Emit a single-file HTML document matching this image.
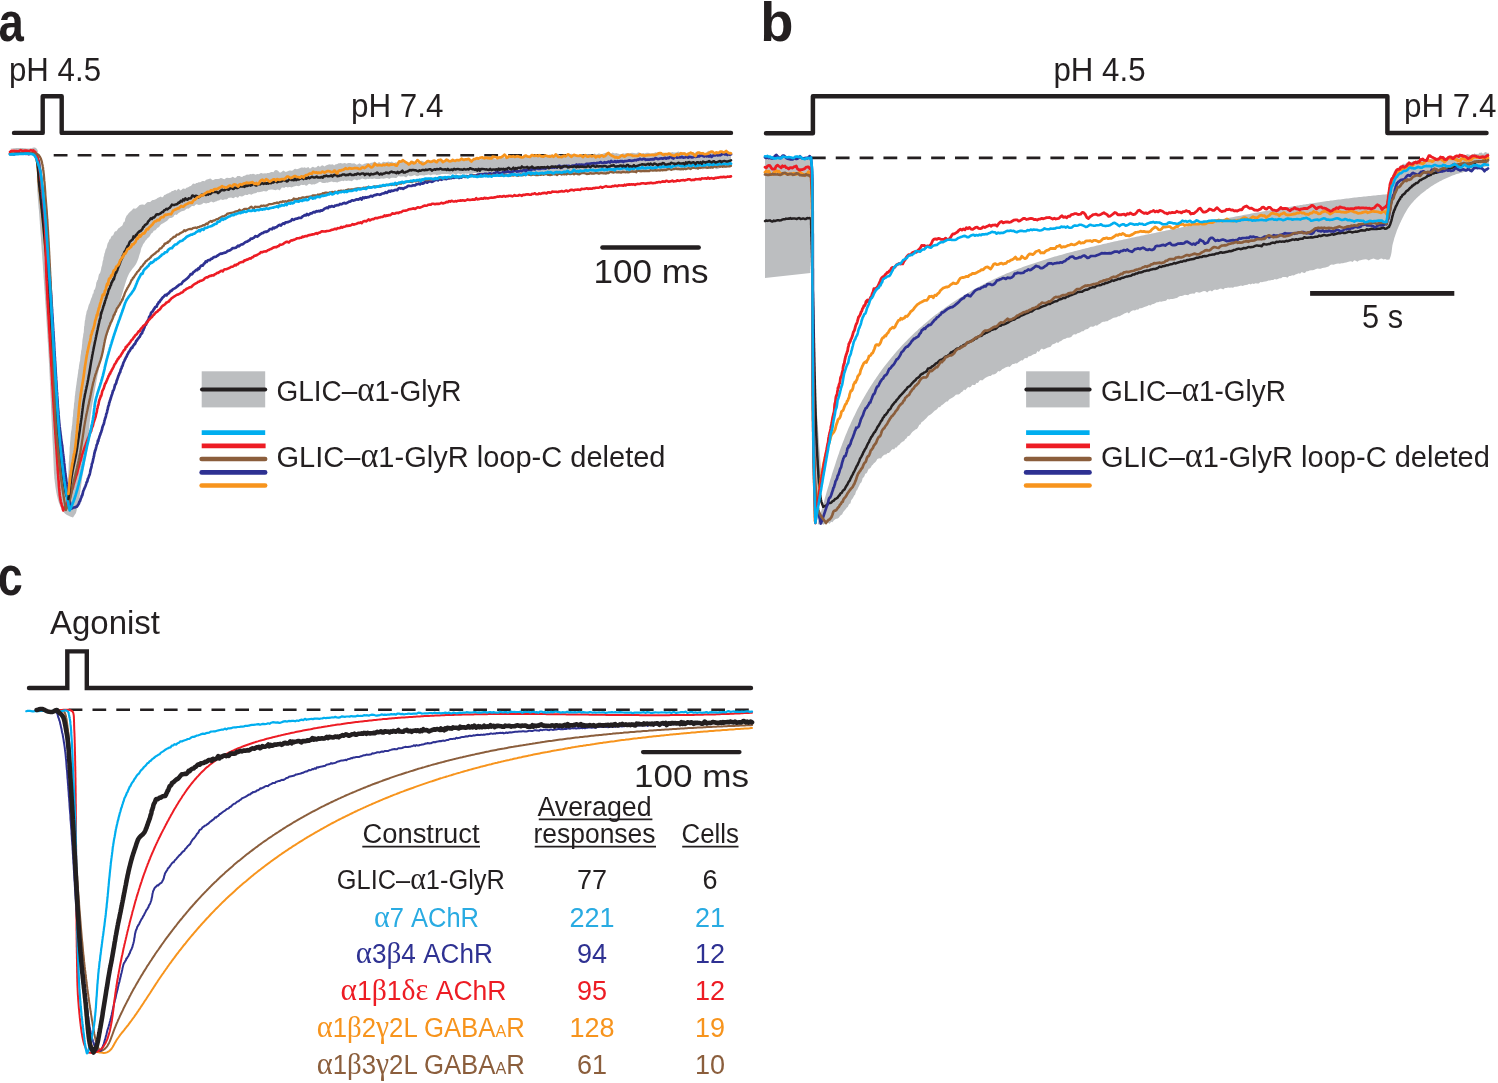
<!DOCTYPE html>
<html><head><meta charset="utf-8"><title>Figure</title>
<style>html,body{margin:0;padding:0;background:#fff;width:1498px;height:1083px;overflow:hidden}
svg{display:block;font-family:"Liberation Sans",sans-serif;will-change:transform}</style></head>
<body><svg width="1498" height="1083" viewBox="0 0 1498 1083">
<rect width="1498" height="1083" fill="#fff"/>
<line x1="53.7" y1="155.2" x2="731" y2="155.2" stroke="#231F20" stroke-width="2.6" stroke-dasharray="13.8 10.12"/>
<polygon points="10.0,148.5 11.2,148.4 12.5,148.4 13.8,148.3 15.0,148.2 16.2,148.1 17.5,148.1 18.8,148.0 20.0,148.0 21.3,148.0 22.6,148.1 23.9,148.2 25.2,148.3 26.5,148.4 27.7,148.5 28.9,148.5 30.0,148.5 31.4,148.2 32.7,147.8 33.9,147.5 35.0,147.5 36.5,148.4 37.5,150.0 37.7,150.8 37.9,151.7 37.9,152.8 37.9,153.9 37.9,155.2 37.8,156.6 37.7,157.9 37.6,159.4 37.4,160.8 37.3,162.2 37.2,163.6 37.2,165.0 37.2,166.1 37.2,167.3 37.1,168.4 37.1,169.5 37.1,170.7 37.0,171.8 37.0,173.0 37.0,174.1 37.0,175.3 36.9,176.5 36.9,177.8 36.9,179.0 36.9,180.3 36.9,181.6 37.0,182.9 37.0,184.3 37.0,185.4 37.1,186.4 37.1,187.5 37.2,188.6 37.2,189.7 37.3,190.8 37.4,192.0 37.5,193.1 37.5,194.3 37.6,195.4 37.7,196.6 37.8,197.8 37.9,199.1 38.0,200.3 38.1,201.5 38.2,202.8 38.3,204.0 38.4,205.3 38.5,206.6 38.6,207.9 38.8,209.2 38.9,210.5 39.0,211.8 39.1,213.2 39.2,214.5 39.3,215.9 39.4,217.2 39.5,218.6 39.6,220.0 39.7,221.0 39.8,222.1 39.8,223.2 39.9,224.3 40.0,225.3 40.1,226.4 40.1,227.5 40.2,228.6 40.3,229.7 40.4,230.9 40.5,232.0 40.5,233.1 40.6,234.3 40.7,235.4 40.8,236.6 40.9,237.8 41.0,238.9 41.0,240.1 41.1,241.3 41.2,242.5 41.3,243.7 41.4,244.9 41.5,246.1 41.5,247.3 41.6,248.5 41.7,249.7 41.8,250.9 41.9,252.2 42.0,253.4 42.1,254.6 42.2,255.9 42.2,257.1 42.3,258.4 42.4,259.6 42.5,260.9 42.6,262.1 42.7,263.4 42.8,264.7 42.9,265.9 42.9,267.2 43.0,268.5 43.1,269.7 43.2,271.0 43.3,272.3 43.4,273.6 43.5,274.9 43.5,276.1 43.6,277.4 43.7,278.7 43.8,280.0 43.9,281.1 43.9,282.3 44.0,283.4 44.1,284.5 44.2,285.7 44.3,286.8 44.3,288.0 44.4,289.1 44.5,290.3 44.6,291.4 44.6,292.6 44.7,293.8 44.8,295.0 44.9,296.1 44.9,297.3 45.0,298.5 45.1,299.7 45.2,300.9 45.3,302.1 45.3,303.2 45.4,304.4 45.5,305.6 45.6,306.8 45.6,308.0 45.7,309.3 45.8,310.5 45.9,311.7 46.0,312.9 46.0,314.1 46.1,315.3 46.2,316.5 46.3,317.8 46.4,319.0 46.4,320.2 46.5,321.4 46.6,322.7 46.7,323.9 46.7,325.1 46.8,326.4 46.9,327.6 47.0,328.8 47.0,330.1 47.1,331.3 47.2,332.6 47.3,333.8 47.4,335.0 47.4,336.3 47.5,337.5 47.6,338.8 47.7,340.0 47.7,341.3 47.8,342.5 47.9,343.8 48.0,345.0 48.0,346.3 48.1,347.5 48.2,348.8 48.2,350.0 48.3,351.3 48.4,352.5 48.5,353.8 48.5,355.0 48.6,356.3 48.7,357.5 48.7,358.8 48.8,360.0 48.9,361.2 48.9,362.3 49.0,363.5 49.1,364.7 49.1,365.9 49.2,367.2 49.2,368.4 49.3,369.6 49.4,370.8 49.4,372.1 49.5,373.3 49.6,374.6 49.6,375.8 49.7,377.1 49.7,378.4 49.8,379.7 49.9,380.9 49.9,382.2 50.0,383.5 50.0,384.8 50.1,386.1 50.2,387.4 50.2,388.7 50.3,390.0 50.3,391.3 50.4,392.6 50.5,393.9 50.5,395.2 50.6,396.5 50.6,397.8 50.7,399.1 50.7,400.4 50.8,401.7 50.9,403.0 50.9,404.3 51.0,405.6 51.0,406.9 51.1,408.2 51.1,409.4 51.2,410.7 51.3,412.0 51.3,413.3 51.4,414.5 51.4,415.8 51.5,417.0 51.5,418.3 51.6,419.5 51.6,420.7 51.7,422.0 51.8,423.2 51.8,424.4 51.9,425.6 51.9,426.8 52.0,428.0 52.0,429.1 52.1,430.3 52.1,431.4 52.2,432.6 52.2,433.7 52.3,434.8 52.3,435.9 52.4,437.0 52.4,438.1 52.5,439.2 52.5,440.2 52.6,441.3 52.6,442.3 52.7,443.3 52.7,444.3 52.8,445.3 52.8,446.3 52.9,447.2 52.9,448.2 53.0,449.1 53.0,450.0 53.1,451.5 53.1,453.0 53.2,454.5 53.3,455.9 53.3,457.3 53.4,458.7 53.4,460.0 53.5,461.3 53.5,462.6 53.6,463.8 53.6,465.1 53.7,466.3 53.7,467.5 53.8,468.7 53.8,469.9 53.9,471.0 53.9,472.1 54.0,473.3 54.1,474.4 54.2,475.5 54.3,476.6 54.3,477.7 54.4,478.8 54.6,479.8 54.7,480.9 54.8,482.0 55.0,483.4 55.2,484.7 55.3,486.1 55.5,487.4 55.7,488.7 55.9,490.0 56.1,491.3 56.3,492.6 56.6,493.8 56.8,495.0 57.1,496.2 57.4,497.3 57.6,498.5 57.9,499.6 58.3,500.7 58.6,501.7 59.0,503.0 59.5,504.2 60.0,505.4 60.5,506.6 61.0,507.7 61.5,508.8 62.1,509.8 62.7,510.8 63.3,511.7 64.0,512.5 64.9,513.4 65.9,514.2 67.0,514.9 68.1,515.5 69.1,516.1 70.0,516.5 71.5,517.1 73.0,517.5 76.0,513.0 76.3,511.8 76.6,510.7 76.8,509.6 77.1,508.4 77.4,507.3 77.7,506.2 77.9,505.0 78.2,503.8 78.5,502.6 78.7,501.3 79.0,500.0 79.2,499.0 79.4,497.9 79.6,496.7 79.7,495.6 79.9,494.3 80.1,493.1 80.3,491.9 80.5,490.6 80.6,489.3 80.8,488.0 81.0,486.7 81.1,485.4 81.3,484.2 81.5,482.9 81.6,481.7 81.8,480.4 82.0,479.3 82.2,478.1 82.3,477.0 82.5,476.0 82.7,474.7 83.0,473.4 83.2,472.2 83.4,471.0 83.6,469.8 83.9,468.7 84.1,467.6 84.3,466.4 84.5,465.3 84.8,464.2 85.0,463.0 85.2,461.8 85.5,460.7 85.7,459.6 85.9,458.5 86.2,457.4 86.4,456.3 86.6,455.1 86.9,453.9 87.1,452.7 87.3,451.4 87.5,450.0 87.6,449.0 87.7,448.0 87.9,447.0 88.0,445.9 88.1,444.8 88.2,443.6 88.3,442.4 88.3,441.2 88.4,440.0 88.5,438.8 88.6,437.5 88.7,436.2 88.8,435.0 88.8,433.7 88.9,432.4 89.0,431.1 89.1,429.8 89.2,428.5 89.3,427.3 89.4,426.0 89.5,424.8 89.6,423.5 89.7,422.3 89.9,421.2 90.0,420.0 90.2,418.8 90.3,417.5 90.5,416.3 90.6,415.1 90.8,413.9 91.0,412.7 91.2,411.5 91.4,410.3 91.6,409.1 91.7,408.0 91.9,406.8 92.1,405.6 92.3,404.5 92.5,403.3 92.7,402.1 93.0,400.9 93.2,399.8 93.4,398.6 93.6,397.4 93.8,396.2 94.0,395.0 94.2,393.8 94.4,392.6 94.6,391.5 94.8,390.3 95.0,389.1 95.2,387.9 95.4,386.8 95.7,385.6 95.9,384.4 96.1,383.2 96.3,382.0 96.5,380.9 96.7,379.7 97.0,378.5 97.2,377.3 97.4,376.1 97.7,374.8 97.9,373.6 98.2,372.4 98.5,371.1 98.7,369.9 99.0,368.6 99.2,367.5 99.5,366.3 99.8,365.2 100.0,364.0 100.3,362.8 100.5,361.6 100.8,360.4 101.1,359.2 101.4,358.0 101.6,356.8 101.9,355.5 102.2,354.3 102.5,353.1 102.8,351.8 103.1,350.6 103.4,349.4 103.7,348.1 104.0,346.9 104.3,345.7 104.6,344.5 105.0,343.3 105.3,342.1 105.6,340.9 105.9,339.8 106.3,338.7 106.6,337.5 106.9,336.4 107.3,335.4 107.6,334.3 108.0,333.0 108.5,331.7 108.9,330.5 109.4,329.2 109.9,328.0 110.4,326.8 110.9,325.6 111.4,324.4 111.9,323.2 112.4,322.0 112.9,320.9 113.4,319.8 113.9,318.7 114.4,317.5 114.8,316.5 115.3,315.4 115.7,314.3 116.1,313.2 116.5,312.2 116.9,310.9 117.4,309.7 117.8,308.5 118.1,307.4 118.5,306.3 118.8,305.1 119.1,304.0 119.5,302.9 119.8,301.7 120.2,300.5 120.6,299.3 121.0,298.0 121.3,296.9 121.7,295.8 122.0,294.7 122.4,293.5 122.7,292.2 123.1,291.0 123.4,289.7 123.8,288.4 124.2,287.1 124.6,285.9 125.0,284.6 125.4,283.3 125.8,282.0 126.2,280.8 126.6,279.6 127.0,278.4 127.4,277.3 127.9,276.2 128.3,275.2 128.8,274.2 129.4,273.0 130.1,271.9 130.8,270.9 131.6,269.9 132.3,269.0 133.0,268.1 133.8,267.2 134.5,266.3 135.2,265.3 135.9,264.2 136.5,263.1 137.0,262.1 137.4,261.0 137.9,259.8 138.3,258.7 138.7,257.5 139.0,256.2 139.4,254.9 139.8,253.7 140.1,253.1 140.5,251.7 140.9,249.8 141.3,248.3 141.7,247.2 142.2,246.6 142.7,245.3 143.2,244.0 143.9,243.3 144.6,242.2 145.4,240.7 146.1,240.0 146.9,239.2 147.7,238.0 148.6,237.4 149.4,236.8 150.3,235.3 151.1,233.8 152.0,233.1 152.8,232.4 153.7,230.8 154.6,230.4 155.4,230.3 156.3,229.3 157.2,228.1 158.1,227.5 159.1,226.9 160.0,225.6 161.0,224.6 162.0,223.8 162.9,223.4 163.9,222.7 164.9,222.2 165.9,221.5 166.9,220.9 167.9,220.0 169.0,218.6 170.1,218.0 171.1,217.9 172.2,217.6 173.3,216.9 174.3,215.2 175.4,214.5 176.4,214.9 177.5,214.2 178.6,212.9 179.6,212.4 180.7,211.8 181.8,211.3 182.8,210.9 183.9,210.7 185.0,210.3 186.1,209.1 187.3,208.6 188.5,208.7 189.7,207.8 190.8,207.0 191.9,206.0 193.0,206.1 194.1,206.3 195.2,204.9 196.4,204.2 197.6,204.5 198.8,205.1 200.0,204.8 201.2,204.4 202.5,203.7 203.7,202.8 205.0,203.2 206.2,203.5 207.5,202.9 208.7,202.9 210.0,202.3 211.1,201.5 212.2,201.9 213.4,202.4 214.5,201.9 215.6,201.6 216.8,201.2 217.9,200.5 219.1,200.4 220.3,199.6 221.4,199.5 222.6,200.1 223.8,199.8 225.0,199.2 226.2,199.6 227.4,198.9 228.6,197.7 229.9,197.7 231.1,197.6 232.4,198.0 233.6,198.3 234.9,197.3 236.0,196.8 237.1,197.8 238.3,197.6 239.4,196.1 240.6,196.2 241.7,196.4 242.9,196.2 244.1,195.4 245.3,194.7 246.5,194.9 247.7,195.0 248.9,194.0 250.1,194.2 251.4,194.7 252.6,194.0 253.8,193.4 255.1,193.3 256.3,192.9 257.5,192.1 258.8,192.2 260.0,191.9 261.2,191.7 262.5,191.4 263.7,191.0 264.9,191.2 266.2,191.6 267.4,191.1 268.6,189.8 269.8,189.7 271.0,189.6 272.2,189.4 273.4,189.7 274.6,190.0 275.8,190.2 277.0,189.5 278.2,189.6 279.4,190.4 280.6,189.2 281.8,187.6 283.0,187.4 284.2,188.0 285.4,187.1 286.6,186.9 287.8,187.5 289.0,187.0 290.2,187.1 291.4,187.5 292.6,187.0 293.8,186.6 295.0,186.3 296.3,185.8 297.5,185.9 298.7,186.2 299.9,185.8 301.1,184.7 302.3,185.0 303.5,185.0 304.7,184.7 305.9,185.7 307.1,185.5 308.3,184.3 309.5,183.7 310.7,184.3 311.9,184.7 313.1,184.3 314.3,184.5 315.5,184.1 316.7,183.6 317.9,183.1 319.1,182.1 320.3,181.7 321.5,182.6 322.7,182.9 323.9,183.0 325.1,182.9 326.3,182.6 327.5,182.8 328.8,182.3 330.0,181.9 331.2,181.5 332.4,181.8 333.7,182.2 334.9,181.9 336.2,182.3 337.5,182.4 338.7,181.8 340.0,181.5 341.1,181.0 342.3,180.8 343.4,181.2 344.6,180.4 345.8,180.7 346.9,181.0 348.1,180.6 349.3,180.7 350.4,180.7 351.6,181.2 352.8,180.5 354.0,179.4 355.1,179.6 356.3,180.3 357.5,180.2 358.7,179.6 359.9,179.8 361.1,179.0 362.3,178.6 363.6,179.0 364.8,179.2 366.0,179.4 367.2,178.8 368.4,178.9 369.7,178.7 370.9,178.7 372.1,178.9 373.4,178.7 374.6,178.6 375.9,179.0 377.1,179.1 378.4,178.9 379.6,179.0 380.9,178.5 382.1,178.4 383.4,178.7 384.6,178.5 385.7,178.2 386.9,177.9 388.0,178.2 389.2,179.0 390.4,178.3 391.6,177.7 392.8,177.7 394.0,177.7 395.2,177.9 396.4,177.9 397.6,176.7 398.8,176.0 400.0,176.6 401.2,176.6 402.4,176.6 403.6,176.3 404.8,176.7 406.1,177.5 407.3,176.2 408.5,175.3 409.8,176.3 411.0,176.3 412.2,176.0 413.4,175.4 414.7,175.1 415.9,175.7 417.1,176.3 418.4,176.0 419.6,175.3 420.8,175.2 422.1,175.3 423.3,175.4 424.5,175.4 425.8,174.9 427.0,174.9 428.2,174.6 429.5,174.7 430.7,175.5 431.9,174.7 433.1,174.4 434.4,174.4 435.6,174.6 436.8,175.2 438.0,174.7 439.2,174.7 440.5,174.6 441.7,174.0 442.9,173.9 444.1,174.0 445.4,174.1 446.6,174.1 447.8,174.0 449.1,174.2 450.3,174.7 451.6,174.3 452.8,173.4 454.1,173.8 455.3,174.7 456.5,174.4 457.8,173.5 459.0,173.6 460.3,174.6 461.5,173.9 462.7,173.5 464.0,174.0 465.2,173.6 466.5,173.8 467.7,173.7 468.9,173.6 470.1,174.5 471.4,174.5 472.6,173.7 473.8,173.1 475.0,172.9 476.2,172.9 477.4,173.9 478.6,174.4 479.8,173.5 481.0,173.2 482.1,173.2 483.3,173.5 484.5,173.4 485.6,174.1 486.8,174.3 487.9,173.5 489.1,173.8 490.2,174.6 491.5,174.9 492.7,174.3 494.0,173.9 495.2,174.2 496.4,174.3 497.6,174.3 498.7,173.8 499.9,173.3 501.0,173.7 502.2,173.8 503.3,174.2 504.4,174.7 505.5,173.9 506.7,173.8 507.8,174.0 508.9,174.1 510.0,174.6 511.2,174.2 512.3,173.2 513.4,173.8 514.6,174.4 515.8,174.4 516.9,174.6 518.1,174.5 519.4,174.7 520.6,174.4 521.9,174.2 523.2,174.2 524.5,173.8 525.8,174.3 527.2,174.9 528.6,174.0 530.0,173.5 531.0,174.2 531.9,175.0 532.9,174.6 533.9,174.2 534.9,173.9 535.9,174.8 537.0,175.5 538.0,174.9 539.1,175.0 540.1,175.0 541.2,174.9 542.3,174.5 543.3,174.5 544.4,174.6 545.5,174.8 546.6,174.5 547.8,173.9 548.9,174.3 550.0,174.9 551.2,174.7 552.3,174.1 553.5,173.9 554.6,174.0 555.8,174.7 557.0,175.1 558.2,174.9 559.3,174.7 560.5,174.0 561.7,174.3 562.9,175.0 564.2,174.8 565.4,174.2 566.6,174.3 567.8,174.2 569.1,174.1 570.3,173.9 571.5,173.3 572.8,173.7 574.0,174.1 575.3,174.5 576.5,174.3 577.8,173.6 579.1,173.3 580.3,172.6 581.6,172.4 582.9,173.1 584.1,173.3 585.4,173.5 586.7,174.4 588.0,173.9 589.2,173.9 590.5,174.0 591.8,173.8 593.1,173.6 594.4,173.5 595.7,173.3 597.0,173.1 598.2,173.2 599.5,172.9 600.8,173.3 602.1,173.3 603.4,173.1 604.7,173.2 606.0,173.5 607.3,172.7 608.5,172.6 609.8,173.2 611.1,172.8 612.4,172.6 613.7,172.4 614.9,172.7 616.2,173.0 617.5,172.5 618.7,172.9 620.0,172.9 621.1,172.6 622.3,172.3 623.4,171.8 624.6,171.7 625.8,171.8 626.9,172.5 628.1,172.6 629.2,172.5 630.4,172.1 631.6,171.4 632.7,171.6 633.9,172.0 635.1,172.3 636.3,172.0 637.4,172.1 638.6,172.0 639.8,171.7 641.0,172.1 642.2,171.9 643.4,171.5 644.5,172.2 645.7,172.1 646.9,171.7 648.1,171.4 649.3,171.8 650.5,171.2 651.7,170.1 652.9,170.5 654.1,171.3 655.3,171.8 656.5,171.1 657.8,170.5 659.0,170.6 660.2,171.0 661.4,170.6 662.6,170.0 663.8,169.8 665.0,170.3 666.2,170.8 667.5,170.7 668.7,170.4 669.9,169.8 671.1,169.8 672.3,170.0 673.6,169.9 674.8,170.4 676.0,170.1 677.2,169.5 678.4,170.0 679.7,170.4 680.9,169.8 682.1,168.6 683.3,168.7 684.6,169.9 685.8,170.2 687.0,169.7 688.3,169.1 689.5,169.1 690.7,169.5 691.9,169.2 693.2,168.9 694.4,168.9 695.6,169.0 696.8,168.7 698.1,168.7 699.3,169.0 700.5,168.7 701.8,169.0 703.0,169.4 704.2,168.6 705.4,168.5 706.7,169.2 707.9,168.7 709.1,168.9 710.3,169.0 711.6,168.9 712.8,168.6 714.0,167.8 715.2,168.4 716.4,169.3 717.7,169.1 718.9,168.6 720.1,168.1 721.3,167.3 722.5,167.4 723.7,168.3 725.0,167.7 726.2,166.9 727.4,166.8 728.6,167.0 729.8,167.9 731.0,167.4 731.0,151.8 729.8,152.4 728.6,152.6 727.4,151.4 726.2,150.9 725.0,150.6 723.7,151.5 722.5,152.1 721.3,152.3 720.1,153.0 718.9,152.2 717.7,151.6 716.4,152.3 715.2,152.6 714.0,152.4 712.8,151.6 711.6,151.9 710.3,152.3 709.1,150.8 707.9,151.0 706.7,152.2 705.4,153.5 704.2,153.1 703.0,151.6 701.8,152.7 700.5,153.4 699.3,152.3 698.1,151.8 696.8,151.5 695.6,152.6 694.4,153.0 693.2,152.1 691.9,152.0 690.7,153.0 689.5,152.9 688.2,152.5 687.0,152.9 685.8,152.8 684.6,152.3 683.3,152.5 682.1,153.6 680.9,153.3 679.7,152.2 678.4,151.6 677.2,152.1 676.0,152.6 674.8,152.5 673.6,152.6 672.3,152.0 671.1,152.4 669.9,153.2 668.7,152.8 667.5,152.8 666.2,153.3 665.0,153.2 663.8,152.4 662.6,153.0 661.4,153.2 660.2,152.3 659.0,151.8 657.7,152.2 656.5,152.4 655.3,152.2 654.1,152.9 652.9,153.2 651.7,153.4 650.5,153.6 649.3,153.0 648.1,152.7 646.9,152.7 645.7,153.1 644.5,153.4 643.4,152.9 642.2,153.3 641.0,153.5 639.8,153.0 638.6,152.3 637.4,152.7 636.3,153.5 635.1,153.3 633.9,153.1 632.7,152.7 631.6,152.8 630.4,153.3 629.2,153.4 628.1,153.2 626.9,153.1 625.7,153.3 624.6,153.7 623.4,153.2 622.3,153.5 621.1,154.2 620.0,154.2 618.7,153.8 617.5,153.4 616.2,153.0 614.9,153.4 613.7,153.0 612.4,152.5 611.1,153.4 609.8,154.0 608.5,154.1 607.2,153.3 606.0,152.7 604.7,152.9 603.4,153.6 602.1,154.0 600.8,153.9 599.5,153.6 598.2,153.6 597.0,154.4 595.7,154.0 594.4,153.6 593.1,154.9 591.8,155.1 590.5,154.2 589.2,154.3 588.0,154.2 586.7,153.9 585.4,155.0 584.1,155.9 582.9,154.4 581.6,153.9 580.3,155.6 579.0,155.1 577.8,154.4 576.5,155.3 575.3,155.0 574.0,154.6 572.8,154.8 571.5,153.8 570.3,154.0 569.0,154.8 567.8,155.1 566.6,156.2 565.4,156.1 564.1,155.0 562.9,154.9 561.7,155.2 560.5,155.5 559.3,154.8 558.1,153.9 557.0,153.6 555.8,154.5 554.6,155.4 553.5,154.9 552.3,154.6 551.2,154.7 550.0,154.6 548.9,154.8 547.8,155.0 546.6,155.8 545.5,156.2 544.4,155.3 543.3,154.9 542.3,155.8 541.2,156.3 540.1,156.0 539.1,156.1 538.0,156.7 537.0,155.9 535.9,154.9 534.9,154.7 533.9,155.3 532.9,155.9 531.9,155.4 531.0,155.3 530.0,156.0 528.6,156.3 527.2,155.8 525.8,156.5 524.5,156.3 523.2,155.2 521.9,156.9 520.6,157.4 519.4,156.1 518.1,155.9 516.9,156.2 515.8,156.9 514.6,157.4 513.4,157.3 512.3,156.9 511.2,156.1 510.0,156.4 508.9,157.8 507.8,158.2 506.7,157.5 505.5,157.5 504.4,157.4 503.3,157.1 502.2,156.8 501.0,156.7 499.9,157.4 498.7,157.5 497.6,157.9 496.4,158.9 495.2,159.2 494.0,158.3 492.7,157.4 491.5,157.3 490.2,157.3 489.1,157.6 487.9,158.3 486.8,158.4 485.6,158.4 484.5,158.4 483.3,158.3 482.1,158.0 481.0,158.9 479.8,159.8 478.6,158.6 477.4,157.8 476.2,158.0 475.0,158.5 473.8,159.4 472.6,159.9 471.4,159.9 470.1,160.0 468.9,160.0 467.7,159.9 466.5,159.7 465.2,159.4 464.0,158.4 462.8,158.5 461.5,160.2 460.3,160.0 459.0,159.0 457.8,159.7 456.5,160.1 455.3,159.5 454.1,160.2 452.8,160.8 451.6,160.5 450.3,160.0 449.1,159.9 447.9,160.4 446.6,160.6 445.4,161.0 444.1,161.2 442.9,160.8 441.7,160.7 440.5,160.1 439.2,160.2 438.0,161.1 436.8,160.6 435.6,160.0 434.4,160.2 433.2,160.1 431.9,160.3 430.7,161.0 429.5,160.5 428.3,160.4 427.1,161.4 425.9,161.9 424.7,161.9 423.5,161.4 422.2,160.8 421.0,160.8 419.8,161.2 418.6,162.5 417.4,162.9 416.2,162.6 415.0,162.6 413.7,161.2 412.5,160.5 411.3,161.1 410.1,161.8 408.9,162.8 407.7,162.0 406.5,161.3 405.2,161.9 404.0,161.7 402.8,161.2 401.6,161.1 400.4,161.9 399.2,161.8 398.0,161.9 396.7,162.4 395.5,162.3 394.3,163.0 393.1,162.4 391.9,161.4 390.7,161.9 389.5,161.9 388.3,161.4 387.0,161.9 385.8,162.3 384.6,161.9 383.4,161.7 382.2,162.5 381.0,163.4 379.7,162.3 378.5,162.3 377.2,163.6 376.0,162.6 374.7,161.6 373.4,162.3 372.1,162.8 370.9,162.8 369.6,163.4 368.3,163.2 367.0,162.9 365.7,163.4 364.4,163.7 363.1,164.4 361.9,164.8 360.6,164.1 359.3,163.3 358.0,164.3 356.7,164.8 355.5,164.0 354.2,163.2 352.9,163.4 351.7,163.6 350.4,163.1 349.2,162.9 348.0,163.0 346.7,163.7 345.5,163.3 344.3,162.9 343.1,163.6 342.0,163.5 340.8,163.1 339.6,163.3 338.5,163.3 337.4,164.1 336.3,164.3 335.2,164.5 334.1,165.4 333.1,164.6 332.0,164.3 331.0,164.7 330.0,164.3 328.6,164.5 327.2,165.0 325.9,165.6 324.6,166.4 323.4,165.7 322.2,165.2 321.0,166.1 319.9,167.0 318.7,165.8 317.6,166.1 316.5,167.3 315.3,167.6 314.2,167.6 313.1,166.7 312.0,167.1 310.8,168.2 309.6,168.4 308.4,166.9 307.2,167.4 306.0,167.9 304.7,167.3 303.6,167.7 302.5,167.4 301.3,167.5 300.2,168.0 299.0,168.4 297.8,169.0 296.7,169.2 295.5,168.7 294.3,168.9 293.1,170.2 291.9,170.8 290.7,170.6 289.4,170.5 288.2,171.0 287.0,171.5 285.8,172.0 284.5,171.3 283.3,170.6 282.1,171.5 280.8,172.5 279.6,172.6 278.3,171.0 277.1,170.3 275.9,170.0 274.7,170.6 273.4,172.2 272.2,172.1 271.0,172.1 269.8,172.8 268.6,172.9 267.4,172.9 266.2,173.5 265.0,173.3 263.8,173.4 262.6,173.4 261.4,172.9 260.2,173.3 259.0,174.3 257.8,174.0 256.6,174.2 255.4,174.8 254.1,174.1 252.9,173.7 251.7,174.3 250.5,174.1 249.3,174.6 248.1,174.8 246.9,174.6 245.7,175.2 244.5,175.8 243.3,176.0 242.1,177.0 240.9,176.8 239.7,176.0 238.5,175.9 237.3,176.1 236.1,177.4 234.9,177.9 233.7,177.2 232.4,176.7 231.2,177.7 229.9,178.0 228.6,178.0 227.3,177.8 226.0,178.1 224.7,179.2 223.4,178.9 222.0,178.2 220.7,178.1 219.4,178.7 218.1,179.1 216.8,179.1 215.5,179.1 214.2,179.4 212.9,180.3 211.7,179.4 210.5,178.4 209.3,178.8 208.1,179.3 206.9,179.4 205.8,180.1 204.8,181.2 203.7,181.0 202.7,180.9 201.8,181.3 200.9,181.9 200.0,182.2 198.6,182.3 197.3,182.9 196.2,183.1 195.1,183.9 194.1,183.7 193.1,183.4 192.0,184.8 190.9,185.9 189.7,186.3 188.6,187.1 187.5,187.4 186.4,187.8 185.2,189.0 183.9,188.4 182.7,188.7 181.4,190.0 180.2,190.5 178.9,188.8 177.7,189.2 176.5,190.7 175.3,189.7 174.2,190.3 173.1,190.9 171.9,191.1 170.7,192.3 169.6,192.4 168.6,193.2 167.5,193.6 166.5,193.9 165.4,194.7 164.3,195.1 163.2,196.8 162.0,197.5 160.9,196.6 159.8,197.0 158.7,197.6 157.5,198.1 156.3,199.0 155.1,199.4 153.9,199.9 152.7,200.0 151.5,200.7 150.2,201.9 149.0,201.9 147.8,201.9 146.6,202.7 145.4,203.9 144.3,204.9 143.2,204.5 142.0,204.6 140.8,204.8 139.6,204.9 138.4,206.2 137.2,207.5 136.0,208.5 134.9,208.7 133.8,208.3 132.7,209.3 131.6,210.5 130.7,211.2 129.8,212.0 128.9,212.9 128.2,213.8 127.4,214.9 126.7,215.4 126.2,216.6 125.7,217.7 125.3,218.4 124.9,220.7 124.4,221.9 123.9,221.7 123.2,223.3 122.5,225.3 121.8,226.0 120.9,226.6 120.1,227.2 119.1,227.9 118.2,228.4 117.3,230.1 116.3,231.2 115.4,231.2 114.5,232.1 113.7,234.1 112.9,235.7 112.2,235.6 111.5,236.3 110.8,237.7 110.2,239.2 109.6,239.3 109.1,240.3 108.6,242.0 108.1,242.4 107.6,243.5 107.1,245.4 106.6,247.7 106.2,248.4 105.9,248.9 105.6,249.6 105.3,250.7 104.9,252.6 104.7,252.9 104.4,253.6 104.1,255.8 103.8,256.5 103.5,257.3 103.3,259.7 103.0,260.4 102.7,261.2 102.4,263.3 102.1,265.2 101.8,265.9 101.4,267.3 101.1,269.2 100.8,270.4 100.4,272.0 100.1,272.7 99.7,273.6 99.4,273.8 99.0,274.2 98.6,275.7 98.3,277.3 97.9,279.4 97.5,279.9 97.1,280.6 96.7,282.0 96.3,282.6 96.0,285.0 95.6,286.9 95.2,288.2 94.8,289.8 94.4,289.8 94.0,289.5 93.7,292.0 93.3,293.8 92.9,293.6 92.4,295.3 92.0,297.1 91.5,297.7 91.1,298.7 90.6,300.2 90.2,301.6 89.7,303.0 89.3,304.0 88.8,304.7 88.4,306.3 88.0,307.7 87.6,309.2 87.3,310.1 86.9,310.8 86.6,311.6 86.3,313.5 86.1,314.6 85.8,315.2 85.6,316.7 85.4,317.9 85.2,319.9 85.0,320.2 84.8,321.0 84.7,322.2 84.5,324.2 84.4,326.0 84.2,325.9 84.1,327.1 83.9,329.6 83.8,331.9 83.6,333.1 83.5,333.3 83.3,333.9 83.1,336.2 83.0,337.2 82.8,337.5 82.7,338.6 82.5,339.5 82.3,341.7 82.2,343.8 82.0,344.7 81.9,345.9 81.8,347.4 81.6,349.0 81.5,349.8 81.3,350.2 81.1,351.0 81.0,352.8 80.8,354.3 80.7,354.4 80.5,355.7 80.3,357.6 80.2,359.3 80.0,361.0 79.8,361.5 79.6,361.9 79.4,363.4 79.2,364.4 79.0,365.7 78.8,367.7 78.7,369.0 78.5,369.3 78.3,370.0 78.1,372.5 77.9,373.8 77.7,374.8 77.5,376.8 77.4,377.5 77.2,378.0 77.0,379.5 76.9,380.8 76.7,381.8 76.5,383.5 76.4,384.5 76.2,385.6 76.0,387.1 75.9,387.8 75.7,389.1 75.6,390.7 75.4,391.2 75.3,392.5 75.1,394.5 75.0,395.6 74.8,396.0 74.7,397.8 74.5,400.3 74.4,401.4 74.3,402.5 74.1,402.8 74.0,404.0 73.9,405.3 73.8,407.5 73.6,408.8 73.5,409.3 73.4,410.1 73.3,410.4 73.2,412.1 73.1,414.1 73.0,415.8 72.9,416.8 72.7,416.9 72.6,418.5 72.5,420.1 72.4,421.5 72.2,424.0 72.1,424.9 72.0,425.7 71.8,426.0 71.7,427.9 71.5,429.8 71.4,430.3 71.2,431.0 71.1,431.8 70.9,432.9 70.8,434.1 70.7,435.9 70.5,437.4 70.4,439.4 70.3,440.8 70.2,441.4 70.1,442.3 70.0,444.3 69.9,445.2 69.9,446.0 69.8,446.5 69.7,446.8 69.6,449.1 69.6,450.7 69.5,453.1 69.4,455.6 69.3,454.8 69.3,454.4 69.2,456.2 69.1,458.8 69.1,460.6 69.0,461.2 68.9,461.3 68.9,462.0 68.8,462.6 68.7,463.5 68.7,466.1 68.6,468.3 68.6,468.7 68.5,469.5 68.4,472.1 68.4,473.4 68.3,473.8 68.2,475.3 68.2,476.9 68.1,477.9 68.1,478.6 68.0,479.6 68.0,481.1 67.9,482.2 67.9,484.0 67.8,485.8 67.8,486.9 67.7,488.6 67.7,490.0 67.6,490.9 67.6,491.6 67.5,492.1 66.0,492.0 65.8,490.8 65.5,489.6 65.3,488.4 65.1,487.3 64.9,486.1 64.6,485.0 64.4,483.9 64.2,482.7 63.9,481.6 63.7,480.4 63.5,479.2 63.3,478.0 63.0,476.8 62.8,475.5 62.6,474.2 62.4,472.8 62.2,471.4 62.0,470.0 61.9,469.0 61.8,468.0 61.6,467.0 61.5,466.0 61.4,465.0 61.3,464.0 61.2,462.9 61.1,461.9 61.0,460.8 60.9,459.7 60.8,458.6 60.7,457.5 60.6,456.4 60.5,455.3 60.4,454.1 60.3,453.0 60.2,451.8 60.1,450.6 60.0,449.4 59.9,448.2 59.8,447.0 59.7,445.8 59.7,444.5 59.6,443.3 59.5,442.0 59.4,440.7 59.3,439.5 59.2,438.2 59.1,436.8 59.0,435.5 59.0,434.2 58.9,432.8 58.8,431.4 58.7,430.1 58.6,428.7 58.5,427.2 58.4,425.8 58.3,424.4 58.2,422.9 58.1,421.5 58.0,420.0 57.9,419.1 57.9,418.1 57.8,417.1 57.7,416.1 57.7,415.1 57.6,414.1 57.5,413.1 57.5,412.1 57.4,411.0 57.3,410.0 57.3,408.9 57.2,407.9 57.1,406.8 57.1,405.7 57.0,404.6 56.9,403.5 56.9,402.3 56.8,401.2 56.7,400.1 56.6,398.9 56.6,397.8 56.5,396.6 56.4,395.4 56.4,394.3 56.3,393.1 56.2,391.9 56.2,390.7 56.1,389.5 56.0,388.3 55.9,387.0 55.9,385.8 55.8,384.6 55.7,383.3 55.7,382.1 55.6,380.9 55.5,379.6 55.4,378.4 55.4,377.1 55.3,375.8 55.2,374.6 55.2,373.3 55.1,372.0 55.0,370.7 54.9,369.5 54.9,368.2 54.8,366.9 54.7,365.6 54.6,364.3 54.6,363.0 54.5,361.7 54.4,360.4 54.4,359.1 54.3,357.8 54.2,356.5 54.1,355.2 54.1,353.9 54.0,352.6 53.9,351.3 53.8,350.0 53.8,348.7 53.7,347.4 53.6,346.1 53.6,344.9 53.5,343.6 53.4,342.3 53.3,341.0 53.3,339.7 53.2,338.4 53.1,337.1 53.1,335.8 53.0,334.6 52.9,333.3 52.8,332.0 52.8,330.8 52.7,329.5 52.6,328.3 52.6,327.0 52.5,325.8 52.4,324.5 52.4,323.3 52.3,322.0 52.2,320.8 52.1,319.6 52.1,318.4 52.0,317.2 51.9,316.0 51.9,314.8 51.8,313.6 51.7,312.4 51.7,311.3 51.6,310.1 51.5,308.9 51.5,307.8 51.4,306.6 51.3,305.5 51.3,304.4 51.2,303.3 51.1,302.2 51.1,301.1 51.0,300.0 50.9,298.7 50.8,297.3 50.8,296.0 50.7,294.7 50.6,293.3 50.5,292.0 50.4,290.7 50.4,289.4 50.3,288.0 50.2,286.7 50.1,285.4 50.1,284.1 50.0,282.8 49.9,281.5 49.8,280.2 49.7,278.9 49.7,277.6 49.6,276.3 49.5,275.0 49.4,273.7 49.4,272.4 49.3,271.1 49.2,269.8 49.1,268.6 49.1,267.3 49.0,266.0 48.9,264.8 48.8,263.5 48.8,262.2 48.7,261.0 48.6,259.7 48.5,258.5 48.5,257.3 48.4,256.0 48.3,254.8 48.2,253.6 48.2,252.4 48.1,251.2 48.0,250.0 47.9,248.8 47.9,247.6 47.8,246.4 47.7,245.2 47.6,244.0 47.6,242.9 47.5,241.7 47.4,240.5 47.3,239.4 47.3,238.3 47.2,237.1 47.1,236.0 47.0,234.9 47.0,233.8 46.9,232.7 46.8,231.6 46.7,230.5 46.7,229.4 46.6,228.3 46.5,227.2 46.4,226.2 46.4,225.1 46.3,224.1 46.2,223.1 46.2,222.0 46.1,221.0 46.0,220.0 45.9,218.6 45.8,217.2 45.7,215.8 45.6,214.4 45.5,213.0 45.4,211.7 45.2,210.3 45.1,209.0 45.0,207.7 44.9,206.4 44.8,205.1 44.7,203.8 44.6,202.5 44.5,201.2 44.4,200.0 44.3,198.8 44.2,197.5 44.0,196.3 43.9,195.1 43.8,194.0 43.7,192.8 43.6,191.7 43.5,190.5 43.4,189.4 43.3,188.3 43.2,187.2 43.1,186.1 43.0,185.1 42.9,184.0 42.8,183.0 42.7,182.0 42.6,181.0 42.5,180.0 42.4,178.6 42.2,177.2 42.1,175.8 42.0,174.4 41.9,173.1 41.8,171.8 41.7,170.5 41.6,169.3 41.5,168.1 41.4,167.0 41.2,165.9 41.1,164.8 40.9,163.8 40.7,162.9 40.5,162.0 40.1,160.6 39.6,159.3 39.0,158.2 38.5,157.1 38.0,156.0" fill="#BCBEC0"/>
<polyline points="10.0,154.0 11.3,154.0 12.6,153.9 14.0,153.9 15.4,153.8 16.8,153.7 18.3,153.6 19.7,153.6 21.2,153.5 22.6,153.4 24.0,153.3 25.3,153.3 26.7,153.2 27.9,153.2 29.1,153.3 30.2,153.3 31.2,153.4 32.1,153.6 32.8,153.8 33.5,154.0 34.7,154.7 35.4,155.6 36.0,157.0 36.2,157.7 36.5,158.4 36.7,159.3 36.9,160.2 37.0,161.2 37.2,162.3 37.4,163.5 37.5,164.7 37.6,166.0 37.7,167.3 37.9,168.7 38.0,170.1 38.1,171.5 38.2,172.9 38.3,174.4 38.4,175.8 38.5,177.3 38.6,178.7 38.7,180.2 38.8,181.6 39.0,183.0 39.1,184.3 39.2,185.4 39.3,186.6 39.5,187.7 39.6,188.9 39.7,190.1 39.8,191.2 40.0,192.4 40.1,193.5 40.2,194.7 40.4,195.9 40.5,197.1 40.6,198.3 40.7,199.5 40.9,200.7 41.0,201.9 41.1,203.1 41.2,204.3 41.4,205.6 41.5,206.8 41.6,208.1 41.8,209.4 41.9,210.6 42.0,211.9 42.1,213.2 42.3,214.6 42.4,215.9 42.5,217.3 42.7,218.6 42.8,220.0 42.9,221.0 43.0,222.1 43.1,223.1 43.2,224.2 43.3,225.3 43.4,226.3 43.5,227.4 43.6,228.5 43.7,229.5 43.8,230.6 43.9,231.7 44.0,232.8 44.1,233.9 44.2,235.0 44.3,236.1 44.4,237.2 44.5,238.3 44.6,239.4 44.7,240.5 44.8,241.7 44.9,242.8 45.0,244.0 45.1,245.1 45.2,246.3 45.3,247.5 45.4,248.6 45.5,249.8 45.6,251.0 45.8,252.2 45.9,253.4 46.0,254.7 46.1,255.9 46.2,257.1 46.3,258.4 46.4,259.7 46.5,260.9 46.6,262.2 46.7,263.5 46.8,264.8 46.9,266.1 47.0,267.5 47.1,268.8 47.2,270.2 47.3,271.5 47.5,272.9 47.6,274.3 47.7,275.7 47.8,277.1 47.9,278.6 48.0,280.0 48.1,281.0 48.1,281.9 48.2,282.9 48.3,283.9 48.4,285.0 48.4,286.0 48.5,287.1 48.6,288.1 48.7,289.2 48.7,290.3 48.8,291.4 48.9,292.5 49.0,293.7 49.0,294.8 49.1,296.0 49.2,297.2 49.3,298.3 49.4,299.5 49.4,300.7 49.5,301.9 49.6,303.2 49.7,304.4 49.8,305.7 49.8,306.9 49.9,308.2 50.0,309.4 50.1,310.7 50.2,312.0 50.2,313.3 50.3,314.6 50.4,315.9 50.5,317.2 50.6,318.5 50.6,319.9 50.7,321.2 50.8,322.5 50.9,323.9 51.0,325.2 51.1,326.6 51.1,328.0 51.2,329.3 51.3,330.7 51.4,332.0 51.5,333.4 51.6,334.8 51.6,336.2 51.7,337.6 51.8,338.9 51.9,340.3 52.0,341.7 52.1,343.1 52.1,344.5 52.2,345.9 52.3,347.2 52.4,348.6 52.5,350.0 52.6,351.4 52.6,352.8 52.7,354.2 52.8,355.5 52.9,356.9 53.0,358.3 53.0,359.6 53.1,361.0 53.2,362.4 53.3,363.7 53.4,365.1 53.5,366.4 53.5,367.8 53.6,369.1 53.7,370.5 53.8,371.8 53.9,373.1 53.9,374.4 54.0,375.8 54.1,377.1 54.2,378.4 54.3,379.6 54.3,380.9 54.4,382.2 54.5,383.5 54.6,384.7 54.7,386.0 54.7,387.2 54.8,388.4 54.9,389.7 55.0,390.9 55.0,392.1 55.1,393.2 55.2,394.4 55.3,395.6 55.3,396.7 55.4,397.9 55.5,399.0 55.6,400.1 55.6,401.2 55.7,402.3 55.8,403.4 55.9,404.4 55.9,405.5 56.0,406.5 56.1,407.5 56.1,408.5 56.2,409.5 56.3,410.5 56.3,411.4 56.4,412.4 56.5,413.3 56.5,414.2 56.6,415.1 56.7,415.9 56.7,416.8 56.8,417.6 56.9,418.4 56.9,419.2 57.0,420.0 57.1,421.6 57.3,423.2 57.4,424.6 57.5,426.1 57.6,427.4 57.8,428.8 57.9,430.0 58.0,431.3 58.1,432.5 58.2,433.6 58.3,434.8 58.5,435.9 58.6,437.0 58.7,438.1 58.8,439.1 58.9,440.2 59.0,441.2 59.1,442.3 59.3,443.4 59.4,444.4 59.5,445.5 59.6,446.6 59.7,447.7 59.9,448.8 60.0,450.0 60.1,451.2 60.3,452.5 60.4,453.8 60.6,455.1 60.7,456.3 60.9,457.6 61.0,458.9 61.1,460.2 61.3,461.5 61.4,462.8 61.6,464.0 61.7,465.3 61.9,466.6 62.0,467.8 62.2,469.0 62.4,470.2 62.5,471.4 62.7,472.6 62.8,473.7 63.0,474.8 63.2,475.9 63.3,477.0 63.5,478.0 63.7,479.5 64.0,481.0 64.2,482.5 64.5,484.0 64.7,485.4 65.0,486.8 65.3,488.1 65.5,489.3 65.8,490.3 66.2,491.2 66.5,492.0 67.4,493.2 68.4,494.0" fill="none" stroke="#F7941D" stroke-width="2.6" stroke-linejoin="round" stroke-linecap="round" />
<polyline points="10.0,154.0 11.3,154.0 12.6,153.9 14.0,153.9 15.4,153.8 16.8,153.7 18.3,153.6 19.7,153.6 21.2,153.5 22.6,153.4 24.0,153.3 25.3,153.3 26.7,153.2 27.9,153.2 29.1,153.3 30.2,153.3 31.2,153.4 32.1,153.6 32.8,153.8 33.5,154.0 34.7,154.7 35.4,155.6 36.0,157.0 36.2,157.7 36.5,158.4 36.7,159.3 36.9,160.2 37.0,161.2 37.2,162.3 37.4,163.5 37.5,164.7 37.6,166.0 37.7,167.3 37.9,168.7 38.0,170.1 38.1,171.5 38.2,172.9 38.3,174.4 38.4,175.8 38.5,177.3 38.6,178.7 38.7,180.2 38.8,181.6 39.0,183.0 39.1,184.3 39.2,185.4 39.3,186.6 39.5,187.7 39.6,188.9 39.7,190.1 39.8,191.2 40.0,192.4 40.1,193.5 40.2,194.7 40.4,195.9 40.5,197.1 40.6,198.3 40.7,199.5 40.9,200.7 41.0,201.9 41.1,203.1 41.2,204.3 41.4,205.6 41.5,206.8 41.6,208.1 41.8,209.4 41.9,210.6 42.0,211.9 42.1,213.2 42.3,214.6 42.4,215.9 42.5,217.3 42.7,218.6 42.8,220.0 42.9,221.0 43.0,222.1 43.1,223.1 43.2,224.2 43.3,225.3 43.4,226.3 43.5,227.4 43.6,228.5 43.7,229.5 43.8,230.6 43.9,231.7 44.0,232.8 44.1,233.9 44.2,235.0 44.3,236.1 44.4,237.2 44.5,238.3 44.6,239.4 44.7,240.5 44.8,241.7 44.9,242.8 45.0,244.0 45.1,245.1 45.2,246.3 45.3,247.5 45.4,248.6 45.5,249.8 45.6,251.0 45.8,252.2 45.9,253.4 46.0,254.7 46.1,255.9 46.2,257.1 46.3,258.4 46.4,259.7 46.5,260.9 46.6,262.2 46.7,263.5 46.8,264.8 46.9,266.1 47.0,267.5 47.1,268.8 47.2,270.2 47.3,271.5 47.5,272.9 47.6,274.3 47.7,275.7 47.8,277.1 47.9,278.6 48.0,280.0 48.1,281.0 48.1,281.9 48.2,282.9 48.3,283.9 48.4,285.0 48.4,286.0 48.5,287.1 48.6,288.1 48.7,289.2 48.7,290.3 48.8,291.4 48.9,292.5 49.0,293.7 49.0,294.8 49.1,296.0 49.2,297.2 49.3,298.3 49.4,299.5 49.4,300.7 49.5,301.9 49.6,303.2 49.7,304.4 49.8,305.7 49.8,306.9 49.9,308.2 50.0,309.4 50.1,310.7 50.2,312.0 50.2,313.3 50.3,314.6 50.4,315.9 50.5,317.2 50.6,318.5 50.6,319.9 50.7,321.2 50.8,322.5 50.9,323.9 51.0,325.2 51.1,326.6 51.1,328.0 51.2,329.3 51.3,330.7 51.4,332.0 51.5,333.4 51.6,334.8 51.6,336.2 51.7,337.6 51.8,338.9 51.9,340.3 52.0,341.7 52.1,343.1 52.1,344.5 52.2,345.9 52.3,347.2 52.4,348.6 52.5,350.0 52.6,351.4 52.6,352.8 52.7,354.2 52.8,355.5 52.9,356.9 53.0,358.3 53.0,359.6 53.1,361.0 53.2,362.4 53.3,363.7 53.4,365.1 53.5,366.4 53.5,367.8 53.6,369.1 53.7,370.5 53.8,371.8 53.9,373.1 53.9,374.4 54.0,375.8 54.1,377.1 54.2,378.4 54.3,379.6 54.3,380.9 54.4,382.2 54.5,383.5 54.6,384.7 54.7,386.0 54.7,387.2 54.8,388.4 54.9,389.7 55.0,390.9 55.0,392.1 55.1,393.2 55.2,394.4 55.3,395.6 55.3,396.7 55.4,397.9 55.5,399.0 55.6,400.1 55.6,401.2 55.7,402.3 55.8,403.4 55.9,404.4 55.9,405.5 56.0,406.5 56.1,407.5 56.1,408.5 56.2,409.5 56.3,410.5 56.3,411.4 56.4,412.4 56.5,413.3 56.5,414.2 56.6,415.1 56.7,415.9 56.7,416.8 56.8,417.6 56.9,418.4 56.9,419.2 57.0,420.0 57.1,421.6 57.3,423.1 57.4,424.6 57.5,426.0 57.6,427.4 57.8,428.7 57.9,430.0 58.0,431.2 58.1,432.4 58.2,433.6 58.3,434.7 58.5,435.8 58.6,436.9 58.7,438.0 58.8,439.1 58.9,440.1 59.0,441.2 59.1,442.2 59.3,443.3 59.4,444.4 59.5,445.4 59.6,446.5 59.7,447.7 59.9,448.8 60.0,450.0 60.1,451.2 60.3,452.4 60.4,453.7 60.5,454.9 60.7,456.2 60.8,457.4 60.9,458.7 61.1,459.9 61.2,461.2 61.3,462.5 61.5,463.7 61.6,465.0 61.7,466.2 61.9,467.5 62.0,468.7 62.2,469.9 62.3,471.1 62.5,472.3 62.6,473.5 62.7,474.6 62.9,475.7 63.0,476.8 63.2,477.9 63.3,479.0 63.5,480.0 63.7,481.4 63.9,482.9 64.1,484.3 64.3,485.7 64.6,487.1 64.8,488.5 65.0,489.8 65.2,491.0 65.5,492.2 65.7,493.3 66.0,494.3 66.2,495.2 66.5,496.0 67.4,497.7 68.4,499.0" fill="none" stroke="#231F20" stroke-width="2.4" stroke-linejoin="round" stroke-linecap="round" />
<polyline points="10.0,153.9 11.2,153.8 12.5,154.0 13.8,154.4 15.2,153.8 16.6,153.6 17.9,153.1 19.3,153.5 20.7,153.5 22.1,153.0 23.5,153.2 24.8,153.5 26.1,153.9 27.4,153.1 28.5,154.2 29.7,153.7 30.7,153.7 31.7,153.7 32.6,153.6 33.3,153.5 34.0,154.0 35.3,154.8 36.2,155.8 37.0,157.7 37.4,158.7 37.7,158.9 38.1,160.1 38.3,160.5 38.6,161.1 38.9,163.1 39.1,164.6 39.3,166.4 39.5,168.3 39.8,168.7 40.0,170.6 40.2,171.5 40.3,172.0 40.4,173.3 40.6,174.1 40.7,175.7 40.8,175.6 40.9,176.1 41.1,178.3 41.2,179.7 41.3,180.9 41.4,181.3 41.5,183.0 41.6,183.6 41.7,185.5 41.8,186.0 41.9,187.2 42.0,189.3 42.1,189.7 42.3,190.9 42.4,193.3 42.5,194.3 42.6,194.6 42.7,197.6 42.9,198.0 43.0,199.8 43.1,200.9 43.2,202.8 43.3,202.8 43.4,204.2 43.4,204.7 43.5,206.0 43.6,206.1 43.7,207.8 43.8,208.5 43.9,209.4 44.0,211.0 44.1,212.4 44.2,213.2 44.3,213.9 44.4,215.5 44.5,215.7 44.6,217.5 44.7,218.7 44.8,219.6 44.9,220.6 45.0,221.9 45.1,222.8 45.3,224.1 45.4,225.7 45.5,225.7 45.6,228.3 45.7,229.1 45.8,230.2 45.9,230.9 46.0,232.3 46.1,233.5 46.2,235.3 46.3,236.5 46.5,238.0 46.6,238.8 46.7,239.1 46.8,240.8 46.9,242.4 47.0,243.9 47.1,244.4 47.2,246.3 47.4,247.7 47.5,248.7 47.6,250.2 47.7,252.6 47.8,252.9 47.9,255.1 48.0,255.7 48.1,256.6 48.3,258.5 48.4,259.4 48.5,260.9 48.6,261.2 48.7,263.7 48.8,264.7 48.9,266.8 49.0,267.7 49.1,268.8 49.3,269.9 49.4,271.8 49.5,273.0 49.6,274.1 49.7,276.7 49.8,277.2 49.9,279.0 50.0,280.7 50.1,281.2 50.2,282.4 50.2,283.4 50.3,284.7 50.4,285.6 50.5,286.7 50.6,287.6 50.6,288.5 50.7,289.7 50.8,290.7 50.9,292.3 51.0,293.9 51.0,294.1 51.1,295.5 51.2,296.5 51.3,298.1 51.3,299.8 51.4,300.5 51.5,302.0 51.6,302.1 51.7,304.3 51.7,305.8 51.8,306.6 51.9,307.4 52.0,309.7 52.1,310.7 52.1,312.9 52.2,313.1 52.3,314.6 52.4,315.8 52.5,317.4 52.6,317.8 52.6,320.6 52.7,321.6 52.8,322.5 52.9,323.8 53.0,325.6 53.0,326.8 53.1,327.9 53.2,329.3 53.3,330.9 53.4,331.9 53.4,333.3 53.5,334.7 53.6,336.1 53.7,337.0 53.8,338.5 53.8,340.5 53.9,342.0 54.0,343.0 54.1,342.8 54.1,345.1 54.2,347.4 54.3,349.3 54.4,350.4 54.5,351.2 54.5,352.5 54.6,353.8 54.7,356.1 54.8,356.8 54.9,357.7 54.9,359.8 55.0,361.1 55.1,361.2 55.2,363.2 55.3,365.2 55.3,366.5 55.4,366.9 55.5,368.8 55.6,370.5 55.6,371.5 55.7,372.2 55.8,373.9 55.9,375.6 56.0,376.8 56.0,377.4 56.1,380.1 56.2,380.5 56.3,380.9 56.3,382.7 56.4,382.9 56.5,385.0 56.6,386.5 56.6,388.8 56.7,389.0 56.8,390.3 56.9,391.7 57.0,392.6 57.0,393.4 57.1,395.4 57.2,396.2 57.3,397.8 57.3,398.7 57.4,398.9 57.5,400.2 57.6,401.3 57.6,402.4 57.7,403.8 57.8,404.6 57.8,405.3 57.9,407.3 58.0,408.3 58.1,408.7 58.1,409.2 58.2,410.3 58.3,411.2 58.4,412.1 58.4,412.9 58.5,414.4 58.6,415.3 58.6,416.2 58.7,416.4 58.8,417.8 58.9,419.3 58.9,419.4 59.0,419.8 59.2,422.8 59.3,423.3 59.4,424.4 59.6,426.5 59.7,427.1 59.9,428.6 60.0,430.4 60.2,431.0 60.3,431.8 60.5,433.9 60.6,435.1 60.7,435.2 60.9,436.7 61.0,438.4 61.2,439.1 61.3,440.4 61.4,441.1 61.6,441.9 61.7,443.0 61.9,444.2 62.0,445.5 62.2,445.3 62.3,446.8 62.5,448.8 62.6,450.3 62.7,451.0 62.9,452.5 63.0,453.2 63.2,454.3 63.3,456.2 63.5,457.4 63.6,458.4 63.8,459.3 63.9,461.2 64.0,462.4 64.2,463.5 64.3,464.8 64.5,466.0 64.6,467.6 64.8,468.8 64.9,470.7 65.1,471.7 65.2,472.3 65.4,473.1 65.5,475.1 65.7,475.8 65.8,477.9 66.0,477.8 66.2,479.5 66.3,481.5 66.5,482.0 66.7,483.6 66.9,484.8 67.1,485.6 67.3,487.4 67.5,487.9 67.7,489.4 67.9,491.7 68.1,491.9 68.3,493.3 68.5,493.9 68.7,496.2 68.9,496.4 69.1,497.6 69.3,498.9 69.5,500.0 69.7,500.9 70.0,502.6 70.2,503.8 70.4,505.1 70.6,506.0 70.8,507.2 71.0,508.7 72.2,508.3 73.4,507.5 74.7,507.5 75.8,506.8 76.8,506.7 77.6,505.6 78.3,504.5 78.9,503.5 79.5,501.5 80.1,501.0 80.5,499.5 80.9,498.2 81.4,497.4 81.8,495.6 82.2,495.6 82.7,493.7 83.1,491.6 83.5,490.5 84.0,489.5 84.4,488.3 84.8,487.5 85.2,486.6 85.7,485.4 86.1,484.1 86.6,482.3 87.0,482.1 87.4,481.0 87.9,478.5 88.3,478.0 88.7,476.9 89.1,475.6 89.4,475.2 89.8,473.8 90.1,472.5 90.4,470.7 90.7,469.2 91.0,468.5 91.3,467.3 91.6,466.0 91.8,464.3 92.1,463.4 92.4,462.7 92.7,461.8 93.0,460.2 93.2,459.1 93.5,458.0 93.7,456.8 94.0,456.1 94.3,453.9 94.6,452.9 95.0,450.7 95.2,450.9 95.5,449.8 95.8,448.9 96.1,447.4 96.4,446.3 96.8,444.6 97.1,444.2 97.5,443.5 97.9,440.5 98.3,441.3 98.7,438.9 99.1,438.2 99.5,436.4 99.9,435.4 100.3,434.6 100.7,432.9 101.1,432.5 101.6,430.5 102.0,429.5 102.3,427.7 102.7,426.5 103.1,425.4 103.5,424.6 103.8,424.0 104.2,422.1 104.5,420.5 104.8,419.7 105.2,418.1 105.5,417.6 105.9,416.1 106.2,414.4 106.5,413.5 106.8,412.9 107.1,411.6 107.4,409.9 107.7,409.4 107.9,408.1 108.2,406.5 108.5,405.7 108.9,405.2 109.2,402.7 109.5,402.5 109.9,400.7 110.3,399.9 110.6,398.7 111.0,397.5 111.4,396.1 111.7,395.1 112.1,394.2 112.5,392.9 112.9,390.9 113.3,390.6 113.7,389.8 114.2,388.4 114.6,386.9 115.0,384.8 115.4,384.7 115.9,383.6 116.3,382.7 116.7,380.5 117.2,379.7 117.6,378.4 118.0,377.3 118.5,375.5 118.9,374.9 119.3,373.7 119.7,372.6 120.2,372.3 120.6,370.1 121.0,369.0 121.5,368.5 121.9,366.6 122.4,366.2 122.8,364.8 123.3,363.1 123.8,361.9 124.3,361.1 124.8,359.8 125.4,358.8 125.9,357.4 126.5,356.8 127.1,355.2 127.6,354.2 128.2,353.3 128.8,351.8 129.5,351.2 130.1,350.3 130.8,348.7 131.5,347.6 132.2,347.9 132.9,346.2 133.6,345.3 134.3,344.1 135.0,344.1 135.7,342.3 136.4,340.6 137.0,340.6 137.7,338.9 138.4,338.5 139.0,337.3 139.7,336.9 140.3,335.5 140.9,334.1 141.5,333.8 142.1,333.3 142.7,330.7 143.3,330.3 143.8,328.8 144.4,327.7 144.9,325.8 145.5,324.8 146.0,324.7 146.6,323.0 147.1,321.5 147.6,321.4 148.1,320.0 148.7,318.7 149.2,316.9 149.8,316.2 150.3,315.8 150.9,313.3 151.4,312.5 152.0,311.8 152.7,311.5 153.3,310.1 154.0,309.2 154.7,308.0 155.3,307.0 156.0,306.5 156.7,306.6 157.4,304.3 158.1,303.7 158.8,302.1 159.5,302.0 160.3,300.5 161.1,299.6 162.0,298.4 162.8,297.4 163.7,296.7 164.6,295.7 165.5,294.8 166.5,295.4 167.4,294.0 168.4,293.5 169.4,292.5 170.5,290.9 171.5,290.8 172.5,289.6 173.6,288.9 174.6,288.4 175.6,287.8 176.6,286.9 177.6,286.2 178.6,285.2 179.5,284.5 180.5,284.3 181.4,283.9 182.3,282.6 183.3,281.2 184.2,280.7 185.1,280.1 186.1,279.3 187.0,278.6 187.9,277.8 188.9,276.6 189.8,275.5 190.7,274.1 191.6,274.5 192.6,273.5 193.5,272.0 194.4,271.7 195.3,270.7 196.3,269.9 197.3,270.1 198.2,268.3 199.1,268.8 200.1,266.9 201.0,265.8 201.9,265.4 202.8,265.7 203.8,263.8 204.7,263.3 205.7,261.4 206.7,261.9 207.8,260.3 208.9,260.2 210.0,260.1 211.0,258.8 212.0,258.7 213.0,257.7 214.0,257.1 215.1,256.9 216.1,256.7 217.2,255.8 218.3,255.2 219.4,254.3 220.6,253.5 221.7,253.8 222.9,253.2 224.1,252.9 225.2,252.7 226.4,252.1 227.6,250.8 228.8,250.8 230.0,250.3 231.2,249.5 232.5,248.1 233.7,248.1 234.9,247.9 235.9,247.7 236.9,246.7 238.0,245.7 239.0,246.4 240.0,245.3 241.1,244.5 242.1,244.4 243.2,243.9 244.3,243.0 245.4,242.2 246.5,241.6 247.5,241.6 248.6,240.6 249.7,240.3 250.8,238.6 252.0,238.7 253.1,238.1 254.2,237.5 255.3,236.2 256.4,236.3 257.5,236.6 258.7,235.5 259.8,234.5 260.9,233.8 262.0,233.0 263.1,233.1 264.2,232.1 265.4,231.7 266.5,231.8 267.6,231.2 268.7,230.6 269.8,229.0 270.9,229.0 272.0,229.3 273.1,227.7 274.3,228.3 275.4,227.3 276.5,227.2 277.6,226.1 278.7,225.3 279.9,224.9 281.0,225.5 282.1,224.2 283.2,223.3 284.3,223.8 285.5,222.3 286.6,222.4 287.7,222.2 288.8,221.7 290.0,221.3 291.1,220.7 292.2,219.1 293.4,219.9 294.5,219.4 295.6,218.8 296.8,218.7 297.9,218.4 299.0,217.8 300.2,217.9 301.3,217.8 302.4,216.5 303.6,215.8 304.7,215.0 305.9,215.4 307.0,214.0 308.2,215.1 309.3,214.4 310.5,213.3 311.7,213.5 312.8,212.4 314.0,211.9 315.1,212.4 316.3,211.2 317.4,211.4 318.6,210.9 319.7,211.3 320.9,210.4 322.1,210.6 323.2,209.9 324.4,208.8 325.6,208.3 326.7,207.5 327.9,208.1 329.1,206.5 330.3,207.0 331.5,206.0 332.7,206.4 333.9,206.7 335.1,205.6 336.3,205.4 337.5,205.1 338.8,205.1 340.0,203.9 341.1,204.3 342.2,203.9 343.3,203.2 344.5,202.9 345.6,203.5 346.7,203.0 347.8,202.5 349.0,201.7 350.1,201.6 351.3,200.8 352.4,200.3 353.6,200.6 354.7,200.2 355.9,199.6 357.0,199.3 358.2,199.7 359.4,199.0 360.5,198.2 361.7,199.5 362.9,197.5 364.1,198.1 365.2,197.2 366.4,197.7 367.6,197.1 368.8,197.2 370.0,196.4 371.2,195.8 372.4,196.5 373.6,195.5 374.8,195.1 376.0,194.9 377.3,194.3 378.5,194.5 379.7,194.8 380.9,194.4 382.2,193.5 383.4,193.4 384.5,193.1 385.7,192.2 386.8,192.9 387.9,192.0 389.1,190.8 390.2,191.6 391.4,190.6 392.5,190.9 393.7,190.7 394.9,190.0 396.0,189.9 397.2,190.1 398.4,188.6 399.6,188.1 400.8,188.6 401.9,188.2 403.1,188.9 404.3,188.1 405.5,187.6 406.7,187.0 407.9,185.9 409.1,185.9 410.3,186.0 411.5,186.0 412.7,185.4 413.9,185.4 415.1,185.3 416.3,184.4 417.5,184.2 418.8,183.7 420.0,184.4 421.2,182.7 422.4,183.6 423.6,183.4 424.8,181.9 426.0,182.3 427.2,182.7 428.4,181.6 429.6,181.5 430.8,181.5 432.0,181.9 433.2,181.3 434.4,180.5 435.6,180.0 436.8,179.7 438.0,180.3 439.2,178.9 440.4,179.5 441.7,179.8 442.9,178.8 444.1,179.0 445.3,178.9 446.6,179.1 447.8,178.0 449.1,178.4 450.3,178.2 451.5,178.1 452.8,177.2 454.0,177.9 455.3,177.2 456.5,177.3 457.7,176.9 459.0,178.0 460.2,177.0 461.5,177.7 462.7,176.4 464.0,176.4 465.2,177.0 466.4,176.1 467.7,176.3 468.9,176.5 470.1,175.6 471.3,175.4 472.6,175.4 473.8,175.9 475.0,175.5 476.2,175.7 477.4,174.9 478.6,174.7 479.8,174.3 481.0,174.5 482.1,174.3 483.3,174.4 484.5,173.9 485.6,173.8 486.8,173.9 487.9,174.3 489.1,173.6 490.2,173.4 491.5,174.0 492.7,174.0 494.0,173.1 495.2,173.0 496.4,172.2 497.6,172.1 498.7,172.7 499.9,173.2 501.0,173.3 502.2,172.7 503.3,172.0 504.4,172.4 505.5,171.4 506.7,171.9 507.8,171.3 508.9,171.7 510.0,172.2 511.2,172.4 512.3,171.5 513.4,171.4 514.6,170.4 515.8,170.7 516.9,171.6 518.1,171.3 519.4,171.1 520.6,170.8 521.9,171.2 523.2,170.2 524.5,170.1 525.8,171.3 527.2,169.5 528.6,170.0 530.0,169.5 531.0,170.2 531.9,169.3 532.9,169.2 533.9,169.1 534.9,169.5 535.9,168.6 537.0,168.3 538.0,168.8 539.1,168.6 540.1,168.9 541.2,168.4 542.3,168.2 543.3,168.5 544.4,168.4 545.5,168.6 546.6,168.0 547.8,167.1 548.9,167.8 550.0,167.7 551.2,167.5 552.3,167.7 553.5,167.2 554.6,167.7 555.8,166.9 557.0,167.6 558.1,166.3 559.3,165.7 560.5,166.2 561.7,167.8 562.9,166.2 564.1,166.2 565.4,166.2 566.6,165.8 567.8,166.0 569.0,165.8 570.3,166.6 571.5,166.1 572.8,165.5 574.0,165.6 575.3,165.4 576.5,164.5 577.8,165.4 579.0,164.5 580.3,165.0 581.6,164.6 582.8,164.8 584.1,164.9 585.4,164.5 586.7,163.8 588.0,163.8 589.2,164.1 590.5,163.5 591.8,163.4 593.1,163.4 594.4,163.2 595.7,163.5 596.9,162.9 598.2,163.0 599.5,162.6 600.8,162.0 602.1,163.0 603.4,163.0 604.7,162.2 606.0,162.7 607.2,162.4 608.5,161.6 609.8,162.5 611.1,161.0 612.4,161.8 613.6,162.0 614.9,161.1 616.2,162.2 617.5,161.1 618.7,161.8 620.0,161.1 621.1,161.4 622.3,161.0 623.4,162.0 624.6,161.0 625.7,161.2 626.9,161.0 628.1,160.7 629.2,160.4 630.4,160.6 631.6,160.8 632.7,160.7 633.9,160.4 635.1,160.0 636.2,160.3 637.4,159.5 638.6,159.8 639.8,158.8 641.0,159.4 642.2,159.5 643.3,158.9 644.5,158.9 645.7,159.8 646.9,159.5 648.1,159.7 649.3,159.7 650.5,159.4 651.7,159.4 652.9,159.1 654.1,159.4 655.3,158.1 656.5,158.6 657.7,159.1 658.9,158.9 660.2,158.5 661.4,158.3 662.6,158.7 663.8,158.2 665.0,157.7 666.2,158.7 667.4,157.9 668.7,158.1 669.9,157.2 671.1,156.7 672.3,158.0 673.5,158.5 674.8,156.6 676.0,157.3 677.2,157.7 678.4,157.5 679.7,157.4 680.9,157.3 682.1,156.8 683.3,157.6 684.6,157.5 685.8,157.2 687.0,155.9 688.2,157.6 689.5,156.8 690.7,157.0 691.9,157.5 693.2,157.2 694.4,156.5 695.6,156.9 696.8,156.7 698.1,156.1 699.3,156.3 700.5,155.4 701.7,155.4 703.0,156.1 704.2,156.6 705.4,155.5 706.7,156.4 707.9,155.8 709.1,156.5 710.3,155.5 711.5,156.9 712.8,155.7 714.0,155.3 715.2,155.5 716.4,154.5 717.7,155.4 718.9,155.0 720.1,155.3 721.3,154.8 722.5,153.7 723.7,153.7 725.0,154.5 726.2,154.1 727.4,155.0 728.6,154.1 729.8,154.7 731.0,154.3" fill="none" stroke="#2E3192" stroke-width="2.7" stroke-linejoin="round" stroke-linecap="round" />
<polyline points="10.0,151.9 11.2,150.9 12.5,150.9 13.8,150.7 15.2,151.1 16.6,151.1 18.0,151.2 19.4,150.7 20.8,150.1 22.2,150.8 23.6,150.9 24.9,150.6 26.2,150.5 27.5,150.7 28.7,151.0 29.8,150.6 30.8,150.1 31.8,150.6 32.6,150.8 33.4,150.4 34.0,151.6 35.2,151.8 35.9,153.1 36.5,154.1 36.9,154.9 37.2,156.6 37.5,157.0 37.7,158.3 38.0,160.1 38.2,161.2 38.4,161.9 38.5,162.6 38.7,164.3 38.9,165.4 39.1,167.1 39.3,167.6 39.5,169.0 39.7,170.0 39.9,171.0 40.1,173.0 40.3,174.6 40.5,175.4 40.6,176.9 40.8,178.2 41.0,180.5 41.1,180.8 41.3,182.3 41.4,182.9 41.5,184.3 41.7,185.1 41.8,185.6 41.9,187.6 42.0,188.8 42.2,189.0 42.3,190.9 42.4,191.9 42.6,192.9 42.7,194.3 42.8,194.9 42.9,196.9 43.1,198.4 43.2,198.8 43.3,200.5 43.4,202.2 43.6,203.1 43.7,204.1 43.8,205.3 43.9,206.9 44.0,208.2 44.1,209.8 44.2,210.3 44.3,212.6 44.4,213.5 44.5,215.2 44.6,215.8 44.6,216.6 44.7,217.9 44.7,218.8 44.8,220.1 44.9,221.6 44.9,222.8 45.0,223.6 45.0,224.5 45.1,225.6 45.1,227.1 45.1,228.4 45.2,229.1 45.2,230.3 45.3,231.3 45.3,232.8 45.3,234.2 45.4,234.1 45.4,236.4 45.4,237.3 45.5,237.9 45.5,240.0 45.5,241.1 45.6,242.5 45.6,243.1 45.6,245.6 45.6,246.1 45.7,247.2 45.7,249.1 45.7,250.1 45.8,251.4 45.8,252.8 45.8,252.9 45.8,255.5 45.9,256.0 45.9,257.5 45.9,259.0 46.0,259.7 46.0,261.3 46.0,262.7 46.0,263.7 46.1,265.2 46.1,265.7 46.2,267.1 46.2,268.4 46.2,270.2 46.3,272.6 46.3,272.7 46.4,273.8 46.4,275.0 46.4,276.6 46.5,277.8 46.5,278.4 46.6,280.4 46.7,281.2 46.7,282.7 46.8,282.9 46.8,284.2 46.9,286.2 46.9,286.5 47.0,288.5 47.0,289.6 47.1,290.8 47.2,292.0 47.2,293.2 47.3,294.5 47.4,295.4 47.4,296.7 47.5,298.9 47.5,299.5 47.6,300.5 47.7,301.7 47.7,302.5 47.8,304.0 47.9,305.1 47.9,306.7 48.0,307.3 48.1,308.0 48.2,309.8 48.2,311.4 48.3,313.3 48.4,314.0 48.4,314.5 48.5,316.0 48.6,316.9 48.6,318.4 48.7,319.4 48.8,320.3 48.9,322.3 48.9,323.4 49.0,324.5 49.1,325.9 49.2,327.7 49.2,328.2 49.3,329.3 49.4,330.9 49.4,331.3 49.5,333.3 49.6,334.0 49.7,335.2 49.7,336.7 49.8,338.5 49.9,338.9 49.9,340.7 50.0,341.7 50.1,342.3 50.2,344.3 50.2,344.9 50.3,345.9 50.4,347.3 50.4,348.5 50.5,350.2 50.6,351.0 50.6,353.0 50.7,353.7 50.8,354.6 50.8,355.8 50.9,357.5 51.0,357.9 51.1,359.1 51.1,360.8 51.2,362.6 51.3,363.8 51.3,365.0 51.4,366.2 51.5,366.8 51.6,368.7 51.6,369.5 51.7,371.7 51.8,372.7 51.8,374.0 51.9,375.4 52.0,376.7 52.1,377.9 52.1,379.3 52.2,380.2 52.3,381.3 52.3,383.1 52.4,384.8 52.5,385.9 52.6,386.8 52.6,388.3 52.7,389.2 52.8,390.7 52.9,391.7 52.9,393.2 53.0,395.1 53.1,395.9 53.1,397.3 53.2,397.8 53.3,399.0 53.3,400.4 53.4,401.8 53.5,402.7 53.5,404.3 53.6,404.9 53.7,406.8 53.7,407.8 53.8,408.2 53.9,409.9 53.9,410.7 54.0,412.2 54.1,412.7 54.1,414.1 54.2,415.2 54.3,415.1 54.3,416.4 54.4,418.1 54.4,419.0 54.5,420.4 54.6,421.5 54.7,422.4 54.8,424.3 54.8,425.2 54.9,426.7 55.0,427.9 55.1,429.4 55.2,430.0 55.3,431.3 55.3,432.1 55.4,434.8 55.5,434.8 55.6,436.0 55.6,437.0 55.7,438.3 55.8,439.5 55.9,441.0 55.9,441.9 56.0,443.1 56.1,443.9 56.2,445.2 56.3,446.9 56.3,447.6 56.4,448.9 56.5,449.3 56.6,451.4 56.7,452.6 56.7,454.2 56.8,454.0 56.9,456.3 57.0,457.5 57.1,458.9 57.2,459.9 57.2,461.5 57.3,463.0 57.4,464.1 57.5,465.3 57.6,466.6 57.7,467.8 57.7,469.3 57.8,470.3 57.9,471.1 58.0,473.5 58.1,473.6 58.2,475.4 58.3,476.2 58.3,477.7 58.4,478.7 58.5,480.1 58.6,480.9 58.7,481.8 58.8,483.8 58.9,485.6 59.0,486.6 59.1,487.9 59.2,488.8 59.4,490.5 59.5,491.9 59.6,492.8 59.7,494.6 59.8,495.4 60.0,496.7 60.1,497.6 60.3,498.7 60.5,500.1 60.8,501.6 61.1,502.9 61.5,503.7 61.8,505.1 62.2,506.6 62.6,507.2 62.9,509.5 63.3,510.5 63.9,509.1 64.6,507.6 65.2,506.9 65.8,505.2 66.4,504.8 67.0,503.1 67.6,501.3 68.0,501.1 68.5,499.7 69.1,498.3 69.4,497.6 69.7,496.8 70.0,496.0 70.4,495.1 70.7,493.9 71.1,492.4 71.5,491.0 71.9,489.9 72.3,489.1 72.7,487.9 73.1,486.9 73.5,484.5 73.9,483.7 74.3,482.2 74.7,480.8 75.1,479.7 75.5,478.3 75.8,477.0 76.2,475.7 76.6,474.8 76.9,473.9 77.2,472.9 77.6,471.0 77.9,469.6 78.2,468.8 78.5,467.4 78.8,466.9 79.1,465.1 79.5,464.2 79.8,462.6 80.1,461.7 80.5,460.7 80.8,460.0 81.2,458.0 81.5,457.1 81.9,455.0 82.3,454.0 82.7,452.9 83.0,452.0 83.4,451.2 83.8,450.2 84.2,448.3 84.6,447.9 85.0,446.2 85.4,446.0 85.8,444.3 86.3,443.1 86.7,441.8 87.2,440.6 87.6,439.4 88.1,438.0 88.6,437.3 89.0,435.9 89.5,434.9 89.9,433.4 90.4,432.4 90.8,430.8 91.2,431.1 91.7,428.4 92.1,427.4 92.5,426.7 92.9,425.7 93.3,423.9 93.6,422.5 94.0,421.5 94.3,420.6 94.6,419.7 95.0,418.6 95.3,417.7 95.7,416.5 96.0,414.6 96.2,413.8 96.5,412.8 96.8,411.8 97.0,410.1 97.2,408.7 97.5,408.1 97.7,407.2 98.0,405.4 98.3,405.1 98.6,403.8 98.9,401.9 99.3,400.2 99.7,399.4 100.0,398.4 100.4,397.5 100.8,395.6 101.2,395.9 101.6,394.6 102.0,392.4 102.4,390.8 102.8,390.2 103.2,389.3 103.7,388.4 104.1,387.0 104.6,385.5 105.1,383.7 105.6,383.4 106.1,382.3 106.6,380.8 107.1,379.8 107.6,378.6 108.1,377.4 108.6,376.0 109.1,375.5 109.6,373.8 110.2,373.7 110.7,371.9 111.3,371.3 111.8,369.8 112.4,369.1 113.0,367.9 113.5,367.1 114.1,365.6 114.7,364.2 115.3,363.6 115.9,362.6 116.6,361.1 117.2,360.4 117.8,359.0 118.5,358.6 119.1,357.4 119.8,356.5 120.4,356.4 121.1,354.6 121.8,353.7 122.4,352.8 123.1,351.5 123.8,350.4 124.5,349.9 125.2,349.0 125.9,346.7 126.7,346.7 127.4,345.6 128.1,344.6 128.9,344.2 129.6,342.7 130.3,342.2 131.1,340.7 131.9,339.8 132.6,339.3 133.4,337.8 134.2,337.1 134.9,335.8 135.7,334.9 136.5,334.5 137.3,333.5 138.1,332.0 138.9,331.0 139.7,331.3 140.5,329.3 141.4,328.2 142.2,327.7 143.0,326.3 143.9,325.5 144.8,324.9 145.6,324.0 146.5,322.6 147.3,322.2 148.2,320.8 149.0,319.8 149.9,319.0 150.7,318.0 151.6,317.3 152.4,316.4 153.2,315.2 154.0,314.6 154.8,313.6 155.6,312.8 156.4,312.1 157.3,311.6 158.3,310.4 159.2,309.8 160.1,309.1 161.0,307.7 161.8,306.6 162.7,305.7 163.6,305.3 164.4,304.7 165.3,304.2 166.2,302.5 167.1,302.5 168.0,301.8 168.9,301.5 169.8,300.0 170.8,299.2 171.8,298.0 172.8,297.6 173.8,296.8 174.8,296.1 175.8,295.5 176.9,294.7 177.9,294.6 178.9,294.1 180.0,293.6 181.0,292.7 182.1,292.4 183.1,291.8 184.2,290.2 185.2,290.0 186.3,289.0 187.4,288.4 188.4,288.1 189.5,287.3 190.6,287.2 191.7,286.7 192.8,285.4 193.9,284.5 194.9,283.9 196.0,283.3 197.0,282.9 198.0,281.8 199.0,281.7 200.0,280.9 201.2,280.7 202.3,280.3 203.3,279.9 204.3,278.8 205.3,277.9 206.4,277.4 207.5,277.4 208.7,276.5 210.0,275.8 210.9,275.9 211.8,275.2 212.8,275.4 213.8,275.4 214.8,274.2 215.9,273.9 217.0,272.8 218.1,272.9 219.2,272.1 220.3,271.4 221.5,270.7 222.7,271.4 223.9,269.7 225.1,269.3 226.3,269.2 227.5,268.8 228.7,268.2 230.0,267.6 231.2,266.7 232.4,266.8 233.7,266.0 234.9,264.9 235.9,265.5 236.9,264.3 237.9,264.3 239.0,263.0 240.0,262.6 241.1,262.3 242.1,261.8 243.2,261.9 244.3,260.4 245.4,260.5 246.4,259.6 247.5,259.6 248.6,259.0 249.7,258.2 250.8,258.6 252.0,257.3 253.1,257.2 254.2,255.8 255.3,255.7 256.4,255.2 257.5,254.7 258.7,254.0 259.8,253.3 260.9,252.0 262.0,252.4 263.1,251.8 264.3,251.5 265.4,251.4 266.5,251.4 267.6,250.3 268.7,250.0 269.8,249.4 270.9,249.0 272.0,248.5 273.2,247.7 274.3,247.2 275.4,247.0 276.5,247.1 277.6,246.3 278.7,246.1 279.9,244.6 281.0,244.7 282.1,244.4 283.2,244.0 284.4,242.9 285.5,242.3 286.6,241.7 287.7,241.9 288.8,242.5 290.0,241.3 291.1,240.4 292.2,240.5 293.4,239.9 294.5,239.7 295.6,239.1 296.8,238.4 297.9,238.3 299.0,238.3 300.2,237.8 301.3,237.8 302.4,236.6 303.6,237.0 304.7,236.3 305.9,236.0 307.0,236.1 308.2,235.3 309.3,235.1 310.5,234.9 311.7,234.6 312.8,234.4 314.0,234.3 315.1,233.7 316.3,233.1 317.4,233.8 318.6,232.7 319.8,232.6 320.9,231.9 322.1,231.2 323.2,231.4 324.4,231.5 325.6,231.4 326.8,231.0 327.9,231.0 329.1,230.8 330.3,230.5 331.5,229.9 332.7,229.7 333.9,229.3 335.1,228.8 336.3,229.3 337.5,228.1 338.8,228.2 340.0,228.0 341.1,226.9 342.2,227.6 343.4,226.9 344.5,226.8 345.6,226.4 346.7,225.6 347.9,225.9 349.0,225.6 350.1,225.6 351.3,225.1 352.4,224.1 353.6,224.7 354.7,224.3 355.9,224.0 357.1,223.6 358.2,222.9 359.4,223.0 360.6,222.3 361.7,223.2 362.9,221.7 364.1,221.1 365.3,221.1 366.4,221.4 367.6,220.3 368.8,219.4 370.0,220.4 371.2,219.7 372.4,219.1 373.6,219.2 374.8,218.3 376.0,217.9 377.3,218.3 378.5,217.5 379.7,217.5 380.9,217.0 382.2,217.0 383.4,216.5 384.5,215.4 385.7,216.1 386.8,215.4 387.9,215.6 389.1,215.0 390.2,215.2 391.4,214.3 392.5,213.3 393.7,213.7 394.9,213.6 396.0,213.0 397.2,212.7 398.4,213.1 399.6,212.2 400.8,212.3 401.9,211.7 403.1,210.8 404.3,210.7 405.5,210.6 406.7,210.5 407.9,209.8 409.1,209.3 410.3,209.1 411.5,209.0 412.7,208.6 413.9,208.4 415.1,209.0 416.3,208.1 417.5,207.4 418.7,207.4 420.0,207.7 421.2,207.1 422.4,206.6 423.6,205.9 424.8,205.5 426.0,205.7 427.2,205.5 428.4,204.7 429.6,204.6 430.8,204.8 432.0,203.8 433.2,203.8 434.4,204.1 435.6,204.1 436.8,203.8 438.0,203.9 439.2,203.9 440.4,203.4 441.7,202.8 442.9,203.5 444.1,203.1 445.3,202.7 446.6,201.9 447.8,202.2 449.1,201.1 450.3,201.6 451.5,200.7 452.8,201.2 454.0,201.6 455.3,201.1 456.5,201.5 457.7,200.8 459.0,200.7 460.2,200.4 461.5,200.6 462.7,200.3 464.0,200.6 465.2,200.6 466.4,200.1 467.7,199.4 468.9,199.9 470.1,200.0 471.3,199.7 472.5,199.4 473.8,199.6 475.0,199.6 476.2,198.1 477.4,199.4 478.6,199.1 479.8,198.9 481.0,198.4 482.1,198.6 483.3,198.6 484.5,197.7 485.6,198.4 486.8,198.1 487.9,198.5 489.1,198.1 490.2,197.7 491.5,197.6 492.7,197.7 494.0,197.4 495.2,197.4 496.4,196.9 497.6,196.6 498.7,196.7 499.9,196.3 501.0,196.5 502.2,196.8 503.3,196.0 504.4,196.1 505.5,196.7 506.7,196.1 507.8,196.2 508.9,195.7 510.0,195.7 511.2,195.9 512.3,196.4 513.4,195.9 514.6,195.1 515.8,195.8 516.9,195.8 518.1,195.7 519.4,194.9 520.6,195.2 521.9,195.9 523.2,194.7 524.5,195.0 525.8,194.5 527.2,194.2 528.6,194.4 530.0,194.8 531.0,194.7 531.9,193.9 532.9,194.0 533.9,193.7 534.9,193.2 535.9,194.1 537.0,194.3 538.0,194.2 539.1,193.4 540.1,193.9 541.2,193.7 542.3,193.1 543.3,193.1 544.4,192.9 545.5,193.0 546.6,193.5 547.8,192.4 548.9,192.2 550.0,192.8 551.2,192.4 552.3,191.6 553.5,191.8 554.6,191.7 555.8,191.7 557.0,191.9 558.2,192.0 559.3,191.5 560.5,191.5 561.7,191.0 562.9,191.5 564.2,191.5 565.4,190.8 566.6,190.5 567.8,191.4 569.0,190.9 570.3,190.1 571.5,189.7 572.8,190.1 574.0,190.5 575.3,189.7 576.5,189.7 577.8,189.5 579.0,189.8 580.3,189.9 581.6,188.8 582.9,189.0 584.1,188.9 585.4,188.7 586.7,188.3 588.0,188.9 589.2,188.5 590.5,188.6 591.8,188.8 593.1,188.0 594.4,188.2 595.7,187.7 596.9,187.7 598.2,187.7 599.5,187.4 600.8,186.8 602.1,187.7 603.4,187.1 604.7,186.6 606.0,186.1 607.2,186.7 608.5,186.8 609.8,186.8 611.1,186.7 612.4,186.1 613.6,186.3 614.9,185.5 616.2,185.9 617.5,186.1 618.7,185.4 620.0,185.5 621.1,185.5 622.3,185.4 623.4,185.7 624.6,184.7 625.7,185.5 626.9,184.5 628.1,184.6 629.2,184.4 630.4,184.6 631.6,184.3 632.7,184.6 633.9,184.3 635.1,185.0 636.3,184.2 637.4,183.9 638.6,184.0 639.8,184.0 641.0,183.6 642.2,183.2 643.4,183.2 644.5,183.5 645.7,183.6 646.9,183.4 648.1,183.1 649.3,183.2 650.5,182.7 651.7,182.9 652.9,183.2 654.1,183.0 655.3,183.0 656.5,182.3 657.7,182.4 659.0,181.9 660.2,182.4 661.4,181.9 662.6,181.4 663.8,181.6 665.0,181.8 666.2,180.8 667.4,181.0 668.7,181.8 669.9,181.4 671.1,181.2 672.3,180.6 673.5,181.6 674.8,181.3 676.0,181.1 677.2,180.3 678.4,180.8 679.7,180.9 680.9,180.3 682.1,180.3 683.3,180.1 684.6,180.4 685.8,180.0 687.0,179.8 688.2,179.3 689.5,179.2 690.7,180.0 691.9,180.1 693.2,179.8 694.4,179.9 695.6,179.1 696.8,179.2 698.1,179.2 699.3,178.9 700.5,179.5 701.7,178.3 703.0,178.5 704.2,178.5 705.4,178.2 706.7,178.7 707.9,177.6 709.1,178.6 710.3,178.4 711.5,178.1 712.8,178.4 714.0,178.6 715.2,177.8 716.4,177.9 717.7,177.6 718.9,177.6 720.1,177.1 721.3,177.0 722.5,177.3 723.7,176.8 725.0,177.3 726.2,177.1 727.4,176.6 728.6,176.8 729.8,176.6 731.0,176.4" fill="none" stroke="#ED1C24" stroke-width="2.6" stroke-linejoin="round" stroke-linecap="round" />
<polyline points="10.0,154.0 11.3,154.0 12.6,154.0 13.9,153.9 15.3,153.9 16.7,153.8 18.1,153.7 19.6,153.6 21.0,153.5 22.4,153.5 23.8,153.4 25.2,153.3 26.6,153.3 27.9,153.2 29.2,153.2 30.5,153.2 31.6,153.2 32.8,153.3 33.8,153.3 34.7,153.4 35.6,153.6 36.3,153.8 37.0,154.0 38.4,154.8 39.2,155.8 40.0,157.0 40.5,158.0 41.0,159.1 41.4,160.4 41.8,161.7 42.1,163.3 42.5,165.0 42.7,165.8 42.8,166.7 43.0,167.6 43.1,168.6 43.2,169.7 43.4,170.8 43.5,171.9 43.6,173.1 43.8,174.3 43.9,175.6 44.0,176.9 44.1,178.2 44.2,179.5 44.3,180.9 44.5,182.2 44.6,183.6 44.7,185.0 44.8,186.3 44.9,187.7 45.0,189.0 45.1,190.4 45.2,191.7 45.3,193.0 45.3,194.2 45.4,195.5 45.5,196.7 45.6,197.8 45.7,198.9 45.8,200.0 45.9,201.4 46.0,202.7 46.1,203.9 46.2,205.1 46.3,206.3 46.4,207.4 46.5,208.6 46.6,209.7 46.7,210.8 46.8,212.0 46.8,213.1 46.9,214.4 47.0,215.7 47.1,217.0 47.2,218.5 47.3,220.0 47.4,220.9 47.4,221.8 47.5,222.7 47.5,223.6 47.6,224.6 47.6,225.5 47.7,226.5 47.8,227.5 47.8,228.5 47.9,229.5 48.0,230.6 48.0,231.6 48.1,232.7 48.1,233.8 48.2,234.8 48.3,235.9 48.3,237.1 48.4,238.2 48.5,239.3 48.5,240.5 48.6,241.6 48.7,242.8 48.7,244.0 48.8,245.2 48.8,246.4 48.9,247.6 49.0,248.9 49.0,250.1 49.1,251.4 49.2,252.6 49.2,253.9 49.3,255.2 49.4,256.5 49.4,257.8 49.5,259.1 49.6,260.5 49.6,261.8 49.7,263.2 49.8,264.5 49.8,265.9 49.9,267.3 50.0,268.6 50.0,270.0 50.1,271.4 50.2,272.8 50.2,274.3 50.3,275.7 50.4,277.1 50.4,278.6 50.5,280.0 50.5,281.0 50.6,281.9 50.6,282.9 50.7,283.9 50.7,285.0 50.8,286.0 50.8,287.1 50.8,288.1 50.9,289.2 50.9,290.3 51.0,291.4 51.0,292.5 51.1,293.7 51.1,294.8 51.1,296.0 51.2,297.2 51.2,298.3 51.3,299.5 51.3,300.7 51.3,302.0 51.4,303.2 51.4,304.4 51.5,305.7 51.5,306.9 51.6,308.2 51.6,309.4 51.6,310.7 51.7,312.0 51.7,313.3 51.8,314.6 51.8,315.9 51.9,317.2 51.9,318.5 51.9,319.9 52.0,321.2 52.0,322.5 52.1,323.9 52.1,325.2 52.2,326.6 52.2,328.0 52.2,329.3 52.3,330.7 52.3,332.1 52.4,333.4 52.4,334.8 52.4,336.2 52.5,337.6 52.5,338.9 52.6,340.3 52.6,341.7 52.7,343.1 52.7,344.5 52.7,345.9 52.8,347.2 52.8,348.6 52.9,350.0 52.9,351.4 53.0,352.8 53.0,354.2 53.0,355.5 53.1,356.9 53.1,358.3 53.2,359.7 53.2,361.0 53.3,362.4 53.3,363.7 53.3,365.1 53.4,366.4 53.4,367.8 53.5,369.1 53.5,370.5 53.6,371.8 53.6,373.1 53.6,374.4 53.7,375.8 53.7,377.1 53.8,378.4 53.8,379.6 53.9,380.9 53.9,382.2 53.9,383.5 54.0,384.7 54.0,386.0 54.1,387.2 54.1,388.4 54.2,389.7 54.2,390.9 54.3,392.1 54.3,393.2 54.3,394.4 54.4,395.6 54.4,396.7 54.5,397.9 54.5,399.0 54.6,400.1 54.6,401.2 54.6,402.3 54.7,403.4 54.7,404.4 54.8,405.5 54.8,406.5 54.9,407.5 54.9,408.5 55.0,409.5 55.0,410.5 55.0,411.4 55.1,412.4 55.1,413.3 55.2,414.2 55.2,415.1 55.3,415.9 55.3,416.8 55.4,417.6 55.4,418.4 55.5,419.2 55.5,420.0 55.6,421.6 55.7,423.1 55.8,424.6 55.9,426.0 56.0,427.4 56.1,428.7 56.2,430.0 56.3,431.2 56.4,432.4 56.4,433.5 56.5,434.7 56.6,435.8 56.7,436.9 56.8,437.9 56.9,439.0 57.0,440.0 57.1,441.1 57.2,442.2 57.3,443.2 57.4,444.3 57.5,445.4 57.7,446.5 57.8,447.6 57.9,448.8 58.0,450.0 58.1,451.2 58.2,452.4 58.4,453.7 58.5,454.9 58.6,456.1 58.7,457.4 58.8,458.6 59.0,459.8 59.1,461.1 59.2,462.3 59.4,463.6 59.5,464.8 59.6,466.1 59.7,467.3 59.9,468.6 60.0,469.8 60.2,471.0 60.3,472.3 60.4,473.5 60.6,474.7 60.7,476.0 60.9,477.2 61.0,478.4 61.2,479.6 61.3,480.8 61.5,482.0 61.7,483.3 61.8,484.5 62.0,485.8 62.2,487.0 62.4,488.2 62.6,489.5 62.8,490.7 63.0,491.9 63.1,493.1 63.3,494.4 63.5,495.6 63.7,496.8 63.9,498.0 64.1,499.2 64.3,500.4 64.5,501.6 64.7,502.8 64.9,504.0 65.1,505.2 65.3,506.4 65.5,507.7 65.7,508.9 65.9,510.1 66.4,508.9 66.9,507.8 67.4,506.6 67.8,505.5 68.3,504.3 68.8,503.1 69.3,501.8 69.7,500.4 70.0,499.4 70.3,498.3 70.6,497.2 70.8,496.0 71.1,494.8 71.3,493.6 71.6,492.4 71.8,491.1 72.1,489.9 72.3,488.6 72.6,487.3 72.8,486.1 73.1,484.8 73.3,483.5 73.6,482.3 73.9,481.1 74.2,479.9 74.4,478.6 74.7,477.4 75.0,476.2 75.3,474.9 75.6,473.6 75.9,472.4 76.2,471.2 76.5,469.9 76.8,468.7 77.1,467.5 77.3,466.3 77.6,465.1 77.9,464.0 78.1,462.9 78.4,461.5 78.7,460.2 78.9,459.0 79.2,457.8 79.4,456.6 79.7,455.4 79.9,454.2 80.2,452.9 80.4,451.5 80.7,450.0 80.9,449.0 81.0,448.0 81.2,446.9 81.4,445.8 81.6,444.7 81.8,443.5 81.9,442.3 82.1,441.1 82.3,439.8 82.5,438.6 82.7,437.3 82.9,436.0 83.1,434.7 83.3,433.4 83.5,432.1 83.6,430.8 83.8,429.5 84.0,428.3 84.2,427.0 84.4,425.8 84.6,424.6 84.8,423.4 85.0,422.2 85.2,421.1 85.4,420.0 85.6,418.7 85.9,417.4 86.1,416.1 86.4,414.9 86.6,413.7 86.9,412.5 87.1,411.4 87.4,410.2 87.6,409.1 87.9,407.9 88.1,406.8 88.4,405.6 88.6,404.4 88.9,403.2 89.1,402.0 89.4,400.8 89.7,399.6 89.9,398.4 90.2,397.2 90.4,396.0 90.7,394.7 90.9,393.5 91.2,392.3 91.4,391.0 91.7,389.8 91.9,388.5 92.2,387.3 92.5,386.0 92.8,384.8 93.0,383.5 93.3,382.3 93.7,381.1 94.0,379.8 94.3,378.6 94.6,377.4 95.0,376.3 95.3,375.1 95.7,373.9 96.1,372.8 96.5,371.6 96.9,370.4 97.3,369.3 97.7,368.1 98.2,367.0 98.6,365.8 99.0,364.7 99.4,363.5 99.8,362.3 100.2,361.2 100.6,360.0 100.9,358.8 101.3,357.7 101.6,356.5 101.9,355.3 102.2,354.0 102.5,352.8 102.8,351.6 103.0,350.3 103.3,349.1 103.5,347.9 103.7,346.6 104.0,345.4 104.2,344.1 104.4,342.9 104.7,341.7 104.9,340.4 105.2,339.2 105.5,338.0 105.8,336.7 106.1,335.5 106.5,334.3 106.9,333.1 107.3,331.9 107.7,330.7 108.1,329.5 108.6,328.3 109.0,327.0 109.5,325.8 110.0,324.6 110.5,322.9 111.0,322.2 111.5,321.4 112.0,320.1 112.5,318.9 113.0,317.6 113.5,315.8 114.0,314.7 114.5,314.6 114.9,313.0 115.4,312.2 116.0,311.2 116.6,309.0 117.3,307.8 117.9,307.6 118.6,306.1 119.2,305.1 119.8,304.7 120.4,303.0 121.0,302.1 121.6,301.2 122.1,299.3 122.6,299.6 123.1,297.9 123.6,296.4 124.0,296.0 124.5,294.1 124.9,293.1 125.4,291.8 125.9,291.1 126.5,289.7 127.0,289.1 127.5,287.7 128.1,287.1 128.6,286.1 129.2,285.0 129.8,284.0 130.4,282.8 131.0,281.4 131.6,279.8 132.3,279.7 132.9,277.9 133.6,277.6 134.3,276.4 135.0,275.4 135.6,274.4 136.3,273.7 137.0,272.1 137.7,271.6 138.5,270.9 139.2,269.8 140.0,268.9 140.7,267.4 141.5,266.5 142.3,266.3 143.1,264.9 143.8,263.8 144.6,263.3 145.4,261.7 146.3,261.0 147.2,260.3 148.1,259.3 149.0,259.1 150.0,257.8 150.9,257.2 151.8,255.7 152.8,255.2 153.7,254.4 154.6,253.8 155.6,253.0 156.5,252.0 157.4,251.4 158.3,251.2 159.2,249.5 160.1,248.4 161.0,248.3 161.9,247.6 162.8,246.2 163.7,245.7 164.6,243.7 165.6,243.8 166.6,242.7 167.6,242.9 168.5,241.4 169.5,241.3 170.4,239.7 171.4,238.9 172.5,238.1 173.5,237.1 174.5,236.6 175.6,236.5 176.7,234.7 177.7,234.7 178.8,234.4 179.9,233.4 181.0,232.9 182.1,232.2 183.1,231.7 184.2,230.2 185.4,231.1 186.6,230.2 187.9,229.5 189.1,229.2 190.4,229.0 191.7,229.1 192.9,228.1 194.2,227.8 195.4,227.5 196.6,228.1 197.8,227.1 198.9,227.2 200.0,226.4 201.2,226.3 202.3,225.7 203.4,225.1 204.4,225.3 205.4,224.4 206.4,223.5 207.5,224.2 208.7,222.3 210.0,221.6 210.9,221.0 211.8,221.9 212.8,220.9 213.8,220.5 214.8,220.4 215.8,219.5 216.9,219.2 218.0,219.1 219.1,218.0 220.3,217.7 221.4,217.0 222.6,216.4 223.8,216.4 225.0,215.6 226.2,215.0 227.4,213.6 228.7,213.5 229.9,213.1 231.2,213.0 232.4,212.7 233.7,212.2 234.9,211.7 236.0,211.5 237.1,211.2 238.2,211.1 239.4,209.8 240.5,210.6 241.7,210.7 242.9,210.1 244.0,209.2 245.2,208.8 246.4,208.9 247.6,209.2 248.9,208.5 250.1,207.4 251.3,206.6 252.5,207.8 253.8,208.5 255.0,206.7 256.3,206.8 257.5,206.9 258.7,206.8 260.0,206.8 261.2,205.6 262.5,206.0 263.7,205.5 264.9,205.9 266.2,205.5 267.4,205.5 268.6,204.4 269.8,204.2 271.0,204.1 272.2,203.9 273.4,203.6 274.6,203.1 275.8,203.1 277.0,202.5 278.2,203.3 279.4,202.4 280.6,201.9 281.8,202.2 283.0,201.2 284.2,201.8 285.4,201.2 286.6,201.8 287.8,201.1 289.0,200.3 290.2,200.7 291.4,200.2 292.6,200.2 293.8,198.4 295.1,199.2 296.3,199.0 297.5,199.4 298.7,198.2 299.9,198.6 301.1,198.1 302.3,197.4 303.5,197.5 304.7,197.7 305.9,197.2 307.1,196.9 308.3,196.8 309.5,196.6 310.7,196.4 311.9,196.0 313.1,195.3 314.3,195.5 315.5,195.4 316.7,195.8 317.9,194.5 319.1,195.3 320.3,194.2 321.5,194.8 322.7,193.2 323.9,193.6 325.1,192.6 326.3,192.7 327.5,192.9 328.8,193.0 330.0,192.3 331.2,192.5 332.4,191.9 333.7,192.6 334.9,191.6 336.2,192.4 337.5,192.1 338.7,190.8 340.0,191.2 341.1,190.6 342.3,191.2 343.4,190.6 344.6,191.0 345.8,190.1 346.9,189.9 348.1,189.5 349.2,189.7 350.4,189.7 351.6,189.4 352.8,189.4 354.0,189.4 355.1,188.9 356.3,188.6 357.5,188.3 358.7,188.3 359.9,188.3 361.1,188.7 362.3,188.5 363.5,187.7 364.8,188.1 366.0,187.4 367.2,187.9 368.4,186.8 369.7,187.7 370.9,187.1 372.1,187.1 373.4,186.9 374.6,186.3 375.9,186.7 377.1,186.5 378.4,186.6 379.6,186.4 380.9,186.5 382.1,186.1 383.4,185.2 384.6,185.8 385.7,184.9 386.9,184.9 388.0,185.1 389.2,184.6 390.4,184.6 391.6,185.0 392.8,184.2 394.0,183.9 395.2,183.5 396.4,185.0 397.6,183.5 398.8,183.5 400.0,183.4 401.2,183.6 402.4,182.8 403.6,182.5 404.8,182.5 406.1,182.1 407.3,181.7 408.5,181.3 409.7,181.9 411.0,181.6 412.2,182.1 413.4,181.2 414.7,181.1 415.9,181.5 417.1,180.2 418.4,181.0 419.6,180.2 420.8,179.9 422.1,180.3 423.3,180.1 424.5,179.4 425.8,179.8 427.0,180.2 428.2,179.7 429.5,179.3 430.7,178.9 431.9,179.0 433.1,179.1 434.4,178.6 435.6,178.8 436.8,178.9 438.0,177.8 439.2,178.3 440.5,178.4 441.7,177.9 442.9,177.7 444.1,178.5 445.4,177.7 446.6,177.6 447.8,177.4 449.1,177.4 450.3,177.3 451.6,177.3 452.8,176.6 454.0,176.5 455.3,176.8 456.5,176.8 457.8,176.7 459.0,177.1 460.3,176.8 461.5,177.0 462.7,176.7 464.0,175.7 465.2,176.7 466.4,177.0 467.7,176.4 468.9,176.3 470.1,175.8 471.3,176.3 472.6,175.7 473.8,175.4 475.0,176.1 476.2,176.3 477.4,175.8 478.6,175.8 479.8,175.6 481.0,176.5 482.1,175.9 483.3,175.6 484.5,175.6 485.6,175.7 486.8,176.0 487.9,175.4 489.1,175.2 490.2,175.6 491.5,175.4 492.7,174.8 494.0,175.3 495.2,175.2 496.4,175.2 497.6,175.4 498.7,175.4 499.9,175.9 501.0,175.5 502.2,175.6 503.3,175.0 504.4,175.2 505.5,174.9 506.7,174.9 507.8,175.5 508.9,176.0 510.0,175.5 511.2,175.3 512.3,175.4 513.4,175.5 514.6,175.1 515.8,175.1 516.9,175.4 518.1,175.8 519.4,175.2 520.6,174.5 521.9,175.4 523.2,175.2 524.5,174.8 525.8,174.7 527.2,173.8 528.6,174.7 530.0,174.9 531.0,175.2 531.9,174.9 532.9,174.5 533.9,174.7 534.9,174.9 535.9,175.1 537.0,174.9 538.0,175.1 539.1,174.0 540.1,174.8 541.2,174.8 542.3,174.3 543.3,174.8 544.4,174.5 545.5,174.1 546.6,174.1 547.8,174.8 548.9,174.8 550.0,175.0 551.2,174.8 552.3,174.7 553.5,174.0 554.6,174.3 555.8,174.3 557.0,175.1 558.2,174.0 559.3,173.8 560.5,173.9 561.7,174.6 562.9,173.9 564.2,174.4 565.4,173.9 566.6,174.5 567.8,173.4 569.1,173.8 570.3,174.2 571.5,173.8 572.8,173.5 574.0,174.4 575.3,173.3 576.5,173.5 577.8,174.2 579.1,174.4 580.3,173.7 581.6,173.1 582.9,173.1 584.1,173.2 585.4,173.5 586.7,174.0 588.0,173.8 589.2,173.8 590.5,173.1 591.8,173.6 593.1,173.6 594.4,173.5 595.7,173.2 597.0,173.0 598.2,173.5 599.5,173.6 600.8,172.9 602.1,173.1 603.4,173.3 604.7,173.4 606.0,173.5 607.3,172.7 608.5,173.2 609.8,172.2 611.1,171.7 612.4,172.4 613.7,172.6 614.9,171.8 616.2,172.3 617.5,172.4 618.7,172.2 620.0,172.3 621.1,172.6 622.3,172.0 623.4,171.9 624.6,172.2 625.8,172.4 626.9,171.7 628.1,172.4 629.2,172.1 630.4,171.6 631.6,171.6 632.7,171.3 633.9,171.8 635.1,171.5 636.3,172.2 637.4,170.3 638.6,170.8 639.8,171.0 641.0,171.4 642.2,171.0 643.4,170.8 644.6,171.2 645.7,170.8 646.9,171.0 648.1,171.1 649.3,171.1 650.5,170.1 651.7,170.3 652.9,170.7 654.1,170.4 655.3,170.1 656.5,170.6 657.8,170.3 659.0,170.4 660.2,170.5 661.4,169.9 662.6,170.4 663.8,170.0 665.0,169.9 666.2,170.2 667.5,169.1 668.7,169.0 669.9,169.1 671.1,169.8 672.3,169.5 673.6,169.1 674.8,168.9 676.0,168.5 677.2,169.2 678.4,169.0 679.7,169.1 680.9,169.3 682.1,168.9 683.3,169.3 684.6,168.5 685.8,169.2 687.0,168.7 688.3,168.2 689.5,168.4 690.7,169.1 691.9,167.7 693.2,167.9 694.4,167.9 695.6,168.1 696.8,168.0 698.1,168.6 699.3,167.7 700.5,168.0 701.8,167.4 703.0,167.1 704.2,167.4 705.4,167.3 706.7,167.6 707.9,167.8 709.1,167.0 710.3,167.5 711.6,166.6 712.8,167.6 714.0,166.3 715.2,166.6 716.4,166.8 717.7,166.5 718.9,166.2 720.1,166.8 721.3,166.1 722.5,166.8 723.7,165.7 725.0,166.6 726.2,166.5 727.4,166.3 728.6,166.4 729.8,165.9 731.0,165.9" fill="none" stroke="#8B5E3C" stroke-width="2.3" stroke-linejoin="round" stroke-linecap="round" />
<polyline points="10.0,154.4 11.2,154.4 12.5,154.4 13.9,154.3 15.3,154.2 16.7,154.2 18.1,154.1 19.5,154.0 20.9,153.9 22.3,153.8 23.7,153.8 25.0,153.7 26.3,153.7 27.5,153.7 28.7,153.7 29.7,153.8 30.7,153.9 31.6,154.0 32.4,154.2 33.0,154.4 34.1,155.1 34.9,156.0 35.5,157.0 36.1,158.1 36.6,159.3 37.0,160.6 37.5,162.0 37.9,163.1 38.3,164.3 38.7,165.5 39.2,166.7 39.5,168.1 39.9,169.5 40.1,170.6 40.3,171.7 40.6,172.8 40.8,174.1 40.9,175.3 41.1,176.6 41.3,177.9 41.5,179.2 41.6,180.5 41.8,181.8 41.9,183.1 42.1,184.3 42.2,185.5 42.4,186.7 42.5,188.0 42.7,189.2 42.8,190.4 42.9,191.6 43.0,192.9 43.1,194.1 43.2,195.3 43.4,196.5 43.5,197.8 43.6,199.0 43.7,200.2 43.8,201.4 43.9,202.5 44.1,203.6 44.2,204.7 44.3,205.8 44.4,206.9 44.5,208.1 44.6,209.4 44.7,210.8 44.9,212.3 45.0,213.9 45.1,214.7 45.1,215.5 45.2,216.3 45.3,217.2 45.3,218.0 45.4,218.9 45.5,219.9 45.5,220.8 45.6,221.7 45.7,222.7 45.8,223.7 45.8,224.7 45.9,225.8 46.0,226.8 46.1,227.9 46.1,228.9 46.2,230.0 46.3,231.2 46.4,232.3 46.5,233.4 46.5,234.6 46.6,235.8 46.7,237.0 46.8,238.2 46.9,239.4 47.0,240.6 47.1,241.8 47.1,243.1 47.2,244.4 47.3,245.6 47.4,246.9 47.5,248.2 47.6,249.5 47.7,250.8 47.8,252.2 47.8,253.5 47.9,254.9 48.0,256.2 48.1,257.6 48.2,258.9 48.3,260.3 48.4,261.7 48.5,263.1 48.6,264.5 48.7,265.9 48.8,267.3 48.9,268.7 48.9,270.1 49.0,271.5 49.1,272.9 49.2,274.3 49.3,275.7 49.4,277.2 49.5,278.6 49.6,280.0 49.7,281.0 49.7,282.0 49.8,283.0 49.9,284.1 49.9,285.1 50.0,286.2 50.1,287.2 50.1,288.3 50.2,289.4 50.3,290.5 50.3,291.7 50.4,292.8 50.5,294.0 50.6,295.1 50.6,296.3 50.7,297.5 50.8,298.7 50.9,299.9 50.9,301.1 51.0,302.3 51.1,303.6 51.2,304.8 51.2,306.1 51.3,307.3 51.4,308.6 51.5,309.9 51.5,311.2 51.6,312.5 51.7,313.8 51.8,315.1 51.9,316.4 51.9,317.7 52.0,319.0 52.1,320.4 52.2,321.7 52.2,323.0 52.3,324.4 52.4,325.7 52.5,327.1 52.6,328.4 52.6,329.8 52.7,331.2 52.8,332.5 52.9,333.9 53.0,335.3 53.1,336.6 53.1,338.0 53.2,339.4 53.3,340.8 53.4,342.2 53.5,343.5 53.5,344.9 53.6,346.3 53.7,347.7 53.8,349.1 53.9,350.4 54.0,351.8 54.0,353.2 54.1,354.6 54.2,355.9 54.3,357.3 54.4,358.7 54.4,360.0 54.5,361.4 54.6,362.7 54.7,364.1 54.8,365.4 54.8,366.8 54.9,368.1 55.0,369.4 55.1,370.8 55.2,372.1 55.2,373.4 55.3,374.7 55.4,376.0 55.5,377.3 55.5,378.6 55.6,379.9 55.7,381.2 55.8,382.4 55.9,383.7 55.9,384.9 56.0,386.2 56.1,387.4 56.2,388.6 56.2,389.8 56.3,391.0 56.4,392.2 56.5,393.4 56.5,394.5 56.6,395.7 56.7,396.8 56.7,398.0 56.8,399.1 56.9,400.2 56.9,401.3 57.0,402.4 57.1,403.4 57.2,404.5 57.2,405.5 57.3,406.6 57.4,407.6 57.4,408.6 57.5,409.5 57.5,410.5 57.6,411.5 57.7,412.4 57.7,413.3 57.8,414.2 57.9,415.1 57.9,415.9 58.0,416.8 58.0,417.6 58.1,418.4 58.1,419.2 58.2,420.0 58.3,421.6 58.4,423.1 58.5,424.6 58.6,426.0 58.7,427.4 58.8,428.7 58.9,430.0 59.0,431.2 59.1,432.4 59.2,433.5 59.3,434.7 59.4,435.8 59.5,436.9 59.6,437.9 59.7,439.0 59.8,440.0 59.8,441.1 59.9,442.2 60.0,443.2 60.1,444.3 60.2,445.4 60.4,446.5 60.5,447.6 60.6,448.8 60.7,450.0 60.8,451.2 61.0,452.5 61.1,453.7 61.2,455.0 61.4,456.2 61.5,457.5 61.6,458.8 61.8,460.1 61.9,461.4 62.1,462.7 62.2,463.9 62.4,465.2 62.5,466.5 62.7,467.8 62.8,469.1 63.0,470.3 63.1,471.6 63.3,472.8 63.4,474.0 63.6,475.2 63.7,476.4 63.9,477.6 64.0,478.7 64.2,479.8 64.3,480.9 64.5,482.0 64.7,483.4 64.9,484.7 65.1,486.0 65.3,487.3 65.5,488.6 65.7,489.8 65.9,491.0 66.1,492.2 66.3,493.4 66.5,494.6 66.7,495.7 66.9,496.8 67.1,497.9 67.3,499.0 67.5,500.0 67.8,501.4 68.1,502.8 68.3,504.1 68.6,505.4 68.9,506.6 69.2,507.9 69.4,509.1 69.7,510.4 70.3,509.1 70.8,507.9 71.4,506.6 71.9,505.4 72.5,504.0 72.9,502.9 73.4,501.7 73.8,500.5 74.3,499.3 74.7,498.0 75.1,496.7 75.6,495.2 75.9,494.2 76.2,493.2 76.5,492.1 76.8,491.0 77.2,489.8 77.5,488.6 77.8,487.4 78.1,486.2 78.5,484.9 78.8,483.7 79.1,482.4 79.4,481.1 79.8,479.8 80.1,478.5 80.4,477.2 80.7,475.9 81.0,474.7 81.2,473.6 81.5,472.4 81.8,471.2 82.0,470.0 82.3,468.8 82.5,467.6 82.8,466.4 83.0,465.2 83.3,464.0 83.5,462.7 83.8,461.5 84.0,460.3 84.3,459.0 84.6,457.7 84.8,456.5 85.1,455.2 85.3,453.9 85.6,452.6 85.9,451.3 86.1,450.2 86.4,449.0 86.7,447.8 86.9,446.6 87.2,445.4 87.5,444.2 87.8,442.9 88.1,441.7 88.4,440.5 88.6,439.2 88.9,437.9 89.2,436.7 89.5,435.4 89.8,434.2 90.1,432.9 90.4,431.7 90.7,430.4 90.9,429.2 91.2,428.0 91.4,426.8 91.7,425.6 91.9,424.4 92.2,423.3 92.4,422.2 92.6,421.1 92.8,420.0 93.0,418.7 93.2,417.4 93.4,416.1 93.6,414.9 93.7,413.7 93.8,412.5 94.0,411.3 94.1,410.2 94.2,409.0 94.4,407.9 94.5,406.7 94.7,405.6 94.8,404.4 95.0,403.2 95.2,402.0 95.5,400.8 95.8,399.7 96.0,398.5 96.3,397.4 96.7,396.2 97.0,395.1 97.3,393.9 97.7,392.7 98.1,391.5 98.4,390.4 98.8,389.2 99.2,388.0 99.6,386.8 100.0,385.7 100.3,384.5 100.7,383.3 101.1,382.1 101.4,380.9 101.8,379.8 102.1,378.6 102.4,377.4 102.8,376.1 103.1,374.9 103.4,373.7 103.7,372.5 104.0,371.2 104.3,370.0 104.6,368.8 104.8,367.5 105.1,366.3 105.4,365.1 105.7,363.9 106.0,362.6 106.3,361.4 106.6,360.2 106.9,359.0 107.3,357.7 107.6,356.5 107.9,355.3 108.3,354.2 108.6,353.0 108.9,351.8 109.3,350.6 109.6,349.5 109.9,348.3 110.3,347.1 110.6,346.0 111.0,344.8 111.4,343.6 111.7,342.5 112.1,341.3 112.4,340.1 112.8,339.0 113.2,337.8 113.5,336.6 113.9,335.5 114.3,334.3 114.7,333.1 115.1,331.9 115.5,330.7 115.9,329.5 116.3,328.3 116.7,327.1 117.1,325.9 117.6,324.6 118.0,323.4 118.4,322.2 118.8,321.0 119.3,319.8 119.7,318.7 120.1,317.5 120.5,316.4 120.9,315.3 121.3,314.2 121.6,313.2 122.0,312.2 122.5,310.8 122.9,309.5 123.4,308.2 123.8,307.0 124.2,305.8 124.6,304.6 125.0,303.4 125.5,302.3 126.0,301.1 126.6,300.0 127.2,298.9 127.9,297.9 128.6,296.9 129.3,296.0 130.1,295.0 130.8,294.1 131.6,293.1 132.3,292.1 133.0,291.1 133.7,290.0 134.3,289.0 134.8,287.9 135.3,286.8 135.7,285.6 136.2,284.5 136.7,283.3 137.1,282.1 137.6,280.9 138.1,279.8 138.7,278.6 139.3,277.5 139.9,276.4 140.5,275.1 141.2,273.8 141.9,274.0 142.7,273.5 143.4,271.0 144.2,269.9 145.0,268.7 145.8,268.4 146.7,267.5 147.5,266.4 148.4,266.0 149.2,264.3 150.1,263.6 150.9,262.5 151.9,262.9 152.8,262.0 153.8,261.4 154.9,259.6 155.9,260.0 156.9,258.8 157.9,258.4 159.0,257.7 160.0,256.5 161.0,255.9 162.0,254.5 163.0,254.2 164.0,253.6 165.0,252.4 165.9,252.2 166.9,252.0 167.9,250.3 168.9,249.3 169.9,248.5 170.9,248.2 172.0,248.2 173.1,246.6 174.0,245.8 175.0,244.5 176.0,244.5 177.1,244.0 178.1,242.7 179.2,242.1 180.3,241.1 181.4,241.0 182.5,240.6 183.6,239.4 184.6,238.8 185.7,237.8 186.7,236.8 187.8,236.2 188.7,235.7 189.7,235.4 190.9,234.7 192.1,234.6 193.3,233.8 194.4,233.7 195.5,232.8 196.6,231.8 197.7,231.4 198.9,230.1 200.0,231.2 201.2,229.6 202.4,229.2 203.6,229.9 204.7,228.0 205.9,227.8 207.2,227.6 208.5,226.8 210.0,226.5 210.9,226.2 211.8,226.0 212.7,225.2 213.6,225.1 214.6,224.0 215.6,224.0 216.6,223.7 217.6,221.7 218.7,221.8 219.8,221.5 220.9,219.8 222.0,218.6 223.1,219.7 224.2,218.6 225.4,218.8 226.6,217.8 227.7,217.2 228.9,216.5 230.1,216.2 231.3,215.2 232.5,214.9 233.7,215.1 234.9,214.2 236.0,214.2 237.1,213.6 238.2,213.2 239.3,212.6 240.5,213.2 241.7,212.1 242.8,212.4 244.0,211.3 245.2,211.9 246.4,211.8 247.6,211.1 248.8,210.4 250.1,210.9 251.3,210.9 252.5,210.4 253.8,210.1 255.0,210.8 256.3,210.1 257.5,209.8 258.7,210.2 260.0,209.6 261.2,209.1 262.5,209.7 263.7,208.9 264.9,209.3 266.2,208.3 267.4,208.6 268.6,208.8 269.8,208.2 271.0,208.0 272.2,207.7 273.4,207.7 274.6,207.0 275.8,206.9 277.0,206.3 278.2,207.2 279.4,205.5 280.6,206.1 281.8,204.9 283.0,205.4 284.2,205.5 285.4,204.0 286.6,205.1 287.8,203.5 289.0,203.3 290.3,203.6 291.5,202.6 292.7,203.4 293.9,202.8 295.1,201.0 296.3,201.3 297.5,201.4 298.7,201.7 299.9,200.7 301.1,200.6 302.3,200.9 303.5,199.9 304.7,200.2 305.9,199.2 307.0,200.1 308.2,200.0 309.4,198.5 310.5,197.6 311.7,197.7 312.8,198.7 314.0,197.7 315.2,198.2 316.3,196.8 317.5,196.7 318.6,196.8 319.8,197.1 320.9,196.2 322.1,195.6 323.3,196.0 324.4,195.6 325.6,195.5 326.8,194.9 327.9,194.4 329.1,194.5 330.3,193.0 331.5,194.1 332.7,194.3 333.9,193.8 335.1,192.8 336.3,192.2 337.5,193.4 338.8,192.3 340.0,192.2 341.1,192.2 342.3,191.6 343.4,191.7 344.6,192.2 345.7,191.0 346.9,192.0 348.1,191.1 349.2,190.8 350.4,191.0 351.6,190.8 352.8,190.6 353.9,190.2 355.1,189.5 356.3,190.4 357.5,189.3 358.7,188.8 359.9,189.5 361.1,189.2 362.3,188.7 363.5,188.6 364.8,188.6 366.0,189.1 367.2,188.0 368.4,187.2 369.7,187.4 370.9,187.7 372.1,187.2 373.4,186.8 374.6,187.3 375.9,187.1 377.1,186.5 378.4,186.6 379.6,185.9 380.9,185.8 382.1,185.7 383.4,185.0 384.6,185.7 385.7,185.3 386.9,184.9 388.0,185.0 389.2,184.9 390.4,184.2 391.6,184.1 392.8,183.8 394.0,184.7 395.2,183.0 396.4,183.6 397.6,183.9 398.8,182.7 400.0,182.6 401.2,182.4 402.4,181.8 403.6,183.0 404.8,182.1 406.1,181.5 407.3,181.5 408.5,181.7 409.7,181.3 411.0,180.8 412.2,181.3 413.4,180.4 414.7,180.5 415.9,180.6 417.1,180.0 418.4,180.2 419.6,179.7 420.8,181.1 422.1,179.4 423.3,179.8 424.5,178.9 425.8,178.6 427.0,178.9 428.2,178.7 429.5,178.5 430.7,178.5 431.9,178.8 433.1,179.2 434.4,179.1 435.6,178.1 436.8,178.8 438.0,178.6 439.2,177.4 440.5,177.4 441.7,177.5 442.9,178.4 444.1,177.3 445.4,177.2 446.6,177.9 447.8,177.0 449.1,177.0 450.3,177.3 451.6,177.0 452.8,175.7 454.0,176.2 455.3,177.2 456.5,176.1 457.8,177.3 459.0,176.7 460.3,176.8 461.5,176.8 462.7,175.7 464.0,176.2 465.2,176.0 466.4,176.6 467.7,177.3 468.9,176.4 470.1,176.5 471.3,175.5 472.6,176.2 473.8,176.3 475.0,176.3 476.2,176.6 477.4,177.0 478.6,176.3 479.8,176.4 481.0,175.4 482.1,176.5 483.3,176.2 484.5,175.3 485.6,176.2 486.8,175.7 487.9,176.5 489.1,176.2 490.2,175.9 491.5,176.7 492.7,175.7 494.0,175.6 495.2,175.7 496.4,175.6 497.6,175.1 498.7,175.7 499.9,175.6 501.0,175.1 502.2,174.5 503.3,175.8 504.4,175.8 505.5,175.5 506.7,175.5 507.8,175.8 508.9,175.0 510.0,175.6 511.2,174.7 512.3,174.3 513.4,174.6 514.6,174.4 515.8,174.7 516.9,175.3 518.1,174.5 519.4,174.8 520.6,175.3 521.9,175.0 523.2,174.1 524.5,173.6 525.8,175.0 527.2,173.3 528.6,172.8 530.0,172.7 531.0,174.2 531.9,172.8 532.9,173.4 533.9,173.4 534.9,174.0 535.9,172.7 537.0,173.3 538.0,173.4 539.1,173.9 540.1,173.0 541.2,173.2 542.3,172.9 543.3,173.5 544.4,173.4 545.5,172.6 546.6,173.0 547.8,172.0 548.9,172.7 550.0,172.2 551.2,172.3 552.3,173.0 553.5,173.5 554.6,172.5 555.8,172.2 557.0,172.1 558.1,172.5 559.3,172.0 560.5,172.5 561.7,172.7 562.9,172.2 564.2,171.7 565.4,172.2 566.6,171.4 567.8,170.8 569.0,172.2 570.3,172.5 571.5,172.1 572.8,171.2 574.0,169.7 575.3,170.9 576.5,171.5 577.8,170.9 579.0,171.8 580.3,170.6 581.6,171.2 582.9,171.0 584.1,170.9 585.4,170.0 586.7,170.6 588.0,170.7 589.2,170.3 590.5,169.8 591.8,170.2 593.1,169.9 594.4,170.5 595.7,170.7 597.0,170.3 598.2,170.3 599.5,169.9 600.8,170.0 602.1,168.9 603.4,169.9 604.7,170.2 606.0,169.4 607.2,170.0 608.5,168.8 609.8,169.5 611.1,169.3 612.4,169.6 613.7,169.4 614.9,170.3 616.2,167.6 617.5,168.4 618.7,168.7 620.0,169.0 621.1,168.6 622.3,168.5 623.4,168.0 624.6,168.0 625.7,168.2 626.9,169.4 628.1,168.1 629.2,169.9 630.4,169.0 631.6,168.2 632.7,168.7 633.9,168.8 635.1,167.6 636.3,167.3 637.4,168.8 638.6,167.5 639.8,168.4 641.0,168.2 642.2,167.0 643.4,168.1 644.5,168.0 645.7,168.3 646.9,167.6 648.1,167.8 649.3,167.7 650.5,167.3 651.7,168.2 652.9,167.8 654.1,168.0 655.3,167.4 656.5,167.7 657.7,166.6 659.0,166.7 660.2,167.5 661.4,166.8 662.6,166.6 663.8,166.9 665.0,165.9 666.2,166.7 667.5,166.8 668.7,166.4 669.9,165.9 671.1,167.3 672.3,166.6 673.6,165.8 674.8,165.9 676.0,165.4 677.2,165.2 678.4,165.1 679.7,165.6 680.9,166.1 682.1,166.2 683.3,165.8 684.6,166.3 685.8,166.0 687.0,165.1 688.3,165.1 689.5,165.7 690.7,165.8 691.9,165.9 693.2,164.6 694.4,164.3 695.6,166.2 696.8,165.0 698.1,165.6 699.3,165.0 700.5,164.3 701.8,165.6 703.0,165.1 704.2,165.5 705.4,165.0 706.7,164.2 707.9,164.6 709.1,165.1 710.3,164.1 711.6,164.5 712.8,165.0 714.0,163.7 715.2,164.1 716.4,164.3 717.7,164.6 718.9,164.0 720.1,163.7 721.3,164.2 722.5,163.6 723.7,164.0 725.0,164.0 726.2,163.6 727.4,164.1 728.6,164.2 729.8,162.9 731.0,163.7" fill="none" stroke="#00AEEF" stroke-width="2.7" stroke-linejoin="round" stroke-linecap="round" />
<polyline points="68.4,499.0 68.6,497.8 68.7,496.6 68.9,495.4 69.1,494.2 69.3,493.0 69.4,491.8 69.6,490.6 69.8,489.3 70.0,488.0 70.2,486.8 70.3,485.6 70.5,484.4 70.7,483.1 70.9,481.9 71.1,480.6 71.2,479.3 71.4,478.0 71.6,476.6 71.8,475.3 72.1,474.0 72.3,472.6 72.5,471.5 72.7,470.3 72.9,469.2 73.2,468.0 73.4,466.9 73.7,465.7 73.9,464.5 74.2,463.4 74.4,462.2 74.7,461.0 74.9,459.7 75.2,458.5 75.5,457.2 75.7,455.9 76.0,454.6 76.2,453.2 76.4,452.1 76.6,451.0 76.8,449.9 77.0,448.7 77.2,447.5 77.4,446.3 77.5,445.0 77.7,443.7 77.9,442.5 78.1,441.2 78.3,439.9 78.5,438.6 78.7,437.3 78.9,435.9 79.1,434.6 79.3,433.3 79.5,432.0 79.7,430.7 79.9,429.5 80.0,428.2 80.2,426.9 80.4,425.7 80.6,424.5 80.7,423.3 80.9,422.2 81.0,421.1 81.2,420.0 81.4,418.7 81.6,417.4 81.7,416.1 81.9,414.9 82.0,413.7 82.2,412.5 82.3,411.3 82.5,410.2 82.6,409.0 82.8,407.9 82.9,406.7 83.1,405.6 83.2,404.4 83.4,403.2 83.6,402.0 83.8,400.8 84.0,399.6 84.2,398.4 84.5,397.2 84.7,396.0 84.9,394.7 85.2,393.5 85.5,392.3 85.7,391.0 86.0,389.8 86.3,388.5 86.5,387.3 86.8,386.1 87.1,384.8 87.3,383.6 87.6,382.3 87.8,381.1 88.1,379.8 88.3,378.6 88.5,377.4 88.7,376.1 89.0,374.9 89.2,373.7 89.4,372.5 89.6,371.2 89.8,370.0 90.0,368.8 90.2,367.6 90.4,366.3 90.6,365.1 90.8,363.9 91.0,362.6 91.2,361.4 91.4,360.2 91.7,359.0 91.9,357.7 92.1,356.5 92.3,355.3 92.6,354.0 92.8,352.8 93.0,351.6 93.3,350.3 93.5,349.1 93.8,347.9 94.0,346.6 94.3,345.4 94.5,344.2 94.8,342.9 95.0,341.7 95.3,340.5 95.6,339.2 95.8,338.0 96.1,336.8 96.3,335.5 96.6,334.3 96.9,333.1 97.1,331.8 97.4,330.5 97.7,329.3 97.9,328.0 98.2,326.7 98.5,325.4 98.8,324.1 99.1,322.8 99.3,321.6 99.6,320.3 99.9,319.1 100.2,318.3 100.5,318.1 100.7,315.5 101.0,313.1 101.3,313.8 101.6,311.8 102.0,311.2 102.4,309.7 102.8,308.6 103.2,307.1 103.6,305.6 104.0,305.2 104.3,303.3 104.7,303.0 105.1,300.8 105.5,300.1 105.9,298.3 106.3,298.0 106.7,295.9 107.1,294.6 107.4,294.4 107.9,292.8 108.3,291.3 108.8,289.4 109.2,289.0 109.6,288.2 110.0,287.3 110.5,285.4 111.0,285.0 111.5,282.4 112.0,282.4 112.5,280.7 113.0,280.5 113.5,278.7 114.0,279.1 114.5,276.7 115.0,275.6 115.5,272.9 115.9,272.3 116.4,272.6 116.8,270.5 117.3,270.4 117.8,268.2 118.2,267.8 118.7,265.8 119.1,265.4 119.6,264.3 120.0,263.3 120.5,261.2 121.0,259.7 121.4,259.7 121.9,258.5 122.3,257.7 122.8,255.6 123.2,255.7 123.8,254.0 124.3,252.2 124.8,251.4 125.4,251.1 125.9,249.6 126.4,248.5 127.0,247.4 127.6,246.1 128.2,246.0 128.8,244.3 129.5,242.3 130.3,241.3 131.1,240.7 131.9,239.8 132.7,239.4 133.5,236.4 134.3,237.4 135.2,236.7 136.0,234.7 136.9,234.8 137.8,232.7 138.7,232.1 139.6,231.0 140.5,231.3 141.4,230.2 142.3,229.2 143.2,226.9 144.0,226.7 144.9,225.0 145.7,224.7 146.5,224.0 147.3,223.4 148.1,221.5 149.0,220.8 149.9,219.6 150.9,218.2 151.9,219.0 152.9,217.5 154.0,217.5 155.1,216.4 156.3,214.5 157.4,214.3 158.6,214.4 159.7,213.9 160.9,213.2 162.0,212.1 163.1,212.0 164.2,210.2 165.2,210.0 166.3,208.8 167.4,209.4 168.5,208.3 169.6,207.9 170.7,206.6 171.9,204.6 173.1,205.0 174.1,205.1 175.2,204.5 176.2,204.4 177.4,204.0 178.5,202.5 179.6,202.7 180.8,200.7 182.0,201.6 183.1,199.4 184.3,200.4 185.4,198.3 186.5,199.5 187.6,199.7 188.7,198.3 189.7,198.4 191.0,198.2 192.3,195.6 193.4,195.8 194.6,196.7 195.8,195.7 197.0,195.9 198.4,197.5 200.0,196.6 200.9,195.7 201.8,194.7 202.7,195.2 203.8,194.8 204.8,194.3 205.9,195.1 207.0,192.7 208.1,194.6 209.3,193.1 210.5,193.9 211.7,192.7 213.0,192.1 214.2,191.8 215.5,192.1 216.8,191.8 218.1,193.2 219.4,192.0 220.7,190.7 222.0,189.7 223.4,190.2 224.7,190.2 226.0,188.6 227.3,189.3 228.6,189.8 229.9,188.5 231.2,187.6 232.4,188.7 233.7,189.0 234.9,187.7 236.1,187.7 237.3,188.1 238.5,187.5 239.7,186.6 240.9,186.6 242.1,186.5 243.3,186.4 244.5,186.9 245.7,185.4 246.9,186.1 248.1,185.6 249.3,184.2 250.5,185.7 251.7,185.2 252.9,184.2 254.1,183.7 255.3,185.2 256.5,185.5 257.8,184.3 259.0,184.0 260.2,184.4 261.4,183.4 262.6,183.3 263.8,184.0 265.0,182.6 266.2,183.8 267.4,183.1 268.6,183.6 269.8,181.5 271.0,183.3 272.2,182.2 273.4,182.5 274.6,181.5 275.8,181.2 277.0,182.3 278.2,181.7 279.4,181.6 280.6,181.5 281.8,181.3 283.0,179.8 284.2,180.4 285.4,180.2 286.6,181.5 287.8,181.0 289.0,179.4 290.2,178.9 291.4,180.1 292.6,179.9 293.8,180.2 295.0,178.5 296.3,180.1 297.5,179.1 298.7,179.6 299.9,178.8 301.1,178.3 302.3,177.9 303.5,179.1 304.7,176.2 305.9,178.7 307.1,178.3 308.3,177.4 309.5,178.2 310.7,177.5 311.9,176.7 313.1,177.2 314.3,177.6 315.5,177.2 316.7,176.6 317.9,177.4 319.1,177.4 320.3,177.6 321.5,176.9 322.7,177.6 323.9,176.1 325.1,176.2 326.3,175.5 327.5,176.3 328.8,176.3 330.0,176.1 331.2,175.3 332.5,176.6 333.7,174.9 334.9,175.3 336.2,173.9 337.5,176.3 338.7,176.1 340.0,175.4 341.1,175.6 342.3,174.6 343.4,174.6 344.6,174.6 345.8,175.3 346.9,174.8 348.1,175.1 349.3,174.3 350.4,174.0 351.6,175.1 352.8,174.9 354.0,174.9 355.2,174.2 356.3,174.7 357.5,173.5 358.7,173.7 359.9,174.5 361.1,173.7 362.3,173.4 363.6,173.5 364.8,175.1 366.0,173.7 367.2,174.1 368.4,173.8 369.7,175.3 370.9,173.7 372.1,174.3 373.4,174.2 374.6,173.8 375.9,173.5 377.1,172.5 378.4,173.7 379.6,174.6 380.9,173.5 382.1,174.4 383.4,173.5 384.6,173.5 385.7,172.6 386.9,172.7 388.0,173.0 389.2,173.3 390.4,171.9 391.6,171.6 392.8,172.3 394.0,172.2 395.2,172.5 396.4,173.2 397.6,171.7 398.8,173.1 400.0,172.2 401.2,171.8 402.4,170.6 403.6,172.5 404.8,172.6 406.1,171.7 407.3,171.6 408.5,170.9 409.8,169.9 411.0,170.5 412.2,170.0 413.4,170.0 414.7,170.2 415.9,170.3 417.1,170.9 418.4,171.3 419.6,170.3 420.8,170.8 422.1,170.0 423.3,170.0 424.5,170.3 425.8,169.6 427.0,170.1 428.2,169.6 429.5,169.3 430.7,169.3 431.9,170.6 433.1,169.8 434.4,169.3 435.6,169.7 436.8,169.0 438.0,169.2 439.2,169.2 440.5,168.4 441.7,169.3 442.9,169.6 444.1,169.5 445.4,169.2 446.6,170.0 447.8,168.8 449.1,170.0 450.3,169.9 451.6,169.4 452.8,170.2 454.1,168.8 455.3,169.5 456.5,169.2 457.8,168.9 459.0,169.2 460.3,169.6 461.5,169.6 462.8,169.8 464.0,169.0 465.2,169.4 466.5,169.4 467.7,169.1 468.9,169.5 470.1,168.2 471.4,168.8 472.6,169.2 473.8,169.3 475.0,169.9 476.2,169.2 477.4,170.6 478.6,168.7 479.8,170.7 481.0,169.0 482.1,168.9 483.3,169.1 484.5,169.2 485.6,169.4 486.8,169.3 487.9,169.8 489.1,170.0 490.2,168.8 491.5,170.2 492.7,169.6 494.0,169.4 495.2,169.9 496.4,169.2 497.6,170.1 498.7,168.5 499.9,169.9 501.0,168.8 502.2,169.5 503.3,168.7 504.4,169.9 505.5,169.1 506.7,169.3 507.8,168.1 508.9,167.8 510.0,168.8 511.2,169.5 512.3,168.6 513.4,167.6 514.6,169.4 515.8,168.0 516.9,168.7 518.1,167.7 519.4,167.7 520.6,168.2 521.9,166.4 523.2,167.4 524.5,167.6 525.8,167.6 527.2,166.8 528.6,168.4 530.0,167.5 531.0,167.5 531.9,166.5 532.9,167.5 533.9,167.9 534.9,168.0 535.9,167.8 537.0,167.4 538.0,167.3 539.1,167.5 540.1,167.8 541.2,167.2 542.3,167.2 543.3,167.5 544.4,167.1 545.5,167.4 546.6,167.3 547.8,166.7 548.9,168.1 550.0,167.6 551.2,166.6 552.3,166.6 553.5,166.8 554.6,166.7 555.8,166.5 557.0,167.2 558.2,166.8 559.3,166.4 560.5,167.9 561.7,166.8 562.9,167.1 564.2,166.1 565.4,166.3 566.6,166.3 567.8,167.4 569.0,167.3 570.3,166.7 571.5,166.6 572.8,167.0 574.0,166.3 575.3,166.6 576.5,167.3 577.8,166.2 579.1,167.1 580.3,166.6 581.6,166.8 582.9,166.6 584.1,167.1 585.4,167.1 586.7,166.9 588.0,165.6 589.2,166.6 590.5,167.2 591.8,165.9 593.1,165.6 594.4,166.3 595.7,166.9 597.0,165.7 598.2,166.6 599.5,166.2 600.8,166.3 602.1,166.5 603.4,166.2 604.7,165.9 606.0,166.3 607.3,167.1 608.5,166.5 609.8,166.5 611.1,165.5 612.4,165.7 613.7,165.2 614.9,166.5 616.2,166.5 617.5,166.2 618.7,166.3 620.0,165.6 621.1,165.6 622.3,166.5 623.4,165.5 624.6,166.3 625.8,166.6 626.9,164.9 628.1,165.0 629.2,166.5 630.4,166.1 631.6,166.4 632.7,166.4 633.9,165.2 635.1,166.5 636.3,166.1 637.4,165.8 638.6,165.4 639.8,164.9 641.0,164.6 642.2,164.2 643.4,164.5 644.5,164.5 645.7,165.0 646.9,164.4 648.1,163.8 649.3,164.8 650.5,163.5 651.7,164.4 652.9,165.0 654.1,163.6 655.3,163.8 656.5,164.4 657.8,165.2 659.0,164.2 660.2,164.0 661.4,164.4 662.6,163.1 663.8,163.2 665.0,164.5 666.2,164.5 667.5,164.3 668.7,164.0 669.9,164.1 671.1,162.7 672.3,163.1 673.6,163.4 674.8,164.2 676.0,163.7 677.2,163.5 678.4,162.7 679.7,163.4 680.9,163.5 682.1,163.6 683.3,163.1 684.6,164.4 685.8,162.4 687.0,163.6 688.3,162.2 689.5,162.1 690.7,163.3 691.9,162.6 693.2,162.3 694.4,162.7 695.6,164.1 696.8,162.2 698.1,162.3 699.3,163.2 700.5,162.1 701.8,163.8 703.0,161.5 704.2,162.1 705.4,162.7 706.7,162.0 707.9,161.8 709.1,161.1 710.3,161.9 711.6,162.4 712.8,161.7 714.0,161.2 715.2,162.5 716.4,162.2 717.7,161.9 718.9,161.4 720.1,161.0 721.3,162.1 722.5,161.4 723.7,161.1 725.0,161.1 726.2,161.4 727.4,161.6 728.6,161.1 729.8,160.8 731.0,160.3" fill="none" stroke="#231F20" stroke-width="2.5" stroke-linejoin="round" stroke-linecap="round" />
<polyline points="68.4,494.0 68.5,492.8 68.7,491.6 68.8,490.4 68.9,489.2 69.0,488.0 69.1,486.8 69.3,485.6 69.4,484.4 69.5,483.2 69.7,482.0 69.8,480.8 69.9,479.6 70.1,478.3 70.2,477.1 70.4,475.9 70.6,474.7 70.8,473.4 70.9,472.2 71.1,470.8 71.4,469.5 71.6,468.2 71.8,466.9 72.0,465.6 72.2,464.3 72.4,463.0 72.7,461.8 72.9,460.6 73.1,459.5 73.3,458.4 73.4,457.4 73.6,456.5 73.9,455.1 74.1,453.9 74.4,452.8 74.6,451.6 74.9,450.0 75.0,449.2 75.1,448.3 75.3,447.4 75.4,446.4 75.5,445.3 75.6,444.2 75.8,443.0 75.9,441.8 76.0,440.5 76.1,439.3 76.3,438.0 76.4,436.6 76.5,435.3 76.7,433.9 76.8,432.6 76.9,431.2 77.1,429.9 77.2,428.5 77.3,427.2 77.4,425.9 77.5,424.7 77.7,423.4 77.8,422.2 77.9,421.1 78.0,420.0 78.1,418.7 78.3,417.4 78.4,416.2 78.5,414.9 78.6,413.7 78.7,412.5 78.8,411.4 78.9,410.2 79.0,409.1 79.1,407.9 79.2,406.8 79.4,405.6 79.5,404.4 79.6,403.2 79.7,402.0 79.9,400.8 80.1,399.6 80.2,398.4 80.4,397.2 80.6,396.0 80.7,394.7 80.9,393.5 81.1,392.3 81.3,391.0 81.5,389.8 81.7,388.5 81.9,387.3 82.1,386.1 82.3,384.8 82.5,383.6 82.7,382.3 82.9,381.1 83.1,379.8 83.3,378.6 83.5,377.4 83.7,376.1 83.8,374.9 84.0,373.7 84.2,372.5 84.3,371.2 84.5,370.0 84.7,368.8 84.9,367.5 85.0,366.3 85.2,365.1 85.4,363.9 85.6,362.6 85.8,361.4 86.0,360.2 86.2,359.0 86.4,357.7 86.6,356.5 86.8,355.3 87.1,354.0 87.3,352.8 87.6,351.6 87.8,350.3 88.1,349.1 88.4,347.9 88.6,346.6 88.9,345.4 89.2,344.1 89.5,342.9 89.8,341.7 90.1,341.6 90.4,339.2 90.7,337.5 91.0,335.3 91.3,334.4 91.6,334.5 91.9,333.2 92.2,331.2 92.5,330.9 92.8,330.7 93.2,328.9 93.5,328.2 93.8,327.0 94.2,325.9 94.5,324.4 94.9,322.2 95.2,320.8 95.5,320.0 95.9,319.0 96.2,317.5 96.5,316.8 96.8,314.9 97.1,315.2 97.4,315.3 97.7,312.7 98.1,311.2 98.4,310.3 98.8,308.2 99.1,307.9 99.4,307.4 99.7,305.5 100.0,304.2 100.4,303.0 100.7,302.1 101.1,300.7 101.5,299.2 102.0,298.0 102.4,295.8 102.9,294.6 103.4,295.2 103.9,295.2 104.4,293.5 104.9,290.9 105.4,290.2 105.8,289.1 106.3,286.8 106.7,285.4 107.2,283.6 107.6,284.5 108.1,284.6 108.6,280.5 109.1,278.8 109.6,278.4 110.1,278.2 110.6,277.7 111.1,275.6 111.6,275.2 112.2,275.6 112.8,273.7 113.3,271.6 113.9,270.4 114.5,270.0 115.1,269.7 115.7,268.2 116.3,266.5 116.9,266.4 117.6,265.7 118.2,264.5 118.9,264.4 119.6,261.9 120.3,260.0 121.0,259.8 121.7,258.3 122.3,257.1 123.0,257.0 123.7,255.0 124.4,253.6 125.2,253.8 125.9,252.6 126.7,251.0 127.4,249.4 128.2,248.8 129.0,248.7 129.7,247.6 130.5,247.4 131.3,246.5 132.0,244.4 132.8,244.6 133.6,244.3 134.3,243.1 135.2,242.5 136.0,240.6 136.9,238.3 137.7,238.7 138.6,237.3 139.4,235.1 140.3,236.5 141.1,235.6 142.0,234.3 142.8,233.4 143.7,233.6 144.5,233.2 145.4,231.5 146.3,229.8 147.2,228.9 148.1,229.3 149.0,227.7 149.8,226.9 150.7,226.2 151.6,225.2 152.6,224.2 153.5,222.8 154.5,221.6 155.5,221.3 156.5,221.1 157.4,219.8 158.4,220.3 159.3,220.1 160.3,218.3 161.4,217.2 162.4,217.2 163.5,217.1 164.5,215.4 165.6,214.6 166.7,214.8 167.8,214.4 168.8,214.2 169.9,214.2 171.0,214.2 172.0,212.6 173.1,210.6 174.2,210.2 175.3,209.5 176.5,209.1 177.6,208.4 178.8,208.3 179.9,207.2 181.1,206.0 182.2,206.6 183.3,206.6 184.5,205.6 185.6,204.6 186.6,204.1 187.7,203.7 188.7,203.0 189.7,202.6 190.8,202.8 191.9,203.0 193.0,201.3 194.0,199.9 195.0,199.7 196.0,198.8 197.0,197.7 198.0,197.0 199.0,197.0 200.0,196.4 201.1,195.2 202.1,195.4 203.1,195.3 204.2,193.9 205.2,193.3 206.3,192.8 207.4,191.9 208.7,191.9 210.0,191.7 210.9,190.3 211.9,190.8 212.9,191.0 214.0,189.2 215.0,189.0 216.1,189.1 217.3,189.0 218.4,188.3 219.6,187.7 220.8,187.1 222.1,186.2 223.3,186.9 224.6,187.1 225.8,187.7 227.1,187.3 228.4,186.2 229.7,185.6 231.0,186.1 232.3,186.6 233.6,184.5 234.9,184.4 236.0,184.8 237.1,185.8 238.3,186.6 239.4,184.6 240.6,184.2 241.7,184.8 242.9,184.0 244.1,183.3 245.3,183.3 246.5,182.7 247.7,182.9 248.9,183.1 250.1,182.7 251.4,182.6 252.6,182.1 253.8,183.4 255.1,183.9 256.3,183.0 257.5,184.3 258.8,183.7 260.0,181.5 261.2,180.3 262.5,179.7 263.7,181.0 264.9,180.9 266.2,179.1 267.4,179.8 268.6,180.9 269.8,181.7 271.0,180.7 272.2,180.1 273.4,179.3 274.7,179.3 275.9,180.7 277.1,179.1 278.4,179.5 279.6,180.0 280.8,179.4 282.1,179.1 283.3,179.2 284.5,179.4 285.8,177.9 287.0,176.7 288.2,176.6 289.4,177.4 290.7,178.1 291.9,177.6 293.1,176.8 294.3,176.1 295.5,176.2 296.7,176.9 297.8,177.0 299.0,177.3 300.2,177.7 301.3,176.3 302.5,176.6 303.6,177.6 304.7,176.0 306.0,175.1 307.2,175.1 308.4,174.4 309.6,173.5 310.8,173.7 311.9,173.7 313.1,171.8 314.2,172.3 315.3,172.7 316.5,172.4 317.6,173.2 318.7,172.5 319.9,173.0 321.0,172.8 322.2,171.6 323.4,172.1 324.7,172.7 325.9,171.9 327.2,171.2 328.6,171.0 330.0,171.5 331.0,172.1 332.0,172.2 333.1,171.8 334.1,170.6 335.2,170.9 336.3,173.0 337.4,173.4 338.5,171.0 339.6,170.3 340.8,170.7 342.0,170.0 343.1,169.8 344.3,169.2 345.5,168.2 346.7,168.8 348.0,169.0 349.2,168.2 350.4,168.4 351.7,168.7 352.9,168.5 354.2,168.2 355.5,168.0 356.7,168.1 358.0,168.4 359.3,169.0 360.6,168.9 361.9,167.5 363.1,167.4 364.4,168.1 365.7,167.3 367.0,166.2 368.3,165.0 369.6,166.1 370.9,167.4 372.1,167.2 373.4,166.0 374.7,163.6 376.0,164.6 377.2,165.4 378.5,165.1 379.7,165.0 381.0,165.3 382.2,165.5 383.4,164.7 384.6,165.1 385.8,164.8 387.0,164.2 388.2,165.1 389.5,165.2 390.7,164.4 391.9,164.7 393.1,164.5 394.3,164.4 395.5,165.4 396.7,165.7 398.0,163.5 399.2,161.4 400.4,161.7 401.6,161.5 402.8,160.2 404.0,161.0 405.2,161.9 406.4,162.6 407.7,163.4 408.9,164.5 410.1,163.7 411.3,161.9 412.5,162.4 413.7,163.4 414.9,163.0 416.2,161.7 417.4,160.1 418.6,161.1 419.8,162.5 421.0,162.9 422.2,164.1 423.4,164.2 424.7,163.3 425.9,162.6 427.1,161.4 428.3,161.0 429.5,161.6 430.7,161.9 431.9,161.7 433.2,160.8 434.4,160.5 435.6,161.7 436.8,162.2 438.0,160.4 439.2,160.0 440.5,159.7 441.7,160.6 442.9,162.1 444.1,161.4 445.4,160.7 446.6,159.6 447.9,160.3 449.1,161.1 450.3,161.3 451.6,160.9 452.8,159.9 454.1,160.7 455.3,160.8 456.5,160.1 457.8,160.2 459.0,160.4 460.3,159.7 461.5,158.7 462.7,159.4 464.0,160.0 465.2,159.4 466.5,159.3 467.7,159.1 468.9,158.9 470.1,160.2 471.4,161.5 472.6,160.2 473.8,159.2 475.0,159.1 476.2,158.4 477.4,158.2 478.6,158.6 479.8,157.9 481.0,157.5 482.1,157.3 483.3,157.9 484.5,158.3 485.6,157.5 486.8,157.7 487.9,158.2 489.1,157.8 490.2,158.5 491.5,158.4 492.7,156.6 494.0,156.8 495.2,157.0 496.4,157.3 497.6,158.2 498.7,157.5 499.9,157.4 501.0,157.3 502.2,156.6 503.3,155.7 504.4,154.7 505.5,155.5 506.7,157.8 507.8,157.3 508.9,156.1 510.0,156.4 511.2,156.7 512.3,156.6 513.4,156.2 514.6,156.9 515.8,156.6 516.9,156.2 518.1,156.4 519.4,156.7 520.6,157.2 521.9,157.3 523.2,157.2 524.5,156.1 525.8,155.5 527.2,156.4 528.6,156.7 530.0,156.9 531.0,156.0 531.9,155.0 532.9,155.2 533.9,155.9 534.9,156.0 535.9,155.3 537.0,155.8 538.0,156.1 539.1,155.2 540.1,155.7 541.2,156.3 542.3,156.3 543.3,156.7 544.4,156.0 545.5,155.5 546.6,155.8 547.8,156.4 548.9,156.4 550.0,156.6 551.2,156.3 552.3,155.7 553.5,156.8 554.6,155.9 555.8,154.4 557.0,155.6 558.1,156.8 559.3,157.0 560.5,157.0 561.7,157.1 562.9,156.3 564.2,155.6 565.4,156.3 566.6,155.5 567.8,154.4 569.0,154.8 570.3,156.1 571.5,156.9 572.8,155.6 574.0,154.8 575.3,155.2 576.5,155.6 577.8,156.0 579.0,156.0 580.3,155.3 581.6,155.9 582.9,157.1 584.1,155.8 585.4,155.1 586.7,156.4 588.0,156.7 589.2,156.3 590.5,155.8 591.8,156.4 593.1,156.0 594.4,155.7 595.7,157.4 597.0,156.4 598.2,156.1 599.5,157.0 600.8,155.8 602.1,155.4 603.4,156.6 604.7,156.3 606.0,155.2 607.2,153.7 608.5,153.0 609.8,154.4 611.1,155.3 612.4,155.9 613.7,156.5 614.9,157.3 616.2,157.1 617.5,157.7 618.7,157.7 620.0,156.8 621.1,155.8 622.3,155.3 623.4,156.3 624.6,156.6 625.8,155.7 626.9,155.1 628.1,154.6 629.2,154.8 630.4,154.9 631.6,155.2 632.7,156.0 633.9,155.8 635.1,156.0 636.3,155.8 637.4,155.9 638.6,155.7 639.8,154.2 641.0,154.9 642.2,155.4 643.4,155.1 644.5,155.9 645.7,155.5 646.9,155.3 648.1,155.2 649.3,155.2 650.5,155.0 651.7,154.8 652.9,154.9 654.1,155.3 655.3,154.8 656.5,154.6 657.7,154.0 659.0,153.3 660.2,153.1 661.4,153.4 662.6,154.6 663.8,155.1 665.0,154.1 666.2,154.1 667.5,154.3 668.7,153.5 669.9,153.8 671.1,154.9 672.3,155.3 673.6,155.6 674.8,156.0 676.0,154.6 677.2,154.2 678.4,155.1 679.7,154.3 680.9,153.2 682.1,153.7 683.3,153.7 684.6,153.6 685.8,154.7 687.0,154.9 688.3,153.7 689.5,153.4 690.7,152.7 691.9,153.4 693.2,153.8 694.4,155.4 695.6,156.0 696.8,153.5 698.1,152.5 699.3,152.5 700.5,153.4 701.8,153.3 703.0,153.4 704.2,154.1 705.4,154.1 706.7,153.9 707.9,153.6 709.1,152.8 710.3,152.1 711.6,151.5 712.8,151.9 714.0,153.2 715.2,153.4 716.4,152.4 717.7,152.9 718.9,152.9 720.1,151.6 721.3,151.6 722.5,151.9 723.7,152.4 725.0,152.0 726.2,151.0 727.4,152.0 728.6,153.1 729.8,153.1 731.0,153.3" fill="none" stroke="#F7941D" stroke-width="2.7" stroke-linejoin="round" stroke-linecap="round" />
<path d="M14,132.9 H42.7 V96.3 H61.7 V132.9 H731" fill="none" stroke="#231F20" stroke-width="4.4" stroke-linecap="round" stroke-linejoin="round"/>
<line x1="602.5" y1="247.5" x2="698.6" y2="247.5" stroke="#231F20" stroke-width="4.6" stroke-linecap="round"/>
<rect x="201.7" y="371.3" width="63.5" height="36.1" fill="#BCBEC0"/>
<line x1="202.0" y1="389.4" x2="265.2" y2="389.4" stroke="#231F20" stroke-width="4" stroke-linecap="round"/>
<line x1="201.7" y1="432.6" x2="265.2" y2="432.6" stroke="#00AEEF" stroke-width="4.8"/>
<line x1="201.7" y1="445.8" x2="265.6" y2="445.8" stroke="#ED1C24" stroke-width="4.7"/>
<line x1="201.7" y1="459.0" x2="265.1" y2="459.0" stroke="#8B5E3C" stroke-width="4.7" stroke-linecap="round"/>
<line x1="201.7" y1="472.4" x2="265.1" y2="472.4" stroke="#2E3192" stroke-width="4.7" stroke-linecap="round"/>
<line x1="201.7" y1="485.5" x2="265.1" y2="485.5" stroke="#F7941D" stroke-width="4.7" stroke-linecap="round"/>
<rect x="1026.1" y="371.3" width="63.5" height="36.1" fill="#BCBEC0"/>
<line x1="1026.4" y1="389.4" x2="1089.6" y2="389.4" stroke="#231F20" stroke-width="4" stroke-linecap="round"/>
<line x1="1026.1" y1="432.6" x2="1089.6" y2="432.6" stroke="#00AEEF" stroke-width="4.8"/>
<line x1="1026.1" y1="445.8" x2="1090.0" y2="445.8" stroke="#ED1C24" stroke-width="4.7"/>
<line x1="1026.1" y1="459.0" x2="1089.5" y2="459.0" stroke="#8B5E3C" stroke-width="4.7" stroke-linecap="round"/>
<line x1="1026.1" y1="472.4" x2="1089.5" y2="472.4" stroke="#2E3192" stroke-width="4.7" stroke-linecap="round"/>
<line x1="1026.1" y1="485.5" x2="1089.5" y2="485.5" stroke="#F7941D" stroke-width="4.7" stroke-linecap="round"/>
<polygon points="765.0,157.7 810.4,157.7 810.4,273.0 765.0,278.0" fill="#BCBEC0"/>
<polygon points="813.0,330.0 816.0,400.0 821.0,470.0 820.0,505.0 814.0,505.0" fill="#BCBEC0"/>
<polygon points="818.1,522.0 818.5,520.5 819.0,518.9 819.4,517.4 819.8,515.8 820.3,514.3 820.7,512.7 821.2,511.2 821.6,509.7 822.0,508.1 822.5,506.6 822.9,505.0 823.4,503.5 823.8,501.9 824.3,500.4 824.7,498.8 825.1,497.3 825.6,495.7 826.0,494.2 826.5,492.6 826.9,491.1 827.4,489.5 827.8,488.0 828.3,486.4 828.8,484.9 829.2,483.4 829.7,481.8 830.1,480.3 830.6,478.7 831.1,477.2 831.6,475.6 832.0,474.1 832.5,472.6 833.0,471.0 833.5,469.5 834.0,468.0 834.5,466.4 835.0,464.9 835.5,463.4 836.0,461.8 836.5,460.3 837.0,458.8 837.5,457.2 838.0,455.7 838.6,454.2 839.1,452.7 839.6,451.1 840.2,449.6 840.7,448.1 841.3,446.6 841.9,445.1 842.4,443.6 843.0,442.1 843.6,440.6 844.2,439.1 844.7,437.6 845.3,436.1 845.9,434.6 846.6,433.1 847.2,431.6 847.8,430.1 848.4,428.6 849.1,427.1 849.7,425.7 850.4,424.2 851.0,422.7 851.7,421.2 852.4,419.8 853.1,418.3 853.8,416.8 854.5,415.4 855.2,413.9 855.9,412.5 856.6,411.0 857.3,409.6 858.1,408.1 858.8,406.7 859.6,405.3 860.4,403.8 861.1,402.4 861.9,401.0 862.7,399.6 863.5,398.2 864.3,396.8 865.1,395.4 865.9,394.0 866.8,392.6 867.6,391.2 868.4,389.8 869.3,388.4 870.1,387.0 871.0,385.7 871.9,384.3 872.8,382.9 873.7,381.6 874.5,380.2 875.5,378.9 876.4,377.6 877.3,376.2 878.2,374.9 879.1,373.6 880.1,372.2 881.0,370.9 882.0,369.6 883.0,368.3 883.9,367.0 884.9,365.7 885.9,364.5 886.9,363.2 887.9,361.9 888.9,360.7 889.9,359.4 890.9,358.2 891.9,356.9 893.0,355.7 894.0,354.4 895.1,353.2 896.1,352.0 897.2,350.8 898.3,349.6 899.3,348.4 900.4,347.2 901.5,346.0 902.6,344.8 903.7,343.7 904.8,342.5 905.9,341.4 907.1,340.2 908.2,339.1 909.3,337.9 910.5,336.8 911.6,335.7 912.8,334.6 913.9,333.4 915.1,332.3 916.3,331.2 917.5,330.2 918.6,329.1 919.8,328.0 921.0,326.9 922.2,325.9 923.4,324.8 924.7,323.8 925.9,322.7 927.1,321.7 928.3,320.7 929.6,319.6 930.8,318.6 932.1,317.6 933.3,316.6 934.6,315.6 935.8,314.6 937.1,313.7 938.4,312.7 939.7,311.7 941.0,310.8 942.2,309.8 943.5,308.9 944.8,307.9 946.1,307.0 947.5,306.1 948.8,305.2 950.1,304.3 951.4,303.3 952.7,302.5 954.1,301.6 955.4,300.7 956.8,299.8 958.1,298.9 959.5,298.1 960.8,297.2 962.2,296.4 963.6,295.5 964.9,294.7 966.3,293.9 967.7,293.1 969.1,292.2 970.4,291.4 971.8,290.6 973.2,289.8 974.6,289.1 976.0,288.3 977.4,287.5 978.9,286.8 980.3,286.0 981.7,285.3 983.1,284.5 984.5,283.8 986.0,283.0 987.4,282.3 988.8,281.6 990.3,280.9 991.7,280.2 993.2,279.5 994.6,278.8 996.1,278.2 997.5,277.5 999.0,276.8 1000.5,276.2 1001.9,275.5 1003.4,274.9 1004.9,274.2 1006.3,273.6 1007.8,273.0 1009.3,272.4 1010.8,271.8 1012.3,271.2 1013.8,270.6 1015.3,270.0 1016.8,269.4 1018.3,268.8 1019.8,268.3 1021.3,267.7 1022.8,267.1 1024.3,266.6 1025.8,266.0 1027.3,265.5 1028.8,265.0 1030.3,264.4 1031.8,263.9 1033.4,263.4 1034.9,262.9 1036.4,262.4 1037.9,261.9 1039.5,261.4 1041.0,260.9 1042.5,260.4 1044.1,259.9 1045.6,259.4 1047.1,258.9 1048.7,258.5 1050.2,258.0 1051.8,257.5 1053.3,257.1 1054.8,256.6 1056.4,256.2 1057.9,255.7 1059.5,255.3 1061.0,254.9 1062.6,254.4 1064.1,254.0 1065.7,253.6 1067.2,253.1 1068.8,252.7 1070.3,252.3 1071.9,251.9 1073.5,251.5 1075.0,251.1 1076.6,250.7 1078.1,250.3 1079.7,249.9 1081.2,249.5 1082.8,249.1 1084.4,248.7 1085.9,248.3 1087.5,247.9 1089.1,247.5 1090.6,247.1 1092.2,246.7 1093.7,246.4 1095.3,246.0 1096.9,245.6 1098.4,245.2 1100.0,244.9 1101.6,244.5 1103.1,244.1 1104.7,243.8 1106.3,243.4 1107.8,243.1 1109.4,242.7 1111.0,242.3 1112.5,242.0 1114.1,241.6 1115.7,241.3 1117.3,240.9 1118.8,240.6 1120.4,240.2 1122.0,239.9 1123.5,239.5 1125.1,239.2 1126.7,238.9 1128.3,238.5 1129.8,238.2 1131.4,237.8 1133.0,237.5 1134.5,237.2 1136.1,236.8 1137.7,236.5 1139.3,236.2 1140.8,235.8 1142.4,235.5 1144.0,235.2 1145.6,234.8 1147.1,234.5 1148.7,234.2 1150.3,233.9 1151.9,233.5 1153.4,233.2 1155.0,232.9 1156.6,232.5 1158.2,232.2 1159.7,231.9 1161.3,231.6 1162.9,231.2 1164.5,230.9 1166.0,230.6 1167.6,230.3 1169.2,229.9 1170.8,229.6 1172.3,229.3 1173.9,229.0 1175.5,228.6 1177.1,228.3 1178.6,228.0 1180.2,227.7 1181.8,227.3 1183.4,227.0 1184.9,226.7 1186.5,226.4 1188.1,226.0 1189.7,225.7 1191.2,225.4 1192.8,225.1 1194.4,224.8 1196.0,224.4 1197.6,224.1 1199.1,223.8 1200.7,223.5 1202.3,223.2 1203.9,222.8 1205.4,222.5 1207.0,222.2 1208.6,221.9 1210.2,221.6 1211.7,221.3 1213.3,220.9 1214.9,220.6 1216.5,220.3 1218.1,220.0 1219.6,219.7 1221.2,219.4 1222.8,219.1 1224.4,218.8 1225.9,218.5 1227.5,218.1 1229.1,217.8 1230.7,217.5 1232.3,217.2 1233.8,216.9 1235.4,216.6 1237.0,216.3 1238.6,216.0 1240.2,215.7 1241.7,215.4 1243.3,215.1 1244.9,214.8 1246.5,214.5 1248.1,214.2 1249.6,213.9 1251.2,213.6 1252.8,213.3 1254.4,213.0 1256.0,212.8 1257.5,212.5 1259.1,212.2 1260.7,211.9 1262.3,211.6 1263.9,211.3 1265.5,211.0 1267.0,210.7 1268.6,210.5 1270.2,210.2 1271.8,209.9 1273.4,209.6 1275.0,209.4 1276.5,209.1 1278.1,208.8 1279.7,208.5 1281.3,208.3 1282.9,208.0 1284.5,207.7 1286.0,207.5 1287.6,207.2 1289.2,206.9 1290.8,206.7 1292.4,206.4 1294.0,206.1 1295.6,205.9 1297.1,205.6 1298.7,205.4 1300.3,205.1 1301.9,204.9 1303.5,204.6 1305.1,204.4 1306.7,204.1 1308.3,203.9 1309.8,203.6 1311.4,203.4 1313.0,203.2 1314.6,202.9 1316.2,202.7 1317.8,202.5 1319.4,202.2 1321.0,202.0 1322.6,201.8 1324.2,201.5 1325.7,201.3 1327.3,201.1 1328.9,200.9 1330.5,200.6 1332.1,200.4 1333.7,200.2 1335.3,200.0 1336.9,199.8 1338.5,199.6 1340.1,199.4 1341.7,199.2 1343.3,199.0 1344.9,198.8 1346.5,198.6 1348.1,198.4 1349.7,198.2 1351.3,198.0 1352.9,197.8 1354.4,197.6 1356.0,197.4 1357.6,197.2 1359.2,197.1 1360.8,196.9 1362.4,196.7 1364.0,196.5 1365.6,196.4 1367.2,196.2 1368.8,196.0 1370.4,195.9 1372.0,195.7 1373.6,195.5 1375.2,195.4 1376.8,195.2 1378.4,195.1 1380.0,194.9 1381.7,194.8 1383.3,194.6 1384.9,194.5 1386.5,194.3 1387.0,194.3 1388.0,194.0 1388.2,193.6 1388.4,191.5 1388.5,190.3 1388.7,189.7 1388.9,188.1 1389.0,186.6 1389.2,185.5 1389.5,183.8 1389.7,183.5 1390.0,181.9 1390.4,180.9 1390.8,180.0 1391.2,178.4 1391.7,176.8 1392.2,175.6 1392.7,174.3 1393.3,173.9 1394.0,171.1 1394.7,170.8 1395.4,169.6 1396.2,169.3 1397.0,168.2 1397.9,167.5 1398.9,167.6 1400.0,166.1 1400.9,165.9 1401.8,164.8 1402.8,164.2 1403.9,163.6 1405.0,164.4 1406.2,162.8 1407.3,162.7 1408.6,163.7 1409.8,162.4 1411.1,161.9 1412.4,161.5 1413.7,160.8 1415.0,161.2 1416.1,161.3 1417.2,160.1 1418.4,160.1 1419.6,160.9 1420.8,159.8 1422.0,160.2 1423.2,160.8 1424.5,159.1 1425.8,159.4 1427.1,158.8 1428.4,158.1 1429.7,159.6 1431.0,159.2 1432.3,158.7 1433.6,158.9 1434.9,158.3 1436.2,157.7 1437.5,158.0 1438.7,157.8 1440.0,157.5 1441.3,158.4 1442.5,157.3 1443.8,157.0 1445.0,157.5 1446.3,157.5 1447.5,157.9 1448.8,157.1 1450.0,156.1 1451.3,156.2 1452.5,156.9 1453.8,156.0 1455.0,156.4 1456.3,156.9 1457.5,155.2 1458.8,155.0 1460.0,155.5 1461.3,155.4 1462.5,155.7 1463.8,154.4 1465.0,155.3 1466.2,154.7 1467.4,153.9 1468.6,154.5 1469.8,154.7 1471.0,155.2 1472.2,153.9 1473.4,154.4 1474.6,153.3 1475.8,154.3 1477.0,153.8 1478.2,154.3 1479.4,152.8 1480.6,152.8 1481.8,152.4 1483.0,154.0 1484.2,152.8 1485.4,152.0 1486.6,152.4 1487.8,153.0 1489.0,152.8 1489.0,166.0 1487.8,166.3 1486.5,166.6 1485.3,166.8 1484.1,167.1 1482.9,167.4 1481.6,167.6 1480.4,167.9 1479.2,168.2 1477.9,168.5 1476.6,168.8 1475.3,169.1 1473.9,169.5 1472.9,169.8 1471.8,170.0 1470.7,170.3 1469.6,170.6 1468.4,170.9 1467.3,171.2 1466.1,171.4 1465.0,171.7 1463.8,172.0 1462.6,172.4 1461.4,172.7 1460.2,173.0 1459.0,173.4 1457.8,173.7 1456.6,174.1 1455.4,174.5 1454.3,174.9 1453.1,175.3 1451.9,175.7 1450.8,176.2 1449.7,176.7 1448.5,177.2 1447.4,177.7 1446.3,178.2 1445.1,178.7 1444.0,179.3 1442.8,179.8 1441.7,180.4 1440.6,181.0 1439.4,181.6 1438.3,182.2 1437.2,182.8 1436.1,183.5 1435.0,184.1 1433.9,184.8 1432.8,185.4 1431.8,186.1 1430.7,186.8 1429.7,187.5 1428.7,188.2 1427.7,188.9 1426.7,189.6 1425.7,190.4 1424.7,191.2 1423.7,191.9 1422.7,192.7 1421.7,193.5 1420.7,194.3 1419.8,195.2 1418.9,196.0 1418.0,196.8 1417.0,197.7 1416.2,198.6 1415.3,199.4 1414.4,200.3 1413.6,201.2 1412.8,202.2 1412.0,203.1 1411.2,204.0 1410.4,205.0 1409.6,206.0 1408.9,207.0 1408.2,208.0 1407.5,209.1 1406.8,210.2 1406.2,211.3 1405.5,212.4 1404.9,213.5 1404.3,214.6 1403.7,215.8 1403.1,216.9 1402.5,218.0 1402.0,219.2 1401.4,220.3 1400.9,221.4 1400.4,222.5 1399.9,223.6 1399.4,224.7 1398.9,225.8 1398.4,227.0 1397.9,228.2 1397.4,229.3 1396.9,230.5 1396.5,231.7 1396.1,232.9 1395.7,234.0 1395.3,235.2 1394.9,236.4 1394.5,237.5 1394.2,238.6 1393.9,239.8 1393.6,240.9 1393.3,241.9 1393.0,243.0 1392.7,244.3 1392.4,245.6 1392.2,246.9 1392.0,248.2 1391.9,249.5 1391.7,250.7 1391.6,251.9 1391.4,253.0 1391.2,254.0 1391.0,255.0 1390.5,256.7 1390.0,258.1 1389.5,259.5 1386.8,259.8 1385.1,258.9 1383.5,259.4 1381.8,258.5 1380.2,258.7 1378.6,259.7 1376.9,259.8 1375.3,259.3 1373.6,258.6 1372.0,259.1 1370.4,259.4 1368.7,260.5 1367.1,259.5 1365.5,259.3 1363.9,259.5 1362.3,259.8 1360.6,260.2 1359.0,260.5 1357.4,261.7 1355.8,260.7 1354.2,260.2 1352.6,261.9 1351.0,261.3 1349.4,261.6 1347.8,261.9 1346.2,262.6 1344.6,262.8 1343.0,263.3 1341.4,263.2 1339.8,263.7 1338.2,263.5 1336.6,263.8 1335.0,264.3 1333.4,264.8 1331.8,264.5 1330.2,265.1 1328.6,266.6 1327.0,267.0 1325.5,267.6 1323.9,267.7 1322.3,268.0 1320.7,268.8 1319.1,268.7 1317.5,268.6 1316.0,269.0 1314.4,269.7 1312.8,270.2 1311.2,270.3 1309.6,270.6 1308.0,271.2 1306.5,271.2 1304.9,273.1 1303.3,272.7 1301.7,271.9 1300.1,273.7 1298.6,273.3 1297.0,274.0 1295.4,274.5 1293.8,275.4 1292.2,275.3 1290.6,275.9 1289.1,276.1 1287.5,277.7 1285.9,277.0 1284.3,277.0 1282.7,277.1 1281.1,278.2 1279.5,278.3 1277.9,279.0 1276.3,279.5 1274.8,279.1 1273.2,280.1 1271.6,280.0 1270.0,280.4 1268.4,280.6 1266.8,281.3 1265.2,281.4 1263.6,281.7 1262.0,282.2 1260.4,282.0 1258.8,283.6 1257.2,283.5 1255.5,283.3 1253.9,283.9 1252.3,283.6 1250.7,284.4 1249.1,283.8 1247.5,284.8 1245.9,285.1 1244.3,285.2 1242.7,285.9 1241.0,285.4 1239.4,286.1 1237.8,286.6 1236.2,286.8 1234.6,286.8 1233.0,287.8 1231.3,287.6 1229.7,287.8 1228.1,287.4 1226.5,288.0 1224.9,287.9 1223.3,289.4 1221.7,288.8 1220.1,288.5 1218.4,289.6 1216.8,289.9 1215.2,289.4 1213.6,290.0 1212.0,291.4 1210.4,290.4 1208.8,290.9 1207.2,292.5 1205.6,291.2 1204.0,291.0 1202.4,291.4 1200.8,292.2 1199.2,292.8 1197.6,292.3 1196.0,292.1 1194.4,293.7 1192.8,293.6 1191.2,293.8 1189.7,294.0 1188.1,295.3 1186.5,295.0 1184.9,294.8 1183.3,295.4 1181.7,296.0 1180.2,295.9 1178.6,296.7 1177.0,297.9 1175.4,298.2 1173.9,298.7 1172.3,299.1 1170.7,299.1 1169.2,299.6 1167.6,299.0 1166.0,300.7 1164.5,301.0 1162.9,301.3 1161.3,301.8 1159.8,301.6 1158.2,302.3 1156.7,302.3 1155.1,303.3 1153.6,303.9 1152.0,304.2 1150.5,305.5 1148.9,305.0 1147.4,306.1 1145.8,306.6 1144.3,306.9 1142.7,307.7 1141.2,308.2 1139.6,308.3 1138.1,309.7 1136.5,309.5 1135.0,310.4 1133.5,310.2 1131.9,310.8 1130.4,311.8 1128.9,313.4 1127.3,312.3 1125.8,312.9 1124.3,313.6 1122.8,314.4 1121.2,315.2 1119.7,316.2 1118.2,316.2 1116.7,317.2 1115.1,317.5 1113.6,317.8 1112.1,318.5 1110.6,319.5 1109.1,320.0 1107.5,321.2 1106.0,321.2 1104.5,321.7 1103.0,321.8 1101.5,322.6 1100.0,323.8 1098.5,324.4 1097.0,325.7 1095.5,325.2 1093.9,326.5 1092.4,326.8 1090.9,326.5 1089.4,327.5 1087.9,328.9 1086.4,329.2 1084.9,329.8 1083.4,331.3 1081.9,331.3 1080.4,332.2 1078.9,333.1 1077.4,333.2 1076.0,334.4 1074.5,334.3 1073.0,334.8 1071.5,336.7 1070.0,337.4 1068.5,337.8 1067.0,337.8 1065.5,338.7 1064.0,339.1 1062.6,339.8 1061.1,341.0 1059.6,341.4 1058.1,342.9 1056.6,342.3 1055.1,343.5 1053.7,343.9 1052.2,344.5 1050.7,346.8 1049.2,347.3 1047.8,347.5 1046.3,348.3 1044.8,349.0 1043.3,349.4 1041.9,348.6 1040.4,349.8 1038.9,351.9 1037.5,351.1 1036.0,353.7 1034.5,354.1 1033.0,354.6 1031.6,355.4 1030.1,356.2 1028.6,356.3 1027.2,358.2 1025.7,358.0 1024.3,358.4 1022.8,360.4 1021.3,360.3 1019.9,361.2 1018.4,362.3 1017.0,363.5 1015.5,363.2 1014.0,364.0 1012.6,364.0 1011.1,365.4 1009.7,366.9 1008.2,366.5 1006.8,367.1 1005.3,367.5 1003.9,368.4 1002.4,369.1 1001.0,370.5 999.5,371.4 998.1,371.0 996.6,372.9 995.2,374.1 993.7,374.6 992.3,374.5 990.8,376.0 989.4,376.1 988.0,376.6 986.5,377.2 985.1,377.9 983.7,379.2 982.2,380.4 980.8,380.0 979.4,380.7 978.0,383.0 976.5,382.7 975.1,385.1 973.7,384.9 972.3,384.8 970.9,386.8 969.5,387.6 968.1,387.1 966.7,388.6 965.3,390.2 964.0,389.6 962.6,391.4 961.2,392.2 959.8,393.8 958.5,394.4 957.1,394.4 955.8,394.8 954.4,396.2 953.1,397.3 951.7,398.1 950.4,398.8 949.1,399.5 947.7,401.5 946.4,401.6 945.1,402.4 943.8,403.8 942.5,404.7 941.2,405.6 940.0,407.2 938.7,407.1 937.4,408.8 936.1,410.1 934.9,410.5 933.6,411.8 932.4,413.1 931.2,414.1 929.9,414.9 928.7,415.4 927.5,416.7 926.3,418.3 925.1,419.3 923.9,420.4 922.8,421.5 921.6,422.0 920.4,424.4 919.3,424.7 918.1,427.2 916.9,429.0 915.8,429.2 914.6,430.2 913.5,430.9 912.3,431.9 911.1,433.4 910.0,435.2 908.8,435.9 907.6,436.3 906.4,438.6 905.3,439.1 904.1,440.9 902.9,441.6 901.7,442.3 900.4,443.5 899.2,445.1 898.0,445.5 896.7,447.5 895.4,447.4 894.1,449.4 892.8,449.0 891.5,450.0 890.2,451.7 888.9,453.0 887.5,453.0 886.2,454.4 884.9,454.4 883.6,455.2 882.3,456.6 881.0,458.5 879.7,458.2 878.5,458.5 877.3,459.1 876.1,461.2 875.0,462.6 873.9,463.3 872.8,464.7 871.8,465.4 870.8,467.6 869.8,468.5 868.8,468.8 867.9,470.5 867.0,472.8 866.1,473.5 865.2,473.8 864.4,476.2 863.5,477.5 862.7,477.9 862.0,480.8 861.3,482.6 860.6,482.9 859.9,484.1 859.2,485.8 858.5,487.0 857.8,488.5 857.1,490.2 856.4,490.5 855.7,492.5 855.0,494.9 854.3,495.2 853.6,496.7 852.8,498.3 852.0,499.2 851.2,500.3 850.4,503.5 849.5,503.8 848.7,504.7 847.8,507.0 846.9,507.6 846.0,508.7 845.0,510.1 844.1,511.0 843.1,512.3 842.1,514.4 841.0,515.1 840.0,516.0 838.8,517.8 837.7,518.5 836.5,518.8 835.2,519.3 833.7,520.6 832.4,522.2 831.1,521.7 829.6,523.8 828.1,523.1 826.6,522.9 825.0,523.7 823.4,524.8 821.8,523.8 820.2,524.4 818.6,524.4 818.0,523.7" fill="#BCBEC0"/>
<line x1="811.9" y1="157.9" x2="1420" y2="157.9" stroke="#231F20" stroke-width="2.6" stroke-dasharray="13.8 10.05"/>
<polyline points="765.0,221.1 766.3,220.5 767.5,220.9 768.8,220.6 770.0,220.4 771.3,221.2 772.5,221.5 773.8,220.6 775.0,221.0 776.2,220.6 777.4,220.3 778.5,220.2 779.7,220.4 780.9,220.3 782.2,219.6 783.5,219.2 785.0,219.2 786.0,218.6 787.0,218.9 788.1,218.6 789.2,218.8 790.3,218.1 791.5,218.8 792.8,218.5 794.0,218.6 795.3,218.6 796.6,219.0 797.9,218.4 799.2,218.0 800.5,218.9 801.9,218.8 803.2,218.4 804.5,218.9 805.9,218.9 807.2,218.1 808.5,218.2 809.7,218.1 811.0,218.5 811.0,219.7 811.1,220.9 811.1,222.1 811.1,223.3 811.1,224.5 811.2,225.7 811.2,226.9 811.2,228.1 811.3,229.3 811.3,230.4 811.3,231.6 811.3,232.8 811.4,233.9 811.4,235.1 811.4,236.3 811.5,237.4 811.5,238.6 811.5,239.7 811.5,240.9 811.6,242.1 811.6,243.2 811.6,244.4 811.7,245.5 811.7,246.7 811.7,247.8 811.7,249.0 811.8,250.1 811.8,251.3 811.8,252.5 811.9,253.6 811.9,254.8 811.9,256.0 811.9,257.1 812.0,258.3 812.0,259.5 812.0,260.6 812.0,261.8 812.1,263.0 812.1,264.2 812.1,265.4 812.2,266.6 812.2,267.8 812.2,269.0 812.3,270.2 812.3,271.4 812.3,272.6 812.3,273.9 812.4,275.1 812.4,276.3 812.4,277.6 812.5,278.8 812.5,280.1 812.5,281.4 812.6,282.6 812.6,283.9 812.6,285.2 812.7,286.5 812.7,287.8 812.7,289.1 812.8,290.5 812.8,291.8 812.8,293.1 812.9,294.5 812.9,295.8 812.9,297.2 813.0,298.6 813.0,300.0 813.0,301.0 813.1,302.1 813.1,303.1 813.1,304.2 813.1,305.2 813.2,306.3 813.2,307.4 813.2,308.5 813.2,309.6 813.3,310.7 813.3,311.8 813.3,313.0 813.3,314.1 813.4,315.2 813.4,316.4 813.4,317.6 813.4,318.7 813.5,319.9 813.5,321.1 813.5,322.3 813.5,323.5 813.6,324.7 813.6,325.9 813.6,327.2 813.6,328.4 813.7,329.6 813.7,330.9 813.7,332.1 813.8,333.4 813.8,334.6 813.8,335.9 813.8,337.1 813.9,338.4 813.9,339.7 813.9,341.0 813.9,342.3 814.0,343.6 814.0,344.8 814.0,346.1 814.0,347.4 814.1,348.7 814.1,350.1 814.1,351.4 814.2,352.7 814.2,354.0 814.2,355.3 814.2,356.6 814.3,357.9 814.3,359.3 814.3,360.6 814.3,361.9 814.4,363.2 814.4,364.6 814.4,365.9 814.5,367.2 814.5,368.6 814.5,369.9 814.5,371.2 814.6,372.5 814.6,373.9 814.6,375.2 814.7,376.5 814.7,377.9 814.7,379.2 814.8,380.5 814.8,381.8 814.8,383.1 814.8,384.5 814.9,385.8 814.9,387.1 814.9,388.4 815.0,389.7 815.0,391.0 815.0,392.3 815.1,393.6 815.1,394.9 815.1,396.2 815.2,397.5 815.2,398.8 815.2,400.1 815.3,401.3 815.3,402.6 815.3,403.9 815.4,405.1 815.4,406.4 815.4,407.6 815.5,408.9 815.5,410.1 815.5,411.3 815.6,412.6 815.6,413.8 815.6,415.0 815.7,416.2 815.7,417.4 815.8,418.6 815.8,419.8 815.8,420.9 815.9,422.1 815.9,423.3 815.9,424.4 816.0,425.6 816.0,426.7 816.1,427.8 816.1,428.9 816.1,430.1 816.2,431.2 816.2,432.2 816.3,433.3 816.3,434.4 816.3,435.5 816.4,436.5 816.4,437.5 816.5,438.6 816.5,439.6 816.6,440.6 816.6,441.6 816.6,442.6 816.7,443.5 816.7,444.5 816.8,445.4 816.8,446.4 816.9,447.3 816.9,448.2 817.0,449.1 817.0,450.0 817.1,451.5 817.2,453.1 817.2,454.6 817.3,456.1 817.4,457.7 817.5,459.2 817.6,460.7 817.7,462.2 817.7,463.6 817.8,465.1 817.9,466.6 818.0,468.0 818.1,469.4 818.2,470.8 818.3,472.2 818.3,473.6 818.4,475.0 818.5,476.3 818.6,477.6 818.7,478.9 818.8,480.2 818.9,481.5 819.0,482.7 819.1,483.9 819.2,485.1 819.3,486.3 819.4,487.4 819.5,488.5 819.6,489.6 819.7,490.6 819.8,491.6 819.9,492.6 820.0,493.6 820.1,494.5 820.3,495.4 820.4,496.3 820.5,497.1 820.6,497.9 820.7,498.6 820.9,499.3 821.0,500.0 821.4,501.8 821.9,503.2 822.3,504.4 822.8,505.5 823.2,506.8 824.6,506.2 826.0,505.5 827.3,504.5 828.7,503.1 830.0,503.1 831.2,502.6 832.6,501.2 833.8,500.6 835.1,499.0 836.3,498.6 837.5,497.7 838.6,496.1 839.7,495.0 840.8,493.1 841.8,492.8 842.8,490.8 843.8,490.0 844.7,489.2 845.6,487.2 846.5,485.8 847.4,484.5 848.2,482.7 849.0,481.3 849.8,480.5 850.6,478.3 851.4,477.0 852.1,475.3 852.8,474.5 853.4,472.7 854.1,471.7 854.8,470.3 855.4,469.0 856.1,467.4 856.7,466.1 857.4,465.3 858.0,463.8 858.7,462.3 859.3,460.9 860.0,458.8 860.6,457.9 861.3,456.8 862.0,455.4 862.7,454.1 863.4,452.1 864.0,451.4 864.7,449.7 865.4,448.7 866.1,447.8 866.8,446.1 867.5,444.5 868.3,442.9 869.0,442.2 869.7,439.9 870.4,439.0 871.2,437.1 871.9,436.6 872.7,435.0 873.4,433.8 874.2,432.4 874.9,432.1 875.8,430.3 876.7,428.8 877.5,426.9 878.4,426.0 879.3,424.3 880.2,422.8 881.1,421.0 882.0,420.2 882.9,417.9 883.8,417.1 884.8,415.2 885.7,414.8 886.6,413.5 887.6,412.3 888.6,410.2 889.5,409.7 890.5,408.7 891.5,406.5 892.5,405.1 893.5,403.9 894.5,402.6 895.5,401.8 896.6,400.0 897.6,399.1 898.7,397.7 899.7,396.2 900.8,395.3 901.9,394.0 903.0,392.9 904.1,391.7 905.2,390.3 906.3,389.4 907.5,387.4 908.6,386.7 909.7,386.2 910.9,384.7 912.1,383.3 913.3,382.0 914.4,381.0 915.6,380.0 916.8,378.3 918.1,377.7 919.3,376.7 920.5,374.9 921.8,374.0 923.0,373.5 924.3,372.4 925.5,372.1 926.8,371.1 928.1,368.4 929.4,368.2 930.7,367.8 932.0,366.5 933.3,365.9 934.6,364.8 935.9,363.4 937.3,362.8 938.6,361.5 939.9,360.1 941.3,359.6 942.7,359.1 944.0,358.0 945.4,356.6 946.8,356.4 948.1,355.4 949.5,354.5 950.9,352.5 952.3,351.9 953.7,351.1 955.1,350.2 956.5,348.8 958.0,348.5 959.4,348.2 960.8,346.6 962.2,346.9 963.5,345.0 964.8,344.7 966.1,343.8 967.4,342.7 968.7,342.4 970.0,341.7 971.3,340.8 972.7,340.5 974.0,339.7 975.3,338.1 976.6,338.4 977.9,336.9 979.3,335.9 980.6,336.1 981.9,335.5 983.2,334.1 984.6,333.7 985.9,332.8 987.2,332.5 988.6,331.5 989.9,331.0 991.3,329.8 992.6,329.8 993.9,328.9 995.3,329.1 996.6,328.0 998.0,326.7 999.3,325.8 1000.7,325.8 1002.0,324.6 1003.4,324.5 1004.7,324.0 1006.1,323.5 1007.4,322.8 1008.8,322.1 1010.1,321.0 1011.7,320.3 1013.2,319.7 1014.7,319.4 1016.2,318.1 1017.7,317.5 1019.2,317.1 1020.7,315.7 1022.2,315.3 1023.8,314.7 1025.3,313.9 1026.8,313.2 1028.3,312.8 1029.8,311.7 1031.4,311.6 1032.9,310.6 1034.4,309.5 1035.9,308.4 1037.5,308.4 1039.0,308.2 1040.5,307.4 1042.1,306.6 1043.6,306.1 1045.1,305.6 1046.7,304.8 1048.2,303.9 1049.7,304.1 1051.3,303.0 1052.8,302.5 1054.3,301.6 1055.9,301.2 1057.4,300.9 1059.0,299.6 1060.5,299.3 1062.1,298.6 1063.6,297.7 1065.2,298.1 1066.7,296.5 1068.3,296.5 1069.8,295.5 1071.4,295.1 1072.9,294.4 1074.5,293.8 1076.0,293.4 1077.6,292.1 1079.1,292.0 1080.7,291.8 1082.2,291.8 1083.8,290.6 1085.4,289.8 1086.9,289.8 1088.5,289.1 1090.1,288.0 1091.6,287.6 1093.2,286.9 1094.7,287.2 1096.3,285.9 1097.9,285.3 1099.5,285.3 1101.0,285.0 1102.6,284.0 1104.2,283.9 1105.7,282.7 1107.3,282.9 1108.9,282.2 1110.5,281.6 1112.0,280.3 1113.6,280.9 1115.2,280.1 1116.8,279.7 1118.4,278.7 1119.9,279.1 1121.5,278.0 1123.1,277.8 1124.7,277.1 1126.3,276.6 1127.9,276.4 1129.4,275.9 1131.0,275.7 1132.6,274.6 1134.2,274.6 1135.8,273.5 1137.4,273.4 1139.0,272.4 1140.6,272.5 1142.2,272.0 1143.7,271.3 1145.3,270.9 1146.9,270.6 1148.5,270.6 1150.1,269.8 1151.7,269.4 1153.3,269.1 1154.9,269.0 1156.5,268.5 1158.1,267.8 1159.7,266.6 1161.3,267.0 1162.9,266.2 1164.5,266.1 1166.1,265.3 1167.7,265.3 1169.3,264.6 1170.9,264.2 1172.5,264.0 1174.1,263.0 1175.8,263.5 1177.4,262.7 1179.0,262.3 1180.6,261.6 1182.2,261.8 1183.8,260.8 1185.4,261.1 1187.0,260.1 1188.6,260.0 1190.2,259.4 1191.9,259.2 1193.5,259.1 1195.1,258.3 1196.7,257.7 1198.3,257.7 1199.9,257.1 1201.6,257.1 1203.2,256.2 1204.8,256.1 1206.4,256.2 1208.0,255.6 1209.6,254.9 1211.3,254.8 1212.9,254.6 1214.5,254.4 1216.1,253.5 1217.8,253.5 1219.4,252.8 1221.0,252.3 1222.6,252.8 1224.2,252.4 1225.9,252.1 1227.5,251.8 1229.1,251.1 1230.7,251.3 1232.4,250.8 1234.0,249.9 1235.6,249.7 1237.3,249.0 1238.9,248.6 1240.5,249.2 1242.1,248.8 1243.8,248.0 1245.4,248.2 1247.0,247.7 1248.7,246.9 1250.3,247.3 1251.9,247.0 1253.6,246.7 1255.2,245.9 1256.8,245.4 1258.5,245.8 1260.1,245.7 1261.7,246.2 1263.4,244.0 1265.0,244.3 1266.6,244.5 1268.3,244.1 1269.9,244.0 1271.5,242.9 1273.2,242.6 1274.8,243.0 1276.4,241.8 1278.1,242.1 1279.7,241.4 1281.4,241.8 1283.0,241.4 1284.6,241.7 1286.3,240.8 1287.9,241.2 1289.6,240.5 1291.2,240.0 1292.8,239.4 1294.5,239.9 1296.1,239.2 1297.8,239.8 1299.4,238.9 1301.0,238.8 1302.7,238.7 1304.3,237.3 1306.0,237.7 1307.6,237.7 1309.2,237.6 1310.9,237.2 1312.5,237.5 1314.2,237.1 1315.8,236.8 1317.5,236.7 1319.1,235.6 1320.7,236.2 1322.4,235.5 1324.0,234.9 1325.7,235.4 1327.3,235.4 1329.0,235.1 1330.6,234.7 1332.2,234.1 1333.9,234.7 1335.5,234.0 1337.2,233.5 1338.8,233.0 1340.5,233.2 1342.1,232.4 1343.8,233.1 1345.4,232.9 1347.0,232.3 1348.7,231.6 1350.3,231.7 1352.0,232.4 1353.6,232.1 1355.3,231.6 1356.9,231.7 1358.6,231.3 1360.2,230.6 1361.9,230.3 1363.5,230.6 1365.1,230.6 1366.8,229.2 1368.4,229.8 1370.1,229.2 1371.7,228.8 1373.4,229.0 1375.0,229.1 1376.7,228.9 1378.3,228.7 1380.0,228.7 1381.6,228.2 1383.2,227.7 1384.9,228.7 1386.5,228.5 1388.2,227.2 1389.0,227.1 1389.5,225.7 1390.0,224.8 1390.5,223.4 1391.0,221.7 1391.3,220.9 1391.6,219.7 1391.9,218.5 1392.2,217.1 1392.6,215.6 1393.0,214.3 1393.3,212.6 1393.7,212.1 1394.1,210.4 1394.5,210.0 1395.0,208.8 1395.4,207.5 1395.9,206.2 1396.4,205.7 1397.0,204.3 1397.6,203.1 1398.2,201.5 1398.9,200.7 1399.5,199.4 1400.2,198.8 1400.9,196.9 1401.7,196.8 1402.4,195.1 1403.2,194.7 1404.1,193.9 1404.9,193.4 1405.8,191.9 1406.7,190.9 1407.6,190.5 1408.5,189.7 1409.4,188.7 1410.4,187.6 1411.3,187.2 1412.2,185.8 1413.1,185.5 1414.1,184.5 1415.0,184.3 1416.0,183.0 1417.0,183.1 1418.0,182.5 1419.0,181.2 1420.1,180.1 1421.1,180.0 1422.2,179.1 1423.3,178.6 1424.4,178.2 1425.5,177.5 1426.6,176.9 1427.7,175.6 1428.7,175.7 1429.8,174.9 1430.9,174.9 1431.9,173.3 1433.0,173.5 1434.1,173.2 1435.2,172.4 1436.3,172.7 1437.5,172.4 1438.6,172.1 1439.8,171.3 1440.9,170.8 1442.1,171.1 1443.3,170.1 1444.5,170.5 1445.7,169.9 1447.0,169.1 1448.2,169.3 1449.5,168.9 1450.8,167.4 1451.9,167.8 1452.9,167.4 1454.0,167.1 1455.1,167.5 1456.3,167.1 1457.4,167.1 1458.6,166.4 1459.7,165.8 1460.9,165.2 1462.1,165.4 1463.3,165.2 1464.5,164.6 1465.7,164.2 1467.0,164.4 1468.2,163.9 1469.4,164.2 1470.7,163.1 1471.9,163.2 1473.2,162.8 1474.4,163.3 1475.7,162.1 1476.9,161.7 1478.2,161.7 1479.4,161.3 1480.7,161.6 1481.9,161.1 1483.1,160.7 1484.4,160.3 1485.6,159.2 1486.8,159.3 1488.0,159.3" fill="none" stroke="#231F20" stroke-width="2.5" stroke-linejoin="round" stroke-linecap="round" />
<polyline points="765.0,157.4 766.3,158.0 767.5,157.4 768.8,158.1 770.0,157.4 771.3,158.4 772.6,158.5 773.8,157.2 775.1,155.9 776.4,154.9 777.6,156.3 778.9,157.3 780.2,158.1 781.4,157.3 782.7,155.6 783.9,155.6 785.1,156.5 786.4,158.3 787.6,158.6 788.8,159.0 790.0,159.3 791.3,159.2 792.6,159.5 793.8,158.4 795.1,158.4 796.3,159.0 797.5,158.6 798.8,157.6 800.0,156.3 801.2,157.7 802.4,158.4 803.7,158.3 804.9,158.0 806.1,157.9 807.3,158.3 808.5,157.2 809.8,156.1 811.0,158.0 811.1,159.1 811.2,160.2 811.3,161.2 811.4,162.2 811.5,163.2 811.6,164.3 811.7,165.5 811.8,166.8 811.9,168.3 812.0,170.0 812.0,170.6 812.0,171.2 812.1,171.8 812.1,172.4 812.1,173.1 812.1,173.8 812.2,174.5 812.2,175.2 812.2,175.9 812.2,176.7 812.2,177.5 812.3,178.3 812.3,179.1 812.3,180.0 812.3,180.8 812.3,181.7 812.4,182.6 812.4,183.5 812.4,184.5 812.4,185.4 812.4,186.4 812.4,187.4 812.4,188.4 812.5,189.4 812.5,190.4 812.5,191.5 812.5,192.5 812.5,193.6 812.5,194.7 812.5,195.8 812.5,196.9 812.6,198.0 812.6,199.2 812.6,200.3 812.6,201.5 812.6,202.7 812.6,203.9 812.6,205.1 812.6,206.3 812.6,207.6 812.6,208.8 812.6,210.0 812.7,211.3 812.7,212.6 812.7,213.9 812.7,215.1 812.7,216.4 812.7,217.7 812.7,219.1 812.7,220.4 812.7,221.7 812.7,223.0 812.7,224.4 812.7,225.7 812.7,227.1 812.7,228.5 812.7,229.8 812.7,231.2 812.7,232.6 812.8,234.0 812.8,235.4 812.8,236.7 812.8,238.1 812.8,239.5 812.8,240.9 812.8,242.4 812.8,243.8 812.8,245.2 812.8,246.6 812.8,248.0 812.8,249.4 812.8,250.8 812.8,252.3 812.8,253.7 812.8,255.1 812.8,256.5 812.8,257.9 812.8,259.3 812.8,260.8 812.8,262.2 812.8,263.6 812.8,265.0 812.8,266.4 812.8,267.8 812.9,269.2 812.9,270.6 812.9,272.0 812.9,273.4 812.9,274.8 812.9,276.2 812.9,277.6 812.9,278.9 812.9,280.3 812.9,281.7 812.9,283.0 812.9,284.4 812.9,285.7 812.9,287.1 812.9,288.4 812.9,289.7 812.9,291.0 813.0,292.3 813.0,293.6 813.0,294.9 813.0,296.2 813.0,297.5 813.0,298.7 813.0,300.0 813.0,301.2 813.0,302.3 813.0,303.5 813.0,304.7 813.0,305.9 813.0,307.1 813.1,308.3 813.1,309.5 813.1,310.7 813.1,311.9 813.1,313.1 813.1,314.3 813.1,315.5 813.1,316.8 813.1,318.0 813.1,319.3 813.1,320.5 813.1,321.7 813.1,323.0 813.1,324.3 813.1,325.5 813.1,326.8 813.1,328.1 813.2,329.3 813.2,330.6 813.2,331.9 813.2,333.2 813.2,334.4 813.2,335.7 813.2,337.0 813.2,338.3 813.2,339.6 813.2,340.9 813.2,342.2 813.2,343.5 813.2,344.8 813.2,346.1 813.2,347.4 813.2,348.7 813.2,350.0 813.2,351.3 813.2,352.6 813.2,353.9 813.2,355.2 813.2,356.5 813.2,357.9 813.2,359.2 813.2,360.5 813.3,361.8 813.3,363.1 813.3,364.4 813.3,365.7 813.3,367.0 813.3,368.3 813.3,369.6 813.3,370.9 813.3,372.2 813.3,373.5 813.3,374.8 813.3,376.1 813.3,377.4 813.3,378.7 813.3,380.0 813.3,381.3 813.3,382.6 813.3,383.9 813.3,385.1 813.3,386.4 813.3,387.7 813.3,389.0 813.4,390.2 813.4,391.5 813.4,392.8 813.4,394.0 813.4,395.3 813.4,396.5 813.4,397.8 813.4,399.0 813.4,400.3 813.4,401.5 813.4,402.7 813.4,403.9 813.4,405.2 813.4,406.4 813.5,407.6 813.5,408.8 813.5,410.0 813.5,411.2 813.5,412.4 813.5,413.5 813.5,414.7 813.5,415.9 813.5,417.0 813.5,418.2 813.5,419.3 813.6,420.5 813.6,421.6 813.6,422.7 813.6,423.9 813.6,425.0 813.6,426.1 813.6,427.2 813.6,428.3 813.7,429.3 813.7,430.4 813.7,431.5 813.7,432.5 813.7,433.6 813.7,434.6 813.7,435.7 813.8,436.7 813.8,437.7 813.8,438.7 813.8,439.7 813.8,440.7 813.8,441.7 813.8,442.6 813.9,443.6 813.9,444.5 813.9,445.5 813.9,446.4 813.9,447.3 814.0,448.2 814.0,449.1 814.0,450.0 814.0,451.5 814.1,453.1 814.1,454.5 814.1,456.0 814.2,457.5 814.2,458.9 814.2,460.3 814.2,461.7 814.3,463.1 814.3,464.5 814.3,465.8 814.3,467.2 814.4,468.5 814.4,469.8 814.4,471.1 814.4,472.3 814.5,473.6 814.5,474.8 814.5,476.0 814.6,477.3 814.6,478.5 814.6,479.6 814.7,480.8 814.7,482.0 814.7,483.1 814.8,484.2 814.8,485.4 814.9,486.5 815.0,487.6 815.0,488.6 815.1,489.7 815.2,490.8 815.2,491.8 815.3,492.9 815.4,493.9 815.5,495.0 815.6,496.0 815.7,497.0 815.8,498.0 815.9,499.0 816.0,500.0 816.2,501.4 816.4,502.7 816.6,504.0 816.8,505.3 817.0,506.5 817.2,507.7 817.5,508.9 817.7,510.1 818.0,511.2 818.2,512.4 818.5,513.5 818.7,514.6 819.0,515.7 819.3,516.8 819.5,517.9 819.8,519.0 820.1,520.1 820.3,521.3 820.6,522.4 820.8,523.6 821.4,522.1 821.9,520.6 822.4,519.1 823.0,517.6 823.5,516.1 824.0,514.6 824.5,513.1 825.0,511.6 825.5,510.1 826.0,508.6 826.5,507.1 827.1,505.6 827.6,504.1 828.1,502.4 828.6,499.9 829.1,498.3 829.7,497.6 830.2,497.4 830.7,496.3 831.2,495.0 831.8,493.3 832.3,491.5 832.8,490.4 833.4,487.9 833.9,487.4 834.4,485.5 835.0,483.8 835.5,481.3 836.1,480.5 836.6,479.4 837.2,478.1 837.7,475.5 838.3,475.2 838.8,473.5 839.4,471.7 839.9,469.6 840.5,468.2 841.1,467.2 841.6,465.0 842.2,462.4 842.8,460.8 843.3,458.7 843.9,457.5 844.5,456.1 845.1,456.2 845.7,455.7 846.3,453.2 846.9,451.6 847.5,448.3 848.1,448.0 848.7,446.0 849.3,446.3 849.9,444.8 850.5,443.9 851.1,441.5 851.7,439.8 852.4,438.3 853.0,436.8 853.6,435.1 854.3,433.2 854.9,431.1 855.6,429.8 856.2,427.7 856.9,428.0 857.5,427.5 858.2,427.0 858.9,426.0 859.5,423.9 860.2,421.9 860.9,419.3 861.6,417.9 862.3,416.5 863.0,415.1 863.7,412.8 864.4,410.9 865.1,409.5 865.8,408.0 866.6,407.9 867.3,406.5 868.0,405.5 868.8,404.1 869.5,402.6 870.3,402.5 871.0,400.3 871.8,398.5 872.5,396.4 873.3,394.5 874.1,394.1 874.9,392.6 875.7,389.9 876.5,387.9 877.3,386.5 878.1,386.3 878.9,384.8 879.7,383.1 880.6,381.3 881.4,380.3 882.2,379.1 883.1,378.6 883.9,376.9 884.8,375.6 885.7,375.3 886.5,374.6 887.4,373.1 888.3,370.9 889.2,369.0 890.1,368.5 891.0,367.6 891.9,366.3 892.9,365.3 893.8,364.3 894.7,362.9 895.7,361.1 896.6,359.5 897.6,359.0 898.6,357.9 899.5,356.4 900.5,354.6 901.5,352.3 902.5,351.5 903.5,350.5 904.5,348.9 905.6,347.6 906.6,346.7 907.6,346.7 908.7,345.3 909.7,344.3 910.8,342.7 911.9,340.9 912.9,340.2 914.0,338.5 915.1,338.5 916.2,337.5 917.3,337.0 918.4,336.4 919.5,334.1 920.6,333.1 921.8,330.3 922.9,329.7 924.0,328.4 925.2,328.9 926.3,326.9 927.5,326.3 928.7,324.9 929.8,325.1 931.0,324.5 932.2,322.7 933.4,321.5 934.6,319.9 935.8,319.2 937.0,317.3 938.2,317.0 939.4,315.5 940.7,314.5 941.9,312.3 943.1,312.3 944.4,311.4 945.6,310.4 946.9,309.4 948.2,308.5 949.4,308.0 950.7,307.3 952.0,307.2 953.3,306.5 954.6,305.6 955.9,304.4 957.2,303.4 958.5,302.3 959.8,300.8 961.1,299.6 962.4,298.5 963.8,298.1 965.1,296.3 966.4,295.6 967.8,294.8 969.1,296.0 970.5,296.3 971.8,294.5 973.2,292.8 974.6,291.1 975.9,290.2 977.3,289.4 978.7,288.8 980.1,288.9 981.5,287.5 982.9,287.2 984.3,286.1 985.7,286.5 987.1,284.4 988.5,284.2 989.9,284.0 991.4,284.9 992.8,284.8 994.2,284.0 995.7,282.3 997.1,280.3 998.5,280.2 1000.0,279.4 1001.4,279.0 1002.9,278.0 1004.4,278.3 1005.8,279.0 1007.3,277.7 1008.8,277.8 1010.2,278.1 1011.7,277.5 1013.2,276.3 1014.7,273.7 1016.2,273.5 1017.7,272.7 1019.2,273.0 1020.7,273.1 1022.2,273.0 1023.7,272.6 1025.2,271.0 1026.7,270.7 1028.2,269.4 1029.7,270.1 1031.2,269.6 1032.8,268.4 1034.3,267.3 1035.8,265.9 1037.3,266.4 1038.9,266.6 1040.4,268.2 1041.9,268.2 1043.5,267.5 1045.0,266.2 1046.6,265.4 1048.1,263.6 1049.7,263.4 1051.2,263.3 1052.8,264.1 1054.3,263.4 1055.9,263.2 1057.5,262.9 1059.0,263.0 1060.6,262.3 1062.1,262.6 1063.7,261.5 1065.3,260.9 1066.8,259.3 1068.4,258.7 1070.0,257.1 1071.6,256.7 1073.1,256.7 1074.7,258.4 1076.3,258.3 1077.9,258.0 1079.5,257.1 1081.0,257.3 1082.6,256.0 1084.2,255.5 1085.8,256.5 1087.4,258.0 1089.0,257.6 1090.6,256.2 1092.1,256.0 1093.7,256.0 1095.3,256.0 1096.9,255.3 1098.5,254.7 1100.1,254.1 1101.7,253.1 1103.3,253.3 1104.9,253.2 1106.5,253.3 1108.1,253.4 1109.6,253.1 1111.2,253.3 1112.8,252.5 1114.4,251.7 1116.0,251.5 1117.6,251.6 1119.2,252.5 1120.8,251.1 1122.4,251.0 1124.0,250.0 1125.6,250.6 1127.2,249.5 1128.8,250.8 1130.3,251.3 1131.9,251.8 1133.5,250.6 1135.1,249.1 1136.7,248.8 1138.3,248.4 1139.9,249.1 1141.5,248.2 1143.0,247.7 1144.6,248.5 1146.2,249.7 1147.8,250.0 1149.4,249.1 1151.0,249.9 1152.6,249.8 1154.1,249.0 1155.7,246.3 1157.3,245.8 1158.9,246.0 1160.5,245.7 1162.1,245.1 1163.6,244.9 1165.2,245.6 1166.8,244.4 1168.4,243.6 1170.0,242.9 1171.5,244.7 1173.1,245.2 1174.7,245.1 1176.3,244.6 1177.9,243.5 1179.4,243.7 1181.0,243.4 1182.6,243.7 1184.2,243.3 1185.8,241.8 1187.3,241.7 1188.9,242.6 1190.5,243.6 1192.1,244.5 1193.6,243.6 1195.2,244.7 1196.8,242.9 1198.4,242.6 1200.0,239.6 1201.5,240.7 1203.1,241.3 1204.7,243.7 1206.3,243.0 1207.8,242.5 1209.4,239.1 1211.0,237.8 1212.6,237.9 1214.1,239.4 1215.7,240.9 1217.3,240.1 1218.9,240.6 1220.4,240.2 1222.0,239.7 1223.6,239.7 1225.1,240.2 1226.7,241.1 1228.3,241.0 1229.9,240.6 1231.4,240.3 1233.0,240.1 1234.6,240.6 1236.2,240.0 1237.7,239.7 1239.3,238.2 1240.9,238.7 1242.4,238.1 1244.0,238.0 1245.6,238.0 1247.2,237.7 1248.7,238.0 1250.3,236.5 1251.9,237.2 1253.5,236.6 1255.0,237.3 1256.6,237.3 1258.2,238.0 1259.7,238.6 1261.3,238.2 1262.9,237.7 1264.5,236.6 1266.0,236.5 1267.6,236.4 1269.2,237.3 1270.7,236.7 1272.3,236.1 1273.9,235.2 1275.5,236.0 1277.0,235.5 1278.6,236.2 1280.2,234.9 1281.8,234.5 1283.3,233.9 1284.9,233.2 1286.5,233.5 1288.0,233.5 1289.6,233.7 1291.2,233.5 1292.8,233.5 1294.3,233.8 1295.9,233.2 1297.5,233.1 1299.1,232.5 1300.6,232.5 1302.2,232.1 1303.8,232.2 1305.4,233.0 1306.9,233.1 1308.5,232.9 1310.1,233.6 1311.7,234.0 1313.2,232.9 1314.8,230.6 1316.4,229.1 1318.0,230.9 1319.5,230.9 1321.1,231.4 1322.7,230.4 1324.3,231.6 1325.8,231.2 1327.4,231.5 1329.0,230.5 1330.6,231.4 1332.1,231.3 1333.7,231.7 1335.3,230.6 1336.9,230.0 1338.5,230.0 1340.0,231.2 1341.6,231.0 1343.2,230.5 1344.8,228.6 1346.4,229.4 1347.9,228.3 1349.5,229.0 1351.1,228.2 1352.7,228.2 1354.3,227.1 1355.8,226.6 1357.4,227.4 1359.0,227.1 1360.6,226.7 1362.2,224.4 1363.8,224.9 1365.3,224.2 1366.9,225.3 1368.5,225.2 1370.1,225.3 1371.7,225.8 1373.3,226.3 1374.9,227.3 1376.4,226.6 1378.0,225.4 1379.6,224.9 1381.2,225.4 1382.8,225.2 1384.4,224.5 1386.0,223.5 1386.5,224.2 1386.9,222.7 1387.2,220.3 1387.6,219.0 1387.9,218.6 1388.3,218.8 1388.6,217.6 1389.0,215.6 1389.2,213.6 1389.5,212.3 1389.7,210.8 1389.9,209.6 1390.1,208.8 1390.3,207.7 1390.6,205.5 1390.8,203.8 1391.0,202.5 1391.3,202.6 1391.5,200.6 1391.8,199.6 1392.1,199.0 1392.4,198.4 1392.7,197.6 1393.0,195.7 1393.4,194.9 1393.8,194.6 1394.2,193.7 1394.5,191.7 1395.0,189.2 1395.4,188.6 1395.8,186.4 1396.3,185.6 1396.9,183.4 1397.5,183.2 1398.2,181.8 1398.9,181.7 1399.8,180.8 1400.7,180.1 1401.7,179.8 1402.8,179.6 1403.9,179.6 1405.1,178.4 1406.3,176.7 1407.5,175.4 1408.7,175.2 1410.0,175.9 1411.0,174.6 1412.1,173.5 1413.1,172.9 1414.2,173.5 1415.3,173.8 1416.4,174.5 1417.5,174.5 1418.6,174.5 1419.8,173.3 1421.0,171.8 1422.3,171.6 1423.6,171.3 1424.9,172.2 1426.3,172.8 1427.7,172.8 1428.7,173.7 1429.7,172.1 1430.7,171.6 1431.8,169.7 1432.9,170.0 1434.1,169.0 1435.3,169.7 1436.5,169.8 1437.7,171.4 1439.0,171.4 1440.2,171.6 1441.5,171.5 1442.8,171.3 1444.1,171.0 1445.5,170.2 1446.8,170.0 1448.1,170.7 1449.5,170.3 1450.8,171.0 1452.1,170.6 1453.5,170.4 1454.8,168.7 1456.1,167.9 1457.4,169.0 1458.7,169.7 1459.9,170.5 1461.2,170.1 1462.4,169.5 1463.6,169.4 1464.7,169.9 1465.9,170.5 1467.0,170.0 1468.0,168.7 1469.0,169.3 1470.0,170.4 1471.4,171.2 1472.8,169.8 1474.1,167.9 1475.3,167.8 1476.6,167.8 1477.7,168.2 1478.9,167.4 1480.0,168.2 1481.2,167.7 1482.3,168.9 1483.4,169.7 1484.5,171.2 1485.7,169.7 1486.8,169.4 1488.0,168.5" fill="none" stroke="#2E3192" stroke-width="2.7" stroke-linejoin="round" stroke-linecap="round" />
<polyline points="765.0,172.2 766.3,171.0 767.5,171.8 768.8,171.2 770.0,173.8 771.3,174.6 772.6,174.7 773.8,172.5 775.1,171.7 776.4,170.5 777.6,171.8 778.9,171.2 780.2,173.0 781.4,173.3 782.7,173.9 783.9,173.6 785.1,173.4 786.4,173.9 787.6,173.7 788.8,174.0 790.0,174.1 791.3,173.9 792.6,173.7 793.8,173.2 795.1,174.2 796.3,174.5 797.5,173.6 798.8,172.7 800.0,172.1 801.2,173.3 802.4,173.8 803.7,174.7 804.9,175.7 806.1,174.1 807.3,173.8 808.5,171.7 809.8,173.6 811.0,173.5 811.0,174.7 811.1,175.8 811.1,176.9 811.2,178.0 811.2,179.0 811.3,180.1 811.3,181.1 811.4,182.1 811.4,183.1 811.5,184.2 811.5,185.2 811.6,186.3 811.6,187.4 811.7,188.5 811.7,189.7 811.8,191.0 811.8,192.3 811.8,193.7 811.9,195.1 811.9,196.7 812.0,198.3 812.0,200.0 812.0,200.7 812.0,201.3 812.0,202.0 812.1,202.7 812.1,203.4 812.1,204.1 812.1,204.9 812.1,205.6 812.1,206.4 812.1,207.2 812.1,208.0 812.1,208.8 812.2,209.6 812.2,210.4 812.2,211.3 812.2,212.1 812.2,213.0 812.2,213.9 812.2,214.8 812.2,215.7 812.2,216.6 812.2,217.6 812.3,218.5 812.3,219.5 812.3,220.5 812.3,221.5 812.3,222.4 812.3,223.5 812.3,224.5 812.3,225.5 812.3,226.5 812.3,227.6 812.3,228.6 812.3,229.7 812.3,230.8 812.4,231.9 812.4,233.0 812.4,234.1 812.4,235.2 812.4,236.3 812.4,237.5 812.4,238.6 812.4,239.8 812.4,241.0 812.4,242.1 812.4,243.3 812.4,244.5 812.4,245.7 812.4,246.9 812.4,248.1 812.4,249.3 812.4,250.6 812.4,251.8 812.5,253.0 812.5,254.3 812.5,255.5 812.5,256.8 812.5,258.1 812.5,259.3 812.5,260.6 812.5,261.9 812.5,263.2 812.5,264.5 812.5,265.8 812.5,267.1 812.5,268.4 812.5,269.8 812.5,271.1 812.5,272.4 812.5,273.8 812.5,275.1 812.5,276.4 812.5,277.8 812.5,279.1 812.5,280.5 812.5,281.9 812.5,283.2 812.5,284.6 812.5,286.0 812.5,287.3 812.5,288.7 812.5,290.1 812.5,291.5 812.6,292.9 812.6,294.2 812.6,295.6 812.6,297.0 812.6,298.4 812.6,299.8 812.6,301.2 812.6,302.6 812.6,304.0 812.6,305.4 812.6,306.8 812.6,308.2 812.6,309.6 812.6,311.0 812.6,312.4 812.6,313.8 812.6,315.2 812.6,316.6 812.6,318.0 812.6,319.4 812.6,320.8 812.6,322.2 812.6,323.6 812.6,325.0 812.6,326.4 812.6,327.8 812.6,329.2 812.6,330.6 812.6,332.0 812.6,333.4 812.6,334.8 812.6,336.1 812.6,337.5 812.7,338.9 812.7,340.3 812.7,341.7 812.7,343.0 812.7,344.4 812.7,345.8 812.7,347.1 812.7,348.5 812.7,349.8 812.7,351.2 812.7,352.5 812.7,353.9 812.7,355.2 812.7,356.5 812.7,357.8 812.7,359.2 812.7,360.5 812.7,361.8 812.7,363.1 812.7,364.4 812.8,365.7 812.8,367.0 812.8,368.3 812.8,369.5 812.8,370.8 812.8,372.1 812.8,373.3 812.8,374.6 812.8,375.8 812.8,377.0 812.8,378.3 812.8,379.5 812.8,380.7 812.8,381.9 812.9,383.1 812.9,384.3 812.9,385.5 812.9,386.6 812.9,387.8 812.9,389.0 812.9,390.1 812.9,391.2 812.9,392.4 812.9,393.5 812.9,394.6 813.0,395.7 813.0,396.8 813.0,397.9 813.0,398.9 813.0,400.0 813.0,401.4 813.0,402.7 813.0,404.1 813.1,405.4 813.1,406.7 813.1,408.1 813.1,409.4 813.1,410.7 813.1,412.0 813.2,413.3 813.2,414.6 813.2,415.9 813.2,417.2 813.2,418.5 813.2,419.8 813.3,421.1 813.3,422.3 813.3,423.6 813.3,424.9 813.3,426.1 813.3,427.4 813.4,428.6 813.4,429.9 813.4,431.1 813.4,432.4 813.4,433.6 813.5,434.8 813.5,436.1 813.5,437.3 813.5,438.5 813.5,439.7 813.6,441.0 813.6,442.2 813.6,443.4 813.6,444.6 813.6,445.8 813.7,447.0 813.7,448.2 813.7,449.4 813.7,450.6 813.7,451.8 813.8,453.0 813.8,454.1 813.8,455.3 813.8,456.5 813.8,457.7 813.9,458.9 813.9,460.0 813.9,461.2 813.9,462.4 814.0,463.6 814.0,464.7 814.0,465.9 814.0,467.1 814.0,468.2 814.1,469.4 814.1,470.6 814.1,471.7 814.1,472.9 814.1,474.1 814.2,475.2 814.2,476.4 814.2,477.5 814.2,478.7 814.3,479.9 814.3,481.0 814.3,482.2 814.3,483.3 814.3,484.5 814.4,485.7 814.4,486.8 814.4,488.0 814.4,489.1 814.5,490.3 814.5,491.5 814.5,492.6 814.5,493.8 814.5,495.0 814.6,496.1 814.6,497.3 814.6,498.5 814.6,499.6 814.6,500.8 814.7,502.0 814.7,503.1 814.7,504.3 814.7,505.5 814.8,506.7 814.8,507.9 814.8,509.0 814.8,510.2 814.8,511.4 814.9,512.6 814.9,513.8 814.9,515.0 814.9,516.2 814.9,517.4 815.0,518.6 815.0,519.8 815.0,521.0 815.3,519.4 815.5,517.8 815.7,516.1 816.0,514.5 816.2,512.9 816.4,511.2 816.6,509.6 816.9,508.0 817.1,506.3 817.3,504.7 817.5,503.1 817.7,501.4 817.9,499.8 818.2,498.2 818.4,496.5 818.6,494.9 818.8,493.3 819.0,491.6 819.3,490.0 819.5,488.4 819.7,486.8 820.0,485.1 820.2,483.5 820.5,481.9 820.7,480.3 821.0,478.6 821.2,477.0 821.5,475.4 821.8,473.8 822.1,472.2 822.4,470.5 822.6,468.9 823.0,467.3 823.3,465.7 823.6,464.1 823.9,462.5 824.3,460.9 824.6,459.3 825.0,457.7 825.4,456.1 825.8,454.5 826.2,452.9 826.6,451.4 827.0,449.8 827.5,448.2 827.9,446.6 828.4,444.4 828.9,444.1 829.4,441.3 829.9,440.3 830.4,438.5 830.9,436.5 831.5,435.1 832.1,434.1 832.7,433.5 833.3,432.7 833.9,432.0 834.6,430.5 835.2,429.2 835.9,426.2 836.6,423.9 837.3,422.0 838.0,419.6 838.7,418.8 839.4,418.3 840.1,417.1 840.8,414.9 841.5,411.6 842.2,410.8 842.9,410.7 843.6,409.0 844.4,406.8 845.1,405.1 845.7,404.0 846.4,403.6 847.1,401.1 847.8,400.6 848.4,398.6 849.1,397.6 849.7,394.1 850.4,392.1 851.0,390.6 851.7,390.9 852.3,389.8 853.0,387.7 853.6,384.5 854.3,383.5 855.0,381.9 855.6,382.5 856.3,380.6 857.0,379.5 857.7,376.4 858.4,375.6 859.2,374.4 859.9,373.7 860.7,370.0 861.4,368.7 862.2,366.5 863.0,364.9 863.8,363.2 864.7,362.4 865.5,361.7 866.4,362.4 867.2,360.3 868.1,359.2 869.0,356.1 869.9,355.7 870.8,355.2 871.7,353.5 872.7,353.0 873.6,350.9 874.6,348.5 875.5,345.5 876.5,344.6 877.5,344.6 878.5,345.4 879.6,344.2 880.6,342.5 881.6,339.6 882.7,337.8 883.7,337.4 884.8,335.7 885.9,336.0 887.0,333.6 888.1,332.8 889.2,330.7 890.3,329.0 891.4,328.4 892.6,327.1 893.7,328.0 894.9,327.2 896.1,324.4 897.2,322.6 898.4,320.3 899.6,320.2 900.8,318.3 902.0,319.2 903.3,318.4 904.5,317.9 905.7,316.1 907.0,316.5 908.2,315.2 909.5,313.6 910.8,311.5 912.0,310.8 913.3,309.5 914.6,307.6 915.9,306.1 917.2,304.7 918.5,303.8 919.9,302.8 921.2,302.3 922.5,301.6 923.9,300.7 925.2,300.4 926.6,300.4 927.9,299.1 929.3,296.3 930.7,296.6 932.0,296.2 933.4,297.7 934.8,295.1 936.2,295.5 937.6,293.8 939.0,292.9 940.4,290.5 941.8,289.3 943.3,287.9 944.7,287.6 946.1,286.9 947.5,287.0 949.0,286.4 950.4,284.9 951.9,284.0 953.3,282.9 954.8,283.6 956.2,283.7 957.7,282.7 959.1,279.8 960.6,278.0 962.1,277.5 963.6,277.5 965.0,277.1 966.5,276.3 968.0,276.7 969.5,275.0 971.0,274.6 972.5,273.4 974.0,273.5 975.5,273.3 977.0,272.4 978.5,271.6 980.0,270.9 981.5,269.6 983.1,269.8 984.6,268.2 986.1,267.1 987.6,267.0 989.2,268.0 990.7,269.0 992.2,266.8 993.8,264.0 995.3,263.6 996.8,264.7 998.4,264.4 999.9,263.6 1001.5,263.1 1003.0,264.1 1004.6,263.5 1006.1,263.3 1007.7,261.4 1009.2,261.4 1010.8,260.2 1012.4,259.7 1013.9,258.6 1015.5,257.1 1017.1,259.4 1018.6,259.2 1020.2,259.0 1021.8,256.3 1023.4,257.6 1024.9,258.6 1026.5,257.9 1028.1,255.3 1029.7,253.9 1031.3,254.2 1032.8,254.6 1034.4,253.3 1036.0,251.5 1037.6,251.0 1039.2,250.4 1040.8,253.0 1042.4,252.6 1043.9,253.0 1045.5,251.2 1047.1,250.3 1048.7,249.8 1050.3,248.5 1051.9,248.5 1053.5,248.3 1055.1,248.7 1056.7,246.5 1058.3,246.2 1059.9,245.3 1061.5,247.4 1063.1,246.7 1064.7,246.9 1066.3,246.2 1067.9,245.4 1069.5,245.1 1071.1,244.2 1072.7,244.7 1074.3,244.9 1075.9,244.3 1077.5,243.3 1079.2,241.8 1080.8,243.3 1082.4,242.7 1084.0,242.9 1085.6,241.2 1087.2,240.8 1088.8,240.9 1090.4,240.6 1092.0,241.6 1093.7,240.3 1095.3,240.4 1096.9,240.9 1098.5,241.8 1100.1,241.3 1101.7,240.1 1103.4,238.4 1105.0,238.5 1106.6,237.8 1108.2,238.7 1109.8,238.4 1111.4,238.4 1113.1,237.3 1114.7,236.3 1116.3,234.9 1117.9,235.4 1119.5,234.2 1121.2,234.6 1122.8,233.4 1124.4,234.4 1126.0,235.7 1127.6,235.6 1129.3,235.9 1130.9,235.1 1132.5,234.4 1134.1,233.3 1135.8,232.3 1137.4,232.2 1139.0,231.8 1140.6,231.2 1142.2,231.6 1143.9,231.3 1145.5,231.9 1147.1,231.9 1148.7,232.0 1150.4,231.2 1152.0,229.4 1153.6,228.2 1155.2,226.9 1156.9,227.9 1158.5,229.6 1160.1,229.9 1161.7,228.8 1163.4,226.9 1165.0,227.1 1166.6,226.8 1168.2,226.6 1169.9,226.6 1171.5,228.0 1173.1,228.4 1174.7,227.7 1176.4,226.5 1178.0,226.5 1179.6,224.4 1181.2,224.5 1182.9,224.1 1184.5,225.5 1186.1,224.9 1187.8,224.8 1189.4,224.5 1191.0,224.9 1192.6,223.9 1194.3,224.2 1195.9,224.2 1197.5,223.8 1199.2,224.0 1200.8,223.5 1202.4,224.1 1204.0,224.1 1205.7,223.9 1207.3,222.9 1208.9,222.3 1210.6,222.5 1212.2,222.7 1213.8,221.9 1215.5,220.8 1217.1,220.5 1218.7,220.0 1220.4,220.4 1222.0,221.2 1223.6,220.7 1225.2,219.9 1226.9,218.9 1228.5,220.0 1230.1,220.6 1231.8,220.9 1233.4,221.0 1235.0,220.7 1236.7,220.7 1238.3,220.1 1239.9,220.0 1241.6,219.1 1243.2,217.9 1244.8,217.6 1246.5,218.3 1248.1,220.0 1249.7,219.2 1251.4,217.7 1253.0,216.7 1254.6,217.5 1256.3,217.8 1257.9,217.3 1259.6,215.8 1261.2,215.1 1262.8,215.8 1264.5,215.7 1266.1,217.6 1267.7,216.4 1269.4,215.4 1271.0,213.7 1272.6,213.2 1274.3,213.7 1275.9,214.0 1277.6,214.3 1279.2,215.7 1280.8,214.2 1282.5,213.7 1284.1,212.6 1285.7,214.4 1287.4,215.0 1289.0,214.8 1290.7,214.6 1292.3,214.3 1293.9,214.0 1295.6,213.8 1297.2,212.9 1298.9,213.0 1300.5,212.1 1302.1,213.1 1303.8,212.9 1305.4,214.1 1307.0,214.2 1308.7,214.5 1310.3,213.1 1312.0,213.0 1313.6,211.4 1315.3,212.4 1316.9,212.5 1318.5,213.9 1320.2,213.7 1321.8,212.2 1323.5,211.7 1325.1,210.7 1326.7,211.9 1328.4,212.5 1330.0,214.1 1331.7,213.0 1333.3,212.0 1335.0,211.2 1336.6,211.5 1338.2,211.6 1339.9,211.7 1341.5,212.1 1343.2,212.1 1344.8,212.4 1346.5,212.3 1348.1,211.7 1349.7,210.9 1351.4,210.9 1353.0,211.4 1354.7,212.2 1356.3,212.4 1358.0,213.3 1359.6,213.2 1361.3,212.8 1362.9,212.3 1364.5,211.8 1366.2,211.7 1367.8,212.8 1369.5,212.2 1371.1,211.7 1372.8,211.1 1374.4,211.6 1376.1,211.6 1377.7,211.8 1379.4,212.4 1381.0,212.8 1382.7,211.7 1384.3,211.7 1386.0,212.8 1386.5,214.1 1386.6,212.1 1386.8,211.0 1386.9,210.3 1387.0,209.8 1387.2,208.5 1387.3,206.9 1387.5,205.5 1387.6,203.8 1387.8,202.1 1388.0,201.0 1388.2,200.1 1388.4,199.0 1388.5,196.9 1388.7,195.4 1388.9,192.7 1389.2,192.2 1389.4,191.2 1389.6,190.2 1389.9,188.7 1390.1,186.7 1390.4,186.5 1390.7,186.3 1391.0,185.8 1391.4,183.8 1391.8,181.0 1392.1,179.9 1392.5,179.0 1393.0,178.6 1393.5,176.2 1394.2,176.3 1395.0,174.7 1395.7,175.1 1396.5,174.3 1397.4,174.3 1398.4,172.5 1399.4,170.1 1400.5,169.3 1401.6,169.5 1402.8,169.2 1403.9,168.5 1405.2,168.1 1406.4,168.3 1407.6,166.7 1408.8,166.0 1410.0,165.1 1411.1,165.4 1412.2,165.9 1413.3,164.6 1414.4,163.6 1415.6,162.1 1416.8,162.8 1417.9,162.6 1419.1,162.8 1420.3,163.1 1421.6,163.4 1422.8,163.9 1424.0,162.9 1425.2,161.5 1426.4,160.5 1427.6,160.4 1428.8,160.9 1430.0,160.7 1431.2,161.1 1432.4,161.6 1433.6,160.8 1434.8,159.1 1436.0,159.0 1437.2,160.0 1438.4,159.9 1439.6,159.2 1440.8,158.8 1442.0,160.1 1443.3,160.6 1444.5,162.0 1445.8,160.9 1447.2,159.1 1448.6,157.5 1450.0,158.4 1451.0,158.8 1452.1,158.1 1453.2,157.6 1454.3,158.2 1455.4,159.7 1456.6,159.2 1457.8,160.8 1458.9,160.4 1460.1,161.3 1461.4,158.7 1462.6,158.4 1463.8,159.0 1465.1,159.6 1466.3,160.4 1467.6,159.7 1468.9,160.6 1470.2,159.7 1471.4,159.8 1472.7,157.9 1474.0,157.4 1475.3,156.5 1476.6,157.6 1477.9,157.4 1479.2,156.8 1480.5,157.0 1481.7,157.4 1483.0,158.1 1484.3,158.4 1485.5,158.0 1486.8,158.5 1488.0,157.9" fill="none" stroke="#F7941D" stroke-width="2.8" stroke-linejoin="round" stroke-linecap="round" />
<polyline points="765.0,174.5 766.3,174.7 767.5,174.9 768.8,174.8 770.0,174.7 771.3,174.4 772.6,173.9 773.8,174.4 775.1,174.4 776.4,174.5 777.6,174.4 778.9,174.7 780.2,174.9 781.4,174.5 782.7,173.4 783.9,173.0 785.1,172.8 786.4,173.8 787.6,174.6 788.8,174.2 790.0,173.9 791.3,173.8 792.6,174.8 793.8,174.7 795.1,174.2 796.3,173.3 797.5,173.6 798.8,174.2 800.0,175.2 801.2,175.2 802.4,175.5 803.7,175.1 804.9,175.4 806.1,174.4 807.3,175.2 808.5,175.0 809.8,176.2 811.0,175.0 811.1,176.2 811.1,177.4 811.2,178.5 811.2,179.6 811.3,180.7 811.3,181.7 811.4,182.8 811.4,183.9 811.5,184.9 811.5,186.0 811.6,187.1 811.6,188.3 811.7,189.5 811.7,190.7 811.8,192.1 811.8,193.5 811.9,195.0 811.9,196.5 812.0,198.2 812.0,200.0 812.0,200.6 812.0,201.3 812.0,202.0 812.1,202.7 812.1,203.4 812.1,204.1 812.1,204.8 812.1,205.6 812.1,206.3 812.1,207.1 812.1,207.9 812.1,208.7 812.2,209.6 812.2,210.4 812.2,211.3 812.2,212.1 812.2,213.0 812.2,213.9 812.2,214.8 812.2,215.8 812.2,216.7 812.2,217.7 812.3,218.6 812.3,219.6 812.3,220.6 812.3,221.6 812.3,222.6 812.3,223.7 812.3,224.7 812.3,225.8 812.3,226.8 812.3,227.9 812.3,229.0 812.3,230.1 812.3,231.2 812.3,232.3 812.4,233.5 812.4,234.6 812.4,235.8 812.4,236.9 812.4,238.1 812.4,239.3 812.4,240.5 812.4,241.7 812.4,242.9 812.4,244.1 812.4,245.3 812.4,246.6 812.4,247.8 812.4,249.0 812.4,250.3 812.4,251.6 812.4,252.8 812.4,254.1 812.4,255.4 812.4,256.7 812.4,258.0 812.4,259.3 812.4,260.6 812.4,262.0 812.5,263.3 812.5,264.6 812.5,266.0 812.5,267.3 812.5,268.7 812.5,270.0 812.5,271.4 812.5,272.8 812.5,274.1 812.5,275.5 812.5,276.9 812.5,278.3 812.5,279.6 812.5,281.0 812.5,282.4 812.5,283.8 812.5,285.2 812.5,286.6 812.5,288.0 812.5,289.4 812.5,290.9 812.5,292.3 812.5,293.7 812.5,295.1 812.5,296.5 812.5,297.9 812.5,299.4 812.5,300.8 812.5,302.2 812.5,303.6 812.5,305.1 812.5,306.5 812.5,307.9 812.5,309.3 812.5,310.8 812.5,312.2 812.5,313.6 812.5,315.0 812.5,316.5 812.5,317.9 812.5,319.3 812.5,320.7 812.5,322.1 812.6,323.6 812.6,325.0 812.6,326.4 812.6,327.8 812.6,329.2 812.6,330.6 812.6,332.0 812.6,333.4 812.6,334.8 812.6,336.2 812.6,337.6 812.6,338.9 812.6,340.3 812.6,341.7 812.6,343.1 812.6,344.4 812.6,345.8 812.6,347.2 812.6,348.5 812.6,349.8 812.6,351.2 812.6,352.5 812.6,353.8 812.6,355.2 812.6,356.5 812.7,357.8 812.7,359.1 812.7,360.4 812.7,361.7 812.7,363.0 812.7,364.2 812.7,365.5 812.7,366.8 812.7,368.0 812.7,369.3 812.7,370.5 812.7,371.7 812.7,372.9 812.7,374.1 812.7,375.3 812.8,376.5 812.8,377.7 812.8,378.9 812.8,380.0 812.8,381.2 812.8,382.3 812.8,383.5 812.8,384.6 812.8,385.7 812.8,386.8 812.9,387.9 812.9,389.0 812.9,390.0 812.9,391.1 812.9,392.1 812.9,393.1 812.9,394.2 812.9,395.2 812.9,396.2 813.0,397.1 813.0,398.1 813.0,399.1 813.0,400.0 813.0,401.5 813.0,403.0 813.1,404.4 813.1,405.9 813.1,407.3 813.1,408.8 813.1,410.2 813.2,411.6 813.2,413.0 813.2,414.4 813.2,415.8 813.2,417.2 813.2,418.6 813.3,420.0 813.3,421.3 813.3,422.7 813.3,424.1 813.3,425.4 813.3,426.7 813.4,428.1 813.4,429.4 813.4,430.7 813.4,432.0 813.4,433.3 813.4,434.6 813.5,435.8 813.5,437.1 813.5,438.3 813.5,439.6 813.5,440.8 813.6,442.1 813.6,443.3 813.6,444.5 813.6,445.7 813.7,446.9 813.7,448.1 813.7,449.3 813.7,450.5 813.8,451.6 813.8,452.8 813.8,453.9 813.8,455.1 813.9,456.2 813.9,457.3 813.9,458.5 814.0,459.6 814.0,460.7 814.0,461.8 814.1,462.9 814.1,463.9 814.2,465.0 814.2,466.1 814.3,467.1 814.3,468.1 814.3,469.2 814.4,470.2 814.5,471.2 814.5,472.2 814.6,473.2 814.6,474.2 814.7,475.2 814.7,476.2 814.8,477.1 814.9,478.1 814.9,479.1 815.0,480.0 815.1,481.5 815.2,483.0 815.3,484.5 815.4,485.9 815.5,487.3 815.6,488.7 815.7,490.1 815.8,491.5 815.9,492.9 816.0,494.2 816.1,495.5 816.2,496.8 816.3,498.0 816.5,499.3 816.6,500.5 816.7,501.7 816.9,502.8 817.1,504.0 817.3,505.1 817.4,506.1 817.7,507.2 817.9,508.2 818.1,509.2 818.4,510.2 818.7,511.1 819.0,512.0 819.6,513.4 820.2,514.7 820.8,515.8 821.6,516.9 822.3,518.0 823.0,518.9 823.8,519.9 824.5,520.9 825.3,521.9 826.0,523.0 826.9,521.8 827.8,520.6 828.7,519.7 829.7,519.4 830.6,518.2 831.5,517.0 832.5,514.5 833.4,511.6 834.4,510.6 835.3,510.7 836.2,510.1 837.2,508.8 838.1,507.4 839.0,506.8 839.9,504.8 840.9,503.9 841.8,502.1 842.7,501.7 843.5,499.3 844.4,498.1 845.3,497.1 846.1,496.0 847.0,494.4 847.8,492.8 848.6,491.9 849.4,490.8 850.3,489.6 851.1,488.5 852.0,487.7 852.8,486.8 853.6,484.9 854.4,483.9 855.2,481.6 856.0,479.8 856.8,477.1 857.6,475.0 858.3,473.2 859.0,472.6 859.7,471.2 860.4,470.6 861.1,469.2 861.7,468.5 862.4,467.7 863.1,465.8 863.8,464.1 864.5,462.9 865.1,462.5 865.8,461.6 866.5,459.3 867.2,457.2 867.9,456.2 868.6,456.1 869.3,454.8 870.0,453.1 870.7,450.5 871.4,450.0 872.2,448.8 872.9,448.1 873.6,446.0 874.3,445.2 875.1,443.9 875.8,443.4 876.6,441.4 877.3,439.6 878.1,438.0 878.8,436.9 879.6,436.5 880.4,435.6 881.1,433.6 881.9,430.9 882.7,429.6 883.5,428.7 884.3,428.1 885.1,426.5 885.9,425.5 886.7,424.5 887.5,423.1 888.3,421.6 889.2,420.3 890.0,418.6 890.9,417.6 891.7,416.2 892.6,415.8 893.4,414.6 894.3,413.6 895.2,412.1 896.1,410.8 897.0,410.0 897.9,408.6 898.8,406.6 899.7,405.5 900.6,404.5 901.5,403.7 902.5,403.1 903.4,400.9 904.4,400.3 905.3,397.8 906.3,397.2 907.3,395.9 908.3,395.3 909.3,394.6 910.2,392.4 911.3,391.2 912.3,389.4 913.3,388.8 914.3,387.2 915.3,385.8 916.4,385.2 917.4,383.9 918.5,382.9 919.5,381.0 920.6,379.4 921.7,378.3 922.7,377.7 923.8,377.4 924.9,377.5 926.0,377.3 927.1,376.5 928.2,373.7 929.3,372.0 930.4,370.7 931.5,371.1 932.7,370.2 933.8,369.1 934.9,368.3 936.1,367.2 937.2,367.1 938.4,365.4 939.5,363.7 940.7,361.6 941.9,362.2 943.0,360.7 944.2,359.8 945.4,357.2 946.6,357.1 947.8,356.5 949.0,355.7 950.2,355.4 951.4,355.3 952.7,354.5 954.1,353.3 955.4,351.0 956.8,349.8 958.1,348.8 959.5,348.6 960.9,347.6 962.3,346.6 963.6,346.0 965.0,345.4 966.4,343.4 967.8,342.0 969.2,341.9 970.6,341.7 972.1,340.9 973.3,339.4 974.6,338.8 975.9,337.6 977.2,337.2 978.5,336.6 979.8,335.9 981.1,335.0 982.4,333.2 983.7,331.6 985.0,330.7 986.3,330.6 987.6,330.6 988.9,330.1 990.2,329.3 991.5,328.5 992.9,327.5 994.2,326.9 995.5,326.7 996.9,326.2 998.2,324.8 999.5,323.3 1000.9,322.4 1002.2,322.5 1003.5,322.7 1004.9,321.1 1006.2,320.0 1007.6,318.6 1008.9,320.2 1010.3,319.6 1011.6,319.5 1013.0,318.5 1014.4,317.9 1015.7,317.0 1017.1,315.6 1018.5,315.3 1019.8,314.3 1021.2,313.8 1022.6,312.8 1023.9,312.2 1025.3,312.2 1026.7,311.1 1028.0,311.3 1029.4,309.9 1030.8,309.9 1032.2,308.5 1033.6,308.1 1034.9,307.8 1036.3,307.0 1037.7,306.5 1039.1,304.7 1040.5,304.2 1041.9,302.7 1043.2,302.9 1044.6,303.0 1046.0,302.7 1047.4,302.3 1048.8,301.4 1050.2,301.7 1051.6,300.2 1053.0,298.9 1054.4,297.6 1055.8,296.9 1057.2,297.2 1058.6,296.8 1060.0,296.7 1061.3,295.7 1062.7,295.2 1064.2,295.2 1065.6,294.9 1067.0,294.5 1068.4,293.4 1069.8,293.1 1071.2,292.8 1072.6,293.0 1074.0,291.9 1075.4,290.5 1076.8,289.1 1078.2,289.1 1079.6,289.1 1081.0,288.4 1082.4,287.2 1083.9,286.6 1085.3,285.5 1086.7,286.0 1088.1,285.3 1089.5,285.5 1090.9,285.0 1092.4,284.5 1093.8,284.0 1095.2,284.1 1096.6,283.6 1098.1,283.4 1099.5,282.0 1100.9,281.5 1102.3,281.2 1103.7,280.3 1105.2,280.3 1106.6,279.6 1108.0,279.4 1109.5,279.0 1110.9,277.9 1112.3,277.3 1113.8,276.7 1115.2,277.2 1116.6,276.6 1118.1,275.5 1119.5,275.0 1120.9,273.8 1122.4,274.1 1123.8,272.4 1125.2,272.3 1126.7,271.8 1128.1,272.1 1129.5,271.7 1131.0,271.3 1132.4,271.0 1133.9,270.7 1135.3,270.0 1136.8,269.6 1138.2,269.3 1139.6,268.9 1141.1,268.5 1142.5,267.5 1144.0,266.9 1145.4,266.3 1146.9,266.8 1148.3,265.8 1149.8,265.7 1151.2,264.3 1152.7,264.1 1154.1,263.1 1155.6,263.4 1157.0,263.1 1158.5,262.9 1159.9,262.7 1161.4,263.2 1162.9,262.6 1164.3,262.2 1165.8,260.8 1167.2,260.6 1168.7,259.5 1170.1,259.0 1171.6,259.2 1173.1,259.1 1174.5,259.1 1176.0,257.5 1177.5,257.4 1178.9,257.1 1180.4,257.5 1181.8,257.3 1183.3,256.7 1184.8,255.9 1186.2,255.2 1187.7,255.1 1189.2,255.7 1190.6,255.0 1192.1,254.5 1193.6,253.9 1195.0,253.7 1196.5,254.3 1198.0,254.3 1199.4,254.1 1200.9,253.0 1202.4,252.1 1203.9,251.4 1205.3,250.3 1206.8,250.1 1208.3,250.5 1209.7,250.3 1211.2,249.1 1212.7,247.8 1214.2,247.0 1215.6,247.3 1217.1,247.7 1218.6,248.0 1220.1,246.6 1221.6,245.7 1223.0,245.5 1224.5,245.2 1226.0,245.3 1227.5,244.7 1229.0,243.8 1230.4,243.6 1231.9,243.2 1233.4,243.1 1234.9,242.4 1236.4,241.8 1237.8,242.8 1239.3,242.4 1240.8,242.7 1242.3,242.5 1243.8,241.6 1245.3,241.4 1246.7,241.1 1248.2,241.8 1249.7,241.0 1251.2,240.5 1252.7,240.7 1254.2,240.5 1255.7,239.8 1257.1,239.0 1258.6,239.1 1260.1,239.0 1261.6,239.3 1263.1,238.7 1264.6,238.9 1266.1,237.3 1267.6,236.0 1269.0,235.3 1270.5,235.9 1272.0,236.8 1273.5,237.3 1275.0,236.8 1276.5,237.0 1278.0,236.1 1279.5,235.4 1281.0,235.4 1282.5,235.7 1284.0,236.5 1285.5,236.3 1286.9,236.0 1288.4,235.6 1289.9,235.3 1291.4,234.6 1292.9,233.7 1294.4,233.1 1295.9,233.2 1297.4,232.9 1298.9,232.4 1300.4,232.3 1301.9,232.2 1303.4,233.2 1304.9,232.8 1306.4,233.3 1307.9,232.4 1309.4,232.4 1310.9,231.7 1312.4,230.7 1313.9,229.4 1315.4,228.4 1316.9,228.1 1318.4,227.7 1319.8,228.0 1321.3,227.7 1322.8,228.1 1324.3,227.7 1325.8,228.3 1327.3,228.1 1328.8,227.9 1330.3,228.1 1331.8,228.1 1333.3,228.9 1334.8,227.8 1336.3,227.7 1337.8,227.0 1339.3,226.4 1340.8,227.0 1342.3,227.5 1343.8,227.8 1345.3,227.4 1346.8,226.6 1348.3,226.4 1349.8,226.5 1351.3,225.7 1352.8,225.8 1354.3,225.3 1355.8,225.5 1357.3,225.6 1358.8,224.4 1360.3,224.3 1361.8,224.0 1363.3,223.8 1364.8,223.4 1366.3,222.9 1367.8,223.2 1369.3,223.6 1370.8,223.6 1372.3,222.8 1373.8,222.6 1375.3,223.2 1376.8,223.9 1378.3,223.6 1379.8,222.8 1381.3,223.0 1382.8,222.4 1384.3,223.0 1385.8,222.5 1386.5,224.0 1386.9,221.7 1387.2,220.3 1387.6,218.3 1387.9,217.9 1388.3,217.4 1388.6,216.1 1389.0,214.5 1389.3,213.3 1389.5,212.5 1389.8,211.2 1390.1,210.2 1390.4,208.1 1390.6,206.8 1390.9,204.8 1391.2,203.6 1391.5,202.2 1391.9,200.5 1392.2,199.9 1392.6,199.1 1393.0,198.9 1393.5,198.2 1394.0,195.9 1394.5,194.6 1395.0,192.4 1395.5,192.6 1396.1,191.0 1396.7,189.6 1397.4,187.5 1398.1,187.1 1398.9,187.2 1399.7,186.5 1400.6,185.5 1401.5,184.0 1402.4,183.3 1403.4,181.7 1404.4,181.3 1405.5,180.2 1406.6,181.0 1407.7,179.4 1408.8,180.0 1410.0,179.5 1411.0,179.3 1412.1,177.8 1413.2,176.6 1414.3,176.3 1415.4,175.8 1416.6,175.3 1417.8,175.2 1419.0,175.6 1420.2,175.8 1421.4,174.3 1422.6,173.2 1423.9,172.2 1425.2,172.4 1426.4,172.8 1427.7,171.8 1428.8,172.3 1430.0,172.1 1431.1,172.7 1432.2,171.5 1433.4,170.0 1434.5,168.8 1435.7,169.1 1436.9,169.5 1438.1,170.7 1439.3,170.1 1440.5,169.4 1441.7,168.8 1443.0,168.3 1444.2,168.8 1445.5,168.3 1446.8,167.5 1448.1,166.6 1449.4,166.7 1450.8,166.4 1451.9,166.2 1452.9,164.7 1454.0,164.6 1455.2,164.7 1456.3,164.8 1457.4,164.7 1458.6,164.4 1459.8,164.6 1460.9,163.8 1462.1,163.7 1463.3,163.2 1464.6,163.2 1465.8,163.7 1467.0,163.6 1468.2,164.1 1469.5,163.6 1470.7,163.4 1471.9,163.1 1473.2,162.5 1474.4,161.6 1475.7,161.7 1476.9,161.7 1478.2,161.5 1479.4,161.4 1480.7,161.8 1481.9,161.4 1483.1,161.8 1484.4,161.4 1485.6,162.2 1486.8,161.1 1488.0,160.4" fill="none" stroke="#8B5E3C" stroke-width="2.7" stroke-linejoin="round" stroke-linecap="round" />
<polyline points="765.0,167.2 766.2,167.9 767.5,166.1 768.7,165.5 770.0,165.7 771.2,167.8 772.5,169.2 773.7,169.1 775.0,168.7 776.2,166.1 777.5,165.2 778.7,166.1 780.0,166.9 781.2,167.8 782.5,165.8 783.7,166.6 785.0,166.0 786.2,167.7 787.5,167.9 788.7,169.1 790.0,167.7 791.2,167.7 792.5,168.1 793.7,166.9 795.0,166.6 796.2,165.9 797.4,168.8 798.7,169.7 799.9,170.1 801.1,169.7 802.3,169.7 803.6,169.1 804.8,168.6 806.1,167.1 807.3,167.0 808.5,166.8 809.8,168.7 811.0,168.0 811.1,169.1 811.2,170.2 811.3,171.2 811.4,172.2 811.5,173.2 811.6,174.3 811.7,175.5 811.8,176.8 811.9,178.3 812.0,180.0 812.0,180.6 812.0,181.2 812.1,181.8 812.1,182.5 812.1,183.2 812.1,183.9 812.2,184.6 812.2,185.3 812.2,186.1 812.2,186.9 812.2,187.7 812.2,188.5 812.3,189.4 812.3,190.2 812.3,191.1 812.3,192.0 812.3,192.9 812.3,193.9 812.3,194.8 812.4,195.8 812.4,196.8 812.4,197.8 812.4,198.8 812.4,199.9 812.4,200.9 812.4,202.0 812.4,203.1 812.4,204.2 812.4,205.3 812.4,206.4 812.4,207.6 812.4,208.7 812.5,209.9 812.5,211.1 812.5,212.2 812.5,213.4 812.5,214.7 812.5,215.9 812.5,217.1 812.5,218.4 812.5,219.6 812.5,220.9 812.5,222.2 812.5,223.5 812.5,224.8 812.5,226.1 812.5,227.4 812.5,228.7 812.5,230.0 812.5,231.4 812.5,232.7 812.5,234.1 812.5,235.4 812.5,236.8 812.5,238.1 812.5,239.5 812.5,240.9 812.5,242.3 812.5,243.7 812.5,245.1 812.5,246.4 812.5,247.8 812.5,249.2 812.5,250.6 812.5,252.0 812.5,253.5 812.5,254.9 812.5,256.3 812.5,257.7 812.4,259.1 812.4,260.5 812.4,261.9 812.4,263.3 812.4,264.7 812.4,266.1 812.4,267.5 812.4,268.9 812.4,270.4 812.4,271.8 812.4,273.1 812.4,274.5 812.4,275.9 812.4,277.3 812.4,278.7 812.4,280.1 812.4,281.5 812.4,282.8 812.4,284.2 812.5,285.5 812.5,286.9 812.5,288.2 812.5,289.6 812.5,290.9 812.5,292.2 812.5,293.6 812.5,294.9 812.5,296.2 812.5,297.4 812.5,298.7 812.5,300.0 812.5,301.1 812.5,302.3 812.5,303.4 812.5,304.6 812.5,305.7 812.5,306.9 812.5,308.1 812.5,309.2 812.6,310.4 812.6,311.6 812.6,312.8 812.6,314.0 812.6,315.2 812.6,316.4 812.6,317.6 812.6,318.8 812.6,320.0 812.6,321.2 812.6,322.4 812.6,323.6 812.6,324.9 812.6,326.1 812.6,327.3 812.6,328.5 812.6,329.8 812.6,331.0 812.6,332.3 812.7,333.5 812.7,334.8 812.7,336.0 812.7,337.3 812.7,338.5 812.7,339.8 812.7,341.0 812.7,342.3 812.7,343.6 812.7,344.8 812.7,346.1 812.7,347.4 812.7,348.6 812.7,349.9 812.7,351.2 812.7,352.4 812.7,353.7 812.7,355.0 812.7,356.3 812.8,357.5 812.8,358.8 812.8,360.1 812.8,361.4 812.8,362.6 812.8,363.9 812.8,365.2 812.8,366.5 812.8,367.7 812.8,369.0 812.8,370.3 812.8,371.6 812.8,372.8 812.8,374.1 812.8,375.4 812.8,376.7 812.8,377.9 812.9,379.2 812.9,380.5 812.9,381.7 812.9,383.0 812.9,384.3 812.9,385.5 812.9,386.8 812.9,388.0 812.9,389.3 812.9,390.5 812.9,391.8 812.9,393.0 812.9,394.3 812.9,395.5 813.0,396.8 813.0,398.0 813.0,399.2 813.0,400.5 813.0,401.7 813.0,402.9 813.0,404.2 813.0,405.4 813.0,406.6 813.0,407.8 813.0,409.0 813.1,410.2 813.1,411.4 813.1,412.6 813.1,413.8 813.1,415.0 813.1,416.2 813.1,417.3 813.1,418.5 813.1,419.7 813.1,420.8 813.2,422.0 813.2,423.2 813.2,424.3 813.2,425.4 813.2,426.6 813.2,427.7 813.2,428.8 813.2,430.0 813.2,431.1 813.3,432.2 813.3,433.3 813.3,434.4 813.3,435.5 813.3,436.6 813.3,437.6 813.3,438.7 813.3,439.8 813.4,440.8 813.4,441.9 813.4,442.9 813.4,443.9 813.4,445.0 813.4,446.0 813.5,447.0 813.5,448.0 813.5,449.0 813.5,450.0 813.5,451.4 813.5,452.8 813.6,454.2 813.6,455.6 813.6,457.0 813.6,458.4 813.7,459.7 813.7,461.0 813.7,462.4 813.8,463.7 813.8,465.0 813.8,466.3 813.8,467.5 813.9,468.8 813.9,470.1 813.9,471.3 814.0,472.6 814.0,473.8 814.0,475.0 814.1,476.3 814.1,477.5 814.1,478.7 814.2,479.9 814.2,481.1 814.2,482.3 814.3,483.4 814.3,484.6 814.3,485.8 814.4,487.0 814.4,488.1 814.4,489.3 814.5,490.4 814.5,491.6 814.5,492.8 814.6,493.9 814.6,495.0 814.6,496.2 814.7,497.3 814.7,498.5 814.7,499.6 814.8,500.8 814.8,501.9 814.8,503.1 814.9,504.2 814.9,505.4 814.9,506.5 815.0,507.7 815.0,508.8 815.0,510.0 815.1,511.1 815.1,512.3 815.1,513.5 815.2,514.6 815.2,515.8 815.2,517.0 815.3,518.2 815.3,519.4 815.3,520.6 815.4,521.8 815.4,523.0 815.5,521.4 815.7,519.9 815.8,518.3 816.0,516.8 816.2,515.2 816.4,513.7 816.6,512.1 816.8,510.6 817.0,509.0 817.1,507.5 817.4,505.9 817.6,504.4 817.8,502.9 818.0,501.3 818.2,499.8 818.4,498.2 818.6,496.7 818.9,495.2 819.1,493.6 819.3,492.1 819.5,490.6 819.8,489.0 820.0,487.5 820.3,486.0 820.5,484.5 820.7,482.9 821.0,481.4 821.2,479.9 821.5,478.4 821.8,476.8 822.0,475.3 822.3,473.8 822.5,472.3 822.8,470.7 823.1,469.2 823.3,467.7 823.6,466.2 823.9,464.6 824.1,463.1 824.4,461.6 824.7,460.1 825.0,458.5 825.2,457.0 825.5,455.5 825.8,454.0 826.1,452.5 826.4,450.9 826.7,449.4 826.9,447.9 827.2,446.4 827.5,444.8 827.8,443.3 828.1,442.9 828.4,439.5 828.7,437.5 828.9,436.8 829.2,435.4 829.5,433.7 829.8,432.2 830.1,432.0 830.4,430.0 830.7,428.5 831.0,426.3 831.3,425.8 831.6,424.1 831.8,423.1 832.1,421.0 832.4,419.1 832.7,417.2 833.0,416.3 833.3,414.7 833.6,413.2 833.9,412.9 834.2,411.1 834.4,408.3 834.7,404.3 835.0,403.0 835.3,402.5 835.6,400.0 835.9,397.2 836.2,396.2 836.5,395.3 836.8,395.7 837.1,394.5 837.4,391.7 837.7,390.0 838.0,387.6 838.4,388.1 838.7,386.4 839.0,384.8 839.3,383.9 839.6,383.4 840.0,382.2 840.3,379.3 840.6,377.5 841.0,376.5 841.3,377.0 841.7,374.7 842.0,373.0 842.4,371.8 842.8,370.0 843.1,367.3 843.5,365.4 843.9,363.7 844.3,363.5 844.7,360.5 845.1,358.9 845.5,356.8 845.9,355.9 846.3,354.1 846.7,353.6 847.2,351.5 847.6,351.1 848.0,347.8 848.5,346.1 848.9,343.7 849.4,343.0 849.9,342.0 850.4,341.1 850.8,339.5 851.3,338.6 851.8,337.6 852.4,335.8 852.9,333.8 853.4,332.0 853.9,331.4 854.5,330.2 855.0,328.1 855.6,325.9 856.2,324.1 856.8,323.3 857.4,321.3 858.0,319.1 858.6,317.0 859.2,316.4 859.8,315.3 860.5,313.8 861.1,311.8 861.8,311.2 862.5,308.7 863.2,307.9 863.9,305.6 864.6,305.7 865.3,304.5 866.0,301.5 866.7,300.9 867.5,300.0 868.3,302.0 869.0,300.4 869.8,299.2 870.6,297.2 871.4,296.5 872.2,293.6 873.1,291.8 873.9,288.7 874.8,289.1 875.7,288.1 876.5,288.7 877.4,287.0 878.3,285.5 879.3,283.0 880.2,281.1 881.2,278.6 882.1,277.5 883.1,276.6 884.1,276.6 885.1,274.7 886.1,274.0 887.1,272.4 888.2,272.4 889.2,271.1 890.3,270.5 891.4,268.1 892.4,267.5 893.5,267.3 894.6,267.4 895.8,265.7 896.9,264.6 898.0,264.2 899.2,263.4 900.4,264.0 901.5,263.4 902.7,263.9 903.9,261.3 905.1,259.8 906.4,257.1 907.6,255.7 908.8,254.6 910.1,255.0 911.3,253.9 912.6,252.5 913.9,252.0 915.2,251.6 916.5,252.2 917.8,250.6 919.1,249.3 920.4,247.9 921.7,245.3 923.1,245.7 924.4,245.4 925.8,247.4 927.1,245.8 928.5,246.2 929.9,245.6 931.3,243.8 932.7,240.5 934.1,239.1 935.5,238.8 936.9,239.4 938.3,238.5 939.8,238.7 941.2,239.4 942.7,239.4 944.1,239.5 945.6,238.1 947.0,239.3 948.5,239.3 950.0,238.2 951.4,235.9 952.9,233.9 954.4,233.9 955.9,232.9 957.4,232.0 958.9,230.3 960.4,229.1 961.9,230.1 963.4,229.0 964.9,229.9 966.4,227.6 967.9,228.7 969.5,227.4 971.0,229.2 972.5,229.4 974.0,228.6 975.6,227.3 977.1,227.2 978.6,228.4 980.2,228.7 981.7,228.1 983.2,226.8 984.8,227.5 986.3,226.7 987.8,226.2 989.4,225.0 990.9,226.3 992.4,225.1 994.0,225.2 995.5,224.9 997.1,226.1 998.6,223.7 1000.1,222.1 1001.7,221.5 1003.2,222.9 1004.8,222.2 1006.3,221.9 1007.8,222.0 1009.4,222.3 1010.9,222.0 1012.5,220.9 1014.0,220.1 1015.6,219.8 1017.1,219.8 1018.7,221.2 1020.2,220.6 1021.7,219.6 1023.3,218.5 1024.8,218.3 1026.4,219.5 1027.9,219.2 1029.5,218.6 1031.0,218.4 1032.6,218.6 1034.1,219.7 1035.7,219.4 1037.2,220.1 1038.8,219.1 1040.3,219.1 1041.9,218.3 1043.4,218.8 1045.0,218.2 1046.5,217.6 1048.1,217.6 1049.6,217.5 1051.2,218.3 1052.7,219.1 1054.3,218.2 1055.8,219.0 1057.4,218.6 1058.9,218.4 1060.5,216.7 1062.0,215.8 1063.6,217.4 1065.1,216.7 1066.7,217.8 1068.2,216.1 1069.8,216.4 1071.3,214.6 1072.9,214.4 1074.4,213.7 1076.0,213.6 1077.5,214.3 1079.1,214.5 1080.6,214.2 1082.2,212.4 1083.7,212.6 1085.3,214.5 1086.9,217.6 1088.4,218.6 1090.0,216.8 1091.5,215.9 1093.1,214.6 1094.6,214.4 1096.2,214.1 1097.7,215.2 1099.3,215.1 1100.8,214.4 1102.4,213.5 1103.9,212.7 1105.5,213.8 1107.0,214.5 1108.6,216.4 1110.1,216.2 1111.7,215.0 1113.2,213.9 1114.8,212.5 1116.4,213.1 1117.9,214.8 1119.5,214.7 1121.0,214.9 1122.6,214.3 1124.1,214.2 1125.7,215.2 1127.2,213.6 1128.8,214.2 1130.3,212.9 1131.9,214.0 1133.4,214.6 1135.0,214.1 1136.5,212.8 1138.1,210.5 1139.6,210.2 1141.2,211.6 1142.7,212.6 1144.3,213.4 1145.8,212.9 1147.4,213.6 1148.9,212.7 1150.5,211.7 1152.0,211.4 1153.6,210.5 1155.1,211.9 1156.7,211.1 1158.2,211.9 1159.8,210.3 1161.3,210.8 1162.9,211.5 1164.4,212.8 1166.0,213.1 1167.5,213.9 1169.1,212.7 1170.6,213.0 1172.2,212.4 1173.7,212.7 1175.3,212.6 1176.8,211.2 1178.4,212.1 1179.9,212.1 1181.5,212.9 1183.0,211.6 1184.6,211.6 1186.1,210.6 1187.7,211.4 1189.2,211.4 1190.8,214.0 1192.3,213.3 1193.9,213.6 1195.4,212.2 1197.0,211.0 1198.5,209.0 1200.1,208.1 1201.6,210.1 1203.2,212.1 1204.7,212.2 1206.3,211.7 1207.8,210.7 1209.4,209.0 1210.9,209.4 1212.5,210.3 1214.0,210.4 1215.6,208.9 1217.1,207.7 1218.7,209.3 1220.2,210.7 1221.8,211.6 1223.3,211.2 1224.9,210.9 1226.4,209.5 1228.0,209.6 1229.5,209.2 1231.1,210.1 1232.6,209.8 1234.2,211.0 1235.7,210.7 1237.3,211.1 1238.8,210.3 1240.4,209.6 1241.9,209.8 1243.5,207.4 1245.1,206.5 1246.6,206.0 1248.2,207.4 1249.7,208.4 1251.3,208.1 1252.8,208.9 1254.4,210.0 1255.9,210.1 1257.5,210.4 1259.0,209.7 1260.6,209.2 1262.1,207.4 1263.7,207.1 1265.2,208.8 1266.8,209.0 1268.3,207.4 1269.9,207.3 1271.4,208.8 1273.0,210.2 1274.5,210.2 1276.1,210.8 1277.6,210.4 1279.2,209.2 1280.8,207.4 1282.3,208.8 1283.9,208.5 1285.4,208.5 1287.0,208.6 1288.5,209.9 1290.1,210.9 1291.6,209.3 1293.2,208.8 1294.7,207.6 1296.3,208.9 1297.8,209.0 1299.4,209.9 1301.0,209.1 1302.5,208.8 1304.1,208.5 1305.6,208.5 1307.2,208.6 1308.7,207.6 1310.3,206.8 1311.8,205.3 1313.4,205.9 1315.0,207.4 1316.5,208.9 1318.1,207.6 1319.6,207.2 1321.2,206.9 1322.7,208.2 1324.3,208.1 1325.8,208.5 1327.4,209.6 1329.0,210.3 1330.5,211.3 1332.1,210.7 1333.6,209.3 1335.2,208.9 1336.7,207.6 1338.3,208.6 1339.9,206.8 1341.4,207.3 1343.0,207.6 1344.5,207.8 1346.1,209.0 1347.7,208.6 1349.2,208.9 1350.8,208.7 1352.3,208.7 1353.9,208.9 1355.5,207.8 1357.0,208.0 1358.6,207.6 1360.1,208.1 1361.7,207.8 1363.3,207.9 1364.8,208.1 1366.4,208.0 1367.9,208.3 1369.5,208.2 1371.1,209.0 1372.6,208.4 1374.2,208.0 1375.8,206.1 1377.3,204.7 1378.9,205.5 1380.4,206.8 1382.0,209.5 1383.6,208.0 1385.1,207.1 1386.5,205.6 1386.8,206.8 1387.0,206.9 1387.3,206.0 1387.5,203.3 1387.8,201.6 1388.0,199.5 1388.2,198.7 1388.3,196.4 1388.5,196.1 1388.7,195.0 1388.8,194.7 1389.0,192.7 1389.2,190.7 1389.3,189.7 1389.5,188.5 1389.8,186.5 1390.0,184.5 1390.3,183.2 1390.6,182.7 1390.9,181.6 1391.2,180.5 1391.6,179.1 1392.0,178.6 1392.4,178.1 1393.0,178.0 1393.7,176.3 1394.4,174.6 1395.1,173.2 1396.0,171.2 1396.9,169.8 1397.9,169.4 1398.9,169.3 1399.8,169.0 1400.8,167.0 1401.9,167.1 1403.0,166.2 1404.2,167.3 1405.4,166.7 1406.6,165.8 1407.9,164.1 1409.1,162.7 1410.4,163.9 1411.4,164.2 1412.5,164.2 1413.6,163.0 1414.7,162.5 1415.8,162.0 1416.9,163.1 1418.0,161.9 1419.2,162.2 1420.4,159.5 1421.6,159.9 1422.8,158.9 1424.0,160.2 1425.2,160.4 1426.5,160.5 1427.7,158.2 1428.8,155.7 1429.9,155.7 1431.1,156.7 1432.2,157.2 1433.4,157.8 1434.5,158.2 1435.7,159.6 1436.9,159.4 1438.1,159.2 1439.3,158.6 1440.5,157.0 1441.7,157.5 1443.0,157.3 1444.2,159.3 1445.5,159.5 1446.8,159.4 1448.1,157.7 1449.4,156.9 1450.8,156.9 1451.9,157.9 1452.9,158.8 1454.1,157.8 1455.2,156.5 1456.3,156.0 1457.4,155.9 1458.6,156.6 1459.8,155.0 1461.0,155.6 1462.1,155.4 1463.3,156.4 1464.6,156.1 1465.8,156.8 1467.0,157.6 1468.2,158.6 1469.5,158.0 1470.7,157.2 1471.9,156.1 1473.2,155.8 1474.4,155.9 1475.7,156.2 1476.9,156.6 1478.2,156.9 1479.4,157.6 1480.7,157.3 1481.9,156.9 1483.1,156.7 1484.4,157.3 1485.6,156.9 1486.8,155.6 1488.0,155.5" fill="none" stroke="#ED1C24" stroke-width="2.8" stroke-linejoin="round" stroke-linecap="round" />
<polyline points="765.0,156.3 766.3,156.5 767.5,155.8 768.8,157.1 770.0,156.5 771.3,157.8 772.6,157.4 773.8,158.6 775.1,158.4 776.4,158.4 777.6,157.7 778.9,158.3 780.2,157.9 781.4,158.2 782.7,156.5 783.9,156.8 785.1,157.0 786.4,157.3 787.6,157.4 788.8,157.1 790.0,157.3 791.3,157.5 792.6,158.0 793.8,157.9 795.1,156.8 796.3,156.6 797.5,156.5 798.8,157.1 800.0,156.5 801.2,157.4 802.4,158.6 803.7,158.7 804.9,159.2 806.1,158.3 807.3,158.4 808.5,157.9 809.8,158.7 811.0,157.5 811.1,158.7 811.2,159.8 811.3,160.8 811.4,161.9 811.5,162.9 811.6,164.0 811.7,165.3 811.8,166.7 811.9,168.2 812.0,170.0 812.0,170.6 812.0,171.2 812.1,171.8 812.1,172.5 812.1,173.1 812.1,173.8 812.1,174.5 812.2,175.3 812.2,176.0 812.2,176.8 812.2,177.6 812.2,178.4 812.3,179.2 812.3,180.1 812.3,180.9 812.3,181.8 812.3,182.7 812.3,183.6 812.3,184.6 812.3,185.5 812.4,186.5 812.4,187.5 812.4,188.5 812.4,189.5 812.4,190.5 812.4,191.6 812.4,192.7 812.4,193.7 812.4,194.8 812.4,195.9 812.4,197.0 812.4,198.2 812.4,199.3 812.5,200.5 812.5,201.7 812.5,202.8 812.5,204.0 812.5,205.2 812.5,206.5 812.5,207.7 812.5,208.9 812.5,210.2 812.5,211.4 812.5,212.7 812.5,214.0 812.5,215.3 812.5,216.6 812.5,217.9 812.5,219.2 812.5,220.5 812.5,221.8 812.5,223.2 812.5,224.5 812.5,225.9 812.5,227.2 812.5,228.6 812.5,229.9 812.5,231.3 812.5,232.7 812.5,234.1 812.5,235.5 812.5,236.8 812.5,238.2 812.5,239.6 812.5,241.0 812.5,242.4 812.5,243.8 812.5,245.3 812.5,246.7 812.5,248.1 812.5,249.5 812.5,250.9 812.5,252.3 812.5,253.7 812.5,255.2 812.4,256.6 812.4,258.0 812.4,259.4 812.4,260.8 812.4,262.2 812.4,263.6 812.4,265.0 812.4,266.5 812.4,267.9 812.4,269.3 812.4,270.7 812.4,272.0 812.4,273.4 812.4,274.8 812.4,276.2 812.4,277.6 812.4,279.0 812.4,280.3 812.4,281.7 812.4,283.0 812.4,284.4 812.5,285.7 812.5,287.1 812.5,288.4 812.5,289.7 812.5,291.0 812.5,292.3 812.5,293.6 812.5,294.9 812.5,296.2 812.5,297.5 812.5,298.7 812.5,300.0 812.5,301.2 812.5,302.3 812.5,303.5 812.5,304.7 812.5,305.8 812.5,307.0 812.5,308.2 812.5,309.4 812.6,310.6 812.6,311.8 812.6,313.0 812.6,314.2 812.6,315.4 812.6,316.6 812.6,317.8 812.6,319.1 812.6,320.3 812.6,321.5 812.6,322.7 812.6,324.0 812.6,325.2 812.6,326.4 812.6,327.7 812.6,328.9 812.6,330.2 812.6,331.4 812.6,332.7 812.7,333.9 812.7,335.2 812.7,336.4 812.7,337.7 812.7,338.9 812.7,340.2 812.7,341.5 812.7,342.7 812.7,344.0 812.7,345.3 812.7,346.5 812.7,347.8 812.7,349.1 812.7,350.3 812.7,351.6 812.7,352.9 812.7,354.2 812.7,355.4 812.7,356.7 812.8,358.0 812.8,359.2 812.8,360.5 812.8,361.8 812.8,363.1 812.8,364.3 812.8,365.6 812.8,366.9 812.8,368.2 812.8,369.4 812.8,370.7 812.8,372.0 812.8,373.2 812.8,374.5 812.8,375.8 812.8,377.0 812.8,378.3 812.9,379.6 812.9,380.8 812.9,382.1 812.9,383.3 812.9,384.6 812.9,385.9 812.9,387.1 812.9,388.4 812.9,389.6 812.9,390.8 812.9,392.1 812.9,393.3 812.9,394.6 812.9,395.8 813.0,397.0 813.0,398.3 813.0,399.5 813.0,400.7 813.0,401.9 813.0,403.2 813.0,404.4 813.0,405.6 813.0,406.8 813.0,408.0 813.0,409.2 813.0,410.4 813.1,411.6 813.1,412.8 813.1,413.9 813.1,415.1 813.1,416.3 813.1,417.5 813.1,418.6 813.1,419.8 813.1,421.0 813.2,422.1 813.2,423.2 813.2,424.4 813.2,425.5 813.2,426.7 813.2,427.8 813.2,428.9 813.2,430.0 813.2,431.1 813.3,432.2 813.3,433.3 813.3,434.4 813.3,435.5 813.3,436.6 813.3,437.7 813.3,438.7 813.3,439.8 813.4,440.8 813.4,441.9 813.4,442.9 813.4,444.0 813.4,445.0 813.4,446.0 813.5,447.0 813.5,448.0 813.5,449.0 813.5,450.0 813.5,451.4 813.5,452.8 813.6,454.2 813.6,455.6 813.6,457.0 813.6,458.4 813.7,459.7 813.7,461.0 813.7,462.4 813.8,463.7 813.8,465.0 813.8,466.3 813.8,467.5 813.9,468.8 813.9,470.1 813.9,471.3 814.0,472.6 814.0,473.8 814.0,475.0 814.1,476.3 814.1,477.5 814.1,478.7 814.2,479.9 814.2,481.1 814.2,482.3 814.3,483.4 814.3,484.6 814.3,485.8 814.4,487.0 814.4,488.1 814.4,489.3 814.5,490.4 814.5,491.6 814.5,492.8 814.6,493.9 814.6,495.0 814.6,496.2 814.7,497.3 814.7,498.5 814.7,499.6 814.8,500.8 814.8,501.9 814.8,503.1 814.9,504.2 814.9,505.4 814.9,506.5 815.0,507.7 815.0,508.8 815.0,510.0 815.1,511.1 815.1,512.3 815.1,513.5 815.2,514.6 815.2,515.8 815.2,517.0 815.3,518.2 815.3,519.4 815.3,520.6 815.4,521.8 815.4,523.0 815.6,521.5 815.8,519.9 816.1,518.4 816.4,516.9 816.6,515.4 816.9,513.8 817.2,512.3 817.4,510.8 817.7,509.3 817.9,507.8 818.2,506.2 818.5,504.7 818.7,503.2 819.0,501.7 819.3,500.1 819.5,498.6 819.8,497.1 820.0,495.6 820.3,494.0 820.5,492.5 820.8,491.0 821.1,489.5 821.3,488.0 821.6,486.4 821.8,484.9 822.1,483.4 822.4,481.9 822.6,480.3 822.9,478.8 823.1,477.3 823.4,475.8 823.7,474.3 823.9,472.7 824.2,471.2 824.5,469.7 824.7,468.2 825.0,466.7 825.3,465.1 825.5,463.6 825.8,462.1 826.1,460.6 826.3,459.1 826.6,457.5 826.9,456.0 827.1,454.5 827.4,453.0 827.7,451.5 828.0,450.0 828.2,448.4 828.5,446.3 828.8,444.8 829.1,443.6 829.4,442.4 829.6,442.3 829.9,439.4 830.2,437.6 830.5,434.3 830.8,433.7 831.1,432.4 831.4,431.3 831.7,430.5 832.0,429.7 832.3,428.2 832.6,426.9 832.9,424.4 833.2,422.7 833.5,420.5 833.8,419.6 834.1,418.1 834.4,416.4 834.8,414.8 835.1,412.8 835.4,410.9 835.7,409.5 836.1,408.7 836.4,407.9 836.7,406.9 837.1,404.1 837.4,401.9 837.7,399.6 838.1,399.2 838.4,398.1 838.8,396.9 839.1,395.9 839.5,394.1 839.9,392.9 840.2,391.2 840.6,390.1 840.9,388.4 841.3,387.3 841.7,385.9 842.1,385.0 842.5,383.0 842.8,381.2 843.2,378.9 843.6,376.4 844.0,374.3 844.4,372.5 844.8,371.8 845.2,370.2 845.6,369.2 846.1,367.3 846.5,366.5 846.9,365.1 847.3,364.7 847.7,363.6 848.2,362.9 848.6,360.8 849.1,358.1 849.5,356.4 850.0,355.7 850.4,354.9 850.9,353.6 851.3,351.2 851.8,349.9 852.3,347.7 852.8,346.0 853.2,344.3 853.7,342.1 854.2,340.9 854.7,339.7 855.2,339.4 855.7,337.8 856.2,336.5 856.8,335.7 857.3,334.7 857.8,333.0 858.3,330.6 858.9,328.6 859.4,327.8 860.0,326.0 860.5,325.0 861.1,323.1 861.6,320.7 862.2,319.0 862.8,317.1 863.4,316.4 864.0,314.7 864.6,313.7 865.2,313.8 865.8,312.4 866.4,310.4 867.1,307.8 867.7,306.6 868.4,305.1 869.0,303.7 869.7,301.3 870.4,299.8 871.1,298.3 871.8,298.1 872.5,296.8 873.3,295.3 874.0,293.6 874.8,292.2 875.5,291.0 876.3,289.3 877.1,289.3 877.9,288.0 878.8,287.8 879.6,285.8 880.5,285.6 881.3,283.3 882.2,282.1 883.1,279.0 884.0,278.8 885.0,277.9 886.0,277.5 887.1,276.5 888.2,276.3 889.4,275.9 890.5,274.5 891.7,272.0 892.9,269.8 894.1,267.2 895.3,266.5 896.6,264.9 897.9,264.4 899.2,263.6 900.5,263.6 901.8,262.1 903.2,259.9 904.4,259.5 905.6,258.7 906.9,258.0 908.1,256.0 909.4,255.6 910.7,254.7 912.0,255.1 913.3,253.9 914.6,253.2 915.9,251.0 917.3,251.3 918.6,251.4 920.0,251.7 921.3,250.5 922.7,249.5 924.1,249.5 925.5,248.0 926.9,246.8 928.3,246.8 929.7,247.5 931.1,247.7 932.6,246.1 934.0,245.4 935.5,245.1 936.9,245.0 938.4,243.6 939.8,242.8 941.3,242.1 942.8,242.3 944.3,241.4 945.8,240.7 947.2,239.8 948.7,239.7 950.3,239.5 951.8,239.9 953.3,240.0 954.8,240.0 956.3,239.5 957.8,238.3 959.4,237.6 960.9,237.0 962.4,236.5 964.0,235.9 965.5,236.1 967.1,237.1 968.6,237.1 970.2,236.0 971.7,235.2 973.3,234.7 974.8,235.7 976.4,235.0 977.9,235.5 979.5,234.6 981.1,235.2 982.6,234.2 984.2,234.4 985.7,234.0 987.3,234.1 988.9,233.2 990.4,232.7 992.0,231.8 993.5,232.3 995.1,232.3 996.6,233.7 998.2,232.6 999.8,233.3 1001.3,232.7 1002.9,233.0 1004.4,232.3 1006.0,231.4 1007.5,230.8 1009.1,231.0 1010.6,230.5 1012.2,231.0 1013.7,230.9 1015.2,231.8 1016.8,232.3 1018.3,231.4 1019.9,230.9 1021.4,230.7 1023.0,231.1 1024.5,231.2 1026.0,231.2 1027.6,230.1 1029.1,230.5 1030.7,229.5 1032.2,230.1 1033.7,229.5 1035.3,229.7 1036.8,229.7 1038.3,230.2 1039.9,230.6 1041.4,230.3 1042.9,229.6 1044.5,228.4 1046.0,229.0 1047.5,229.3 1049.1,229.3 1050.6,228.5 1052.1,228.7 1053.6,228.6 1055.2,228.5 1056.7,227.7 1058.2,227.8 1059.8,227.6 1061.3,226.6 1062.8,227.1 1064.3,226.7 1065.9,227.6 1067.4,226.4 1068.9,227.6 1070.5,227.7 1072.0,227.4 1073.5,226.0 1075.0,225.4 1076.6,225.8 1078.1,225.4 1079.6,224.8 1081.1,224.8 1082.7,225.4 1084.2,226.0 1085.7,226.9 1087.2,226.7 1088.8,225.5 1090.3,224.7 1091.8,225.2 1093.3,225.6 1094.9,225.7 1096.4,225.3 1097.9,225.3 1099.4,225.0 1101.0,224.3 1102.5,225.4 1104.0,225.7 1105.6,226.1 1107.1,225.7 1108.6,225.6 1110.1,225.2 1111.7,224.2 1113.2,223.1 1114.7,222.8 1116.3,223.8 1117.8,224.9 1119.3,226.1 1120.8,225.0 1122.4,224.4 1123.9,224.2 1125.4,225.6 1127.0,225.4 1128.5,224.6 1130.0,223.5 1131.6,223.8 1133.1,224.3 1134.6,224.8 1136.2,224.3 1137.7,224.6 1139.2,223.6 1140.8,224.0 1142.3,223.9 1143.9,224.8 1145.4,224.7 1146.9,223.8 1148.5,223.2 1150.0,222.6 1151.6,222.4 1153.1,221.9 1154.6,222.7 1156.2,222.4 1157.7,222.5 1159.3,222.5 1160.8,223.2 1162.3,224.2 1163.9,224.3 1165.4,224.2 1167.0,223.9 1168.5,222.6 1170.1,222.4 1171.6,222.7 1173.1,223.4 1174.7,223.3 1176.2,223.7 1177.8,223.8 1179.3,223.0 1180.9,222.2 1182.4,220.6 1184.0,221.4 1185.5,221.0 1187.1,221.9 1188.6,221.3 1190.1,220.8 1191.7,222.3 1193.2,222.1 1194.8,221.8 1196.3,220.4 1197.9,220.7 1199.4,221.8 1201.0,222.0 1202.5,222.1 1204.1,221.6 1205.6,221.5 1207.2,221.5 1208.7,220.9 1210.3,220.7 1211.8,220.6 1213.4,220.5 1214.9,220.5 1216.5,221.1 1218.0,220.7 1219.6,220.9 1221.1,220.6 1222.7,221.1 1224.2,220.8 1225.8,221.0 1227.3,220.8 1228.9,221.0 1230.4,220.7 1232.0,221.0 1233.5,220.8 1235.1,220.9 1236.6,221.4 1238.2,220.8 1239.7,220.8 1241.3,219.8 1242.9,219.9 1244.4,219.4 1246.0,219.8 1247.5,219.4 1249.1,220.0 1250.6,219.7 1252.2,220.8 1253.7,220.2 1255.3,220.6 1256.8,220.3 1258.4,220.3 1259.9,220.0 1261.5,219.8 1263.0,220.1 1264.6,220.2 1266.1,220.5 1267.7,219.7 1269.2,219.3 1270.8,219.2 1272.3,218.8 1273.9,219.7 1275.4,219.4 1277.0,219.9 1278.5,219.0 1280.1,219.2 1281.6,219.6 1283.2,220.2 1284.7,219.8 1286.3,219.0 1287.8,218.6 1289.4,218.9 1290.9,219.0 1292.5,219.7 1294.0,219.2 1295.6,219.2 1297.1,219.0 1298.7,219.3 1300.2,219.6 1301.8,218.8 1303.3,218.4 1304.9,218.2 1306.4,217.8 1308.0,218.7 1309.5,219.2 1311.1,220.8 1312.6,220.5 1314.2,220.1 1315.7,219.7 1317.3,219.5 1318.8,220.2 1320.4,219.6 1321.9,219.0 1323.4,218.4 1325.0,218.5 1326.5,219.6 1328.1,219.6 1329.6,219.9 1331.2,219.7 1332.7,219.6 1334.3,219.0 1335.8,218.6 1337.3,218.2 1338.9,218.8 1340.4,219.5 1342.0,220.1 1343.5,219.8 1345.1,219.0 1346.6,219.5 1348.1,220.3 1349.7,219.9 1351.2,220.6 1352.8,220.8 1354.3,221.6 1355.8,220.7 1357.4,220.2 1358.9,220.6 1360.4,220.5 1362.0,220.7 1363.5,220.9 1365.0,222.2 1366.6,222.0 1368.1,221.5 1369.7,220.9 1371.2,221.0 1372.7,221.4 1374.3,221.1 1375.8,221.0 1377.3,220.8 1378.8,220.6 1380.4,220.5 1381.9,220.6 1383.4,221.7 1385.0,222.1 1386.5,222.0 1386.5,220.7 1386.7,220.1 1386.9,219.0 1387.1,218.4 1387.3,216.0 1387.4,214.2 1387.6,213.0 1387.8,211.8 1388.0,211.5 1388.1,210.7 1388.3,209.9 1388.4,208.4 1388.5,206.6 1388.6,205.4 1388.8,204.2 1388.9,202.9 1389.0,201.9 1389.2,200.8 1389.3,199.9 1389.5,199.0 1389.6,197.8 1389.8,196.0 1390.0,194.9 1390.2,193.9 1390.5,193.1 1390.7,191.4 1390.9,190.7 1391.2,188.5 1391.5,187.7 1391.8,185.7 1392.1,186.2 1392.5,185.7 1393.0,184.8 1393.6,182.8 1394.2,181.1 1394.8,179.3 1395.5,178.5 1396.3,176.9 1397.1,176.7 1398.0,175.0 1398.9,174.3 1399.8,173.4 1400.8,173.3 1401.9,172.6 1403.0,171.5 1404.1,170.8 1405.3,171.0 1406.6,170.5 1407.8,169.5 1409.1,167.9 1410.4,167.5 1411.5,168.1 1412.6,168.1 1413.6,168.4 1414.7,168.5 1415.8,168.0 1417.0,167.6 1418.1,166.8 1419.3,167.4 1420.6,167.6 1421.9,167.8 1423.2,166.8 1424.6,166.2 1426.1,165.9 1427.7,166.2 1428.6,166.0 1429.4,166.1 1430.3,166.3 1431.3,166.6 1432.2,166.1 1433.2,165.7 1434.2,165.0 1435.3,165.0 1436.3,165.4 1437.4,165.8 1438.5,166.0 1439.6,166.1 1440.8,166.0 1441.9,166.0 1443.1,164.9 1444.3,165.5 1445.5,165.4 1446.7,166.4 1447.9,166.3 1449.2,166.3 1450.4,166.2 1451.7,165.2 1453.0,165.0 1454.3,163.9 1455.6,164.9 1456.9,165.4 1458.2,166.9 1459.5,167.0 1460.8,167.4 1462.1,166.7 1463.4,165.4 1464.8,164.6 1466.1,165.6 1467.4,166.5 1468.8,167.1 1470.1,166.6 1471.4,166.6 1472.7,165.9 1474.0,165.0 1475.4,165.2 1476.7,164.9 1478.0,166.1 1479.2,165.9 1480.5,166.6 1481.8,165.9 1483.1,164.9 1484.3,164.2 1485.6,164.6 1486.8,164.7 1488.0,165.1" fill="none" stroke="#00AEEF" stroke-width="2.6" stroke-linejoin="round" stroke-linecap="round" />
<path d="M766,133.2 H812.9 V96.3 H1387.4 V133.1 H1486.5" fill="none" stroke="#231F20" stroke-width="4.5" stroke-linecap="round" stroke-linejoin="round"/>
<rect x="1310.1" y="291" width="144.2" height="4.8" fill="#231F20"/>
<line x1="68.7" y1="709.8" x2="752" y2="709.8" stroke="#231F20" stroke-width="2.6" stroke-dasharray="13.7 10.1"/>
<polyline points="56.0,710.8 57.5,711.3 59.0,712.0 60.0,712.8 61.0,713.8 62.0,715.0 62.8,716.4 63.2,717.3 63.6,718.3 63.9,719.4 64.3,720.6 64.5,721.8 64.8,723.1 65.1,724.3 65.3,725.6 65.6,726.9 65.8,728.2 66.0,729.4 66.2,730.5 66.4,731.6 66.6,732.8 66.8,733.9 67.0,735.1 67.2,736.3 67.4,737.6 67.5,738.9 67.7,740.2 67.8,741.6 68.0,743.0 68.1,744.0 68.2,745.0 68.3,746.1 68.4,747.2 68.5,748.3 68.6,749.4 68.7,750.6 68.8,751.8 68.8,753.0 68.9,754.2 69.0,755.4 69.1,756.6 69.2,757.9 69.2,759.2 69.3,760.4 69.4,761.7 69.5,763.0 69.6,764.3 69.6,765.7 69.7,767.0 69.8,768.3 69.9,769.7 70.0,771.0 70.0,772.3 70.1,773.7 70.2,775.0 70.3,776.1 70.3,777.2 70.4,778.3 70.5,779.4 70.6,780.5 70.6,781.6 70.7,782.7 70.8,783.8 70.8,784.9 70.9,786.0 71.0,787.1 71.0,788.2 71.1,789.3 71.2,790.4 71.2,791.6 71.3,792.7 71.4,793.8 71.4,795.0 71.5,796.1 71.6,797.3 71.6,798.5 71.7,799.7 71.8,800.9 71.9,802.2 71.9,803.4 72.0,804.7 72.1,806.0 72.2,807.3 72.2,808.6 72.3,809.9 72.4,811.3 72.5,812.7 72.6,814.1 72.6,815.5 72.7,817.0 72.8,818.5 72.9,820.0 73.0,820.9 73.0,821.8 73.1,822.7 73.1,823.7 73.2,824.7 73.2,825.6 73.3,826.6 73.3,827.6 73.4,828.7 73.4,829.7 73.5,830.8 73.6,831.8 73.6,832.9 73.7,834.0 73.7,835.1 73.8,836.2 73.9,837.3 73.9,838.5 74.0,839.6 74.0,840.8 74.1,841.9 74.2,843.1 74.2,844.3 74.3,845.5 74.4,846.7 74.4,847.9 74.5,849.2 74.5,850.4 74.6,851.7 74.7,852.9 74.7,854.2 74.8,855.4 74.9,856.7 74.9,858.0 75.0,859.3 75.1,860.6 75.1,861.9 75.2,863.2 75.3,864.5 75.3,865.8 75.4,867.1 75.5,868.4 75.5,869.8 75.6,871.1 75.7,872.4 75.8,873.8 75.8,875.1 75.9,876.5 76.0,877.8 76.0,879.1 76.1,880.5 76.2,881.8 76.3,883.2 76.3,884.5 76.4,885.9 76.5,887.2 76.5,888.6 76.6,889.9 76.7,891.3 76.8,892.6 76.8,894.0 76.9,895.3 77.0,896.7 77.0,898.0 77.1,899.4 77.2,900.7 77.3,902.0 77.3,903.4 77.4,904.7 77.5,906.0 77.6,907.3 77.6,908.6 77.7,909.9 77.8,911.2 77.9,912.5 77.9,913.8 78.0,915.1 78.1,916.4 78.2,917.6 78.2,918.9 78.3,920.1 78.4,921.4 78.5,922.6 78.5,923.9 78.6,925.1 78.7,926.3 78.7,927.5 78.8,928.7 78.9,929.9 79.0,931.0 79.0,932.2 79.1,933.3 79.2,934.5 79.3,935.6 79.3,936.7 79.4,937.8 79.5,938.9 79.6,940.0 79.6,941.1 79.7,942.1 79.8,943.1 79.9,944.2 79.9,945.2 80.0,946.2 80.1,947.2 80.2,948.1 80.2,949.1 80.3,950.0 80.4,951.5 80.5,952.9 80.7,954.4 80.8,955.8 80.9,957.2 81.0,958.6 81.1,959.9 81.2,961.2 81.4,962.6 81.5,963.9 81.6,965.2 81.7,966.4 81.8,967.7 82.0,968.9 82.1,970.2 82.2,971.4 82.3,972.6 82.5,973.8 82.6,975.0 82.7,976.1 82.8,977.3 82.9,978.4 83.1,979.6 83.2,980.7 83.3,981.9 83.4,983.0 83.6,984.1 83.7,985.2 83.8,986.3 83.9,987.5 84.0,988.6 84.2,989.7 84.3,990.8 84.4,991.9 84.5,993.0 84.7,994.1 84.8,995.2 84.9,996.3 85.0,997.4 85.2,998.5 85.3,999.7 85.4,1000.8 85.5,1002.1 85.7,1003.4 85.8,1004.8 85.9,1006.1 86.1,1007.5 86.2,1008.8 86.3,1010.2 86.4,1011.5 86.5,1012.9 86.6,1014.3 86.8,1015.6 86.9,1017.0 87.0,1018.3 87.1,1019.6 87.2,1021.0 87.3,1022.3 87.5,1023.6 87.6,1024.8 87.7,1026.1 87.9,1027.3 88.0,1028.6 88.1,1029.8 88.3,1030.9 88.4,1032.1 88.6,1033.2 88.8,1034.3 89.0,1035.3 89.2,1036.3 89.3,1037.3 89.6,1038.2 89.8,1039.1 90.0,1040.0 90.4,1041.5 90.8,1042.8 91.2,1044.2 91.6,1045.4 92.0,1046.6 92.5,1047.6 93.0,1048.6 93.6,1049.5 94.3,1050.3 95.0,1051.0 96.0,1051.6 97.2,1052.1 98.4,1052.3 99.8,1052.5 101.1,1052.6 102.4,1052.8 103.7,1053.0 105.4,1052.8 106.9,1052.4 108.3,1051.7 109.6,1050.7 110.8,1049.6 111.8,1048.3 112.7,1047.0 113.5,1045.6 114.2,1044.2 115.0,1042.8 115.8,1041.4 116.6,1040.1 117.5,1038.7 118.4,1037.5 119.3,1036.2 120.2,1034.9 121.2,1033.7 122.1,1032.5 123.1,1031.3 124.1,1030.1 125.0,1028.9 126.0,1027.7 126.9,1026.5 127.9,1025.3 128.8,1024.1 129.7,1022.9 130.6,1021.7 131.5,1020.5 132.4,1019.2 133.3,1018.0 134.2,1016.8 135.0,1015.6 135.9,1014.3 136.8,1013.1 137.6,1011.8 138.5,1010.6 139.3,1009.3 140.2,1008.1 141.0,1006.8 141.8,1005.6 142.7,1004.3 143.5,1003.1 144.3,1001.8 145.1,1000.5 146.0,999.3 146.8,998.0 147.6,996.7 148.4,995.5 149.3,994.2 150.1,993.0 150.9,991.7 151.7,990.4 152.5,989.2 153.4,987.9 154.2,986.6 155.0,985.4 155.8,984.1 156.7,982.8 157.5,981.6 158.3,980.3 159.2,979.0 160.0,977.8 160.9,976.5 161.7,975.3 162.6,974.0 163.5,972.8 164.3,971.5 165.2,970.3 166.1,969.0 167.0,967.8 167.8,966.5 168.7,965.3 169.6,964.0 170.5,962.8 171.4,961.6 172.3,960.3 173.2,959.1 174.2,957.9 175.1,956.6 176.0,955.4 176.9,954.2 177.9,953.0 178.8,951.7 179.7,950.5 180.7,949.3 181.6,948.1 182.6,946.9 183.5,945.7 184.5,944.5 185.5,943.3 186.4,942.1 187.4,940.9 188.4,939.7 189.4,938.5 190.3,937.3 191.3,936.2 192.3,935.0 193.3,933.8 194.3,932.6 195.3,931.5 196.3,930.3 197.3,929.1 198.3,928.0 199.4,926.8 200.4,925.7 201.4,924.5 202.4,923.4 203.5,922.2 204.5,921.1 205.5,920.0 206.6,918.8 207.6,917.7 208.7,916.6 209.7,915.5 210.8,914.3 211.8,913.2 212.9,912.1 214.0,911.0 215.0,909.9 216.1,908.8 217.2,907.7 218.3,906.6 219.3,905.6 220.4,904.5 221.5,903.4 222.6,902.3 223.7,901.3 224.8,900.2 225.9,899.1 227.0,898.1 228.1,897.0 229.2,896.0 230.3,895.0 231.5,893.9 232.6,892.9 233.7,891.9 234.8,890.9 236.0,889.8 237.1,888.8 238.2,887.8 239.4,886.8 240.5,885.8 241.7,884.8 242.8,883.8 244.0,882.8 245.1,881.9 246.3,880.9 247.4,879.9 248.6,878.9 249.8,878.0 250.9,877.0 252.1,876.0 253.3,875.1 254.5,874.1 255.6,873.2 256.8,872.3 258.0,871.3 259.2,870.4 260.4,869.5 261.6,868.5 262.8,867.6 264.0,866.7 265.2,865.8 266.4,864.9 267.6,864.0 268.8,863.1 270.0,862.2 271.2,861.3 272.5,860.4 273.7,859.5 274.9,858.6 276.1,857.8 277.4,856.9 278.6,856.0 279.8,855.2 281.1,854.3 282.3,853.4 283.5,852.6 284.8,851.7 286.0,850.9 287.3,850.1 288.5,849.2 289.8,848.4 291.1,847.6 292.3,846.7 293.6,845.9 294.9,845.1 296.1,844.3 297.4,843.5 298.7,842.7 299.9,841.9 301.2,841.1 302.5,840.3 303.8,839.5 305.1,838.7 306.4,837.9 307.6,837.1 308.9,836.4 310.2,835.6 311.5,834.8 312.8,834.1 314.1,833.3 315.4,832.5 316.7,831.8 318.1,831.0 319.4,830.3 320.7,829.5 322.0,828.8 323.3,828.1 324.6,827.3 326.0,826.6 327.3,825.9 328.6,825.2 329.9,824.5 331.3,823.7 332.6,823.0 333.9,822.3 335.3,821.6 336.6,820.9 338.0,820.2 339.3,819.5 340.6,818.9 342.0,818.2 343.3,817.5 344.7,816.8 346.0,816.1 347.4,815.5 348.8,814.8 350.1,814.1 351.5,813.5 352.8,812.8 354.2,812.2 355.6,811.5 357.0,810.9 358.3,810.2 359.7,809.6 361.1,808.9 362.5,808.3 363.8,807.7 365.2,807.1 366.6,806.4 368.0,805.8 369.4,805.2 370.8,804.6 372.1,804.0 373.5,803.4 374.9,802.8 376.3,802.2 377.7,801.6 379.1,801.0 380.5,800.4 381.9,799.8 383.3,799.2 384.7,798.6 386.2,798.0 387.6,797.5 389.0,796.9 390.4,796.3 391.8,795.8 393.2,795.2 394.6,794.6 396.1,794.1 397.5,793.5 398.9,793.0 400.3,792.4 401.8,791.9 403.2,791.4 404.6,790.8 406.0,790.3 407.5,789.7 408.9,789.2 410.3,788.7 411.8,788.2 413.2,787.7 414.7,787.1 416.1,786.6 417.5,786.1 419.0,785.6 420.4,785.1 421.9,784.6 423.3,784.1 424.8,783.6 426.2,783.1 427.7,782.6 429.1,782.1 430.6,781.6 432.0,781.2 433.5,780.7 435.0,780.2 436.4,779.7 437.9,779.3 439.3,778.8 440.8,778.3 442.3,777.9 443.7,777.4 445.2,777.0 446.7,776.5 448.1,776.1 449.6,775.6 451.1,775.2 452.6,774.7 454.0,774.3 455.5,773.9 457.0,773.4 458.5,773.0 459.9,772.6 461.4,772.1 462.9,771.7 464.4,771.3 465.9,770.9 467.3,770.5 468.8,770.0 470.3,769.6 471.8,769.2 473.3,768.8 474.8,768.4 476.3,768.0 477.8,767.6 479.3,767.2 480.7,766.8 482.2,766.4 483.7,766.1 485.2,765.7 486.7,765.3 488.2,764.9 489.7,764.5 491.2,764.2 492.7,763.8 494.2,763.4 495.7,763.0 497.2,762.7 498.7,762.3 500.2,762.0 501.7,761.6 503.2,761.3 504.8,760.9 506.3,760.5 507.8,760.2 509.3,759.9 510.8,759.5 512.3,759.2 513.8,758.8 515.3,758.5 516.8,758.2 518.3,757.8 519.9,757.5 521.4,757.2 522.9,756.8 524.4,756.5 525.9,756.2 527.4,755.9 528.9,755.6 530.5,755.3 532.0,754.9 533.5,754.6 535.0,754.3 536.5,754.0 538.0,753.7 539.6,753.4 541.1,753.1 542.6,752.8 544.1,752.5 545.7,752.2 547.2,752.0 548.7,751.7 550.2,751.4 551.7,751.1 553.3,750.8 554.8,750.5 556.3,750.3 557.8,750.0 559.4,749.7 560.9,749.4 562.4,749.2 563.9,748.9 565.5,748.6 567.0,748.4 568.5,748.1 570.0,747.9 571.6,747.6 573.1,747.3 574.6,747.1 576.2,746.8 577.7,746.6 579.2,746.3 580.7,746.1 582.3,745.9 583.8,745.6 585.3,745.4 586.9,745.1 588.4,744.9 589.9,744.7 591.4,744.4 593.0,744.2 594.5,744.0 596.0,743.7 597.6,743.5 599.1,743.3 600.6,743.1 602.1,742.9 603.7,742.6 605.2,742.4 606.7,742.2 608.3,742.0 609.8,741.8 611.3,741.6 612.8,741.4 614.4,741.2 615.9,740.9 617.4,740.7 619.0,740.5 620.5,740.3 622.0,740.1 623.5,739.9 625.1,739.8 626.6,739.6 628.1,739.4 629.6,739.2 631.2,739.0 632.7,738.8 634.2,738.6 635.7,738.4 637.3,738.3 638.8,738.1 640.3,737.9 641.8,737.7 643.4,737.5 644.9,737.4 646.4,737.2 647.9,737.0 649.5,736.8 651.0,736.7 652.5,736.5 654.0,736.3 655.5,736.2 657.1,736.0 658.6,735.9 660.1,735.7 661.6,735.5 663.1,735.4 664.7,735.2 666.2,735.1 667.7,734.9 669.2,734.8 670.7,734.6 672.2,734.5 673.8,734.3 675.3,734.2 676.8,734.0 678.3,733.9 679.8,733.7 681.3,733.6 682.8,733.4 684.3,733.3 685.9,733.2 687.4,733.0 688.9,732.9 690.4,732.8 691.9,732.6 693.4,732.5 694.9,732.4 696.4,732.2 697.9,732.1 699.4,732.0 700.9,731.8 702.4,731.7 703.9,731.6 705.4,731.5 706.9,731.4 708.4,731.2 709.9,731.1 711.4,731.0 712.9,730.9 714.6,730.7 716.3,730.6 717.9,730.5 719.6,730.4 721.3,730.2 723.0,730.1 724.6,730.0 726.3,729.9 728.0,729.7 729.7,729.6 731.3,729.5 733.0,729.4 734.7,729.3 736.3,729.1 738.0,729.0 739.7,728.9 741.3,728.8 743.0,728.7 744.6,728.6 746.3,728.5 747.9,728.4 749.6,728.3 751.3,728.1 752.0,728.1" fill="none" stroke="#F7941D" stroke-width="2.0" stroke-linejoin="round" stroke-linecap="round" />
<polyline points="56.0,710.8 57.2,710.8 58.5,710.8 59.8,710.8 61.0,710.9 62.0,711.0 63.3,711.3 64.3,712.0 64.7,712.5 65.0,713.2 65.3,714.0 65.6,715.0 65.9,716.0 66.1,717.2 66.4,718.4 66.6,719.7 66.8,721.1 67.0,722.6 67.2,724.0 67.4,725.5 67.6,727.0 67.8,728.5 68.0,730.0 68.1,730.9 68.2,731.9 68.4,732.9 68.5,733.9 68.6,734.9 68.7,736.0 68.8,737.0 68.9,738.1 69.0,739.2 69.0,740.3 69.1,741.4 69.2,742.6 69.3,743.7 69.4,744.9 69.4,746.1 69.5,747.3 69.6,748.5 69.6,749.7 69.7,751.0 69.8,752.2 69.8,753.5 69.9,754.7 70.0,756.0 70.0,757.3 70.1,758.6 70.2,759.9 70.2,761.3 70.3,762.6 70.4,764.0 70.4,765.3 70.5,766.7 70.6,768.0 70.7,769.4 70.7,770.8 70.8,772.2 70.9,773.6 71.0,775.0 71.1,776.0 71.1,777.1 71.2,778.1 71.3,779.2 71.3,780.2 71.4,781.3 71.4,782.4 71.5,783.5 71.6,784.6 71.6,785.7 71.7,786.8 71.8,787.9 71.8,789.0 71.9,790.2 72.0,791.3 72.0,792.5 72.1,793.6 72.2,794.8 72.2,796.0 72.3,797.1 72.4,798.3 72.4,799.5 72.5,800.7 72.6,801.9 72.6,803.1 72.7,804.3 72.8,805.5 72.8,806.7 72.9,808.0 73.0,809.2 73.0,810.4 73.1,811.7 73.2,812.9 73.2,814.1 73.3,815.4 73.4,816.6 73.4,817.9 73.5,819.2 73.6,820.4 73.6,821.7 73.7,823.0 73.8,824.2 73.9,825.5 73.9,826.8 74.0,828.0 74.1,829.3 74.2,830.6 74.2,831.9 74.3,833.2 74.4,834.4 74.5,835.7 74.5,837.0 74.6,838.3 74.7,839.6 74.8,840.8 74.8,842.1 74.9,843.4 75.0,844.7 75.1,846.0 75.2,847.3 75.2,848.5 75.3,849.8 75.4,851.1 75.5,852.4 75.6,853.7 75.7,854.9 75.7,856.2 75.8,857.5 75.9,858.7 76.0,860.0 76.1,861.2 76.2,862.3 76.2,863.5 76.3,864.7 76.4,865.9 76.5,867.0 76.6,868.2 76.7,869.4 76.7,870.6 76.8,871.8 76.9,873.0 77.0,874.3 77.1,875.5 77.2,876.7 77.2,877.9 77.3,879.2 77.4,880.4 77.5,881.6 77.6,882.9 77.7,884.1 77.8,885.3 77.9,886.6 78.0,887.8 78.0,889.1 78.1,890.3 78.2,891.6 78.3,892.8 78.4,894.1 78.5,895.4 78.6,896.6 78.7,897.9 78.8,899.1 78.9,900.4 79.0,901.7 79.1,902.9 79.1,904.2 79.2,905.4 79.3,906.7 79.4,908.0 79.5,909.2 79.6,910.5 79.7,911.7 79.8,913.0 79.9,914.2 80.0,915.5 80.1,916.7 80.2,918.0 80.3,919.2 80.4,920.5 80.5,921.7 80.6,922.9 80.7,924.2 80.8,925.4 80.9,926.6 81.0,927.9 81.1,929.1 81.2,930.3 81.3,931.5 81.4,932.7 81.5,933.9 81.6,935.1 81.7,936.3 81.8,937.5 81.9,938.7 82.0,939.9 82.1,941.0 82.3,942.2 82.4,943.4 82.5,944.5 82.6,945.7 82.7,946.8 82.8,948.0 82.9,949.1 83.0,950.2 83.1,951.3 83.2,952.4 83.3,953.5 83.4,954.6 83.6,955.7 83.7,956.8 83.8,957.9 83.9,958.9 84.0,960.0 84.1,961.4 84.3,962.7 84.4,964.1 84.6,965.4 84.7,966.7 84.9,968.1 85.0,969.4 85.2,970.8 85.4,972.1 85.5,973.4 85.7,974.7 85.8,976.0 86.0,977.4 86.1,978.7 86.3,980.0 86.5,981.3 86.6,982.5 86.8,983.8 86.9,985.1 87.1,986.4 87.3,987.6 87.4,988.9 87.6,990.1 87.8,991.4 87.9,992.6 88.1,993.8 88.3,995.0 88.4,996.2 88.6,997.4 88.8,998.6 88.9,999.8 89.1,1001.0 89.2,1002.1 89.4,1003.3 89.6,1004.4 89.7,1005.5 89.9,1006.6 90.1,1007.7 90.2,1008.8 90.4,1009.9 90.6,1011.0 90.7,1012.0 90.9,1013.1 91.0,1014.1 91.2,1015.1 91.4,1016.1 91.5,1017.1 91.7,1018.1 91.8,1019.1 92.0,1020.0 92.2,1021.4 92.5,1022.9 92.7,1024.3 92.9,1025.7 93.2,1027.1 93.4,1028.5 93.6,1029.8 93.9,1031.1 94.1,1032.4 94.3,1033.7 94.6,1034.9 94.8,1036.1 95.0,1037.3 95.3,1038.4 95.5,1039.5 95.7,1040.5 96.0,1041.5 96.2,1042.4 96.5,1043.3 96.7,1044.2 97.0,1045.0 97.6,1046.5 98.2,1047.7 98.8,1048.8 99.4,1049.9 100.0,1051.0 101.5,1050.7 103.0,1050.1 104.4,1049.2 105.6,1048.1 106.7,1046.9 107.5,1045.7 108.3,1044.3 109.1,1042.9 109.8,1041.4 110.4,1039.9 111.0,1038.3 111.5,1036.9 112.1,1035.4 112.6,1034.0 113.1,1032.6 113.6,1031.2 114.2,1029.6 114.8,1028.0 115.5,1026.4 116.1,1024.9 116.7,1023.4 117.4,1021.8 118.0,1020.3 118.7,1018.9 119.4,1017.4 120.0,1015.9 120.7,1014.5 121.4,1013.0 122.1,1011.6 122.8,1010.2 123.4,1008.8 124.1,1007.4 124.8,1006.0 125.5,1004.6 126.2,1003.3 126.9,1001.9 127.6,1000.5 128.3,999.2 129.0,997.9 129.6,996.5 130.4,995.2 131.1,993.7 131.9,992.2 132.7,990.8 133.5,989.3 134.4,987.8 135.2,986.4 136.0,984.9 136.8,983.5 137.7,982.1 138.5,980.6 139.3,979.2 140.2,977.8 141.0,976.3 141.9,974.9 142.8,973.5 143.6,972.0 144.5,970.6 145.4,969.2 146.2,967.9 147.0,966.6 147.8,965.3 148.7,964.1 149.5,962.8 150.3,961.5 151.2,960.2 152.0,958.9 152.8,957.7 153.7,956.4 154.6,955.1 155.4,953.8 156.3,952.5 157.2,951.2 158.1,950.0 159.0,948.7 159.9,947.4 160.8,946.1 161.7,944.8 162.6,943.5 163.5,942.3 164.4,941.0 165.3,939.7 166.3,938.4 167.2,937.2 168.2,935.9 169.1,934.6 170.1,933.3 171.0,932.1 172.0,930.8 173.0,929.5 173.9,928.3 174.9,927.0 175.9,925.8 176.9,924.5 177.9,923.2 178.9,922.0 179.9,920.7 180.9,919.5 181.9,918.3 182.9,917.0 183.9,915.8 185.0,914.6 186.0,913.3 187.0,912.1 188.1,910.9 189.1,909.7 190.1,908.5 191.2,907.2 192.3,906.0 193.3,904.8 194.4,903.7 195.4,902.5 196.5,901.3 197.6,900.1 198.7,898.9 199.7,897.8 200.8,896.6 201.9,895.4 203.0,894.3 204.1,893.1 205.2,892.0 206.3,890.9 207.4,889.7 208.5,888.6 209.6,887.5 210.7,886.4 211.8,885.2 213.0,884.1 214.1,883.0 215.2,881.9 216.4,880.9 217.5,879.8 218.6,878.7 219.8,877.6 220.9,876.6 222.1,875.5 223.2,874.4 224.4,873.4 225.5,872.3 226.7,871.3 227.9,870.3 229.0,869.2 230.2,868.2 231.4,867.2 232.6,866.2 233.7,865.1 234.9,864.1 236.1,863.1 237.3,862.1 238.5,861.1 239.7,860.2 240.9,859.2 242.1,858.2 243.3,857.2 244.5,856.3 245.7,855.3 246.9,854.3 248.2,853.4 249.4,852.4 250.6,851.5 251.8,850.6 253.1,849.6 254.3,848.7 255.5,847.8 256.8,846.9 258.0,845.9 259.2,845.0 260.5,844.1 261.7,843.2 263.0,842.3 264.3,841.4 265.5,840.6 266.8,839.7 268.0,838.8 269.3,837.9 270.6,837.1 271.9,836.2 273.1,835.3 274.4,834.5 275.7,833.6 277.0,832.8 278.3,832.0 279.6,831.1 280.8,830.3 282.1,829.5 283.4,828.6 284.7,827.8 286.0,827.0 287.3,826.2 288.7,825.4 290.0,824.6 291.3,823.8 292.6,823.0 293.9,822.2 295.2,821.5 296.6,820.7 297.9,819.9 299.2,819.1 300.5,818.4 301.9,817.6 303.2,816.9 304.5,816.1 305.9,815.4 307.2,814.6 308.6,813.9 309.9,813.2 311.3,812.4 312.6,811.7 314.0,811.0 315.3,810.3 316.7,809.6 318.1,808.8 319.4,808.1 320.8,807.4 322.2,806.7 323.5,806.1 324.9,805.4 326.3,804.7 327.7,804.0 329.0,803.3 330.4,802.7 331.8,802.0 333.2,801.3 334.6,800.7 336.0,800.0 337.4,799.4 338.8,798.7 340.2,798.1 341.6,797.4 343.0,796.8 344.4,796.2 345.8,795.5 347.2,794.9 348.6,794.3 350.0,793.7 351.4,793.1 352.8,792.5 354.3,791.9 355.7,791.3 357.1,790.7 358.5,790.1 360.0,789.5 361.4,788.9 362.8,788.3 364.2,787.7 365.7,787.2 367.1,786.6 368.5,786.0 370.0,785.5 371.4,784.9 372.9,784.3 374.3,783.8 375.8,783.2 377.2,782.7 378.7,782.2 380.1,781.6 381.6,781.1 383.0,780.5 384.5,780.0 385.9,779.5 387.4,779.0 388.9,778.5 390.3,777.9 391.8,777.4 393.3,776.9 394.7,776.4 396.2,775.9 397.7,775.4 399.1,774.9 400.6,774.5 402.1,774.0 403.6,773.5 405.1,773.0 406.5,772.5 408.0,772.1 409.5,771.6 411.0,771.1 412.5,770.7 414.0,770.2 415.5,769.7 416.9,769.3 418.4,768.8 419.9,768.4 421.4,768.0 422.9,767.5 424.4,767.1 425.9,766.6 427.4,766.2 428.9,765.8 430.4,765.4 431.9,764.9 433.4,764.5 435.0,764.1 436.5,763.7 438.0,763.3 439.5,762.9 441.0,762.5 442.5,762.1 444.0,761.7 445.5,761.3 447.1,760.9 448.6,760.5 450.1,760.1 451.6,759.8 453.1,759.4 454.7,759.0 456.2,758.6 457.7,758.3 459.2,757.9 460.8,757.5 462.3,757.2 463.8,756.8 465.4,756.5 466.9,756.1 468.4,755.8 470.0,755.4 471.5,755.1 473.0,754.7 474.6,754.4 476.1,754.0 477.6,753.7 479.2,753.4 480.7,753.1 482.3,752.7 483.8,752.4 485.3,752.1 486.9,751.8 488.4,751.5 490.0,751.1 491.5,750.8 493.1,750.5 494.6,750.2 496.2,749.9 497.7,749.6 499.3,749.3 500.8,749.0 502.4,748.7 503.9,748.5 505.5,748.2 507.0,747.9 508.6,747.6 510.1,747.3 511.7,747.0 513.3,746.8 514.8,746.5 516.4,746.2 517.9,746.0 519.5,745.7 521.0,745.4 522.6,745.2 524.2,744.9 525.7,744.7 527.3,744.4 528.8,744.2 530.4,743.9 532.0,743.7 533.5,743.4 535.1,743.2 536.7,742.9 538.2,742.7 539.8,742.5 541.4,742.2 542.9,742.0 544.5,741.8 546.1,741.5 547.6,741.3 549.2,741.1 550.8,740.9 552.3,740.7 553.9,740.4 555.5,740.2 557.0,740.0 558.6,739.8 560.2,739.6 561.7,739.4 563.3,739.2 564.9,739.0 566.4,738.8 568.0,738.6 569.6,738.4 571.2,738.2 572.7,738.0 574.3,737.8 575.9,737.6 577.4,737.4 579.0,737.3 580.6,737.1 582.2,736.9 583.7,736.7 585.3,736.5 586.9,736.4 588.4,736.2 590.0,736.0 591.6,735.8 593.1,735.7 594.7,735.5 596.3,735.3 597.9,735.2 599.4,735.0 601.0,734.9 602.6,734.7 604.1,734.5 605.7,734.4 607.3,734.2 608.9,734.1 610.4,733.9 612.0,733.8 613.6,733.6 615.1,733.5 616.7,733.3 618.3,733.2 619.8,733.1 621.4,732.9 623.0,732.8 624.5,732.6 626.1,732.5 627.7,732.4 629.2,732.2 630.8,732.1 632.4,732.0 633.9,731.9 635.5,731.7 637.1,731.6 638.6,731.5 640.2,731.4 641.8,731.2 643.3,731.1 644.9,731.0 646.4,730.9 648.0,730.8 649.6,730.6 651.1,730.5 652.7,730.4 654.3,730.3 655.8,730.2 657.4,730.1 658.9,730.0 660.5,729.9 662.0,729.8 663.6,729.7 665.2,729.6 666.7,729.5 668.3,729.4 669.8,729.3 671.4,729.2 672.9,729.1 674.5,729.0 676.0,728.9 677.6,728.8 679.1,728.7 680.7,728.6 682.2,728.5 683.8,728.4 685.3,728.3 686.9,728.2 688.4,728.1 689.9,728.0 691.5,728.0 693.0,727.9 694.6,727.8 696.1,727.7 697.7,727.6 699.2,727.5 700.7,727.5 702.3,727.4 703.8,727.3 705.3,727.2 706.9,727.1 708.4,727.1 709.9,727.0 711.5,726.9 713.0,726.8 714.5,726.8 716.0,726.7 717.6,726.6 719.1,726.5 720.6,726.5 722.1,726.4 723.7,726.3 725.2,726.3 726.7,726.2 728.2,726.1 729.7,726.1 731.3,726.0 732.8,725.9 734.3,725.9 735.8,725.8 737.3,725.7 738.8,725.7 740.3,725.6 741.8,725.5 743.4,725.5 744.9,725.4 746.4,725.3 747.9,725.3 749.4,725.2 750.9,725.2 752.0,725.1" fill="none" stroke="#8B5E3C" stroke-width="2.0" stroke-linejoin="round" stroke-linecap="round" />
<polyline points="54.0,710.7 55.1,711.6 56.2,712.5 56.8,712.8 57.4,713.8 57.9,715.7 58.4,717.7 58.7,718.1 59.0,719.0 59.3,720.4 59.7,721.1 60.0,722.4 60.3,724.1 60.6,724.9 60.9,726.6 61.2,727.9 61.5,728.9 61.8,730.8 62.1,732.5 62.3,733.2 62.6,734.0 62.8,735.3 63.0,736.8 63.2,737.7 63.4,738.9 63.6,740.0 63.8,741.5 64.0,742.8 64.2,743.9 64.4,745.4 64.6,746.7 64.8,748.2 64.9,749.2 65.1,750.5 65.2,751.7 65.4,752.6 65.5,754.1 65.6,754.4 65.7,756.2 65.8,757.0 65.9,758.4 66.1,759.8 66.2,760.9 66.3,762.3 66.3,762.1 66.4,764.4 66.5,765.3 66.6,767.0 66.7,767.8 66.8,769.4 67.0,770.5 67.1,771.9 67.2,773.1 67.3,775.0 67.4,775.8 67.4,776.7 67.5,778.4 67.6,778.6 67.7,780.1 67.8,780.7 67.8,781.8 67.9,782.9 68.0,783.8 68.1,785.8 68.2,785.8 68.2,787.1 68.3,788.3 68.4,789.7 68.5,790.7 68.6,791.8 68.7,792.7 68.7,794.0 68.8,795.5 68.9,796.8 69.0,797.3 69.1,798.1 69.2,800.3 69.3,801.3 69.4,802.6 69.5,803.4 69.5,805.0 69.6,806.3 69.7,807.9 69.8,809.4 69.9,810.1 70.0,811.3 70.1,812.6 70.2,813.9 70.3,814.4 70.4,816.3 70.4,817.6 70.5,819.6 70.6,820.6 70.7,821.4 70.8,822.8 70.9,824.1 71.0,825.2 71.1,827.1 71.2,828.5 71.3,829.4 71.4,830.2 71.5,832.2 71.5,833.7 71.6,834.7 71.7,835.7 71.8,837.3 71.9,839.4 72.0,840.1 72.1,841.3 72.2,842.0 72.2,843.4 72.3,844.2 72.4,845.8 72.5,846.3 72.5,847.5 72.6,849.7 72.7,850.2 72.8,851.8 72.8,852.6 72.9,854.2 73.0,854.8 73.1,856.0 73.1,857.9 73.2,859.0 73.3,859.4 73.4,861.0 73.4,862.5 73.5,864.3 73.6,865.1 73.7,866.3 73.7,867.1 73.8,869.2 73.9,870.4 74.0,870.8 74.0,872.7 74.1,873.0 74.2,875.1 74.3,876.2 74.3,877.8 74.4,878.5 74.5,880.4 74.6,881.2 74.7,882.7 74.7,883.8 74.8,885.1 74.9,887.0 75.0,888.0 75.0,889.6 75.1,890.4 75.2,891.9 75.3,893.4 75.4,894.2 75.4,895.4 75.5,896.5 75.6,897.9 75.7,899.5 75.8,900.6 75.8,901.7 75.9,903.1 76.0,904.4 76.1,905.7 76.2,906.3 76.3,907.6 76.3,909.6 76.4,910.2 76.5,911.6 76.6,912.4 76.7,913.4 76.8,914.7 76.8,916.4 76.9,917.1 77.0,918.6 77.1,919.6 77.2,920.2 77.3,921.4 77.4,922.8 77.5,924.3 77.5,925.1 77.6,925.2 77.7,927.1 77.8,927.9 77.9,929.1 78.0,930.3 78.1,931.1 78.3,933.1 78.4,934.1 78.5,935.2 78.7,937.0 78.8,937.8 78.9,939.1 79.1,940.4 79.2,942.1 79.4,943.5 79.5,944.2 79.6,946.2 79.8,946.7 79.9,948.1 80.1,949.2 80.2,950.3 80.4,951.1 80.5,952.6 80.7,953.5 80.8,954.6 81.0,955.7 81.1,957.2 81.2,958.2 81.4,959.5 81.5,960.4 81.7,961.3 81.9,962.6 82.0,964.4 82.2,965.4 82.3,966.5 82.5,967.8 82.6,968.4 82.8,970.2 82.9,970.7 83.1,972.3 83.2,973.5 83.4,974.8 83.5,975.6 83.7,977.6 83.8,977.9 84.0,979.9 84.1,981.0 84.2,982.2 84.4,983.2 84.5,984.4 84.6,985.6 84.8,987.5 84.9,988.2 85.1,989.4 85.2,991.2 85.3,992.9 85.5,993.2 85.6,994.8 85.8,996.1 85.9,997.2 86.0,998.4 86.2,1000.3 86.3,1001.4 86.5,1002.9 86.6,1003.6 86.8,1005.0 86.9,1006.4 87.0,1007.9 87.2,1009.2 87.3,1010.3 87.5,1011.1 87.7,1012.7 87.8,1014.6 88.0,1015.2 88.1,1016.7 88.3,1017.6 88.4,1019.0 88.6,1020.3 88.8,1020.7 88.9,1022.2 89.1,1023.8 89.3,1024.2 89.4,1025.3 89.6,1026.6 89.8,1027.7 90.0,1028.0 90.1,1029.7 90.3,1030.3 90.5,1031.2 90.8,1032.8 91.2,1034.2 91.5,1036.0 91.9,1037.1 92.3,1038.7 92.7,1039.9 93.0,1041.3 93.4,1042.5 93.8,1043.3 94.2,1045.0 94.5,1045.5 94.9,1046.9 95.3,1047.7 95.6,1048.0 96.0,1049.0 97.0,1050.1 98.0,1051.0 99.3,1050.7 100.6,1050.8 101.0,1050.1 101.4,1049.8 101.8,1048.7 102.2,1047.8 102.6,1047.2 103.0,1045.7 103.4,1044.8 103.8,1044.2 104.2,1042.3 104.6,1041.2 105.0,1039.4 105.4,1038.7 105.8,1036.6 106.2,1035.2 106.5,1034.2 106.9,1032.4 107.3,1030.7 107.6,1029.6 108.0,1028.7 108.4,1027.2 108.7,1026.2 109.0,1025.1 109.4,1023.9 109.7,1022.9 110.0,1021.3 110.3,1020.5 110.6,1018.8 110.9,1018.1 111.2,1016.8 111.5,1015.6 111.7,1015.0 112.0,1013.0 112.3,1011.9 112.6,1010.8 112.8,1009.6 113.1,1008.3 113.4,1007.1 113.7,1005.6 113.9,1004.2 114.2,1002.8 114.5,1002.0 114.8,1000.6 115.1,999.1 115.4,998.8 115.7,997.4 116.0,995.9 116.3,994.2 116.6,993.3 116.9,992.0 117.2,990.6 117.5,989.9 117.8,988.5 118.1,986.6 118.4,985.8 118.7,983.9 119.0,983.3 119.3,982.2 119.6,981.2 119.9,978.9 120.1,979.0 120.4,977.2 120.7,976.6 120.9,975.1 121.2,974.0 121.6,972.7 121.9,971.1 122.2,970.0 122.5,968.4 122.8,967.1 123.1,965.9 123.4,964.6 123.7,964.1 124.0,963.0 124.6,962.5 125.2,961.0 125.9,960.4 126.3,958.4 126.8,958.5 127.3,957.5 127.9,956.7 128.5,955.8 129.1,954.2 129.7,953.4 130.3,951.5 130.9,950.2 131.4,949.5 131.9,948.0 132.4,947.0 132.8,945.3 133.1,944.3 133.4,943.3 133.7,942.0 133.9,941.0 134.1,940.4 134.3,938.2 134.6,937.5 134.8,935.7 135.0,934.1 135.3,932.9 135.6,931.9 135.9,930.4 136.3,929.8 136.7,928.9 137.2,927.0 137.7,926.4 138.2,925.1 138.7,924.8 139.3,923.7 139.8,922.4 140.4,921.3 141.0,920.1 141.5,919.1 142.1,918.6 142.7,917.2 143.3,916.0 143.9,915.4 144.5,913.8 145.1,912.8 145.8,911.4 146.4,910.0 147.1,909.4 147.7,908.2 148.3,907.4 148.9,905.6 149.5,904.5 150.0,903.8 150.5,902.5 150.9,901.3 151.3,900.3 151.6,898.7 151.8,897.7 152.1,897.0 152.3,895.2 152.5,893.8 152.8,892.8 153.1,891.3 153.4,890.6 153.9,889.7 154.4,888.3 155.2,887.3 156.1,886.7 157.2,885.3 158.2,885.5 159.3,884.2 160.4,883.2 161.3,882.9 162.1,881.7 162.7,880.6 163.2,879.6 163.6,878.8 163.9,877.8 164.2,875.9 164.6,875.2 164.9,873.8 165.4,872.8 166.0,871.9 166.6,870.8 167.2,870.1 167.9,868.4 168.7,867.8 169.4,866.9 170.3,865.6 171.1,864.5 171.9,863.3 172.8,862.3 173.7,862.3 174.6,860.6 175.4,859.8 176.3,858.8 177.1,857.8 177.8,857.1 178.6,856.3 179.5,855.0 180.3,854.8 181.1,853.6 182.0,852.5 182.8,851.7 183.6,851.2 184.5,850.4 185.3,848.9 186.1,848.3 187.0,847.1 187.8,846.1 188.5,845.5 189.3,844.7 190.1,844.2 190.9,842.3 191.7,841.1 192.5,839.8 193.2,838.9 194.0,838.4 194.7,837.3 195.4,836.6 196.2,835.3 196.9,834.0 197.7,833.2 198.4,832.5 199.2,830.7 200.0,829.7 200.9,829.4 201.8,828.6 202.7,827.1 203.6,826.8 204.5,825.8 205.4,825.5 206.4,825.1 207.5,824.1 208.7,823.3 210.0,821.9 210.7,821.3 211.4,821.3 212.1,820.2 212.8,819.8 213.6,819.4 214.4,818.3 215.2,817.3 216.1,817.7 216.9,816.6 217.8,816.2 218.7,815.4 219.6,814.1 220.6,813.9 221.5,812.9 222.5,812.3 223.5,811.5 224.5,810.9 225.5,810.2 226.6,809.1 227.6,808.8 228.7,808.4 229.7,807.0 230.8,806.7 231.9,805.5 233.0,804.6 234.1,803.7 235.2,803.6 236.3,802.4 237.4,801.5 238.6,801.3 239.7,800.1 240.8,799.6 242.0,798.3 243.1,797.8 244.3,797.3 245.4,796.9 246.6,796.2 247.7,795.4 248.9,794.6 250.0,794.5 251.0,793.5 252.0,793.0 253.0,792.1 254.0,792.2 255.1,791.7 256.1,791.3 257.2,790.2 258.2,790.3 259.3,789.5 260.4,788.3 261.5,788.5 262.5,787.8 263.6,787.6 264.7,786.6 265.9,786.1 267.0,785.9 268.1,786.2 269.2,784.9 270.4,784.3 271.5,783.8 272.6,783.1 273.8,782.9 274.9,782.9 276.1,781.8 277.2,781.5 278.4,781.1 279.6,781.0 280.7,780.4 281.9,779.8 283.1,780.1 284.3,779.5 285.4,778.8 286.6,777.9 287.8,777.8 289.0,776.7 290.1,776.4 291.3,776.2 292.5,776.0 293.7,775.8 294.9,775.1 296.0,774.4 297.2,774.4 298.4,774.0 299.6,773.8 300.7,773.5 301.9,773.0 303.1,772.8 304.2,772.2 305.4,771.6 306.6,771.5 307.7,771.0 308.9,770.0 310.0,770.3 311.2,769.9 312.3,769.0 313.5,769.2 314.7,768.2 315.8,768.8 317.0,767.2 318.2,767.6 319.3,766.9 320.5,766.7 321.7,766.6 322.9,766.3 324.0,766.0 325.2,765.7 326.4,764.7 327.5,764.6 328.7,764.3 329.9,764.0 331.1,763.1 332.2,763.7 333.4,763.2 334.6,763.0 335.8,762.6 336.9,761.9 338.1,761.5 339.3,761.3 340.5,760.7 341.7,760.6 342.8,760.5 344.0,760.3 345.2,759.8 346.4,760.2 347.6,759.2 348.7,759.1 349.9,758.8 351.1,758.0 352.3,758.3 353.5,757.4 354.6,757.5 355.8,757.1 357.0,756.9 358.2,756.9 359.4,756.9 360.5,756.3 361.7,756.2 362.9,755.5 364.1,755.2 365.3,755.2 366.5,754.6 367.6,754.7 368.8,754.7 370.0,754.5 371.2,754.3 372.4,753.2 373.6,753.5 374.8,753.1 376.0,752.7 377.3,752.2 378.5,752.3 379.7,752.4 380.9,751.8 382.2,751.5 383.4,751.8 384.6,751.0 385.9,750.9 387.1,751.1 388.3,751.0 389.6,750.2 390.8,749.9 392.1,749.5 393.3,749.2 394.5,749.1 395.8,749.3 397.0,749.3 398.3,748.3 399.5,748.3 400.7,748.3 402.0,748.0 403.2,747.5 404.4,747.1 405.6,746.8 406.8,747.1 408.1,747.0 409.3,746.7 410.5,746.7 411.7,746.2 412.9,746.0 414.1,745.2 415.2,746.1 416.4,745.1 417.6,745.5 418.8,745.5 419.9,744.9 421.1,744.8 422.2,744.5 423.4,744.4 424.5,744.0 425.6,743.5 426.7,743.6 427.8,743.0 428.9,743.4 430.0,743.2 431.3,743.2 432.6,742.4 433.9,742.0 435.2,742.2 436.4,741.8 437.6,741.6 438.9,741.2 440.1,741.0 441.3,741.2 442.4,740.7 443.6,740.6 444.8,740.9 445.9,740.4 447.1,739.9 448.3,740.0 449.4,739.2 450.6,739.0 451.7,739.1 452.9,738.9 454.0,738.6 455.2,738.9 456.3,737.8 457.5,738.2 458.7,737.9 459.9,737.8 461.1,737.2 462.3,736.9 463.6,736.9 464.8,736.8 466.1,736.2 467.4,736.6 468.7,736.0 470.0,735.6 471.1,736.1 472.2,735.8 473.3,735.3 474.4,735.4 475.5,735.2 476.6,735.0 477.7,734.8 478.8,735.0 480.0,735.1 481.1,734.6 482.3,734.9 483.4,734.6 484.6,734.8 485.8,734.4 486.9,734.1 488.1,734.2 489.3,734.1 490.5,733.5 491.7,733.6 492.9,733.9 494.1,733.4 495.3,733.7 496.5,733.0 497.7,733.3 498.9,733.1 500.2,732.8 501.4,732.9 502.6,732.7 503.8,733.4 505.1,733.0 506.3,732.5 507.5,733.0 508.8,732.5 510.0,732.3 511.3,732.5 512.5,732.3 513.8,732.1 515.0,731.8 516.3,731.8 517.5,731.7 518.8,731.5 520.0,731.5 521.3,731.4 522.5,731.2 523.8,731.2 525.0,731.6 526.3,731.5 527.5,731.2 528.8,730.8 530.0,730.8 531.2,730.9 532.3,731.1 533.5,730.6 534.6,730.3 535.7,730.3 536.9,730.5 538.0,730.5 539.2,730.7 540.3,729.7 541.4,730.0 542.5,730.2 543.7,729.7 544.8,729.8 545.9,729.4 547.0,729.7 548.2,730.0 549.3,730.2 550.4,729.5 551.6,729.6 552.7,729.9 553.8,729.7 555.0,729.6 556.1,729.5 557.2,729.2 558.4,728.9 559.5,729.0 560.7,729.3 561.8,729.0 563.0,729.2 564.1,729.1 565.3,728.9 566.5,728.9 567.7,728.3 568.9,728.5 570.0,728.7 571.2,728.4 572.4,728.1 573.7,728.4 574.9,728.0 576.1,728.6 577.4,728.3 578.6,728.1 579.9,728.2 581.1,727.9 582.4,728.3 583.7,727.7 585.0,728.2 586.3,727.8 587.6,727.7 588.9,727.4 590.3,727.5 591.6,727.7 593.0,727.4 594.4,727.3 595.7,727.9 597.2,727.0 598.6,727.0 600.0,726.7 601.0,726.5 602.0,727.1 603.0,727.0 604.0,726.7 605.0,726.5 606.0,727.0 607.0,726.5 608.0,727.2 609.1,727.1 610.1,726.7 611.2,726.5 612.2,726.7 613.3,726.0 614.3,726.7 615.4,726.8 616.5,725.9 617.6,726.2 618.7,726.5 619.8,726.2 620.9,726.0 622.0,726.5 623.1,726.1 624.2,726.3 625.3,725.8 626.4,725.9 627.6,725.5 628.7,725.3 629.9,725.5 631.0,725.8 632.2,726.0 633.3,725.3 634.5,725.9 635.7,725.3 636.8,725.1 638.0,725.5 639.2,725.5 640.4,725.2 641.6,725.3 642.8,725.4 643.9,725.3 645.1,725.0 646.4,724.9 647.6,725.9 648.8,725.2 650.0,724.7 651.2,725.0 652.4,725.0 653.7,725.0 654.9,724.3 656.1,724.6 657.3,724.8 658.6,724.9 659.8,724.9 661.1,724.6 662.3,724.2 663.6,725.0 664.8,724.1 666.1,724.3 667.3,724.6 668.6,724.2 669.8,724.6 671.1,724.3 672.4,724.3 673.6,724.4 674.9,724.1 676.2,723.5 677.4,724.2 678.7,724.0 680.0,723.9 681.2,723.8 682.5,723.5 683.8,723.4 685.1,723.8 686.4,723.3 687.6,723.7 688.9,723.3 690.2,723.3 691.5,723.1 692.8,723.2 694.0,723.3 695.3,723.2 696.6,723.2 697.9,723.3 699.2,722.9 700.5,723.0 701.7,722.8 703.0,723.2 704.3,723.2 705.6,723.0 706.9,723.3 708.2,722.6 709.4,722.5 710.7,722.6 712.0,723.3 713.3,722.7 714.6,722.6 715.8,722.5 717.1,722.7 718.4,722.5 719.7,722.7 720.9,722.5 722.2,722.7 723.5,721.7 724.7,722.0 726.0,722.1 727.3,721.6 728.5,721.8 729.8,722.2 731.0,722.0 732.3,722.2 733.5,721.5 734.8,722.1 736.0,721.5 737.3,721.9 738.5,721.5 739.8,721.8 741.0,721.6 742.2,721.3 743.5,721.3 744.7,721.4 745.9,721.8 747.1,721.0 748.4,721.5 749.6,721.2 750.8,721.2 752.0,721.3" fill="none" stroke="#2E3192" stroke-width="2.0" stroke-linejoin="round" stroke-linecap="round" />
<polyline points="54.0,710.5 55.3,710.4 56.6,710.3 57.9,710.2 59.3,710.1 60.7,710.0 62.0,709.9 63.3,709.8 64.6,709.7 65.8,709.7 66.9,709.7 67.8,709.7 68.7,709.8 70.6,710.3 72.0,711.0 72.7,711.7 73.2,712.7 73.4,713.3 73.5,714.1 73.7,715.0 73.8,716.1 73.9,717.2 73.9,718.4 74.0,719.7 74.0,721.1 74.1,722.5 74.1,723.9 74.1,725.4 74.2,726.9 74.2,728.5 74.3,730.0 74.3,730.9 74.4,731.9 74.4,732.9 74.5,733.9 74.5,734.9 74.5,736.0 74.6,737.0 74.6,738.1 74.6,739.2 74.7,740.3 74.7,741.5 74.7,742.6 74.8,743.8 74.8,745.0 74.8,746.2 74.9,747.4 74.9,748.6 74.9,749.8 74.9,751.1 75.0,752.4 75.0,753.6 75.0,754.9 75.1,756.2 75.1,757.5 75.1,758.8 75.1,760.1 75.2,761.5 75.2,762.8 75.2,764.1 75.2,765.5 75.3,766.8 75.3,768.2 75.3,769.5 75.3,770.9 75.4,772.3 75.4,773.6 75.4,775.0 75.4,776.1 75.4,777.1 75.5,778.2 75.5,779.3 75.5,780.4 75.5,781.5 75.5,782.6 75.5,783.7 75.5,784.8 75.6,785.9 75.6,787.0 75.6,788.2 75.6,789.3 75.6,790.4 75.6,791.6 75.6,792.7 75.7,793.9 75.7,795.1 75.7,796.2 75.7,797.4 75.7,798.6 75.7,799.8 75.7,801.0 75.7,802.2 75.7,803.4 75.8,804.6 75.8,805.8 75.8,807.0 75.8,808.2 75.8,809.4 75.8,810.6 75.8,811.9 75.8,813.1 75.8,814.3 75.8,815.6 75.9,816.8 75.9,818.1 75.9,819.3 75.9,820.6 75.9,821.8 75.9,823.1 75.9,824.3 75.9,825.6 75.9,826.9 75.9,828.1 75.9,829.4 76.0,830.7 76.0,832.0 76.0,833.2 76.0,834.5 76.0,835.8 76.0,837.1 76.0,838.4 76.0,839.7 76.0,840.9 76.0,842.2 76.0,843.5 76.1,844.8 76.1,846.1 76.1,847.4 76.1,848.7 76.1,850.0 76.1,851.1 76.1,852.3 76.1,853.4 76.1,854.5 76.1,855.7 76.2,856.9 76.2,858.0 76.2,859.2 76.2,860.4 76.2,861.6 76.2,862.8 76.2,864.0 76.2,865.2 76.2,866.4 76.2,867.7 76.2,868.9 76.2,870.1 76.2,871.3 76.2,872.6 76.2,873.8 76.2,875.1 76.3,876.3 76.3,877.6 76.3,878.9 76.3,880.1 76.3,881.4 76.3,882.7 76.3,883.9 76.3,885.2 76.3,886.5 76.3,887.8 76.3,889.0 76.3,890.3 76.3,891.6 76.3,892.9 76.3,894.2 76.3,895.4 76.3,896.7 76.3,898.0 76.3,899.3 76.4,900.6 76.4,901.8 76.4,903.1 76.4,904.4 76.4,905.7 76.4,906.9 76.4,908.2 76.4,909.5 76.4,910.7 76.4,912.0 76.4,913.2 76.4,914.5 76.4,915.7 76.4,917.0 76.4,918.2 76.5,919.4 76.5,920.7 76.5,921.9 76.5,923.1 76.5,924.3 76.5,925.5 76.5,926.7 76.5,927.9 76.5,929.1 76.5,930.3 76.6,931.5 76.6,932.6 76.6,933.8 76.6,934.9 76.6,936.1 76.6,937.2 76.6,938.3 76.6,939.4 76.7,940.5 76.7,941.6 76.7,942.7 76.7,943.8 76.7,944.8 76.7,945.9 76.7,946.9 76.8,948.0 76.8,949.0 76.8,950.0 76.8,951.4 76.8,952.8 76.9,954.2 76.9,955.5 76.9,956.9 76.9,958.2 77.0,959.5 77.0,960.8 77.0,962.1 77.0,963.4 77.0,964.7 77.0,965.9 77.1,967.2 77.1,968.4 77.1,969.6 77.1,970.9 77.1,972.1 77.2,973.3 77.2,974.5 77.2,975.7 77.2,976.8 77.2,978.0 77.3,979.2 77.3,980.3 77.3,981.5 77.4,982.6 77.4,983.8 77.4,984.9 77.5,986.1 77.5,987.2 77.6,988.3 77.6,989.5 77.7,990.6 77.7,991.7 77.8,992.9 77.8,994.0 77.9,995.1 78.0,996.3 78.1,997.4 78.1,998.5 78.2,999.7 78.3,1000.8 78.4,1002.1 78.5,1003.4 78.6,1004.7 78.7,1006.0 78.8,1007.3 78.9,1008.6 79.1,1009.9 79.2,1011.2 79.3,1012.6 79.4,1013.9 79.6,1015.2 79.7,1016.6 79.8,1017.9 80.0,1019.2 80.1,1020.5 80.3,1021.8 80.4,1023.1 80.6,1024.3 80.7,1025.6 80.9,1026.8 81.0,1028.0 81.2,1029.2 81.4,1030.4 81.5,1031.6 81.7,1032.7 81.9,1033.8 82.1,1034.9 82.2,1035.9 82.4,1036.9 82.6,1037.9 82.8,1038.8 83.0,1039.7 83.2,1040.6 83.4,1041.4 83.8,1042.9 84.2,1044.3 84.7,1045.5 85.2,1046.6 85.6,1047.7 86.1,1048.7 86.6,1049.8 87.0,1050.9 87.5,1052.0 88.8,1052.5 90.5,1052.8 92.0,1052.9 93.6,1052.8 95.2,1052.4 96.8,1051.9 98.3,1051.1 99.6,1050.2 100.9,1049.2 102.1,1048.0 103.1,1046.8 104.0,1045.6 104.8,1044.2 105.6,1042.9 106.3,1041.4 107.0,1039.9 107.6,1038.4 108.1,1036.8 108.6,1035.1 109.1,1033.5 109.6,1031.8 110.0,1030.2 110.3,1028.5 110.7,1026.9 111.0,1025.2 111.3,1023.6 111.6,1022.0 111.9,1020.4 112.1,1018.8 112.3,1017.3 112.6,1015.7 112.8,1014.2 113.0,1012.7 113.2,1011.2 113.4,1009.7 113.5,1008.2 113.7,1006.5 113.9,1004.8 114.1,1003.1 114.3,1001.4 114.5,999.7 114.8,998.0 115.0,996.3 115.2,994.7 115.4,993.0 115.7,991.3 115.9,989.6 116.2,987.9 116.4,986.2 116.7,984.5 117.0,982.8 117.2,981.2 117.5,979.5 117.8,978.0 118.0,976.5 118.3,975.0 118.6,973.5 118.8,972.1 119.1,970.6 119.4,969.1 119.7,967.6 119.9,966.1 120.2,964.7 120.5,963.2 120.8,961.7 121.1,960.2 121.4,958.7 121.7,957.2 122.0,955.8 122.4,954.3 122.7,952.8 123.0,951.3 123.3,949.8 123.6,948.3 124.0,946.8 124.3,945.3 124.6,943.9 125.0,942.4 125.3,940.9 125.7,939.4 126.0,937.9 126.4,936.4 126.7,934.9 127.1,933.4 127.4,931.9 127.8,930.4 128.2,928.9 128.5,927.4 128.9,926.0 129.3,924.5 129.6,923.0 130.0,921.5 130.4,920.0 130.8,918.5 131.2,917.0 131.6,915.5 132.0,914.0 132.3,912.5 132.7,911.0 133.2,909.5 133.6,908.0 134.0,906.5 134.4,905.0 134.8,903.6 135.2,902.1 135.6,900.6 136.1,899.1 136.5,897.6 136.9,896.1 137.4,894.7 137.8,893.2 138.3,891.7 138.7,890.3 139.2,888.8 139.7,887.3 140.1,885.8 140.6,884.4 141.1,882.9 141.6,881.5 142.0,880.0 142.5,878.6 143.0,877.1 143.5,875.7 144.0,874.2 144.5,872.8 145.1,871.4 145.6,869.9 146.1,868.5 146.6,867.1 147.2,865.6 147.7,864.2 148.3,862.8 148.8,861.4 149.4,860.0 150.0,858.6 150.5,857.2 151.1,855.8 151.7,854.4 152.3,853.0 152.9,851.7 153.5,850.3 154.1,848.9 154.7,847.5 155.3,846.2 155.9,844.8 156.6,843.4 157.2,842.1 157.8,840.7 158.5,839.4 159.1,838.0 159.8,836.7 160.5,835.3 161.1,834.0 161.8,832.6 162.5,831.3 163.2,829.9 163.9,828.6 164.6,827.2 165.3,825.9 166.0,824.5 166.7,823.2 167.4,821.8 168.2,820.5 168.9,819.1 169.6,817.8 170.4,816.4 171.1,815.0 171.9,813.7 172.7,812.3 173.4,811.0 174.2,809.6 175.0,808.3 175.8,807.0 176.6,805.6 177.4,804.3 178.2,802.9 179.0,801.6 179.9,800.3 180.7,799.0 181.6,797.7 182.4,796.3 183.3,795.0 184.2,793.8 185.0,792.5 185.9,791.2 186.8,789.9 187.7,788.7 188.7,787.4 189.6,786.2 190.5,785.0 191.5,783.7 192.5,782.5 193.4,781.3 194.4,780.2 195.4,779.0 196.4,777.8 197.4,776.7 198.5,775.6 199.5,774.5 200.5,773.4 201.6,772.3 202.7,771.2 203.8,770.2 204.9,769.1 206.0,768.1 207.1,767.1 208.3,766.2 209.6,765.1 210.9,764.0 212.3,762.9 213.6,761.9 215.0,760.9 216.4,760.0 217.8,759.0 219.3,758.1 220.7,757.2 222.2,756.3 223.7,755.5 225.1,754.6 226.6,753.8 228.2,753.0 229.5,752.3 230.8,751.7 232.2,751.0 233.6,750.4 234.9,749.7 236.3,749.1 237.7,748.5 239.1,747.9 240.5,747.4 241.9,746.8 243.3,746.3 244.8,745.7 246.2,745.2 247.6,744.7 249.1,744.2 250.5,743.7 252.0,743.2 253.4,742.7 254.9,742.3 256.4,741.8 257.9,741.4 259.3,740.9 260.8,740.5 262.3,740.1 263.8,739.7 265.3,739.2 266.8,738.8 268.3,738.4 269.8,738.1 271.3,737.7 272.8,737.3 274.3,736.9 275.8,736.6 277.3,736.2 278.8,735.8 280.3,735.5 281.8,735.1 283.3,734.8 284.8,734.4 286.3,734.1 287.9,733.8 289.4,733.4 290.9,733.1 292.4,732.8 293.9,732.5 295.4,732.1 296.9,731.8 298.4,731.5 299.9,731.2 301.4,730.9 303.0,730.6 304.5,730.3 306.0,730.0 307.5,729.7 309.0,729.4 310.5,729.2 312.0,728.9 313.5,728.6 315.1,728.3 316.6,728.1 318.1,727.8 319.6,727.5 321.1,727.3 322.6,727.0 324.1,726.7 325.7,726.5 327.2,726.3 328.7,726.0 330.2,725.8 331.7,725.5 333.2,725.3 334.7,725.1 336.3,724.8 337.8,724.6 339.3,724.4 340.8,724.2 342.3,723.9 343.8,723.7 345.4,723.5 346.9,723.3 348.4,723.1 349.9,722.9 351.4,722.7 352.9,722.5 354.5,722.3 356.0,722.1 357.5,721.9 359.0,721.7 360.5,721.6 362.0,721.4 363.6,721.2 365.1,721.0 366.6,720.9 368.1,720.7 369.6,720.5 371.2,720.4 372.7,720.2 374.2,720.0 375.7,719.9 377.2,719.7 378.8,719.6 380.3,719.4 381.8,719.3 383.3,719.1 384.8,719.0 386.4,718.9 387.9,718.7 389.4,718.6 390.9,718.5 392.5,718.3 394.0,718.2 395.5,718.1 397.0,718.0 398.5,717.8 400.1,717.7 401.6,717.6 403.1,717.5 404.6,717.4 406.2,717.3 407.7,717.2 409.2,717.1 410.7,717.0 412.2,716.9 413.8,716.8 415.3,716.7 416.8,716.6 418.3,716.5 419.9,716.4 421.4,716.3 422.9,716.2 424.4,716.1 426.0,716.0 427.5,716.0 429.0,715.9 430.5,715.8 432.1,715.7 433.6,715.7 435.1,715.6 436.6,715.5 438.2,715.5 439.7,715.4 441.2,715.3 442.7,715.3 444.3,715.2 445.8,715.1 447.3,715.1 448.8,715.0 450.4,715.0 451.9,714.9 453.4,714.9 454.9,714.8 456.5,714.8 458.0,714.7 459.5,714.7 461.1,714.7 462.6,714.6 464.1,714.6 465.6,714.5 467.2,714.5 468.7,714.5 470.2,714.4 471.7,714.4 473.3,714.4 474.8,714.3 476.3,714.3 477.9,714.3 479.4,714.3 480.9,714.2 482.4,714.2 484.0,714.2 485.5,714.2 487.0,714.2 488.6,714.1 490.1,714.1 491.6,714.1 493.1,714.1 494.7,714.1 496.2,714.1 497.7,714.1 499.3,714.0 500.8,714.0 502.3,714.0 503.8,714.0 505.4,714.0 506.9,714.0 508.4,714.0 510.0,714.0 511.5,714.0 513.0,714.0 514.6,714.0 516.1,714.0 517.6,714.0 519.1,714.0 520.7,714.0 522.2,714.0 523.7,714.0 525.3,714.0 526.8,714.0 528.3,714.0 529.9,714.0 531.4,714.0 532.9,714.0 534.4,714.1 536.0,714.1 537.5,714.1 539.0,714.1 540.6,714.1 542.1,714.1 543.6,714.1 545.2,714.1 546.7,714.2 548.2,714.2 549.7,714.2 551.3,714.2 552.8,714.2 554.3,714.2 555.9,714.2 557.4,714.3 558.9,714.3 560.5,714.3 562.0,714.3 563.5,714.3 565.1,714.3 566.6,714.4 568.1,714.4 569.7,714.4 571.2,714.4 572.7,714.4 574.2,714.5 575.8,714.5 577.3,714.5 578.8,714.5 580.4,714.5 581.9,714.6 583.4,714.6 585.0,714.6 586.5,714.6 588.0,714.6 589.6,714.7 591.1,714.7 592.6,714.7 594.2,714.7 595.7,714.7 597.2,714.7 598.8,714.8 600.3,714.8 601.8,714.8 603.3,714.8 604.9,714.8 606.4,714.9 607.9,714.9 609.5,714.9 611.0,714.9 612.5,714.9 614.1,714.9 615.6,715.0 617.1,715.0 618.7,715.0 620.2,715.0 621.7,715.0 623.3,715.0 624.8,715.0 626.3,715.1 627.9,715.1 629.4,715.1 630.9,715.1 632.5,715.1 634.0,715.1 635.5,715.1 637.0,715.1 638.6,715.1 640.1,715.2 641.6,715.2 643.2,715.2 644.7,715.2 646.2,715.2 647.8,715.2 649.3,715.2 650.8,715.2 652.4,715.2 653.9,715.2 655.4,715.2 657.0,715.2 658.5,715.2 660.0,715.2 661.5,715.2 663.1,715.2 664.6,715.2 666.1,715.2 667.7,715.2 669.2,715.2 670.7,715.1 672.3,715.1 673.8,715.1 675.3,715.1 676.9,715.1 678.4,715.1 679.9,715.1 681.4,715.1 683.0,715.0 684.5,715.0 686.0,715.0 687.6,715.0 689.1,714.9 690.6,714.9 692.2,714.9 693.7,714.9 695.2,714.8 696.7,714.8 698.3,714.8 699.8,714.8 701.3,714.7 702.9,714.7 704.4,714.6 705.9,714.6 707.5,714.6 709.0,714.5 710.5,714.5 712.0,714.4 713.6,714.4 715.1,714.4 716.6,714.3 718.2,714.3 719.7,714.2 721.2,714.1 722.7,714.1 724.3,714.0 725.8,714.0 727.3,713.9 728.9,713.9 730.4,713.8 731.9,713.7 733.4,713.7 735.0,713.6 736.5,713.5 738.0,713.4 739.6,713.4 741.1,713.3 742.6,713.2 744.1,713.1 745.7,713.1 747.2,713.0 748.7,712.9 750.3,712.8 751.8,712.7 752.0,712.7" fill="none" stroke="#ED1C24" stroke-width="2.0" stroke-linejoin="round" stroke-linecap="round" />
<polyline points="26.3,711.2 27.5,710.9 28.8,710.9 30.0,710.8 31.2,711.2 32.4,711.4 33.6,711.3 34.8,711.1 36.1,711.1 37.4,710.9 38.7,711.2 40.0,711.0 41.2,710.9 42.4,710.8 43.7,710.7 45.0,711.1 46.3,711.0 47.7,711.4 49.0,711.0 50.4,711.8 51.7,711.2 53.1,710.9 54.4,711.3 55.6,711.0 56.8,711.4 57.9,710.8 59.0,710.7 60.0,711.7 61.5,711.2 62.9,710.9 64.2,710.5 65.4,710.4 66.4,710.6 67.3,711.1 68.0,711.9 68.5,712.4 68.9,714.5 69.2,715.8 69.5,717.6 69.7,717.7 69.8,718.9 70.0,719.8 70.1,721.0 70.3,721.5 70.4,723.4 70.5,724.2 70.6,724.8 70.8,726.9 70.9,727.8 71.0,729.6 71.1,730.1 71.2,731.8 71.2,732.9 71.3,734.8 71.4,735.7 71.5,737.0 71.6,738.5 71.7,739.8 71.8,741.4 71.8,742.1 71.9,743.2 72.0,744.4 72.0,745.5 72.1,746.7 72.1,747.6 72.2,748.8 72.3,749.9 72.3,751.2 72.4,752.4 72.4,753.9 72.4,754.4 72.5,755.6 72.5,757.1 72.6,758.4 72.6,759.9 72.7,761.0 72.7,762.2 72.8,763.9 72.8,764.9 72.8,765.6 72.9,767.3 72.9,768.2 73.0,769.8 73.0,770.9 73.1,772.2 73.1,773.4 73.2,775.0 73.2,776.2 73.3,777.3 73.3,778.3 73.4,779.3 73.4,780.6 73.5,781.9 73.5,782.4 73.6,783.3 73.6,784.8 73.7,785.9 73.7,787.4 73.8,788.6 73.8,789.8 73.9,790.1 74.0,791.9 74.0,793.2 74.1,794.2 74.1,795.6 74.2,796.6 74.2,797.5 74.3,799.0 74.3,800.0 74.4,800.6 74.4,802.4 74.5,803.2 74.5,804.6 74.6,805.3 74.7,807.0 74.7,808.6 74.8,809.6 74.8,810.4 74.9,811.9 74.9,813.9 75.0,814.7 75.0,816.3 75.1,818.0 75.1,818.9 75.2,820.3 75.2,822.0 75.3,822.3 75.3,824.4 75.4,825.8 75.4,827.3 75.5,828.7 75.5,829.9 75.5,830.7 75.6,832.4 75.6,833.2 75.6,833.5 75.6,834.8 75.7,836.3 75.7,837.3 75.7,838.1 75.7,839.2 75.8,840.3 75.8,841.6 75.8,842.5 75.8,843.7 75.9,844.5 75.9,846.3 75.9,846.9 75.9,848.3 76.0,849.5 76.0,850.6 76.0,851.5 76.0,852.9 76.1,854.2 76.1,854.9 76.1,856.8 76.1,858.7 76.1,859.0 76.2,860.2 76.2,861.7 76.2,862.8 76.2,863.9 76.2,865.5 76.3,866.6 76.3,867.9 76.3,869.5 76.3,870.7 76.3,872.0 76.4,873.6 76.4,874.7 76.4,876.0 76.4,877.1 76.4,878.7 76.5,880.2 76.5,880.9 76.5,882.5 76.5,883.4 76.5,884.9 76.6,886.3 76.6,887.8 76.6,888.9 76.6,890.7 76.6,892.1 76.7,893.2 76.7,894.9 76.7,895.3 76.7,896.4 76.7,898.1 76.7,899.3 76.8,900.6 76.8,902.0 76.8,903.6 76.8,905.1 76.8,906.0 76.9,907.6 76.9,908.6 76.9,910.0 76.9,911.6 77.0,912.5 77.0,913.9 77.0,915.1 77.0,916.0 77.0,917.8 77.1,919.5 77.1,920.1 77.1,921.6 77.1,922.9 77.1,923.8 77.2,925.0 77.2,926.1 77.2,927.0 77.2,928.4 77.3,929.9 77.3,931.1 77.3,931.8 77.3,933.7 77.4,933.9 77.4,935.2 77.4,936.6 77.4,937.4 77.5,938.7 77.5,940.0 77.5,940.7 77.6,941.6 77.6,943.2 77.6,944.5 77.6,945.1 77.7,946.5 77.7,946.6 77.7,947.9 77.8,949.4 77.8,950.2 77.8,951.5 77.9,952.6 77.9,953.8 78.0,956.0 78.0,957.3 78.1,958.5 78.1,959.9 78.2,961.1 78.2,962.2 78.3,963.5 78.3,964.8 78.4,966.0 78.4,967.8 78.5,968.8 78.5,969.9 78.6,971.5 78.6,972.4 78.7,973.5 78.7,974.7 78.8,976.0 78.8,976.8 78.9,978.2 78.9,979.0 79.0,980.2 79.0,981.5 79.1,982.5 79.2,983.9 79.2,985.0 79.3,986.6 79.3,987.2 79.4,988.4 79.5,989.2 79.6,990.5 79.6,991.7 79.7,993.1 79.8,994.0 79.9,995.0 79.9,996.0 80.0,997.4 80.1,998.8 80.2,999.3 80.3,1001.2 80.4,1002.1 80.5,1003.0 80.6,1004.6 80.7,1006.2 80.9,1007.5 81.0,1008.3 81.1,1009.8 81.2,1011.7 81.4,1012.9 81.5,1014.5 81.6,1015.7 81.8,1016.7 81.9,1018.2 82.1,1019.3 82.2,1020.9 82.4,1022.5 82.5,1023.7 82.7,1024.7 82.8,1025.8 83.0,1027.5 83.1,1028.1 83.3,1030.0 83.4,1031.7 83.6,1032.6 83.7,1033.3 83.9,1034.9 84.0,1035.9 84.1,1037.5 84.3,1037.8 84.4,1039.4 84.5,1040.2 84.7,1041.7 84.8,1042.5 84.9,1043.0 85.1,1044.3 85.2,1044.9 85.3,1046.0 85.4,1046.6 85.7,1048.3 85.9,1049.4 86.2,1050.5 86.4,1051.6 86.7,1052.9 86.9,1053.4 87.6,1053.0 88.2,1051.1 88.7,1049.6 89.2,1047.6 89.6,1046.2 90.1,1044.6 90.5,1043.6 90.9,1041.7 91.2,1040.1 91.6,1039.0 91.9,1037.0 92.3,1035.1 92.6,1033.3 92.8,1032.5 93.1,1031.4 93.4,1029.5 93.6,1027.9 93.9,1025.9 94.1,1025.1 94.3,1022.8 94.5,1021.8 94.7,1020.5 94.8,1018.4 95.0,1016.2 95.2,1015.1 95.3,1013.2 95.5,1011.8 95.6,1010.5 95.7,1009.1 95.9,1007.3 96.0,1005.4 96.1,1003.9 96.2,1002.0 96.3,1000.6 96.4,998.9 96.5,997.6 96.7,996.0 96.8,994.2 96.9,992.5 97.0,990.8 97.1,989.7 97.2,987.9 97.3,986.4 97.4,984.3 97.6,983.0 97.7,981.3 97.8,979.9 98.0,978.8 98.1,976.7 98.2,975.0 98.4,972.8 98.6,971.5 98.7,969.6 98.9,968.3 99.1,967.2 99.2,965.8 99.4,963.7 99.6,961.6 99.8,961.0 100.0,959.3 100.2,957.3 100.4,955.2 100.6,954.6 100.8,952.7 101.0,951.2 101.2,948.9 101.4,947.7 101.6,946.8 101.8,944.5 102.0,943.4 102.2,941.6 102.4,940.1 102.6,938.7 102.8,936.7 103.1,935.4 103.3,933.8 103.5,932.0 103.7,930.7 103.9,929.0 104.1,927.1 104.3,926.4 104.5,924.6 104.7,922.7 104.9,921.3 105.1,919.1 105.3,917.9 105.5,916.5 105.7,914.9 105.9,912.9 106.0,911.6 106.2,910.1 106.4,908.1 106.6,907.4 106.7,905.1 106.9,903.1 107.1,902.0 107.2,900.9 107.4,898.4 107.5,897.8 107.7,895.9 107.8,894.1 108.0,892.6 108.1,891.3 108.3,888.9 108.4,887.6 108.6,885.9 108.7,884.6 108.9,882.7 109.0,881.1 109.2,879.5 109.3,878.1 109.5,876.6 109.7,874.6 109.8,873.2 110.0,871.6 110.1,870.2 110.3,868.8 110.5,866.6 110.7,864.9 110.8,863.4 111.0,861.9 111.2,860.6 111.4,858.7 111.6,857.4 111.8,855.6 112.0,854.4 112.2,852.4 112.4,851.2 112.6,849.4 112.8,847.1 113.1,845.9 113.3,844.2 113.6,842.5 113.8,841.2 114.1,839.2 114.3,838.2 114.6,836.9 114.9,835.3 115.2,833.3 115.5,831.8 115.8,829.8 116.1,828.6 116.5,826.7 116.8,825.3 117.2,823.7 117.5,822.3 117.9,820.5 118.3,819.5 118.7,817.3 119.1,816.2 119.5,814.4 119.9,812.7 120.4,811.6 120.8,809.8 121.3,807.9 121.8,806.9 122.3,804.8 122.8,803.6 123.3,801.7 123.8,800.7 124.4,798.3 125.0,797.2 125.6,796.0 126.2,794.8 126.8,792.9 127.5,792.1 128.2,790.2 128.9,788.8 129.6,786.9 130.3,786.4 131.1,784.5 131.8,783.2 132.6,782.1 133.5,781.0 134.3,779.3 135.2,778.3 136.1,776.7 137.0,775.4 137.9,774.3 138.9,773.6 139.9,772.0 140.9,770.4 141.9,769.6 142.9,768.5 144.0,767.0 145.1,766.1 146.2,765.0 147.3,763.3 148.5,762.9 149.7,761.2 150.8,760.7 152.0,759.3 153.3,758.4 154.5,757.5 155.7,756.4 157.0,755.7 158.3,754.8 159.6,754.3 160.9,752.6 162.2,751.9 163.5,751.1 164.9,750.0 166.3,749.1 167.6,748.4 169.0,747.7 170.4,747.5 171.8,745.6 173.2,745.3 174.6,744.2 176.1,744.6 177.5,743.2 179.0,742.8 180.4,741.3 181.9,741.4 183.3,740.7 184.8,740.2 186.3,739.8 187.8,739.0 189.3,738.8 190.8,737.8 192.3,736.9 193.8,736.9 195.3,736.4 196.8,735.5 198.4,735.3 199.9,734.8 201.4,734.1 203.0,733.6 204.5,734.0 206.0,733.2 207.6,732.9 209.2,732.7 210.7,731.6 212.3,731.5 213.8,731.4 215.4,731.3 217.0,730.7 218.5,730.3 220.1,730.0 221.7,729.7 223.3,729.6 224.9,728.6 226.5,729.4 228.0,728.3 229.6,728.3 231.2,728.2 232.8,727.5 234.4,727.3 236.0,727.3 237.6,727.0 239.2,727.0 240.8,726.6 242.4,726.6 244.0,726.4 245.6,725.8 247.2,725.8 248.8,725.7 250.4,725.1 252.0,724.8 253.6,724.9 255.2,724.7 256.8,724.3 258.4,724.1 260.0,724.8 261.6,724.2 263.2,723.9 264.8,724.2 266.4,724.0 268.0,723.3 269.6,723.8 271.2,722.7 272.8,722.2 274.4,722.4 276.0,722.7 277.6,722.4 279.2,722.9 280.8,722.6 282.4,721.9 284.0,721.4 285.6,721.2 287.2,721.6 288.8,720.9 290.4,721.1 292.0,720.8 293.6,720.9 295.2,721.3 296.9,720.5 298.5,720.9 300.1,720.1 301.7,719.6 303.3,720.2 304.9,718.8 306.5,719.8 308.1,719.3 309.7,719.2 311.3,718.8 312.9,719.1 314.5,718.6 316.1,718.5 317.7,718.7 319.3,718.9 320.9,718.5 322.5,718.4 324.1,717.8 325.7,718.2 327.3,717.9 328.9,717.9 330.5,717.7 332.1,717.3 333.7,717.5 335.3,716.9 336.9,717.5 338.5,717.7 340.1,717.4 341.7,716.4 343.3,716.6 344.9,716.8 346.5,716.5 348.1,716.5 349.6,716.6 351.2,716.0 352.8,716.4 354.4,716.3 356.0,716.3 357.6,715.6 359.2,716.0 360.8,715.8 362.4,716.0 364.0,715.1 365.6,715.3 367.2,715.2 368.8,715.6 370.4,715.0 372.0,714.7 373.6,714.9 375.2,715.3 376.8,715.6 378.4,715.3 380.0,715.1 381.6,714.4 383.2,714.8 384.8,714.7 386.4,714.8 388.0,714.5 389.6,714.6 391.2,714.1 392.8,714.3 394.4,714.1 396.0,714.6 397.6,713.5 399.2,713.6 400.8,714.1 402.4,713.8 404.0,714.5 405.6,714.0 407.2,713.8 408.8,713.5 410.4,713.8 412.0,713.9 413.6,713.5 415.2,713.6 416.8,713.6 418.4,712.6 420.0,712.8 421.6,713.6 423.2,713.5 424.8,713.4 426.4,713.3 428.0,713.4 429.6,713.0 431.2,713.0 432.8,713.3 434.4,712.7 436.0,713.0 437.6,713.1 439.2,712.7 440.8,713.4 442.4,713.1 444.0,712.9 445.6,712.6 447.2,713.2 448.8,712.6 450.4,713.3 452.0,713.3 453.6,712.6 455.2,713.0 456.8,713.4 458.4,712.9 460.0,712.6 461.6,712.9 463.2,712.6 464.8,712.7 466.4,712.2 468.0,712.4 469.6,712.6 471.2,712.5 472.8,712.4 474.4,712.2 476.0,712.2 477.6,712.6 479.2,712.4 480.8,712.6 482.4,712.3 484.0,712.2 485.6,712.1 487.2,712.6 488.8,712.2 490.4,712.1 492.0,712.6 493.6,712.1 495.2,712.5 496.8,712.7 498.3,712.7 499.9,711.7 501.5,712.1 503.1,712.3 504.7,712.2 506.3,712.1 507.9,712.7 509.5,712.0 511.1,711.7 512.7,712.0 514.3,711.9 515.9,712.1 517.5,712.0 519.1,712.0 520.7,711.7 522.3,712.8 523.9,712.1 525.5,711.9 527.1,712.0 528.7,711.9 530.3,712.4 531.9,712.0 533.5,711.8 535.1,712.3 536.7,712.1 538.3,712.8 539.9,711.7 541.5,711.5 543.1,712.3 544.7,712.1 546.3,712.6 547.9,712.1 549.5,712.5 551.1,711.9 552.7,712.4 554.3,711.8 555.9,711.5 557.5,711.9 559.1,712.0 560.7,712.6 562.3,712.2 563.9,712.4 565.5,712.4 567.1,711.7 568.7,712.5 570.3,712.2 571.9,712.4 573.5,712.4 575.1,712.2 576.7,712.5 578.3,712.0 579.9,711.9 581.5,712.6 583.1,712.1 584.7,712.3 586.3,712.5 587.9,712.7 589.5,712.1 591.1,712.2 592.7,712.7 594.3,712.3 595.9,712.6 597.5,712.5 599.1,712.4 600.7,712.5 602.3,712.4 603.9,712.3 605.6,713.0 607.2,712.7 608.8,712.3 610.4,712.3 612.0,712.1 613.6,712.5 615.2,712.2 616.8,712.5 618.4,712.3 620.0,712.1 621.6,712.3 623.2,712.5 624.8,712.7 626.4,712.6 628.0,712.5 629.6,712.7 631.2,712.6 632.8,713.2 634.4,712.6 636.0,712.5 637.6,712.7 639.2,712.6 640.8,712.6 642.4,712.4 644.0,712.2 645.6,712.9 647.2,712.1 648.8,712.3 650.4,712.8 652.0,712.9 653.6,712.6 655.2,712.4 656.8,712.5 658.4,712.6 660.0,712.5 661.6,712.3 663.2,712.5 664.8,712.4 666.4,712.6 668.0,712.5 669.7,712.3 671.3,712.9 672.9,712.2 674.5,712.2 676.1,712.9 677.7,712.6 679.3,712.5 680.9,712.2 682.5,712.0 684.1,712.3 685.7,711.6 687.3,712.8 688.9,712.5 690.5,712.0 692.1,712.1 693.7,712.7 695.3,712.3 696.9,712.8 698.5,712.5 700.1,712.4 701.7,712.8 703.3,712.6 704.9,712.4 706.6,712.0 708.2,713.0 709.8,712.3 711.4,712.1 713.0,712.3 714.6,712.3 716.2,712.3 717.8,712.6 719.4,712.2 721.0,712.3 722.6,712.2 724.2,712.1 725.8,712.4 727.4,711.4 729.0,711.1 730.6,712.0 732.3,711.5 733.9,711.4 735.5,712.0 737.1,711.7 738.7,711.8 740.3,711.8 741.9,711.5 743.5,711.9 745.1,711.6 746.7,711.4 748.3,711.4 749.9,711.9 751.5,711.5 752.0,711.6" fill="none" stroke="#00AEEF" stroke-width="2.2" stroke-linejoin="round" stroke-linecap="round" />
<polyline points="36.6,710.0 37.9,709.7 39.3,709.3 40.6,709.0 42.0,709.0 43.2,709.3 44.4,709.8 45.7,710.5 46.9,711.1 48.0,711.5 49.4,711.8 50.7,712.0 52.0,712.0 53.3,711.6 54.6,710.8 55.9,710.2 56.9,710.0 57.7,710.8 58.4,712.0 59.2,712.7 60.1,713.5 61.1,714.3 62.0,715.3 62.8,716.4 63.3,717.3 63.7,718.3 64.0,719.4 64.3,720.6 64.6,721.8 64.8,723.1 65.1,724.3 65.3,725.6 65.6,726.9 65.8,728.2 66.0,729.4 66.2,730.5 66.4,731.6 66.6,732.8 66.8,733.9 67.0,735.1 67.2,736.3 67.4,737.6 67.5,738.9 67.7,740.2 67.8,741.6 68.0,743.0 68.1,744.0 68.2,745.0 68.3,746.1 68.4,747.2 68.5,748.3 68.6,749.4 68.7,750.6 68.8,751.8 68.8,753.0 68.9,754.2 69.0,755.4 69.1,756.6 69.2,757.9 69.2,759.2 69.3,760.4 69.4,761.7 69.5,763.0 69.6,764.3 69.6,765.7 69.7,767.0 69.8,768.3 69.9,769.7 70.0,771.0 70.0,772.3 70.1,773.7 70.2,775.0 70.3,776.1 70.3,777.2 70.4,778.3 70.5,779.4 70.6,780.5 70.6,781.6 70.7,782.7 70.8,783.8 70.8,784.9 70.9,786.0 71.0,787.1 71.0,788.2 71.1,789.3 71.2,790.4 71.2,791.6 71.3,792.7 71.4,793.8 71.4,795.0 71.5,796.1 71.6,797.3 71.6,798.5 71.7,799.7 71.8,800.9 71.9,802.2 71.9,803.4 72.0,804.7 72.1,806.0 72.2,807.3 72.2,808.6 72.3,809.9 72.4,811.3 72.5,812.7 72.6,814.1 72.6,815.5 72.7,817.0 72.8,818.5 72.9,820.0 73.0,820.9 73.0,821.8 73.1,822.7 73.1,823.7 73.2,824.7 73.2,825.6 73.3,826.6 73.3,827.6 73.4,828.7 73.4,829.7 73.5,830.8 73.6,831.8 73.6,832.9 73.7,834.0 73.7,835.1 73.8,836.2 73.9,837.3 73.9,838.5 74.0,839.6 74.0,840.8 74.1,841.9 74.2,843.1 74.2,844.3 74.3,845.5 74.4,846.7 74.4,847.9 74.5,849.2 74.5,850.4 74.6,851.7 74.7,852.9 74.7,854.2 74.8,855.4 74.9,856.7 74.9,858.0 75.0,859.3 75.1,860.6 75.1,861.9 75.2,863.2 75.3,864.5 75.3,865.8 75.4,867.1 75.5,868.4 75.5,869.8 75.6,871.1 75.7,872.4 75.8,873.8 75.8,875.1 75.9,876.5 76.0,877.8 76.0,879.1 76.1,880.5 76.2,881.8 76.3,883.2 76.3,884.5 76.4,885.9 76.5,887.2 76.5,888.6 76.6,889.9 76.7,891.3 76.8,892.6 76.8,894.0 76.9,895.3 77.0,896.7 77.0,898.0 77.1,899.4 77.2,900.7 77.3,902.0 77.3,903.4 77.4,904.7 77.5,906.0 77.6,907.3 77.6,908.6 77.7,909.9 77.8,911.2 77.9,912.5 77.9,913.8 78.0,915.1 78.1,916.4 78.2,917.6 78.2,918.9 78.3,920.1 78.4,921.4 78.5,922.6 78.5,923.9 78.6,925.1 78.7,926.3 78.7,927.5 78.8,928.7 78.9,929.9 79.0,931.0 79.0,932.2 79.1,933.3 79.2,934.5 79.3,935.6 79.3,936.7 79.4,937.8 79.5,938.9 79.6,940.0 79.6,941.1 79.7,942.1 79.8,943.1 79.9,944.2 79.9,945.2 80.0,946.2 80.1,947.2 80.2,948.1 80.2,949.1 80.3,950.0 80.4,951.5 80.5,952.9 80.7,954.4 80.8,955.8 80.9,957.2 81.0,958.5 81.1,959.9 81.2,961.2 81.4,962.5 81.5,963.8 81.6,965.1 81.7,966.3 81.8,967.6 82.0,968.8 82.1,970.0 82.2,971.2 82.3,972.4 82.4,973.6 82.6,974.7 82.7,975.9 82.8,977.0 82.9,978.2 83.1,979.3 83.2,980.5 83.3,981.6 83.4,982.7 83.5,983.8 83.7,984.9 83.8,986.1 83.9,987.2 84.0,988.3 84.2,989.4 84.3,990.5 84.4,991.6 84.5,992.8 84.7,993.9 84.8,995.0 84.9,996.2 85.0,997.3 85.2,998.5 85.3,999.6 85.4,1000.8 85.5,1002.0 85.7,1003.3 85.8,1004.6 85.9,1005.9 86.0,1007.2 86.1,1008.6 86.3,1009.9 86.4,1011.3 86.5,1012.7 86.6,1014.1 86.7,1015.5 86.9,1016.8 87.0,1018.2 87.1,1019.6 87.2,1021.0 87.3,1022.4 87.4,1023.7 87.6,1025.1 87.7,1026.4 87.8,1027.8 87.9,1029.1 88.1,1030.4 88.2,1031.6 88.3,1032.9 88.5,1034.1 88.6,1035.3 88.7,1036.4 88.9,1037.5 89.0,1038.6 89.2,1039.7 89.3,1040.7 89.5,1041.6 89.6,1042.6 89.8,1043.4 90.0,1044.2 90.1,1045.0 90.3,1045.7 90.5,1046.4 91.1,1048.0 91.7,1049.3 92.3,1050.4 92.9,1051.4 93.5,1052.5 94.1,1051.3 94.7,1050.3 95.3,1049.1 95.9,1047.9 96.5,1046.4 96.8,1045.5 97.1,1044.6 97.3,1043.6 97.6,1042.5 97.8,1041.4 98.1,1040.2 98.3,1039.0 98.5,1037.8 98.8,1036.5 99.0,1035.2 99.2,1033.9 99.5,1032.6 99.7,1031.3 99.9,1030.0 100.1,1028.7 100.4,1027.4 100.6,1026.1 100.8,1025.0 101.0,1023.8 101.2,1022.7 101.4,1021.5 101.6,1020.3 101.8,1019.1 102.0,1018.0 102.2,1016.8 102.4,1015.6 102.6,1014.4 102.7,1013.2 102.9,1012.0 103.1,1010.7 103.3,1009.5 103.5,1008.3 103.7,1007.0 103.9,1005.8 104.1,1004.6 104.3,1003.3 104.5,1002.1 104.7,1000.8 104.9,999.6 105.1,998.4 105.3,997.2 105.5,995.9 105.7,994.6 105.9,993.3 106.1,992.0 106.3,990.7 106.5,989.4 106.8,988.0 107.0,986.7 107.2,985.4 107.4,984.1 107.6,982.8 107.8,981.5 108.0,980.2 108.2,979.0 108.4,977.7 108.6,976.6 108.8,975.4 109.0,974.3 109.2,973.2 109.4,972.2 109.5,971.2 109.7,970.3 110.0,968.8 110.2,967.5 110.5,966.3 110.7,965.1 110.9,964.0 111.2,962.8 111.4,961.5 111.7,960.0 111.9,959.1 112.0,958.1 112.2,957.1 112.4,956.0 112.6,954.9 112.8,953.7 113.0,952.5 113.2,951.3 113.4,950.1 113.6,948.8 113.9,947.5 114.1,946.2 114.3,944.9 114.5,943.5 114.7,942.2 115.0,940.9 115.2,939.6 115.4,938.3 115.6,937.0 115.8,935.7 116.1,934.5 116.3,933.3 116.5,932.1 116.7,931.0 116.9,929.9 117.2,928.6 117.4,927.3 117.6,926.0 117.9,924.7 118.1,923.5 118.4,922.3 118.6,921.1 118.9,919.9 119.1,918.8 119.4,917.6 119.6,916.4 119.8,915.2 120.1,914.1 120.3,912.9 120.6,911.7 120.8,910.5 121.0,909.3 121.3,908.1 121.5,906.8 121.8,905.6 122.0,904.4 122.2,903.2 122.5,901.9 122.7,900.7 123.0,899.5 123.2,898.3 123.4,897.1 123.7,895.9 123.9,894.7 124.1,893.5 124.4,892.3 124.6,891.1 124.8,889.9 125.1,888.6 125.3,887.4 125.5,886.2 125.8,885.0 126.0,883.8 126.2,882.6 126.5,881.4 126.7,880.2 126.9,879.0 127.2,877.8 127.4,876.6 127.6,875.5 127.9,874.3 128.2,873.1 128.4,871.8 128.7,870.6 129.0,869.4 129.3,868.1 129.6,866.9 129.9,865.7 130.2,864.5 130.5,863.3 130.8,862.1 131.1,861.0 131.4,859.9 131.7,858.8 132.1,857.5 132.4,856.3 132.8,855.2 133.1,854.0 133.5,852.9 133.9,851.8 134.2,850.7 134.6,849.5 135.0,848.4 135.4,847.2 135.8,846.0 136.2,844.8 136.5,843.6 137.0,842.4 137.4,841.2 137.8,840.1 138.3,839.1 138.9,838.1 139.7,837.1 140.5,836.3 141.4,835.5 142.3,834.8 143.2,833.9 144.0,832.9 144.6,832.0 145.1,831.0 145.6,829.9 146.0,828.8 146.5,827.7 146.9,826.4 147.4,825.2 147.8,823.9 148.2,822.6 148.7,821.3 149.2,820.0 149.6,818.9 150.0,817.7 150.3,816.5 150.7,814.9 151.1,814.1 151.4,812.7 151.8,810.4 152.2,809.9 152.6,808.3 153.0,807.4 153.4,805.2 153.8,804.1 154.3,803.2 154.8,802.5 155.3,801.0 155.9,799.4 156.5,799.0 157.5,799.3 158.6,798.6 159.8,797.6 161.0,797.6 162.2,796.5 163.3,796.3 164.4,795.8 165.3,795.9 166.1,794.4 166.7,792.8 167.2,792.1 167.6,790.7 168.1,790.4 168.6,789.0 169.1,787.7 169.8,786.0 170.5,785.9 171.3,784.9 172.1,782.7 172.9,782.6 173.8,782.0 174.7,781.0 175.7,780.1 176.6,779.4 177.6,778.9 178.6,778.1 179.6,776.9 180.7,775.6 181.8,774.2 182.9,774.2 184.0,774.0 185.2,773.7 186.3,774.0 187.5,772.7 188.6,770.9 189.7,771.2 190.7,769.8 191.7,769.0 192.7,768.5 193.8,768.5 194.8,767.1 195.8,766.8 196.8,765.6 197.8,764.7 198.8,764.3 199.8,764.7 200.8,763.2 201.9,763.3 203.0,763.1 204.0,762.8 205.0,761.8 206.1,761.9 207.2,761.3 208.5,760.1 210.0,760.1 210.8,759.9 211.6,760.9 212.5,759.1 213.4,758.8 214.3,759.4 215.3,759.1 216.3,758.5 217.3,757.6 218.3,756.1 219.4,758.4 220.5,756.9 221.7,757.0 222.8,756.1 224.0,755.5 225.2,755.4 226.5,756.1 227.7,755.4 228.9,755.9 230.2,753.8 231.5,753.6 232.8,753.5 234.1,753.6 235.4,753.5 236.7,751.9 238.1,752.0 239.4,751.2 240.7,750.8 242.1,751.4 243.4,750.6 244.7,750.6 246.0,750.6 247.4,750.1 248.7,750.5 250.0,749.7 251.1,749.0 252.2,748.4 253.3,748.5 254.4,748.7 255.5,748.1 256.6,747.2 257.7,747.4 258.9,746.9 260.0,748.2 261.2,747.5 262.3,746.1 263.5,746.5 264.7,746.8 265.9,746.4 267.1,745.8 268.3,744.4 269.4,746.3 270.7,744.9 271.9,745.8 273.1,745.6 274.3,744.6 275.5,744.6 276.7,744.6 278.0,744.2 279.2,744.1 280.4,743.9 281.7,744.8 282.9,744.2 284.1,742.9 285.4,742.7 286.6,743.4 287.9,743.4 289.1,742.7 290.3,741.4 291.6,743.3 292.8,741.6 294.1,742.2 295.3,741.7 296.6,741.5 297.8,741.1 299.0,741.0 300.3,741.8 301.5,742.3 302.7,741.1 303.9,741.1 305.2,741.1 306.4,741.0 307.6,740.2 308.8,740.8 310.0,740.0 311.2,739.7 312.4,738.1 313.6,739.6 314.8,738.6 316.0,739.5 317.2,739.3 318.4,738.3 319.6,738.8 320.8,738.5 322.0,738.2 323.2,738.6 324.4,738.4 325.6,737.7 326.8,736.9 328.0,738.0 329.2,736.8 330.4,737.0 331.6,737.2 332.8,737.4 334.0,737.2 335.2,736.5 336.4,736.9 337.6,736.6 338.8,737.3 340.0,736.3 341.2,735.9 342.4,735.1 343.6,735.6 344.8,735.0 346.0,734.4 347.2,734.8 348.4,735.7 349.6,735.6 350.8,734.9 352.0,734.2 353.2,734.3 354.4,733.7 355.6,734.7 356.8,734.6 358.0,733.8 359.2,733.8 360.4,733.8 361.6,733.3 362.8,733.8 364.0,732.9 365.2,733.1 366.4,733.9 367.6,732.8 368.8,733.3 370.0,733.5 371.2,733.2 372.4,733.3 373.6,732.8 374.8,733.2 376.0,732.5 377.3,731.8 378.5,732.3 379.7,732.1 381.0,731.3 382.2,732.4 383.4,732.5 384.7,731.3 385.9,731.4 387.1,731.7 388.4,731.5 389.6,732.4 390.9,731.4 392.1,731.8 393.3,730.9 394.6,731.3 395.8,731.7 397.0,731.0 398.3,730.0 399.5,731.5 400.7,731.5 402.0,731.7 403.2,731.8 404.4,730.6 405.7,730.5 406.9,729.9 408.1,731.2 409.3,730.9 410.5,730.7 411.7,731.8 412.9,730.7 414.1,730.7 415.3,730.4 416.4,730.9 417.6,730.3 418.8,731.0 419.9,731.4 421.1,730.2 422.2,731.0 423.4,729.3 424.5,730.3 425.6,730.2 426.7,730.1 427.8,730.6 428.9,731.4 430.0,730.9 431.3,730.4 432.6,729.8 433.9,729.3 435.1,729.7 436.3,729.3 437.5,729.0 438.6,729.5 439.7,730.0 440.9,728.5 442.0,729.8 443.1,729.2 444.2,730.2 445.3,728.4 446.3,729.3 447.4,727.9 448.5,728.0 449.6,728.4 450.7,728.4 451.8,728.6 453.0,727.4 454.1,727.8 455.3,727.7 456.4,727.8 457.7,728.1 458.9,728.5 460.1,726.7 461.4,727.6 462.8,727.3 464.1,727.4 465.5,727.6 467.0,727.4 468.5,726.1 470.0,727.5 470.9,727.1 471.7,726.5 472.6,727.3 473.5,726.9 474.4,725.6 475.4,726.9 476.3,727.6 477.2,726.7 478.2,726.2 479.2,727.2 480.1,726.3 481.1,727.1 482.1,727.2 483.1,726.6 484.1,725.7 485.2,727.0 486.2,726.7 487.2,726.2 488.3,726.9 489.3,726.4 490.4,725.2 491.5,726.6 492.6,726.0 493.7,725.9 494.8,727.1 495.9,726.0 497.0,726.2 498.1,725.7 499.3,725.9 500.4,726.2 501.6,726.3 502.7,726.8 503.9,726.7 505.1,725.6 506.2,726.0 507.4,726.0 508.6,725.9 509.8,725.8 511.0,726.7 512.2,726.2 513.5,726.3 514.7,726.2 515.9,725.8 517.1,725.2 518.4,725.7 519.6,725.8 520.9,726.2 522.1,725.5 523.4,725.7 524.6,725.6 525.9,725.5 527.2,726.6 528.4,726.5 529.7,726.6 531.0,726.6 532.3,725.2 533.6,726.6 534.8,725.6 536.1,726.1 537.4,725.5 538.7,725.6 540.0,724.9 541.3,724.4 542.6,725.4 544.0,725.6 545.3,725.8 546.6,725.7 547.9,726.0 549.2,725.9 550.5,725.7 551.8,725.4 553.2,725.5 554.5,726.5 555.8,725.3 557.1,725.4 558.4,725.9 559.8,725.5 561.1,725.7 562.4,726.1 563.7,725.4 565.0,724.8 566.4,725.9 567.7,724.2 569.0,726.0 570.3,725.2 571.6,725.2 572.9,725.4 574.3,724.7 575.6,724.6 576.9,724.3 578.2,725.2 579.5,725.0 580.8,724.1 582.1,725.6 583.4,725.0 584.7,725.8 586.0,725.5 587.3,725.5 588.6,725.7 589.9,725.0 591.1,725.5 592.4,725.5 593.7,725.1 595.0,726.1 596.2,725.9 597.5,725.6 598.7,725.1 600.0,725.0 601.2,725.2 602.3,725.2 603.5,725.7 604.6,725.2 605.8,725.1 607.0,725.0 608.2,724.9 609.3,725.7 610.5,724.9 611.7,724.8 612.8,725.6 614.0,724.5 615.2,724.1 616.4,725.3 617.5,725.4 618.7,725.2 619.9,724.4 621.1,724.6 622.3,723.8 623.5,724.6 624.6,724.7 625.8,724.4 627.0,724.9 628.2,724.9 629.4,724.5 630.6,725.1 631.8,724.4 633.0,724.6 634.2,725.2 635.4,725.4 636.6,723.6 637.8,724.2 639.0,723.7 640.2,724.3 641.4,724.3 642.6,724.4 643.8,723.4 645.0,724.3 646.2,723.7 647.4,723.5 648.6,724.0 649.8,723.9 651.0,724.3 652.2,723.6 653.4,724.6 654.6,723.6 655.8,723.4 657.0,723.2 658.2,723.7 659.5,724.9 660.7,723.8 661.9,723.2 663.1,723.1 664.3,723.7 665.5,723.0 666.7,725.1 668.0,723.5 669.2,723.2 670.4,723.8 671.6,723.0 672.8,723.1 674.0,723.2 675.3,723.1 676.5,723.5 677.7,723.3 678.9,723.2 680.1,724.0 681.4,722.1 682.6,723.8 683.8,722.7 685.0,723.9 686.2,723.3 687.5,722.3 688.7,722.5 689.9,723.0 691.1,722.3 692.3,722.7 693.6,723.9 694.8,722.7 696.0,723.1 697.2,722.8 698.4,723.0 699.7,723.0 700.9,723.5 702.1,723.8 703.3,723.3 704.6,721.6 705.8,722.3 707.0,723.5 708.2,723.0 709.4,722.9 710.7,723.1 711.9,722.3 713.1,722.1 714.3,722.2 715.6,722.6 716.8,722.7 718.0,723.1 719.2,722.8 720.4,722.3 721.7,722.9 722.9,722.0 724.1,722.6 725.3,722.2 726.5,722.3 727.7,722.0 729.0,722.4 730.2,721.6 731.4,721.9 732.6,722.3 733.8,722.5 735.0,721.6 736.3,722.6 737.5,722.6 738.7,722.4 739.9,722.4 741.1,722.5 742.3,721.8 743.5,721.0 744.7,721.4 746.0,722.4 747.2,721.6 748.4,722.6 749.6,722.3 750.8,721.5 752.0,722.4" fill="none" stroke="#231F20" stroke-width="4.6" stroke-linejoin="round" stroke-linecap="round" />
<path d="M29,688 H67.3 V651.4 H86.8 V688 H751" fill="none" stroke="#231F20" stroke-width="4.4" stroke-linecap="round" stroke-linejoin="miter"/>
<line x1="643" y1="752.1" x2="739.5" y2="752.1" stroke="#231F20" stroke-width="4.2" stroke-linecap="round"/>
<text x="-1.5" y="41.3" font-family="Liberation Sans" font-size="55.0" font-weight="bold" fill="#231F20" text-anchor="start" textLength="25.3" lengthAdjust="spacingAndGlyphs" >a</text>
<text x="760.3" y="41.3" font-family="Liberation Sans" font-size="56.0" font-weight="bold" fill="#231F20" text-anchor="start" textLength="33.2" lengthAdjust="spacingAndGlyphs" >b</text>
<text x="-2.3" y="595.0" font-family="Liberation Sans" font-size="55.0" font-weight="bold" fill="#231F20" text-anchor="start" textLength="25.0" lengthAdjust="spacingAndGlyphs" >c</text>
<text x="9.0" y="80.8" font-family="Liberation Sans" font-size="32.7" font-weight="normal" fill="#231F20" text-anchor="start" textLength="92.0" lengthAdjust="spacingAndGlyphs" >pH 4.5</text>
<text x="351.0" y="116.9" font-family="Liberation Sans" font-size="32.7" font-weight="normal" fill="#231F20" text-anchor="start" textLength="92.5" lengthAdjust="spacingAndGlyphs" >pH 7.4</text>
<text x="1053.5" y="81.0" font-family="Liberation Sans" font-size="32.7" font-weight="normal" fill="#231F20" text-anchor="start" textLength="92.0" lengthAdjust="spacingAndGlyphs" >pH 4.5</text>
<text x="1404.0" y="116.9" font-family="Liberation Sans" font-size="32.7" font-weight="normal" fill="#231F20" text-anchor="start" textLength="92.5" lengthAdjust="spacingAndGlyphs" >pH 7.4</text>
<text x="593.5" y="282.7" font-family="Liberation Sans" font-size="32.7" font-weight="normal" fill="#231F20" text-anchor="start" textLength="115.0" lengthAdjust="spacingAndGlyphs" >100 ms</text>
<text x="1362.0" y="328.1" font-family="Liberation Sans" font-size="32.7" font-weight="normal" fill="#231F20" text-anchor="start" textLength="41.0" lengthAdjust="spacingAndGlyphs" >5 s</text>
<text x="50.0" y="633.9" font-family="Liberation Sans" font-size="32.7" font-weight="normal" fill="#231F20" text-anchor="start" textLength="110.0" lengthAdjust="spacingAndGlyphs" >Agonist</text>
<text x="634.0" y="787.2" font-family="Liberation Sans" font-size="31.0" font-weight="normal" fill="#231F20" text-anchor="start" textLength="115.0" lengthAdjust="spacingAndGlyphs" >100 ms</text>
<text x="276.5" y="400.7" font-family="Liberation Sans" font-size="30.0" font-weight="normal" fill="#231F20" text-anchor="start" textLength="185.0" lengthAdjust="spacingAndGlyphs" >GLIC&#8211;<tspan font-family="Liberation Serif" font-size="1.18em">&#945;</tspan>1-GlyR</text>
<text x="276.5" y="467.0" font-family="Liberation Sans" font-size="30.0" font-weight="normal" fill="#231F20" text-anchor="start" textLength="389.0" lengthAdjust="spacingAndGlyphs" >GLIC&#8211;<tspan font-family="Liberation Serif" font-size="1.18em">&#945;</tspan>1-GlyR loop-C deleted</text>
<text x="1100.9" y="400.7" font-family="Liberation Sans" font-size="30.0" font-weight="normal" fill="#231F20" text-anchor="start" textLength="185.0" lengthAdjust="spacingAndGlyphs" >GLIC&#8211;<tspan font-family="Liberation Serif" font-size="1.18em">&#945;</tspan>1-GlyR</text>
<text x="1100.9" y="467.0" font-family="Liberation Sans" font-size="30.0" font-weight="normal" fill="#231F20" text-anchor="start" textLength="389.0" lengthAdjust="spacingAndGlyphs" >GLIC&#8211;<tspan font-family="Liberation Serif" font-size="1.18em">&#945;</tspan>1-GlyR loop-C deleted</text>
<text x="537.5" y="815.7" font-family="Liberation Sans" font-size="27.0" font-weight="normal" fill="#231F20" text-anchor="start" textLength="114.0" lengthAdjust="spacingAndGlyphs" >Averaged</text>
<text x="362.5" y="842.5" font-family="Liberation Sans" font-size="27.0" font-weight="normal" fill="#231F20" text-anchor="start" textLength="117.0" lengthAdjust="spacingAndGlyphs" >Construct</text>
<text x="533.5" y="842.5" font-family="Liberation Sans" font-size="27.0" font-weight="normal" fill="#231F20" text-anchor="start" textLength="122.0" lengthAdjust="spacingAndGlyphs" >responses</text>
<text x="681.5" y="842.5" font-family="Liberation Sans" font-size="27.0" font-weight="normal" fill="#231F20" text-anchor="start" textLength="57.5" lengthAdjust="spacingAndGlyphs" >Cells</text>
<line x1="362.3" y1="846.6" x2="480.0" y2="846.6" stroke="#231F20" stroke-width="1.7"/>
<line x1="538.8" y1="819.4" x2="652.4" y2="819.4" stroke="#231F20" stroke-width="1.7"/>
<line x1="534.7" y1="846.6" x2="656.0" y2="846.6" stroke="#231F20" stroke-width="1.7"/>
<line x1="682.2" y1="846.6" x2="738.5" y2="846.6" stroke="#231F20" stroke-width="1.7"/>
<text x="336.8" y="888.9" font-family="Liberation Sans" font-size="27.0" font-weight="normal" fill="#231F20" text-anchor="start" textLength="168.0" lengthAdjust="spacingAndGlyphs" >GLIC&#8211;<tspan font-family="Liberation Serif" font-size="1.18em">&#945;</tspan>1-GlyR</text>
<text x="592.0" y="888.9" font-family="Liberation Sans" font-size="27.0" font-weight="normal" fill="#231F20" text-anchor="middle" >77</text>
<text x="710.0" y="888.9" font-family="Liberation Sans" font-size="27.0" font-weight="normal" fill="#231F20" text-anchor="middle" >6</text>
<text x="374.0" y="926.5" font-family="Liberation Sans" font-size="27.0" font-weight="normal" fill="#29ABE2" text-anchor="start" textLength="105.0" lengthAdjust="spacingAndGlyphs" ><tspan font-family="Liberation Serif" font-size="1.18em">&#945;</tspan>7 AChR</text>
<text x="592.0" y="926.5" font-family="Liberation Sans" font-size="27.0" font-weight="normal" fill="#29ABE2" text-anchor="middle" >221</text>
<text x="710.0" y="926.5" font-family="Liberation Sans" font-size="27.0" font-weight="normal" fill="#29ABE2" text-anchor="middle" >21</text>
<text x="355.8" y="963.2" font-family="Liberation Sans" font-size="27.0" font-weight="normal" fill="#2E3192" text-anchor="start" textLength="137.0" lengthAdjust="spacingAndGlyphs" ><tspan font-family="Liberation Serif" font-size="1.18em">&#945;</tspan>3<tspan font-family="Liberation Serif" font-size="1.12em">&#946;</tspan>4 AChR</text>
<text x="592.0" y="963.2" font-family="Liberation Sans" font-size="27.0" font-weight="normal" fill="#2E3192" text-anchor="middle" >94</text>
<text x="710.0" y="963.2" font-family="Liberation Sans" font-size="27.0" font-weight="normal" fill="#2E3192" text-anchor="middle" >12</text>
<text x="340.5" y="1000.0" font-family="Liberation Sans" font-size="27.0" font-weight="normal" fill="#ED1C24" text-anchor="start" textLength="166.0" lengthAdjust="spacingAndGlyphs" ><tspan font-family="Liberation Serif" font-size="1.18em">&#945;</tspan>1<tspan font-family="Liberation Serif" font-size="1.12em">&#946;</tspan>1<tspan font-family="Liberation Serif" font-size="1.12em">&#948;</tspan><tspan font-family="Liberation Serif" font-size="1.15em">&#949;</tspan> AChR</text>
<text x="592.0" y="1000.0" font-family="Liberation Sans" font-size="27.0" font-weight="normal" fill="#ED1C24" text-anchor="middle" >95</text>
<text x="710.0" y="1000.0" font-family="Liberation Sans" font-size="27.0" font-weight="normal" fill="#ED1C24" text-anchor="middle" >12</text>
<text x="316.8" y="1037.2" font-family="Liberation Sans" font-size="27.0" font-weight="normal" fill="#F7941D" text-anchor="start" textLength="208.0" lengthAdjust="spacingAndGlyphs" ><tspan font-family="Liberation Serif" font-size="1.18em">&#945;</tspan>1<tspan font-family="Liberation Serif" font-size="1.12em">&#946;</tspan>2<tspan font-family="Liberation Serif" font-size="1.15em">&#947;</tspan>2L GABA<tspan font-size="17">A</tspan>R</text>
<text x="592.0" y="1037.2" font-family="Liberation Sans" font-size="27.0" font-weight="normal" fill="#F7941D" text-anchor="middle" >128</text>
<text x="710.0" y="1037.2" font-family="Liberation Sans" font-size="27.0" font-weight="normal" fill="#F7941D" text-anchor="middle" >19</text>
<text x="316.8" y="1074.2" font-family="Liberation Sans" font-size="27.0" font-weight="normal" fill="#8B5E3C" text-anchor="start" textLength="208.0" lengthAdjust="spacingAndGlyphs" ><tspan font-family="Liberation Serif" font-size="1.18em">&#945;</tspan>1<tspan font-family="Liberation Serif" font-size="1.12em">&#946;</tspan>3<tspan font-family="Liberation Serif" font-size="1.15em">&#947;</tspan>2L GABA<tspan font-size="17">A</tspan>R</text>
<text x="592.0" y="1074.2" font-family="Liberation Sans" font-size="27.0" font-weight="normal" fill="#8B5E3C" text-anchor="middle" >61</text>
<text x="710.0" y="1074.2" font-family="Liberation Sans" font-size="27.0" font-weight="normal" fill="#8B5E3C" text-anchor="middle" >10</text>
</svg></body></html>
